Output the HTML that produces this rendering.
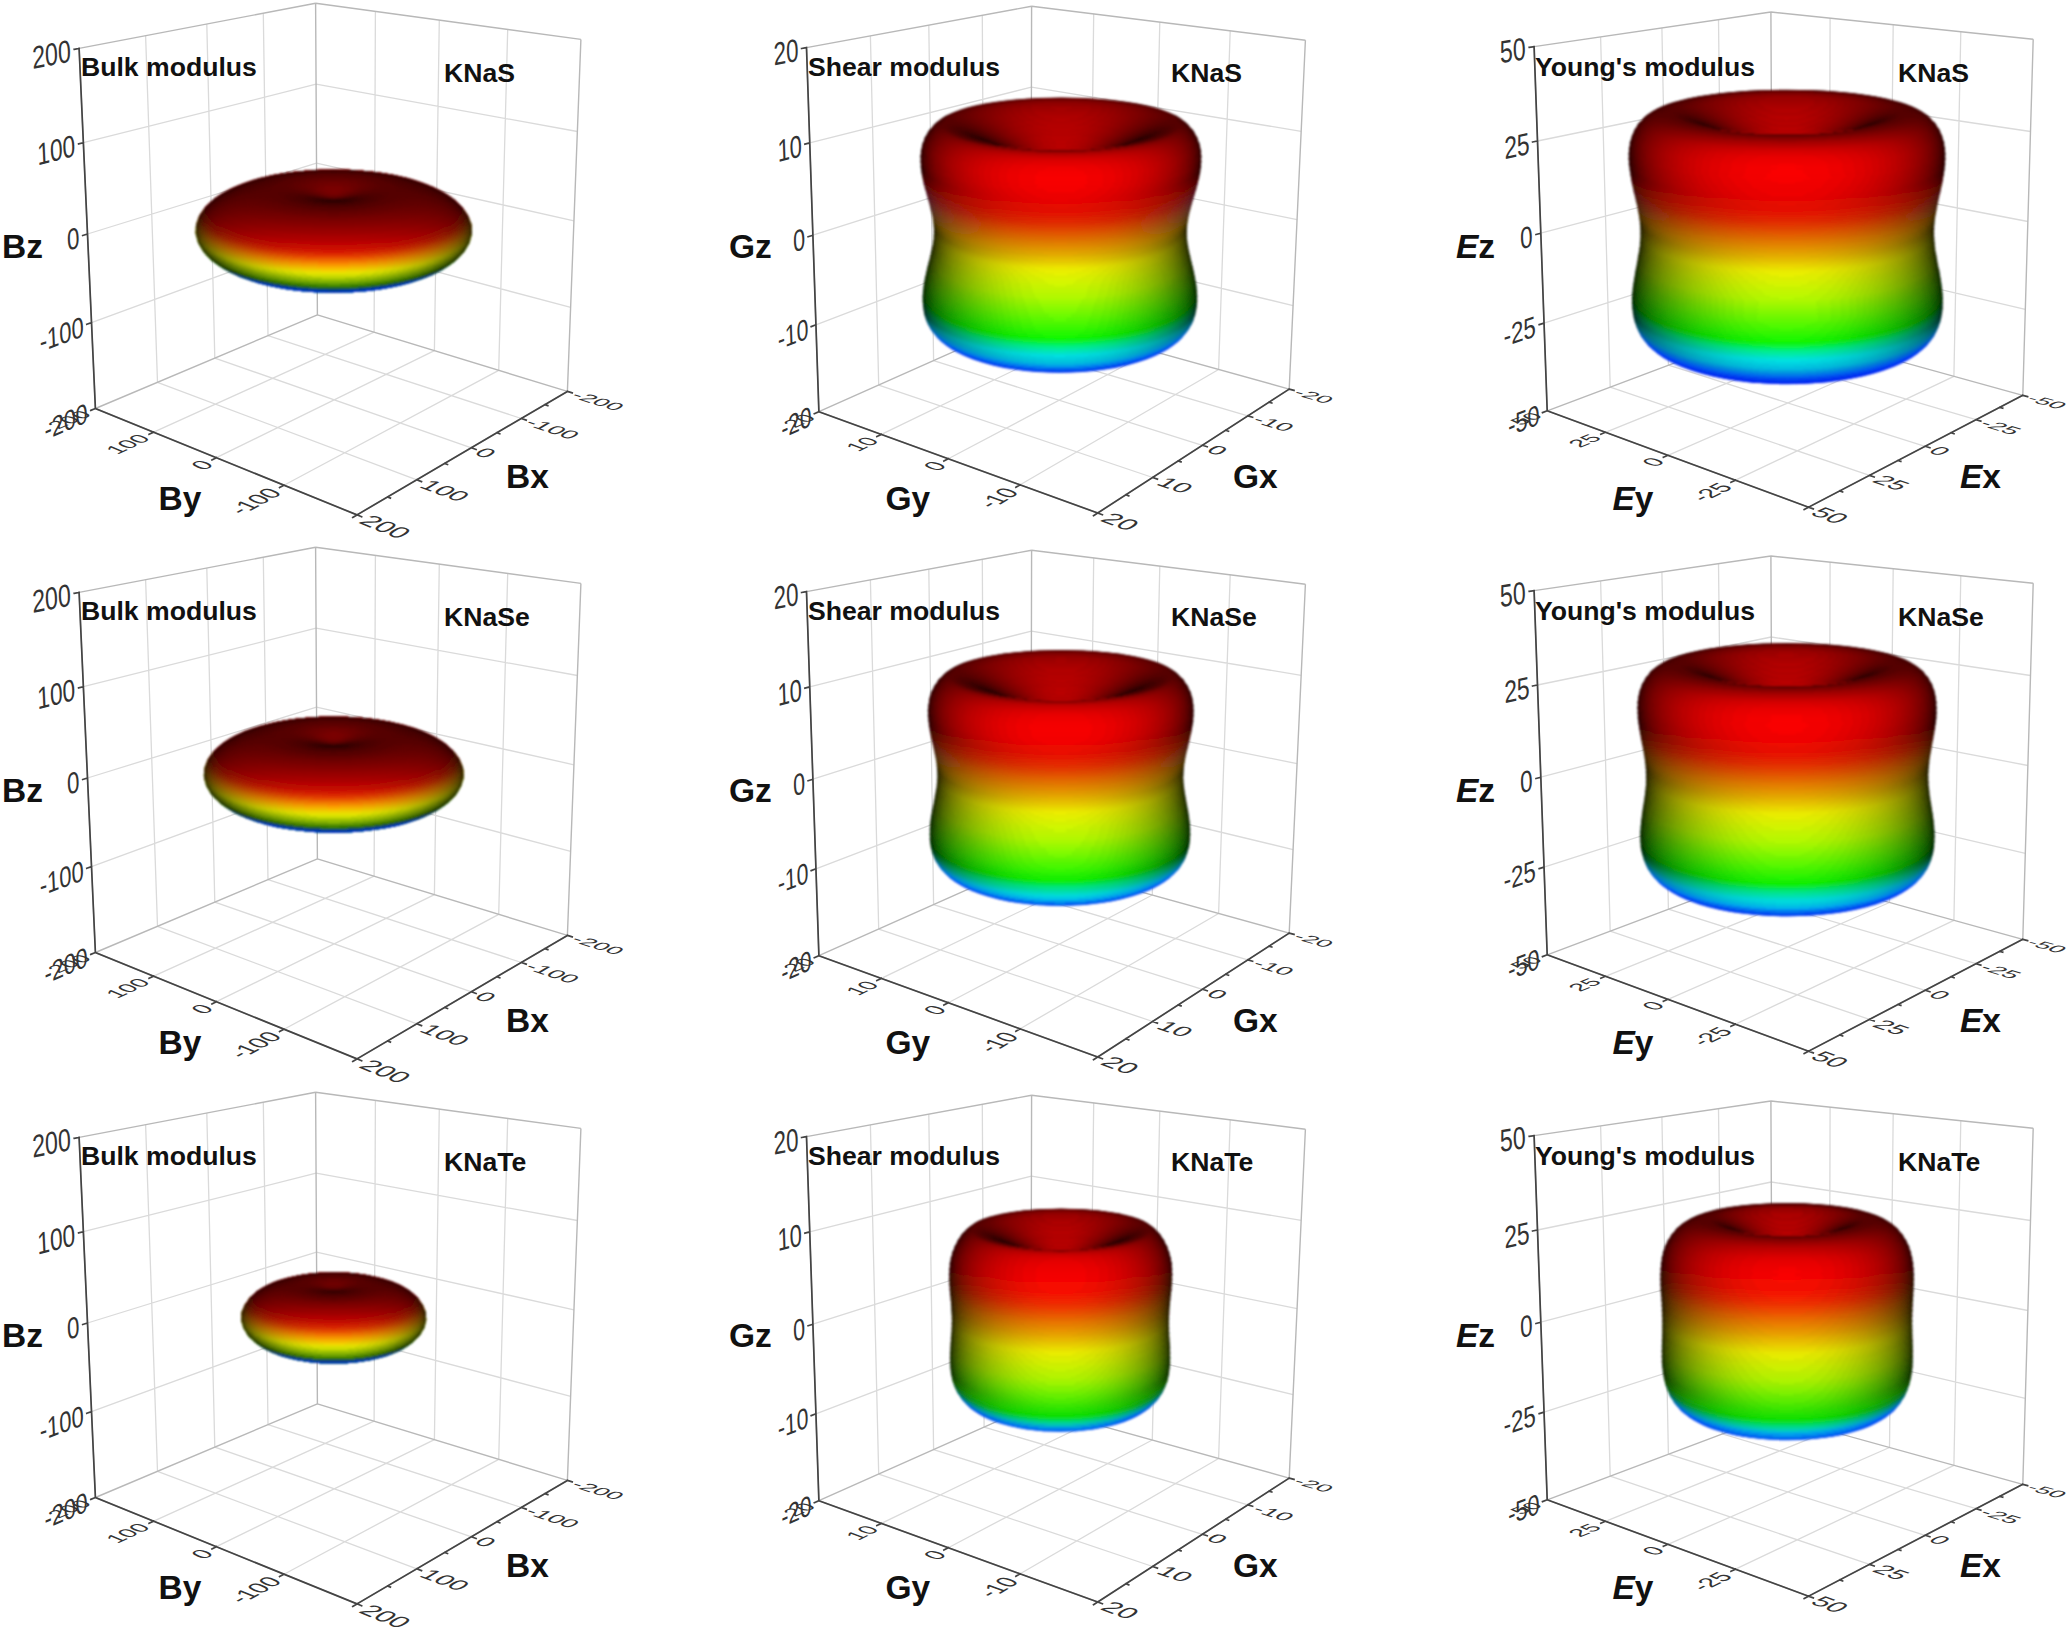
<!DOCTYPE html><html><head><meta charset="utf-8"><title>Elastic moduli</title><style>html,body{margin:0;padding:0;background:#fff}svg{display:block}.r stop{stop-color:#0028ff}</style></head><body><svg width="2070" height="1636" viewBox="0 0 2070 1636" font-family='"Liberation Sans",sans-serif' fill="#111"><defs><filter id="bl" x="-5%" y="-5%" width="110%" height="110%"><feGaussianBlur stdDeviation="1"/></filter><linearGradient id="s-13" x2="0" y2="1"><stop offset="0" stop-opacity="0.95"/><stop offset="1" stop-opacity="0.95"/></linearGradient><linearGradient id="s-12" x2="0" y2="1"><stop offset="0" stop-opacity="0.95"/><stop offset="1" stop-opacity="0.95"/></linearGradient><linearGradient id="s-11" x2="0" y2="1"><stop offset="0" stop-opacity="0.95"/><stop offset="1" stop-opacity="0.95"/></linearGradient><linearGradient id="s-10" x2="0" y2="1"><stop offset="0" stop-opacity="0.95"/><stop offset="1" stop-opacity="0.95"/></linearGradient><linearGradient id="s-9" x2="0" y2="1"><stop offset="0" stop-opacity="0.95"/><stop offset="1" stop-opacity="0.95"/></linearGradient><linearGradient id="s-8" x2="0" y2="1"><stop offset="0" stop-opacity="0.95"/><stop offset="0.97" stop-opacity="0.95"/><stop offset="1" stop-opacity="0.933"/></linearGradient><linearGradient id="s-7" x2="0" y2="1"><stop offset="0" stop-opacity="0.95"/><stop offset="0.932" stop-opacity="0.95"/><stop offset="1" stop-opacity="0.909"/></linearGradient><linearGradient id="s-6" x2="0" y2="1"><stop offset="0" stop-opacity="0.95"/><stop offset="0.898" stop-opacity="0.95"/><stop offset="1" stop-opacity="0.884"/></linearGradient><linearGradient id="s-5" x2="0" y2="1"><stop offset="0" stop-opacity="0.95"/><stop offset="0.869" stop-opacity="0.95"/><stop offset="1" stop-opacity="0.859"/></linearGradient><linearGradient id="s-4" x2="0" y2="1"><stop offset="0" stop-opacity="0.95"/><stop offset="0.843" stop-opacity="0.95"/><stop offset="1" stop-opacity="0.834"/></linearGradient><linearGradient id="s-3" x2="0" y2="1"><stop offset="0" stop-opacity="0.95"/><stop offset="0.82" stop-opacity="0.95"/><stop offset="1" stop-opacity="0.81"/></linearGradient><linearGradient id="s-2" x2="0" y2="1"><stop offset="0" stop-opacity="0.95"/><stop offset="0.8" stop-opacity="0.95"/><stop offset="1" stop-opacity="0.785"/></linearGradient><linearGradient id="s-1" x2="0" y2="1"><stop offset="0" stop-opacity="0.95"/><stop offset="0.782" stop-opacity="0.95"/><stop offset="1" stop-opacity="0.761"/></linearGradient><linearGradient id="s0" x2="0" y2="1"><stop offset="0" stop-opacity="0.95"/><stop offset="0.765" stop-opacity="0.95"/><stop offset="1" stop-opacity="0.736"/></linearGradient><linearGradient id="s1" x2="0" y2="1"><stop offset="0" stop-opacity="0.95"/><stop offset="0.749" stop-opacity="0.95"/><stop offset="1" stop-opacity="0.712"/></linearGradient><linearGradient id="s2" x2="0" y2="1"><stop offset="0" stop-opacity="0.95"/><stop offset="0.735" stop-opacity="0.95"/><stop offset="1" stop-opacity="0.688"/></linearGradient><linearGradient id="s3" x2="0" y2="1"><stop offset="0" stop-opacity="0.95"/><stop offset="0.722" stop-opacity="0.95"/><stop offset="1" stop-opacity="0.664"/></linearGradient><linearGradient id="s4" x2="0" y2="1"><stop offset="0" stop-opacity="0.95"/><stop offset="0.71" stop-opacity="0.95"/><stop offset="1" stop-opacity="0.641"/></linearGradient><linearGradient id="s5" x2="0" y2="1"><stop offset="0" stop-opacity="0.95"/><stop offset="0.699" stop-opacity="0.95"/><stop offset="1" stop-opacity="0.617"/></linearGradient><linearGradient id="s6" x2="0" y2="1"><stop offset="0" stop-opacity="0.95"/><stop offset="0.689" stop-opacity="0.95"/><stop offset="1" stop-opacity="0.594"/></linearGradient><linearGradient id="s7" x2="0" y2="1"><stop offset="0" stop-opacity="0.95"/><stop offset="0.679" stop-opacity="0.95"/><stop offset="1" stop-opacity="0.571"/></linearGradient><linearGradient id="s8" x2="0" y2="1"><stop offset="0" stop-opacity="0.95"/><stop offset="0.67" stop-opacity="0.95"/><stop offset="1" stop-opacity="0.549"/></linearGradient><linearGradient id="s9" x2="0" y2="1"><stop offset="0" stop-opacity="0.95"/><stop offset="0.661" stop-opacity="0.95"/><stop offset="1" stop-opacity="0.526"/></linearGradient><linearGradient id="s10" x2="0" y2="1"><stop offset="0" stop-opacity="0.95"/><stop offset="0.653" stop-opacity="0.95"/><stop offset="1" stop-opacity="0.504"/></linearGradient><linearGradient id="s12" x2="0" y2="1"><stop offset="0" stop-opacity="0.95"/><stop offset="0.638" stop-opacity="0.95"/><stop offset="1" stop-opacity="0.461"/></linearGradient><linearGradient id="s13" x2="0" y2="1"><stop offset="0" stop-opacity="0.95"/><stop offset="0.631" stop-opacity="0.95"/><stop offset="1" stop-opacity="0.44"/></linearGradient><linearGradient id="s14" x2="0" y2="1"><stop offset="0" stop-opacity="0.95"/><stop offset="0.624" stop-opacity="0.95"/><stop offset="1" stop-opacity="0.419"/></linearGradient><linearGradient id="s15" x2="0" y2="1"><stop offset="0" stop-opacity="0.95"/><stop offset="0.617" stop-opacity="0.95"/><stop offset="1" stop-opacity="0.398"/></linearGradient><linearGradient id="s16" x2="0" y2="1"><stop offset="0" stop-opacity="0.95"/><stop offset="0.611" stop-opacity="0.95"/><stop offset="1" stop-opacity="0.378"/></linearGradient><linearGradient id="s17" x2="0" y2="1"><stop offset="0" stop-opacity="0.95"/><stop offset="0.605" stop-opacity="0.95"/><stop offset="1" stop-opacity="0.359"/></linearGradient><linearGradient id="s18" x2="0" y2="1"><stop offset="0" stop-opacity="0.95"/><stop offset="0.599" stop-opacity="0.95"/><stop offset="1" stop-opacity="0.339"/></linearGradient><linearGradient id="s19" x2="0" y2="1"><stop offset="0" stop-opacity="0.95"/><stop offset="0.594" stop-opacity="0.95"/><stop offset="1" stop-opacity="0.321"/></linearGradient><linearGradient id="s20" x2="0" y2="1"><stop offset="0" stop-opacity="0.95"/><stop offset="0.588" stop-opacity="0.95"/><stop offset="1" stop-opacity="0.302"/></linearGradient><linearGradient id="s21" x2="0" y2="1"><stop offset="0" stop-opacity="0.95"/><stop offset="0.583" stop-opacity="0.95"/><stop offset="1" stop-opacity="0.284"/></linearGradient><linearGradient id="s22" x2="0" y2="1"><stop offset="0" stop-opacity="0.95"/><stop offset="0.578" stop-opacity="0.95"/><stop offset="1" stop-opacity="0.267"/></linearGradient><linearGradient id="s23" x2="0" y2="1"><stop offset="0" stop-opacity="0.95"/><stop offset="0.573" stop-opacity="0.95"/><stop offset="1" stop-opacity="0.25"/></linearGradient><linearGradient id="s24" x2="0" y2="1"><stop offset="0" stop-opacity="0.95"/><stop offset="0.568" stop-opacity="0.95"/><stop offset="1" stop-opacity="0.233"/></linearGradient><linearGradient id="s25" x2="0" y2="1"><stop offset="0" stop-opacity="0.95"/><stop offset="0.563" stop-opacity="0.95"/><stop offset="1" stop-opacity="0.217"/></linearGradient><linearGradient id="s26" x2="0" y2="1"><stop offset="0" stop-opacity="0.95"/><stop offset="0.559" stop-opacity="0.95"/><stop offset="1" stop-opacity="0.201"/></linearGradient><linearGradient id="s27" x2="0" y2="1"><stop offset="0" stop-opacity="0.95"/><stop offset="0.554" stop-opacity="0.95"/><stop offset="1" stop-opacity="0.186"/></linearGradient><linearGradient id="s28" x2="0" y2="1"><stop offset="0" stop-opacity="0.95"/><stop offset="0.55" stop-opacity="0.95"/><stop offset="1" stop-opacity="0.172"/></linearGradient><linearGradient id="s29" x2="0" y2="1"><stop offset="0" stop-opacity="0.95"/><stop offset="0.545" stop-opacity="0.95"/><stop offset="1" stop-opacity="0.158"/></linearGradient><linearGradient id="s30" x2="0" y2="1"><stop offset="0" stop-opacity="0.95"/><stop offset="0.541" stop-opacity="0.95"/><stop offset="1" stop-opacity="0.144"/></linearGradient><linearGradient id="s31" x2="0" y2="1"><stop offset="0" stop-opacity="0.95"/><stop offset="0.537" stop-opacity="0.95"/><stop offset="1" stop-opacity="0.131"/></linearGradient><linearGradient id="s32" x2="0" y2="1"><stop offset="0" stop-opacity="0.95"/><stop offset="0.532" stop-opacity="0.95"/><stop offset="1" stop-opacity="0.119"/></linearGradient><linearGradient id="s33" x2="0" y2="1"><stop offset="0" stop-opacity="0.95"/><stop offset="0.528" stop-opacity="0.95"/><stop offset="1" stop-opacity="0.107"/></linearGradient><linearGradient id="s34" x2="0" y2="1"><stop offset="0" stop-opacity="0.95"/><stop offset="0.524" stop-opacity="0.95"/><stop offset="1" stop-opacity="0.096"/></linearGradient><linearGradient id="s35" x2="0" y2="1"><stop offset="0" stop-opacity="0.95"/><stop offset="0.52" stop-opacity="0.95"/><stop offset="1" stop-opacity="0.086"/></linearGradient><linearGradient id="s36" x2="0" y2="1"><stop offset="0" stop-opacity="0.95"/><stop offset="0.516" stop-opacity="0.95"/><stop offset="1" stop-opacity="0.076"/></linearGradient><linearGradient id="s37" x2="0" y2="1"><stop offset="0" stop-opacity="0.95"/><stop offset="0.512" stop-opacity="0.95"/><stop offset="1" stop-opacity="0.066"/></linearGradient><linearGradient id="s38" x2="0" y2="1"><stop offset="0" stop-opacity="0.95"/><stop offset="0.508" stop-opacity="0.95"/><stop offset="1" stop-opacity="0.057"/></linearGradient><linearGradient id="s39" x2="0" y2="1"><stop offset="0" stop-opacity="0.95"/><stop offset="0.504" stop-opacity="0.95"/><stop offset="1" stop-opacity="0.049"/></linearGradient><linearGradient id="s40" x2="0" y2="1"><stop offset="0" stop-opacity="0.95"/><stop offset="0.5" stop-opacity="0.95"/><stop offset="1" stop-opacity="0.042"/></linearGradient><linearGradient id="s41" x2="0" y2="1"><stop offset="0" stop-opacity="0.95"/><stop offset="0.496" stop-opacity="0.95"/><stop offset="1" stop-opacity="0.035"/></linearGradient><linearGradient id="s42" x2="0" y2="1"><stop offset="0" stop-opacity="0.95"/><stop offset="0.492" stop-opacity="0.95"/><stop offset="1" stop-opacity="0.028"/></linearGradient><linearGradient id="s43" x2="0" y2="1"><stop offset="0" stop-opacity="0.95"/><stop offset="0.488" stop-opacity="0.95"/><stop offset="1" stop-opacity="0.023"/></linearGradient><linearGradient id="s44" x2="0" y2="1"><stop offset="0" stop-opacity="0.95"/><stop offset="0.484" stop-opacity="0.95"/><stop offset="1" stop-opacity="0.017"/></linearGradient><linearGradient id="s45" x2="0" y2="1"><stop offset="0" stop-opacity="0.95"/><stop offset="0.48" stop-opacity="0.95"/><stop offset="1" stop-opacity="0.013"/></linearGradient><linearGradient id="s46" x2="0" y2="1"><stop offset="0" stop-opacity="0.95"/><stop offset="0.476" stop-opacity="0.95"/><stop offset="1" stop-opacity="0.009"/></linearGradient><linearGradient id="s47" x2="0" y2="1"><stop offset="0" stop-opacity="0.95"/><stop offset="0.472" stop-opacity="0.95"/><stop offset="1" stop-opacity="0.006"/></linearGradient><linearGradient id="s48" x2="0" y2="1"><stop offset="0" stop-opacity="0.95"/><stop offset="0.468" stop-opacity="0.95"/><stop offset="1" stop-opacity="0.004"/></linearGradient><linearGradient id="s49" x2="0" y2="1"><stop offset="0" stop-opacity="0.95"/><stop offset="0.463" stop-opacity="0.95"/><stop offset="1" stop-opacity="0.002"/></linearGradient><linearGradient id="s50" x2="0" y2="1"><stop offset="0" stop-opacity="0.95"/><stop offset="0.459" stop-opacity="0.95"/><stop offset="1" stop-opacity="0.001"/></linearGradient><linearGradient id="s51" x2="0" y2="1"><stop offset="0" stop-opacity="0.95"/><stop offset="0.455" stop-opacity="0.95"/><stop offset="1" stop-opacity="0"/></linearGradient><linearGradient id="s52" x2="0" y2="1"><stop offset="0" stop-opacity="0.95"/><stop offset="0.45" stop-opacity="0.95"/><stop offset="1" stop-opacity="0"/></linearGradient><linearGradient id="s53" x2="0" y2="1"><stop offset="0" stop-opacity="0.95"/><stop offset="0.446" stop-opacity="0.95"/><stop offset="1" stop-opacity="0.001"/></linearGradient><linearGradient id="s54" x2="0" y2="1"><stop offset="0" stop-opacity="0.95"/><stop offset="0.441" stop-opacity="0.95"/><stop offset="1" stop-opacity="0.002"/></linearGradient><linearGradient id="s55" x2="0" y2="1"><stop offset="0" stop-opacity="0.95"/><stop offset="0.437" stop-opacity="0.95"/><stop offset="1" stop-opacity="0.004"/></linearGradient><linearGradient id="s56" x2="0" y2="1"><stop offset="0" stop-opacity="0.95"/><stop offset="0.432" stop-opacity="0.95"/><stop offset="1" stop-opacity="0.007"/></linearGradient><linearGradient id="s57" x2="0" y2="1"><stop offset="0" stop-opacity="0.95"/><stop offset="0.427" stop-opacity="0.95"/><stop offset="1" stop-opacity="0.01"/></linearGradient><linearGradient id="s58" x2="0" y2="1"><stop offset="0" stop-opacity="0.95"/><stop offset="0.422" stop-opacity="0.95"/><stop offset="1" stop-opacity="0.014"/></linearGradient><linearGradient id="s59" x2="0" y2="1"><stop offset="0" stop-opacity="0.95"/><stop offset="0.417" stop-opacity="0.95"/><stop offset="1" stop-opacity="0.019"/></linearGradient><linearGradient id="s60" x2="0" y2="1"><stop offset="0" stop-opacity="0.95"/><stop offset="0.412" stop-opacity="0.95"/><stop offset="1" stop-opacity="0.024"/></linearGradient><linearGradient id="s61" x2="0" y2="1"><stop offset="0" stop-opacity="0.95"/><stop offset="0.406" stop-opacity="0.95"/><stop offset="1" stop-opacity="0.03"/></linearGradient><linearGradient id="s62" x2="0" y2="1"><stop offset="0" stop-opacity="0.95"/><stop offset="0.401" stop-opacity="0.95"/><stop offset="1" stop-opacity="0.037"/></linearGradient><linearGradient id="s63" x2="0" y2="1"><stop offset="0" stop-opacity="0.95"/><stop offset="0.395" stop-opacity="0.95"/><stop offset="1" stop-opacity="0.044"/></linearGradient><linearGradient id="s64" x2="0" y2="1"><stop offset="0" stop-opacity="0.95"/><stop offset="0.389" stop-opacity="0.95"/><stop offset="1" stop-opacity="0.052"/></linearGradient><linearGradient id="s65" x2="0" y2="1"><stop offset="0" stop-opacity="0.95"/><stop offset="0.383" stop-opacity="0.95"/><stop offset="1" stop-opacity="0.06"/></linearGradient><linearGradient id="s66" x2="0" y2="1"><stop offset="0" stop-opacity="0.95"/><stop offset="0.376" stop-opacity="0.95"/><stop offset="1" stop-opacity="0.069"/></linearGradient><linearGradient id="s67" x2="0" y2="1"><stop offset="0" stop-opacity="0.95"/><stop offset="0.369" stop-opacity="0.95"/><stop offset="1" stop-opacity="0.079"/></linearGradient><linearGradient id="s68" x2="0" y2="1"><stop offset="0" stop-opacity="0.95"/><stop offset="0.362" stop-opacity="0.95"/><stop offset="1" stop-opacity="0.089"/></linearGradient><linearGradient id="s69" x2="0" y2="1"><stop offset="0" stop-opacity="0.95"/><stop offset="0.355" stop-opacity="0.95"/><stop offset="1" stop-opacity="0.1"/></linearGradient><linearGradient id="s70" x2="0" y2="1"><stop offset="0" stop-opacity="0.95"/><stop offset="0.347" stop-opacity="0.95"/><stop offset="1" stop-opacity="0.111"/></linearGradient><linearGradient id="s71" x2="0" y2="1"><stop offset="0" stop-opacity="0.95"/><stop offset="0.339" stop-opacity="0.95"/><stop offset="1" stop-opacity="0.123"/></linearGradient><linearGradient id="s72" x2="0" y2="1"><stop offset="0" stop-opacity="0.95"/><stop offset="0.33" stop-opacity="0.95"/><stop offset="1" stop-opacity="0.136"/></linearGradient><linearGradient id="s73" x2="0" y2="1"><stop offset="0" stop-opacity="0.95"/><stop offset="0.321" stop-opacity="0.95"/><stop offset="1" stop-opacity="0.149"/></linearGradient><linearGradient id="s74" x2="0" y2="1"><stop offset="0" stop-opacity="0.95"/><stop offset="0.311" stop-opacity="0.95"/><stop offset="1" stop-opacity="0.162"/></linearGradient><linearGradient id="s75" x2="0" y2="1"><stop offset="0" stop-opacity="0.95"/><stop offset="0.301" stop-opacity="0.95"/><stop offset="1" stop-opacity="0.177"/></linearGradient><linearGradient id="s76" x2="0" y2="1"><stop offset="0" stop-opacity="0.95"/><stop offset="0.29" stop-opacity="0.95"/><stop offset="1" stop-opacity="0.191"/></linearGradient><linearGradient id="s78" x2="0" y2="1"><stop offset="0" stop-opacity="0.95"/><stop offset="0.265" stop-opacity="0.95"/><stop offset="1" stop-opacity="0.222"/></linearGradient><linearGradient id="s79" x2="0" y2="1"><stop offset="0" stop-opacity="0.95"/><stop offset="0.251" stop-opacity="0.95"/><stop offset="1" stop-opacity="0.238"/></linearGradient><linearGradient id="s80" x2="0" y2="1"><stop offset="0" stop-opacity="0.95"/><stop offset="0.235" stop-opacity="0.95"/><stop offset="1" stop-opacity="0.255"/></linearGradient><linearGradient id="s81" x2="0" y2="1"><stop offset="0" stop-opacity="0.95"/><stop offset="0.218" stop-opacity="0.95"/><stop offset="1" stop-opacity="0.272"/></linearGradient><linearGradient id="s82" x2="0" y2="1"><stop offset="0" stop-opacity="0.95"/><stop offset="0.2" stop-opacity="0.95"/><stop offset="1" stop-opacity="0.29"/></linearGradient><linearGradient id="s83" x2="0" y2="1"><stop offset="0" stop-opacity="0.95"/><stop offset="0.18" stop-opacity="0.95"/><stop offset="1" stop-opacity="0.308"/></linearGradient><linearGradient id="s84" x2="0" y2="1"><stop offset="0" stop-opacity="0.95"/><stop offset="0.157" stop-opacity="0.95"/><stop offset="1" stop-opacity="0.327"/></linearGradient><linearGradient id="s85" x2="0" y2="1"><stop offset="0" stop-opacity="0.95"/><stop offset="0.131" stop-opacity="0.95"/><stop offset="1" stop-opacity="0.346"/></linearGradient><linearGradient id="s86" x2="0" y2="1"><stop offset="0" stop-opacity="0.95"/><stop offset="0.102" stop-opacity="0.95"/><stop offset="1" stop-opacity="0.365"/></linearGradient><linearGradient id="s87" x2="0" y2="1"><stop offset="0" stop-opacity="0.95"/><stop offset="0.068" stop-opacity="0.95"/><stop offset="1" stop-opacity="0.385"/></linearGradient><linearGradient id="s88" x2="0" y2="1"><stop offset="0" stop-opacity="0.95"/><stop offset="0.03" stop-opacity="0.95"/><stop offset="1" stop-opacity="0.405"/></linearGradient><linearGradient id="s89" x2="0" y2="1"><stop offset="0" stop-opacity="0.942"/><stop offset="1" stop-opacity="0.426"/></linearGradient><linearGradient id="s90" x2="0" y2="1"><stop offset="0" stop-opacity="0.917"/><stop offset="1" stop-opacity="0.447"/></linearGradient><linearGradient id="s91" x2="0" y2="1"><stop offset="0" stop-opacity="0.892"/><stop offset="1" stop-opacity="0.468"/></linearGradient><linearGradient id="s92" x2="0" y2="1"><stop offset="0" stop-opacity="0.867"/><stop offset="1" stop-opacity="0.489"/></linearGradient><linearGradient id="s93" x2="0" y2="1"><stop offset="0" stop-opacity="0.842"/><stop offset="1" stop-opacity="0.511"/></linearGradient><linearGradient id="s94" x2="0" y2="1"><stop offset="0" stop-opacity="0.818"/><stop offset="1" stop-opacity="0.534"/></linearGradient><linearGradient id="s95" x2="0" y2="1"><stop offset="0" stop-opacity="0.793"/><stop offset="1" stop-opacity="0.556"/></linearGradient><linearGradient id="s96" x2="0" y2="1"><stop offset="0" stop-opacity="0.769"/><stop offset="1" stop-opacity="0.579"/></linearGradient><linearGradient id="s97" x2="0" y2="1"><stop offset="0" stop-opacity="0.744"/><stop offset="1" stop-opacity="0.602"/></linearGradient><linearGradient id="s98" x2="0" y2="1"><stop offset="0" stop-opacity="0.72"/><stop offset="1" stop-opacity="0.625"/></linearGradient><linearGradient id="s99" x2="0" y2="1"><stop offset="0" stop-opacity="0.696"/><stop offset="1" stop-opacity="0.649"/></linearGradient><linearGradient id="s100" x2="0" y2="1"><stop offset="0" stop-opacity="0.672"/><stop offset="1" stop-opacity="0.672"/></linearGradient><linearGradient id="s101" x2="0" y2="1"><stop offset="0" stop-opacity="0.649"/><stop offset="1" stop-opacity="0.696"/></linearGradient><linearGradient id="s102" x2="0" y2="1"><stop offset="0" stop-opacity="0.625"/><stop offset="1" stop-opacity="0.72"/></linearGradient><linearGradient id="s103" x2="0" y2="1"><stop offset="0" stop-opacity="0.602"/><stop offset="1" stop-opacity="0.744"/></linearGradient><linearGradient id="s104" x2="0" y2="1"><stop offset="0" stop-opacity="0.579"/><stop offset="1" stop-opacity="0.769"/></linearGradient><linearGradient id="s105" x2="0" y2="1"><stop offset="0" stop-opacity="0.556"/><stop offset="1" stop-opacity="0.793"/></linearGradient><linearGradient id="s106" x2="0" y2="1"><stop offset="0" stop-opacity="0.534"/><stop offset="1" stop-opacity="0.818"/></linearGradient><linearGradient id="s107" x2="0" y2="1"><stop offset="0" stop-opacity="0.511"/><stop offset="1" stop-opacity="0.842"/></linearGradient><linearGradient id="s108" x2="0" y2="1"><stop offset="0" stop-opacity="0.489"/><stop offset="1" stop-opacity="0.867"/></linearGradient><linearGradient id="s109" x2="0" y2="1"><stop offset="0" stop-opacity="0.468"/><stop offset="1" stop-opacity="0.892"/></linearGradient><linearGradient id="s110" x2="0" y2="1"><stop offset="0" stop-opacity="0.447"/><stop offset="1" stop-opacity="0.917"/></linearGradient><linearGradient id="s111" x2="0" y2="1"><stop offset="0" stop-opacity="0.426"/><stop offset="1" stop-opacity="0.942"/></linearGradient><linearGradient id="s112" x2="0" y2="1"><stop offset="0" stop-opacity="0.405"/><stop offset="0.97" stop-opacity="0.95"/><stop offset="1" stop-opacity="0.95"/></linearGradient><linearGradient id="s113" x2="0" y2="1"><stop offset="0" stop-opacity="0.385"/><stop offset="0.932" stop-opacity="0.95"/><stop offset="1" stop-opacity="0.95"/></linearGradient><linearGradient id="s114" x2="0" y2="1"><stop offset="0" stop-opacity="0.365"/><stop offset="0.898" stop-opacity="0.95"/><stop offset="1" stop-opacity="0.95"/></linearGradient><linearGradient id="s115" x2="0" y2="1"><stop offset="0" stop-opacity="0.346"/><stop offset="0.869" stop-opacity="0.95"/><stop offset="1" stop-opacity="0.95"/></linearGradient><linearGradient id="s116" x2="0" y2="1"><stop offset="0" stop-opacity="0.327"/><stop offset="0.843" stop-opacity="0.95"/><stop offset="1" stop-opacity="0.95"/></linearGradient><linearGradient id="s117" x2="0" y2="1"><stop offset="0" stop-opacity="0.308"/><stop offset="0.82" stop-opacity="0.95"/><stop offset="1" stop-opacity="0.95"/></linearGradient><linearGradient id="s118" x2="0" y2="1"><stop offset="0" stop-opacity="0.29"/><stop offset="0.8" stop-opacity="0.95"/><stop offset="1" stop-opacity="0.95"/></linearGradient><linearGradient id="s119" x2="0" y2="1"><stop offset="0" stop-opacity="0.272"/><stop offset="0.782" stop-opacity="0.95"/><stop offset="1" stop-opacity="0.95"/></linearGradient><linearGradient id="s120" x2="0" y2="1"><stop offset="0" stop-opacity="0.255"/><stop offset="0.765" stop-opacity="0.95"/><stop offset="1" stop-opacity="0.95"/></linearGradient><linearGradient id="s202" x2="0" y2="1"><stop offset="0" stop-opacity="0.785"/><stop offset="0.2" stop-opacity="0.95"/><stop offset="1" stop-opacity="0.95"/></linearGradient><linearGradient id="s203" x2="0" y2="1"><stop offset="0" stop-opacity="0.81"/><stop offset="0.18" stop-opacity="0.95"/><stop offset="1" stop-opacity="0.95"/></linearGradient><linearGradient id="s204" x2="0" y2="1"><stop offset="0" stop-opacity="0.834"/><stop offset="0.157" stop-opacity="0.95"/><stop offset="1" stop-opacity="0.95"/></linearGradient><linearGradient id="s205" x2="0" y2="1"><stop offset="0" stop-opacity="0.859"/><stop offset="0.131" stop-opacity="0.95"/><stop offset="1" stop-opacity="0.95"/></linearGradient><linearGradient id="s206" x2="0" y2="1"><stop offset="0" stop-opacity="0.884"/><stop offset="0.102" stop-opacity="0.95"/><stop offset="1" stop-opacity="0.95"/></linearGradient><linearGradient id="s207" x2="0" y2="1"><stop offset="0" stop-opacity="0.909"/><stop offset="0.068" stop-opacity="0.95"/><stop offset="1" stop-opacity="0.95"/></linearGradient><linearGradient id="s208" x2="0" y2="1"><stop offset="0" stop-opacity="0.933"/><stop offset="0.03" stop-opacity="0.95"/><stop offset="1" stop-opacity="0.95"/></linearGradient><linearGradient id="s209" x2="0" y2="1"><stop offset="0" stop-opacity="0.95"/><stop offset="1" stop-opacity="0.95"/></linearGradient><linearGradient id="s210" x2="0" y2="1"><stop offset="0" stop-opacity="0.95"/><stop offset="1" stop-opacity="0.95"/></linearGradient><linearGradient id="s211" x2="0" y2="1"><stop offset="0" stop-opacity="0.95"/><stop offset="1" stop-opacity="0.95"/></linearGradient><linearGradient id="s212" x2="0" y2="1"><stop offset="0" stop-opacity="0.95"/><stop offset="1" stop-opacity="0.95"/></linearGradient><linearGradient id="s213" x2="0" y2="1"><stop offset="0" stop-opacity="0.95"/><stop offset="1" stop-opacity="0.95"/></linearGradient><linearGradient id="r-13" class="r" x2="0" y2="1"><stop offset="0" stop-opacity="1"/><stop offset="1" stop-opacity="1"/></linearGradient><linearGradient id="r-12" class="r" x2="0" y2="1"><stop offset="0" stop-opacity="1"/><stop offset="1" stop-opacity="1"/></linearGradient><linearGradient id="r-11" class="r" x2="0" y2="1"><stop offset="0" stop-opacity="1"/><stop offset="1" stop-opacity="1"/></linearGradient><linearGradient id="r-10" class="r" x2="0" y2="1"><stop offset="0" stop-opacity="1"/><stop offset="1" stop-opacity="1"/></linearGradient><linearGradient id="r-9" class="r" x2="0" y2="1"><stop offset="0" stop-opacity="1"/><stop offset="1" stop-opacity="1"/></linearGradient><linearGradient id="r-8" class="r" x2="0" y2="1"><stop offset="0" stop-opacity="1"/><stop offset="0.97" stop-opacity="1"/><stop offset="1" stop-opacity="0.977"/></linearGradient><linearGradient id="r-7" class="r" x2="0" y2="1"><stop offset="0" stop-opacity="1"/><stop offset="0.932" stop-opacity="1"/><stop offset="1" stop-opacity="0.942"/></linearGradient><linearGradient id="r-6" class="r" x2="0" y2="1"><stop offset="0" stop-opacity="1"/><stop offset="0.898" stop-opacity="1"/><stop offset="1" stop-opacity="0.907"/></linearGradient><linearGradient id="r-5" class="r" x2="0" y2="1"><stop offset="0" stop-opacity="1"/><stop offset="0.869" stop-opacity="1"/><stop offset="1" stop-opacity="0.872"/></linearGradient><linearGradient id="r-4" class="r" x2="0" y2="1"><stop offset="0" stop-opacity="1"/><stop offset="0.843" stop-opacity="1"/><stop offset="1" stop-opacity="0.838"/></linearGradient><linearGradient id="r-3" class="r" x2="0" y2="1"><stop offset="0" stop-opacity="1"/><stop offset="0.82" stop-opacity="1"/><stop offset="1" stop-opacity="0.803"/></linearGradient><linearGradient id="r-2" class="r" x2="0" y2="1"><stop offset="0" stop-opacity="1"/><stop offset="0.8" stop-opacity="1"/><stop offset="1" stop-opacity="0.768"/></linearGradient><linearGradient id="r-1" class="r" x2="0" y2="1"><stop offset="0" stop-opacity="1"/><stop offset="0.782" stop-opacity="1"/><stop offset="1" stop-opacity="0.734"/></linearGradient><linearGradient id="r0" class="r" x2="0" y2="1"><stop offset="0" stop-opacity="1"/><stop offset="0.765" stop-opacity="1"/><stop offset="1" stop-opacity="0.7"/></linearGradient><linearGradient id="r1" class="r" x2="0" y2="1"><stop offset="0" stop-opacity="1"/><stop offset="0.749" stop-opacity="1"/><stop offset="1" stop-opacity="0.666"/></linearGradient><linearGradient id="r2" class="r" x2="0" y2="1"><stop offset="0" stop-opacity="1"/><stop offset="0.735" stop-opacity="1"/><stop offset="1" stop-opacity="0.632"/></linearGradient><linearGradient id="r3" class="r" x2="0" y2="1"><stop offset="0" stop-opacity="1"/><stop offset="0.722" stop-opacity="1"/><stop offset="1" stop-opacity="0.599"/></linearGradient><linearGradient id="r4" class="r" x2="0" y2="1"><stop offset="0" stop-opacity="1"/><stop offset="0.71" stop-opacity="1"/><stop offset="1" stop-opacity="0.566"/></linearGradient><linearGradient id="r5" class="r" x2="0" y2="1"><stop offset="0" stop-opacity="1"/><stop offset="0.699" stop-opacity="1"/><stop offset="1" stop-opacity="0.533"/></linearGradient><linearGradient id="r6" class="r" x2="0" y2="1"><stop offset="0" stop-opacity="1"/><stop offset="0.689" stop-opacity="1"/><stop offset="1" stop-opacity="0.501"/></linearGradient><linearGradient id="r7" class="r" x2="0" y2="1"><stop offset="0" stop-opacity="1"/><stop offset="0.679" stop-opacity="1"/><stop offset="1" stop-opacity="0.468"/></linearGradient><linearGradient id="r8" class="r" x2="0" y2="1"><stop offset="0" stop-opacity="1"/><stop offset="0.67" stop-opacity="1"/><stop offset="1" stop-opacity="0.437"/></linearGradient><linearGradient id="r9" class="r" x2="0" y2="1"><stop offset="0" stop-opacity="1"/><stop offset="0.661" stop-opacity="1"/><stop offset="1" stop-opacity="0.405"/></linearGradient><linearGradient id="r10" class="r" x2="0" y2="1"><stop offset="0" stop-opacity="1"/><stop offset="0.653" stop-opacity="1"/><stop offset="1" stop-opacity="0.374"/></linearGradient><linearGradient id="r12" class="r" x2="0" y2="1"><stop offset="0" stop-opacity="1"/><stop offset="0.638" stop-opacity="1"/><stop offset="1" stop-opacity="0.313"/></linearGradient><linearGradient id="r13" class="r" x2="0" y2="1"><stop offset="0" stop-opacity="1"/><stop offset="0.631" stop-opacity="1"/><stop offset="1" stop-opacity="0.284"/></linearGradient><linearGradient id="r14" class="r" x2="0" y2="1"><stop offset="0" stop-opacity="1"/><stop offset="0.624" stop-opacity="1"/><stop offset="1" stop-opacity="0.254"/></linearGradient><linearGradient id="r15" class="r" x2="0" y2="1"><stop offset="0" stop-opacity="1"/><stop offset="0.617" stop-opacity="1"/><stop offset="1" stop-opacity="0.226"/></linearGradient><linearGradient id="r16" class="r" x2="0" y2="1"><stop offset="0" stop-opacity="1"/><stop offset="0.611" stop-opacity="1"/><stop offset="1" stop-opacity="0.198"/></linearGradient><linearGradient id="r17" class="r" x2="0" y2="1"><stop offset="0" stop-opacity="1"/><stop offset="0.605" stop-opacity="1"/><stop offset="1" stop-opacity="0.17"/></linearGradient><linearGradient id="r18" class="r" x2="0" y2="1"><stop offset="0" stop-opacity="1"/><stop offset="0.599" stop-opacity="1"/><stop offset="1" stop-opacity="0.143"/></linearGradient><linearGradient id="r19" class="r" x2="0" y2="1"><stop offset="0" stop-opacity="1"/><stop offset="0.594" stop-opacity="1"/><stop offset="1" stop-opacity="0.117"/></linearGradient><linearGradient id="r20" class="r" x2="0" y2="1"><stop offset="0" stop-opacity="1"/><stop offset="0.588" stop-opacity="1"/><stop offset="1" stop-opacity="0.091"/></linearGradient><linearGradient id="r21" class="r" x2="0" y2="1"><stop offset="0" stop-opacity="1"/><stop offset="0.583" stop-opacity="1"/><stop offset="1" stop-opacity="0.065"/></linearGradient><linearGradient id="r22" class="r" x2="0" y2="1"><stop offset="0" stop-opacity="1"/><stop offset="0.578" stop-opacity="1"/><stop offset="1" stop-opacity="0.041"/></linearGradient><linearGradient id="r23" class="r" x2="0" y2="1"><stop offset="0" stop-opacity="1"/><stop offset="0.573" stop-opacity="1"/><stop offset="1" stop-opacity="0.017"/></linearGradient><linearGradient id="r24" class="r" x2="0" y2="1"><stop offset="0" stop-opacity="1"/><stop offset="0.568" stop-opacity="1"/><stop offset="0.997" stop-opacity="0"/><stop offset="1" stop-opacity="0"/></linearGradient><linearGradient id="r25" class="r" x2="0" y2="1"><stop offset="0" stop-opacity="1"/><stop offset="0.563" stop-opacity="1"/><stop offset="0.988" stop-opacity="0"/><stop offset="1" stop-opacity="0"/></linearGradient><linearGradient id="r26" class="r" x2="0" y2="1"><stop offset="0" stop-opacity="1"/><stop offset="0.559" stop-opacity="1"/><stop offset="0.979" stop-opacity="0"/><stop offset="1" stop-opacity="0"/></linearGradient><linearGradient id="r27" class="r" x2="0" y2="1"><stop offset="0" stop-opacity="1"/><stop offset="0.554" stop-opacity="1"/><stop offset="0.97" stop-opacity="0"/><stop offset="1" stop-opacity="0"/></linearGradient><linearGradient id="r28" class="r" x2="0" y2="1"><stop offset="0" stop-opacity="1"/><stop offset="0.55" stop-opacity="1"/><stop offset="0.962" stop-opacity="0"/><stop offset="1" stop-opacity="0"/></linearGradient><linearGradient id="r29" class="r" x2="0" y2="1"><stop offset="0" stop-opacity="1"/><stop offset="0.545" stop-opacity="1"/><stop offset="0.954" stop-opacity="0"/><stop offset="1" stop-opacity="0"/></linearGradient><linearGradient id="r30" class="r" x2="0" y2="1"><stop offset="0" stop-opacity="1"/><stop offset="0.541" stop-opacity="1"/><stop offset="0.947" stop-opacity="0"/><stop offset="1" stop-opacity="0"/></linearGradient><linearGradient id="r31" class="r" x2="0" y2="1"><stop offset="0" stop-opacity="1"/><stop offset="0.537" stop-opacity="1"/><stop offset="0.94" stop-opacity="0"/><stop offset="1" stop-opacity="0"/></linearGradient><linearGradient id="r32" class="r" x2="0" y2="1"><stop offset="0" stop-opacity="1"/><stop offset="0.532" stop-opacity="1"/><stop offset="0.933" stop-opacity="0"/><stop offset="1" stop-opacity="0"/></linearGradient><linearGradient id="r33" class="r" x2="0" y2="1"><stop offset="0" stop-opacity="1"/><stop offset="0.528" stop-opacity="1"/><stop offset="0.927" stop-opacity="0"/><stop offset="1" stop-opacity="0"/></linearGradient></defs><path d="M268 335.6L263.3 13.2M317 239.9L91.5 322.6M214.8 358.1L206.8 24M316.5 163.1L87.5 234M157.5 382.3L145.6 35.7M316.1 84.2L83.4 142.7M498.7 370.4L507.7 29.4M570.7 307.4L317 239.9M434.4 350.7L439.3 20.1M574 220.8L316.5 163.1M374.1 332.2L375.4 11.3M577.4 131.5L316.1 84.2M521.4 418.5L268 335.6M498.7 370.4L284 485.2M471.4 447.8L214.8 358.1M434.4 350.7L216.4 457.7M416.8 479.8L157.5 382.3M374.1 332.2L153.7 432.2" stroke="#dadada" stroke-width="1.3" fill="none"/><path d="M317.4 314.8L315.6 3.2M317.4 314.8L95.4 408.5M95.4 408.5L79.1 48.4M315.6 3.2L79.1 48.4M567.4 391.4L580.9 39.4M567.4 391.4L317.4 314.8M580.9 39.4L315.6 3.2M567.4 391.4L317.4 314.8M567.4 391.4L357 514.9M357 514.9L95.4 408.5M317.4 314.8L95.4 408.5" stroke="#b8b8b8" stroke-width="1.4" fill="none"/><clipPath id="kc00"><ellipse cx="333.8" cy="257.5" rx="12.1" ry="3.9"/><ellipse cx="333.8" cy="258.4" rx="16.9" ry="5.5"/><ellipse cx="333.8" cy="259.3" rx="21.6" ry="7"/><ellipse cx="333.8" cy="261.9" rx="89.8" ry="29.3"/><ellipse cx="333.8" cy="261" rx="94.7" ry="30.9"/><ellipse cx="333.8" cy="260" rx="99.7" ry="32.4"/><ellipse cx="333.8" cy="258.7" rx="104.7" ry="34"/><ellipse cx="333.8" cy="257.2" rx="109.7" ry="35.5"/><ellipse cx="333.8" cy="255.4" rx="114.6" ry="36.9"/><ellipse cx="333.8" cy="253.1" rx="119.6" ry="38.3"/><ellipse cx="333.8" cy="250.4" rx="124.6" ry="39.7"/><ellipse cx="333.8" cy="246.8" rx="129.6" ry="41"/><ellipse cx="333.8" cy="242.1" rx="134.1" ry="42"/><ellipse cx="333.8" cy="237.3" rx="136.9" ry="42.5"/><ellipse cx="333.8" cy="232.4" rx="138.2" ry="42.4"/><ellipse cx="333.8" cy="227.3" rx="138" ry="41.9"/><ellipse cx="333.7" cy="222.3" rx="136.3" ry="41"/><ellipse cx="333.7" cy="217.2" rx="133" ry="39.6"/><ellipse cx="333.7" cy="212.4" rx="128.3" ry="37.8"/><ellipse cx="333.7" cy="208.7" rx="123.4" ry="36"/><ellipse cx="333.7" cy="205.6" rx="118.4" ry="34.4"/><ellipse cx="333.7" cy="203.1" rx="113.4" ry="32.8"/><ellipse cx="333.7" cy="200.9" rx="108.5" ry="31.2"/><ellipse cx="333.7" cy="199.1" rx="103.5" ry="29.6"/><ellipse cx="333.7" cy="197.5" rx="98.5" ry="28.1"/><ellipse cx="333.6" cy="196.1" rx="93.5" ry="26.6"/><ellipse cx="333.6" cy="195" rx="88.6" ry="25.2"/><ellipse cx="333.6" cy="194" rx="83.6" ry="23.7"/><ellipse cx="333.6" cy="193.3" rx="78.6" ry="22.2"/><ellipse cx="333.6" cy="192.7" rx="73.7" ry="20.8"/><ellipse cx="333.6" cy="192.2" rx="68.8" ry="19.4"/><ellipse cx="333.7" cy="191.9" rx="63.8" ry="18"/><ellipse cx="333.7" cy="191.8" rx="59.8" ry="16.9"/></clipPath><g filter="url(#bl)"><g shape-rendering="crispEdges" clip-path="url(#kc00)"><ellipse cx="333.8" cy="257.5" rx="12.6" ry="4.4" fill="#00c9ff"/><ellipse cx="333.8" cy="257.5" rx="12.6" ry="4.4" fill="url(#s213)"/><ellipse cx="333.8" cy="257.8" rx="14.2" ry="4.9" fill="#00c0ff"/><ellipse cx="333.8" cy="257.8" rx="14.2" ry="4.9" fill="url(#s213)"/><ellipse cx="333.8" cy="258.1" rx="15.8" ry="5.5" fill="#00b6ff"/><ellipse cx="333.8" cy="258.1" rx="15.8" ry="5.5" fill="url(#s213)"/><ellipse cx="333.8" cy="258.4" rx="17.4" ry="6" fill="#00adff"/><ellipse cx="333.8" cy="258.4" rx="17.4" ry="6" fill="url(#s213)"/><ellipse cx="333.8" cy="258.7" rx="18.9" ry="6.5" fill="#00a4ff"/><ellipse cx="333.8" cy="258.7" rx="18.9" ry="6.5" fill="url(#s213)"/><ellipse cx="333.8" cy="259" rx="20.5" ry="7" fill="#009aff"/><ellipse cx="333.8" cy="259" rx="20.5" ry="7" fill="url(#s213)"/><ellipse cx="333.8" cy="259.3" rx="22.1" ry="7.5" fill="#0091ff"/><ellipse cx="333.8" cy="259.3" rx="22.1" ry="7.5" fill="url(#s213)"/><ellipse cx="333.8" cy="259.6" rx="23.7" ry="8" fill="#08f"/><ellipse cx="333.8" cy="259.6" rx="23.7" ry="8" fill="url(#s213)"/><ellipse cx="333.8" cy="262.1" rx="88.7" ry="29.3" fill="#006aff"/><ellipse cx="333.8" cy="262.1" rx="88.7" ry="29.3" fill="url(#s-13)"/><ellipse cx="333.8" cy="262.1" rx="88.7" ry="29.3" fill="url(#r-13)"/><ellipse cx="333.8" cy="261.9" rx="90.3" ry="29.8" fill="#0073ff"/><ellipse cx="333.8" cy="261.9" rx="90.3" ry="29.8" fill="url(#s-13)"/><ellipse cx="333.8" cy="261.9" rx="90.3" ry="29.8" fill="url(#r-13)"/><ellipse cx="333.8" cy="261.6" rx="91.9" ry="30.3" fill="#007dff"/><ellipse cx="333.8" cy="261.6" rx="91.9" ry="30.3" fill="url(#s-12)"/><ellipse cx="333.8" cy="261.6" rx="91.9" ry="30.3" fill="url(#r-12)"/><ellipse cx="333.8" cy="261.3" rx="93.5" ry="30.8" fill="#08f"/><ellipse cx="333.8" cy="261.3" rx="93.5" ry="30.8" fill="url(#s-12)"/><ellipse cx="333.8" cy="261.3" rx="93.5" ry="30.8" fill="url(#r-12)"/><ellipse cx="333.8" cy="261" rx="95.2" ry="31.4" fill="#0093ff"/><ellipse cx="333.8" cy="261" rx="95.2" ry="31.4" fill="url(#s-12)"/><ellipse cx="333.8" cy="261" rx="95.2" ry="31.4" fill="url(#r-12)"/><ellipse cx="333.8" cy="260.7" rx="96.9" ry="31.9" fill="#009fff"/><ellipse cx="333.8" cy="260.7" rx="96.9" ry="31.9" fill="url(#s-11)"/><ellipse cx="333.8" cy="260.7" rx="96.9" ry="31.9" fill="url(#r-11)"/><ellipse cx="333.8" cy="260.4" rx="98.5" ry="32.4" fill="#00acff"/><ellipse cx="333.8" cy="260.4" rx="98.5" ry="32.4" fill="url(#s-11)"/><ellipse cx="333.8" cy="260.4" rx="98.5" ry="32.4" fill="url(#r-11)"/><ellipse cx="333.8" cy="260" rx="100.2" ry="32.9" fill="#00b9ff"/><ellipse cx="333.8" cy="260" rx="100.2" ry="32.9" fill="url(#s-10)"/><ellipse cx="333.8" cy="260" rx="100.2" ry="32.9" fill="url(#r-10)"/><ellipse cx="333.8" cy="259.6" rx="101.9" ry="33.4" fill="#00c7ff"/><ellipse cx="333.8" cy="259.6" rx="101.9" ry="33.4" fill="url(#s-9)"/><ellipse cx="333.8" cy="259.6" rx="101.9" ry="33.4" fill="url(#r-9)"/><ellipse cx="333.8" cy="259.2" rx="103.5" ry="33.9" fill="#00d7ff"/><ellipse cx="333.8" cy="259.2" rx="103.5" ry="33.9" fill="url(#s-9)"/><ellipse cx="333.8" cy="259.2" rx="103.5" ry="33.9" fill="url(#r-9)"/><ellipse cx="333.8" cy="258.7" rx="105.2" ry="34.5" fill="#00ddfe"/><ellipse cx="333.8" cy="258.7" rx="105.2" ry="34.5" fill="url(#s-8)"/><ellipse cx="333.8" cy="258.7" rx="105.2" ry="34.5" fill="url(#r-8)"/><ellipse cx="333.8" cy="258.2" rx="106.9" ry="35" fill="#00e4fd"/><ellipse cx="333.8" cy="258.2" rx="106.9" ry="35" fill="url(#s-8)"/><ellipse cx="333.8" cy="258.2" rx="106.9" ry="35" fill="url(#r-8)"/><ellipse cx="333.8" cy="257.7" rx="108.5" ry="35.5" fill="#00ebfc"/><ellipse cx="333.8" cy="257.7" rx="108.5" ry="35.5" fill="url(#s-7)"/><ellipse cx="333.8" cy="257.7" rx="108.5" ry="35.5" fill="url(#r-7)"/><ellipse cx="333.8" cy="257.2" rx="110.2" ry="36" fill="#00f3fb"/><ellipse cx="333.8" cy="257.2" rx="110.2" ry="36" fill="url(#s-6)"/><ellipse cx="333.8" cy="257.2" rx="110.2" ry="36" fill="url(#r-6)"/><ellipse cx="333.8" cy="256.6" rx="111.8" ry="36.4" fill="#00faf9"/><ellipse cx="333.8" cy="256.6" rx="111.8" ry="36.4" fill="url(#s-6)"/><ellipse cx="333.8" cy="256.6" rx="111.8" ry="36.4" fill="url(#r-6)"/><ellipse cx="333.8" cy="256" rx="113.5" ry="36.9" fill="#00fbe0"/><ellipse cx="333.8" cy="256" rx="113.5" ry="36.9" fill="url(#s-5)"/><ellipse cx="333.8" cy="256" rx="113.5" ry="36.9" fill="url(#r-5)"/><ellipse cx="333.8" cy="255.4" rx="115.1" ry="37.4" fill="#00fcc6"/><ellipse cx="333.8" cy="255.4" rx="115.1" ry="37.4" fill="url(#s-4)"/><ellipse cx="333.8" cy="255.4" rx="115.1" ry="37.4" fill="url(#r-4)"/><ellipse cx="333.8" cy="254.7" rx="116.8" ry="37.9" fill="#00fea9"/><ellipse cx="333.8" cy="254.7" rx="116.8" ry="37.9" fill="url(#s-3)"/><ellipse cx="333.8" cy="254.7" rx="116.8" ry="37.9" fill="url(#r-3)"/><ellipse cx="333.8" cy="253.9" rx="118.5" ry="38.4" fill="#00ff89"/><ellipse cx="333.8" cy="253.9" rx="118.5" ry="38.4" fill="url(#s-2)"/><ellipse cx="333.8" cy="253.9" rx="118.5" ry="38.4" fill="url(#r-2)"/><ellipse cx="333.8" cy="253.1" rx="120.1" ry="38.8" fill="#06ff56"/><ellipse cx="333.8" cy="253.1" rx="120.1" ry="38.8" fill="url(#s-1)"/><ellipse cx="333.8" cy="253.1" rx="120.1" ry="38.8" fill="url(#r-1)"/><ellipse cx="333.8" cy="252.3" rx="121.8" ry="39.3" fill="#0cff20"/><ellipse cx="333.8" cy="252.3" rx="121.8" ry="39.3" fill="url(#s0)"/><ellipse cx="333.8" cy="252.3" rx="121.8" ry="39.3" fill="url(#r0)"/><ellipse cx="333.8" cy="251.3" rx="123.5" ry="39.8" fill="#16ff00"/><ellipse cx="333.8" cy="251.3" rx="123.5" ry="39.8" fill="url(#s1)"/><ellipse cx="333.8" cy="251.3" rx="123.5" ry="39.8" fill="url(#r1)"/><ellipse cx="333.8" cy="250.4" rx="125.1" ry="40.2" fill="#24ff00"/><ellipse cx="333.8" cy="250.4" rx="125.1" ry="40.2" fill="url(#s3)"/><ellipse cx="333.8" cy="250.4" rx="125.1" ry="40.2" fill="url(#r3)" opacity=".92"/><ellipse cx="333.8" cy="249.2" rx="126.8" ry="40.7" fill="#34ff00"/><ellipse cx="333.8" cy="249.2" rx="126.8" ry="40.7" fill="url(#s4)"/><ellipse cx="333.8" cy="249.2" rx="126.8" ry="40.7" fill="url(#r4)" opacity=".69"/><ellipse cx="333.8" cy="248.1" rx="128.4" ry="41.1" fill="#45ff00"/><ellipse cx="333.8" cy="248.1" rx="128.4" ry="41.1" fill="url(#s6)"/><ellipse cx="333.8" cy="248.1" rx="128.4" ry="41.1" fill="url(#r6)" opacity=".43"/><ellipse cx="333.8" cy="246.8" rx="130.1" ry="41.5" fill="#58ff00"/><ellipse cx="333.8" cy="246.8" rx="130.1" ry="41.5" fill="url(#s8)"/><ellipse cx="333.8" cy="246.8" rx="130.1" ry="41.5" fill="url(#r8)" opacity=".13"/><ellipse cx="333.8" cy="245.3" rx="131.8" ry="41.9" fill="#6eff00"/><ellipse cx="333.8" cy="245.3" rx="131.8" ry="41.9" fill="url(#s10)"/><ellipse cx="333.8" cy="243.7" rx="133.3" ry="42.2" fill="#84ff00"/><ellipse cx="333.8" cy="243.7" rx="133.3" ry="42.2" fill="url(#s13)"/><ellipse cx="333.8" cy="242.1" rx="134.6" ry="42.5" fill="#9aff00"/><ellipse cx="333.8" cy="242.1" rx="134.6" ry="42.5" fill="url(#s16)"/><ellipse cx="333.8" cy="240.5" rx="135.8" ry="42.7" fill="#b1ff00"/><ellipse cx="333.8" cy="240.5" rx="135.8" ry="42.7" fill="url(#s19)"/><ellipse cx="333.8" cy="238.9" rx="136.7" ry="42.9" fill="#bffe00"/><ellipse cx="333.8" cy="238.9" rx="136.7" ry="42.9" fill="url(#s22)"/><ellipse cx="333.8" cy="237.3" rx="137.4" ry="43" fill="#ccfd00"/><ellipse cx="333.8" cy="237.3" rx="137.4" ry="43" fill="url(#s25)"/><ellipse cx="333.8" cy="235.7" rx="138" ry="43" fill="#dafc00"/><ellipse cx="333.8" cy="235.7" rx="138" ry="43" fill="url(#s29)"/><ellipse cx="333.8" cy="234.1" rx="138.5" ry="43" fill="#e7fb00"/><ellipse cx="333.8" cy="234.1" rx="138.5" ry="43" fill="url(#s33)"/><ellipse cx="333.8" cy="232.4" rx="138.7" ry="42.9" fill="#f5fa00"/><ellipse cx="333.8" cy="232.4" rx="138.7" ry="42.9" fill="url(#s37)"/><ellipse cx="333.8" cy="230.7" rx="138.8" ry="42.8" fill="#fbed00"/><ellipse cx="333.8" cy="230.7" rx="138.8" ry="42.8" fill="url(#s41)"/><ellipse cx="333.8" cy="229" rx="138.8" ry="42.7" fill="#fbd800"/><ellipse cx="333.8" cy="229" rx="138.8" ry="42.7" fill="url(#s45)"/><ellipse cx="333.8" cy="227.3" rx="138.5" ry="42.4" fill="#fcc300"/><ellipse cx="333.8" cy="227.3" rx="138.5" ry="42.4" fill="url(#s48)"/><ellipse cx="333.8" cy="225.7" rx="138.1" ry="42.2" fill="#fdaf00"/><ellipse cx="333.8" cy="225.7" rx="138.1" ry="42.2" fill="url(#s52)"/><ellipse cx="333.7" cy="224" rx="137.5" ry="41.8" fill="#fe9a00"/><ellipse cx="333.7" cy="224" rx="137.5" ry="41.8" fill="url(#s56)"/><ellipse cx="333.7" cy="222.3" rx="136.8" ry="41.5" fill="#ff8600"/><ellipse cx="333.7" cy="222.3" rx="136.8" ry="41.5" fill="url(#s59)"/><ellipse cx="333.7" cy="220.7" rx="135.9" ry="41.1" fill="#ff7000"/><ellipse cx="333.7" cy="220.7" rx="135.9" ry="41.1" fill="url(#s62)"/><ellipse cx="333.7" cy="218.9" rx="134.8" ry="40.6" fill="#ff5900"/><ellipse cx="333.7" cy="218.9" rx="134.8" ry="40.6" fill="url(#s65)"/><ellipse cx="333.7" cy="217.2" rx="133.5" ry="40.1" fill="#ff4200"/><ellipse cx="333.7" cy="217.2" rx="133.5" ry="40.1" fill="url(#s68)"/><ellipse cx="333.7" cy="215.5" rx="132" ry="39.5" fill="#ff2e00"/><ellipse cx="333.7" cy="215.5" rx="132" ry="39.5" fill="url(#s71)"/><ellipse cx="333.7" cy="213.9" rx="130.4" ry="38.9" fill="#ff2100"/><ellipse cx="333.7" cy="213.9" rx="130.4" ry="38.9" fill="url(#s73)"/><ellipse cx="333.7" cy="212.4" rx="128.8" ry="38.3" fill="#ff1500"/><ellipse cx="333.7" cy="212.4" rx="128.8" ry="38.3" fill="url(#s75)"/><ellipse cx="333.7" cy="211.1" rx="127.2" ry="37.7" fill="#ff0d00"/><ellipse cx="333.7" cy="211.1" rx="127.2" ry="37.7" fill="url(#s76)"/><ellipse cx="333.7" cy="209.8" rx="125.5" ry="37.1" fill="#ff0900"/><ellipse cx="333.7" cy="209.8" rx="125.5" ry="37.1" fill="url(#s78)"/><ellipse cx="333.7" cy="208.7" rx="123.9" ry="36.5" fill="#ff0600"/><ellipse cx="333.7" cy="208.7" rx="123.9" ry="36.5" fill="url(#s79)"/><ellipse cx="333.7" cy="207.5" rx="122.2" ry="36" fill="#ff0400"/><ellipse cx="333.7" cy="207.5" rx="122.2" ry="36" fill="url(#s80)"/><ellipse cx="333.7" cy="206.6" rx="120.6" ry="35.4" fill="#ff0100"/><ellipse cx="333.7" cy="206.6" rx="120.6" ry="35.4" fill="url(#s82)"/><ellipse cx="333.7" cy="205.6" rx="118.9" ry="34.9" fill="#f00"/><ellipse cx="333.7" cy="205.6" rx="118.9" ry="34.9" fill="url(#s83)"/><ellipse cx="333.7" cy="204.7" rx="117.2" ry="34.3" fill="#f00"/><ellipse cx="333.7" cy="204.7" rx="117.2" ry="34.3" fill="url(#s83)"/><ellipse cx="333.7" cy="203.8" rx="115.5" ry="33.8" fill="#f00"/><ellipse cx="333.7" cy="203.8" rx="115.5" ry="33.8" fill="url(#s84)"/><ellipse cx="333.7" cy="203.1" rx="113.9" ry="33.3" fill="#f00"/><ellipse cx="333.7" cy="203.1" rx="113.9" ry="33.3" fill="url(#s85)"/><ellipse cx="333.7" cy="202.3" rx="112.3" ry="32.7" fill="#f00"/><ellipse cx="333.7" cy="202.3" rx="112.3" ry="32.7" fill="url(#s86)"/><ellipse cx="333.7" cy="201.6" rx="110.6" ry="32.2" fill="#f00"/><ellipse cx="333.7" cy="201.6" rx="110.6" ry="32.2" fill="url(#s87)"/><ellipse cx="333.7" cy="200.9" rx="109" ry="31.7" fill="#f00"/><ellipse cx="333.7" cy="200.9" rx="109" ry="31.7" fill="url(#s87)"/><ellipse cx="333.7" cy="200.3" rx="107.3" ry="31.2" fill="#f00"/><ellipse cx="333.7" cy="200.3" rx="107.3" ry="31.2" fill="url(#s88)"/><ellipse cx="333.7" cy="199.7" rx="105.7" ry="30.7" fill="#f00"/><ellipse cx="333.7" cy="199.7" rx="105.7" ry="30.7" fill="url(#s88)"/><ellipse cx="333.7" cy="199.1" rx="104" ry="30.1" fill="#f00"/><ellipse cx="333.7" cy="199.1" rx="104" ry="30.1" fill="url(#s89)"/><ellipse cx="333.7" cy="198.5" rx="102.3" ry="29.6" fill="#f00"/><ellipse cx="333.7" cy="198.5" rx="102.3" ry="29.6" fill="url(#s90)"/><ellipse cx="333.7" cy="198" rx="100.6" ry="29.1" fill="#f00"/><ellipse cx="333.7" cy="198" rx="100.6" ry="29.1" fill="url(#s90)"/><ellipse cx="333.7" cy="197.5" rx="99" ry="28.6" fill="#f00"/><ellipse cx="333.7" cy="197.5" rx="99" ry="28.6" fill="url(#s91)"/><ellipse cx="333.7" cy="197" rx="97.3" ry="28.1" fill="#f00"/><ellipse cx="333.7" cy="197" rx="97.3" ry="28.1" fill="url(#s91)"/><ellipse cx="333.6" cy="196.6" rx="95.6" ry="27.6" fill="#f00"/><ellipse cx="333.6" cy="196.6" rx="95.6" ry="27.6" fill="url(#s92)"/><ellipse cx="333.6" cy="196.1" rx="94" ry="27.1" fill="#f00"/><ellipse cx="333.6" cy="196.1" rx="94" ry="27.1" fill="url(#s92)"/><ellipse cx="333.6" cy="195.7" rx="92.4" ry="26.6" fill="#f00"/><ellipse cx="333.6" cy="195.7" rx="92.4" ry="26.6" fill="url(#s93)"/><ellipse cx="333.6" cy="195.4" rx="90.7" ry="26.2" fill="#f00"/><ellipse cx="333.6" cy="195.4" rx="90.7" ry="26.2" fill="url(#s93)"/><ellipse cx="333.6" cy="195" rx="89.1" ry="25.7" fill="#f00"/><ellipse cx="333.6" cy="195" rx="89.1" ry="25.7" fill="url(#s93)"/><ellipse cx="333.6" cy="194.7" rx="87.5" ry="25.2" fill="#f00"/><ellipse cx="333.6" cy="194.7" rx="87.5" ry="25.2" fill="url(#s94)"/><ellipse cx="333.6" cy="194.4" rx="85.8" ry="24.7" fill="#f00"/><ellipse cx="333.6" cy="194.4" rx="85.8" ry="24.7" fill="url(#s94)"/><ellipse cx="333.6" cy="194" rx="84.1" ry="24.2" fill="#f00"/><ellipse cx="333.6" cy="194" rx="84.1" ry="24.2" fill="url(#s95)"/><ellipse cx="333.6" cy="193.8" rx="82.4" ry="23.7" fill="#f00"/><ellipse cx="333.6" cy="193.8" rx="82.4" ry="23.7" fill="url(#s95)"/><ellipse cx="333.6" cy="193.5" rx="80.7" ry="23.2" fill="#f00"/><ellipse cx="333.6" cy="193.5" rx="80.7" ry="23.2" fill="url(#s96)"/><ellipse cx="333.6" cy="193.3" rx="79.1" ry="22.7" fill="#f00"/><ellipse cx="333.6" cy="193.3" rx="79.1" ry="22.7" fill="url(#s96)"/><ellipse cx="333.6" cy="193" rx="77.4" ry="22.3" fill="#f00"/><ellipse cx="333.6" cy="193" rx="77.4" ry="22.3" fill="url(#s96)"/><ellipse cx="333.6" cy="192.9" rx="75.9" ry="21.8" fill="#f00"/><ellipse cx="333.6" cy="192.9" rx="75.9" ry="21.8" fill="url(#s97)"/><ellipse cx="333.6" cy="192.7" rx="74.2" ry="21.3" fill="#f00"/><ellipse cx="333.6" cy="192.7" rx="74.2" ry="21.3" fill="url(#s97)"/><ellipse cx="333.6" cy="192.5" rx="72.5" ry="20.9" fill="#f00"/><ellipse cx="333.6" cy="192.5" rx="72.5" ry="20.9" fill="url(#s97)"/><ellipse cx="333.6" cy="192.3" rx="70.9" ry="20.4" fill="#f00"/><ellipse cx="333.6" cy="192.3" rx="70.9" ry="20.4" fill="url(#s98)"/><ellipse cx="333.6" cy="192.2" rx="69.3" ry="19.9" fill="#f00"/><ellipse cx="333.6" cy="192.2" rx="69.3" ry="19.9" fill="url(#s98)"/><ellipse cx="333.7" cy="192.1" rx="67.6" ry="19.4" fill="#f00"/><ellipse cx="333.7" cy="192.1" rx="67.6" ry="19.4" fill="url(#s98)"/><ellipse cx="333.7" cy="192" rx="65.9" ry="19" fill="#f00"/><ellipse cx="333.7" cy="192" rx="65.9" ry="19" fill="url(#s99)"/><ellipse cx="333.7" cy="191.9" rx="64.3" ry="18.5" fill="#f00"/><ellipse cx="333.7" cy="191.9" rx="64.3" ry="18.5" fill="url(#s99)"/><ellipse cx="333.7" cy="191.8" rx="62.6" ry="18" fill="#f00"/><ellipse cx="333.7" cy="191.8" rx="62.6" ry="18" fill="url(#s100)"/><ellipse cx="333.7" cy="191.8" rx="60.9" ry="17.6" fill="#f00"/><ellipse cx="333.7" cy="191.8" rx="60.9" ry="17.6" fill="url(#s100)"/><ellipse cx="333.7" cy="191.8" rx="60.3" ry="17.4" fill="#f00"/><ellipse cx="333.7" cy="191.8" rx="60.3" ry="17.4" fill="url(#s100)"/><clipPath id="c00"><ellipse cx="333.7" cy="191.8" rx="59.8" ry="16.9"/></clipPath><g clip-path="url(#c00)"><ellipse cx="333.7" cy="191.8" rx="58.2" ry="16.4" fill="#f00"/><ellipse cx="333.7" cy="191.8" rx="58.2" ry="16.4" fill="url(#s100)"/><ellipse cx="333.7" cy="191.7" rx="56.5" ry="16" fill="#f00"/><ellipse cx="333.7" cy="191.7" rx="56.5" ry="16" fill="url(#s101)"/><ellipse cx="333.7" cy="191.7" rx="54.9" ry="15.5" fill="#f00"/><ellipse cx="333.7" cy="191.7" rx="54.9" ry="15.5" fill="url(#s101)"/><ellipse cx="333.7" cy="191.8" rx="53.3" ry="15" fill="#f00"/><ellipse cx="333.7" cy="191.8" rx="53.3" ry="15" fill="url(#s101)"/><ellipse cx="333.7" cy="191.8" rx="51.7" ry="14.6" fill="#f00"/><ellipse cx="333.7" cy="191.8" rx="51.7" ry="14.6" fill="url(#s102)"/><ellipse cx="333.7" cy="191.9" rx="50" ry="14.1" fill="#f00"/><ellipse cx="333.7" cy="191.9" rx="50" ry="14.1" fill="url(#s102)"/><ellipse cx="333.7" cy="191.9" rx="48.4" ry="13.7" fill="#f00"/><ellipse cx="333.7" cy="191.9" rx="48.4" ry="13.7" fill="url(#s102)"/><ellipse cx="333.7" cy="192" rx="46.8" ry="13.2" fill="#f00"/><ellipse cx="333.7" cy="192" rx="46.8" ry="13.2" fill="url(#s103)"/><ellipse cx="333.7" cy="192.1" rx="45.1" ry="12.7" fill="#f00"/><ellipse cx="333.7" cy="192.1" rx="45.1" ry="12.7" fill="url(#s103)"/><ellipse cx="333.7" cy="192.2" rx="43.5" ry="12.3" fill="#f00"/><ellipse cx="333.7" cy="192.2" rx="43.5" ry="12.3" fill="url(#s103)"/><ellipse cx="333.7" cy="192.3" rx="41.9" ry="11.8" fill="#f00"/><ellipse cx="333.7" cy="192.3" rx="41.9" ry="11.8" fill="url(#s104)"/><ellipse cx="333.7" cy="192.5" rx="40.2" ry="11.4" fill="#f00"/><ellipse cx="333.7" cy="192.5" rx="40.2" ry="11.4" fill="url(#s104)"/><ellipse cx="333.7" cy="192.6" rx="38.6" ry="10.9" fill="#f00"/><ellipse cx="333.7" cy="192.6" rx="38.6" ry="10.9" fill="url(#s104)"/><ellipse cx="333.7" cy="192.8" rx="36.9" ry="10.4" fill="#f00"/><ellipse cx="333.7" cy="192.8" rx="36.9" ry="10.4" fill="url(#s105)"/><ellipse cx="333.7" cy="193" rx="35.3" ry="10" fill="#f00"/><ellipse cx="333.7" cy="193" rx="35.3" ry="10" fill="url(#s105)"/><ellipse cx="333.7" cy="193.2" rx="33.6" ry="9.5" fill="#f00"/><ellipse cx="333.7" cy="193.2" rx="33.6" ry="9.5" fill="url(#s105)"/><ellipse cx="333.7" cy="193.4" rx="32" ry="9.1" fill="#f00"/><ellipse cx="333.7" cy="193.4" rx="32" ry="9.1" fill="url(#s105)"/><ellipse cx="333.7" cy="193.7" rx="30.4" ry="8.6" fill="#f00"/><ellipse cx="333.7" cy="193.7" rx="30.4" ry="8.6" fill="url(#s106)"/><ellipse cx="333.7" cy="193.9" rx="28.8" ry="8.2" fill="#f00"/><ellipse cx="333.7" cy="193.9" rx="28.8" ry="8.2" fill="url(#s106)"/><ellipse cx="333.7" cy="194.2" rx="27.2" ry="7.7" fill="#f00"/><ellipse cx="333.7" cy="194.2" rx="27.2" ry="7.7" fill="url(#s106)"/><ellipse cx="333.7" cy="194.4" rx="25.6" ry="7.3" fill="#f00"/><ellipse cx="333.7" cy="194.4" rx="25.6" ry="7.3" fill="url(#s107)"/><ellipse cx="333.7" cy="194.7" rx="23.9" ry="6.8" fill="#f00"/><ellipse cx="333.7" cy="194.7" rx="23.9" ry="6.8" fill="url(#s107)"/><ellipse cx="333.7" cy="195" rx="22.3" ry="6.3" fill="#f00"/><ellipse cx="333.7" cy="195" rx="22.3" ry="6.3" fill="url(#s107)"/><ellipse cx="333.7" cy="195.3" rx="20.7" ry="5.9" fill="#f00"/><ellipse cx="333.7" cy="195.3" rx="20.7" ry="5.9" fill="url(#s107)"/><ellipse cx="333.7" cy="195.6" rx="19.1" ry="5.4" fill="#f00"/><ellipse cx="333.7" cy="195.6" rx="19.1" ry="5.4" fill="url(#s107)"/><ellipse cx="333.7" cy="195.9" rx="17.5" ry="5" fill="#f00"/><ellipse cx="333.7" cy="195.9" rx="17.5" ry="5" fill="url(#s107)"/><ellipse cx="333.7" cy="196.2" rx="15.9" ry="4.5" fill="#f00"/><ellipse cx="333.7" cy="196.2" rx="15.9" ry="4.5" fill="url(#s107)"/><ellipse cx="333.7" cy="196.5" rx="14.3" ry="4.1" fill="#f00"/><ellipse cx="333.7" cy="196.5" rx="14.3" ry="4.1" fill="url(#s107)"/><ellipse cx="333.7" cy="196.8" rx="12.7" ry="3.6" fill="#f00"/><ellipse cx="333.7" cy="196.8" rx="12.7" ry="3.6" fill="url(#s107)"/><ellipse cx="333.7" cy="197.1" rx="11.1" ry="3.2" fill="#f00"/><ellipse cx="333.7" cy="197.1" rx="11.1" ry="3.2" fill="url(#s106)"/><ellipse cx="333.7" cy="197.3" rx="9.5" ry="2.7" fill="#f00"/><ellipse cx="333.7" cy="197.3" rx="9.5" ry="2.7" fill="url(#s106)"/><ellipse cx="333.7" cy="197.6" rx="7.9" ry="2.3" fill="#f00"/><ellipse cx="333.7" cy="197.6" rx="7.9" ry="2.3" fill="url(#s105)"/><ellipse cx="333.7" cy="197.8" rx="6.3" ry="1.8" fill="#f00"/><ellipse cx="333.7" cy="197.8" rx="6.3" ry="1.8" fill="url(#s104)"/><ellipse cx="333.7" cy="198" rx="4.7" ry="1.3" fill="#f00"/><ellipse cx="333.7" cy="198" rx="4.7" ry="1.3" fill="url(#s104)"/><ellipse cx="333.7" cy="198.1" rx="3.1" ry="0.9" fill="#f00"/><ellipse cx="333.7" cy="198.1" rx="3.1" ry="0.9" fill="url(#s102)"/><ellipse cx="333.7" cy="198.2" rx="1.5" ry="0.4" fill="#f00"/><ellipse cx="333.7" cy="198.2" rx="1.5" ry="0.4" fill="url(#s101)"/><ellipse cx="333.7" cy="198.2" rx="0" ry="0" fill="#f00"/><ellipse cx="333.7" cy="198.2" rx="0" ry="0" fill="url(#s100)"/></g></g></g><path d="M79.1 48.4L95.4 408.5M95.4 408.5L357 514.9M357 514.9L567.4 391.4M95.4 408.5l-4.6 1.9M357 514.9l-4.3 2.5M567.4 391.4l4.8 1.5M91.5 322.6l-4.7 1.7M284 485.2l-4.4 2.4M521.4 418.5l4.8 1.6M87.5 234l-4.8 1.5M216.4 457.7l-4.5 2.2M471.4 447.8l4.7 1.7M83.4 142.7l-4.8 1.2M153.7 432.2l-4.6 2.1M416.8 479.8l4.7 1.8M79.1 48.4l-4.9 0.9M95.4 408.5l-4.6 1.9M357 514.9l4.6 1.9M544.9 404.7l2.9 0.9M496.9 432.8l2.8 1M444.7 463.5l2.8 1M387.6 497l2.8 1.1" stroke="#444" stroke-width="1.7" fill="none" stroke-linecap="square"/><g><text transform="matrix(0.2309 -0.04584 0.01478 0.3165 71.24 61.43)" font-size="100" text-anchor="end" fill="#333" font-weight="normal">200</text><text transform="matrix(0.2266 -0.05852 0.01432 0.3066 75.65 155.8)" font-size="100" text-anchor="end" fill="#333" font-weight="normal">100</text><text transform="matrix(0.2225 -0.0704 0.01388 0.2971 79.92 247.2)" font-size="100" text-anchor="end" fill="#333" font-weight="normal">0</text><text transform="matrix(0.2185 -0.08153 0.01346 0.2881 84.06 335.9)" font-size="100" text-anchor="end" fill="#333" font-weight="normal">-100</text><text transform="matrix(0.2147 -0.09196 0.01305 0.2795 88.07 421.8)" font-size="100" text-anchor="end" fill="#333" font-weight="normal">-200</text><text transform="matrix(0.2059 -0.09423 0.1925 0.07923 151.5 439.1)" font-size="100" text-anchor="end" fill="#333" font-weight="normal">100</text><text transform="matrix(0.2048 -0.1015 0.2073 0.08535 214.8 465.2)" font-size="100" text-anchor="end" fill="#333" font-weight="normal">0</text><text transform="matrix(0.2029 -0.1096 0.224 0.09222 283 493.3)" font-size="100" text-anchor="end" fill="#333" font-weight="normal">-100</text><text transform="matrix(0.2063 -0.08774 0.1791 0.07374 92.72 414.9)" font-size="100" text-anchor="end" fill="#333" font-weight="normal">200</text><text transform="matrix(0.2325 0.07178 -0.1439 0.08533 569.7 396.8)" font-size="100" text-anchor="start" fill="#333" font-weight="normal">-200</text><text transform="matrix(0.2369 0.07799 -0.1563 0.09265 523.4 424.2)" font-size="100" text-anchor="start" fill="#333" font-weight="normal">-100</text><text transform="matrix(0.2412 0.08504 -0.1703 0.101 473 454.1)" font-size="100" text-anchor="start" fill="#333" font-weight="normal">0</text><text transform="matrix(0.2453 0.09309 -0.1863 0.1104 418 486.7)" font-size="100" text-anchor="start" fill="#333" font-weight="normal">100</text><text transform="matrix(0.2491 0.1023 -0.2046 0.1213 357.6 522.5)" font-size="100" text-anchor="start" fill="#333" font-weight="normal">200</text></g><text x="81" y="75.5" font-size="26.6" font-weight="bold">Bulk modulus</text><text x="444" y="82" font-size="26.6" font-weight="bold">KNaS</text><text x="2" y="258" font-size="33.5" font-weight="bold">Bz</text><text x="158.5" y="510" font-size="33.5" font-weight="bold">By</text><text x="506" y="487.7" font-size="33.5" font-weight="bold">Bx</text><path d="M984.1 338.1L982.3 15.4M1031 242.5L815.9 324.8M933.6 360.6L928.8 25.2M1031.2 165.8L812.9 235.2M878.7 385.1L870.4 35.9M1031.4 87.1L809.7 142.9M1218.6 369.5L1230.2 30.9M1293.1 305.6L1031 242.5M1152.3 351L1159.8 22.2M1297.1 219.7L1031.2 165.8M1089.8 333.7L1093.7 14M1301.2 131.3L1031.4 87.1M1247.8 415.9L984.1 338.1M1218.6 369.5L1020.2 484.8M1202.4 445.3L933.6 360.6M1152.3 351L948.3 458.7M1152.7 477.5L878.7 385.1M1089.8 333.7L881.4 434.4" stroke="#dadada" stroke-width="1.3" fill="none"/><path d="M1030.9 317.3L1031.6 6.3M1030.9 317.3L818.9 411.7M818.9 411.7L806.5 47.6M1031.6 6.3L806.5 47.6M1289.2 389.1L1305.4 40.2M1289.2 389.1L1030.9 317.3M1305.4 40.2L1031.6 6.3M1289.2 389.1L1030.9 317.3M1289.2 389.1L1097.7 513M1097.7 513L818.9 411.7M1030.9 317.3L818.9 411.7" stroke="#b8b8b8" stroke-width="1.4" fill="none"/><clipPath id="kc10"><ellipse cx="1059.9" cy="295.6" rx="5.1" ry="1.7"/><ellipse cx="1059.9" cy="296.8" rx="9.9" ry="3.4"/><ellipse cx="1059.9" cy="298.7" rx="14.8" ry="5"/><ellipse cx="1059.9" cy="300.9" rx="19.6" ry="6.7"/><ellipse cx="1059.9" cy="303.3" rx="24.4" ry="8.3"/><ellipse cx="1059.9" cy="305.9" rx="29" ry="10"/><ellipse cx="1059.8" cy="308.4" rx="33.7" ry="11.7"/><ellipse cx="1059.8" cy="311" rx="38.4" ry="13.3"/><ellipse cx="1059.8" cy="313.5" rx="43.1" ry="15"/><ellipse cx="1059.8" cy="315.9" rx="47.9" ry="16.8"/><ellipse cx="1059.8" cy="318.3" rx="52.6" ry="18.5"/><ellipse cx="1059.8" cy="320.5" rx="57.5" ry="20.3"/><ellipse cx="1059.7" cy="322.6" rx="62.4" ry="22.1"/><ellipse cx="1059.7" cy="324.6" rx="67.3" ry="24"/><ellipse cx="1059.7" cy="326.4" rx="72.1" ry="25.7"/><ellipse cx="1059.7" cy="327.9" rx="76.8" ry="27.5"/><ellipse cx="1059.7" cy="329.3" rx="81.6" ry="29.3"/><ellipse cx="1059.7" cy="330.5" rx="86.4" ry="31.1"/><ellipse cx="1059.6" cy="331.6" rx="113.5" ry="40.9"/><ellipse cx="1059.7" cy="330.3" rx="118.4" ry="42.5"/><ellipse cx="1059.7" cy="328" rx="123.2" ry="44.1"/><ellipse cx="1059.7" cy="324.6" rx="128" ry="45.5"/><ellipse cx="1059.7" cy="320" rx="131.9" ry="46.5"/><ellipse cx="1059.8" cy="315.4" rx="134.5" ry="46.9"/><ellipse cx="1059.8" cy="310.7" rx="136.1" ry="47.1"/><ellipse cx="1059.9" cy="305.7" rx="137" ry="47"/><ellipse cx="1059.9" cy="301.1" rx="137.4" ry="46.7"/><ellipse cx="1059.9" cy="296.4" rx="137.4" ry="46.3"/><ellipse cx="1060" cy="291.6" rx="137.1" ry="45.7"/><ellipse cx="1060" cy="286.6" rx="136.5" ry="45.1"/><ellipse cx="1060" cy="281.5" rx="135.6" ry="44.4"/><ellipse cx="1060.1" cy="276.5" rx="134.6" ry="43.6"/><ellipse cx="1060.1" cy="271.4" rx="133.5" ry="42.8"/><ellipse cx="1060.1" cy="266.4" rx="132.3" ry="42"/><ellipse cx="1060.2" cy="261.4" rx="131" ry="41.2"/><ellipse cx="1060.2" cy="256.4" rx="129.9" ry="40.4"/><ellipse cx="1060.2" cy="251.3" rx="128.8" ry="39.6"/><ellipse cx="1060.3" cy="246.2" rx="127.8" ry="38.9"/><ellipse cx="1060.3" cy="241.1" rx="127.1" ry="38.3"/><ellipse cx="1060.3" cy="236.3" rx="126.7" ry="37.8"/><ellipse cx="1060.4" cy="231.5" rx="126.6" ry="37.3"/><ellipse cx="1060.4" cy="226.7" rx="126.8" ry="37"/><ellipse cx="1060.4" cy="221.9" rx="127.3" ry="36.7"/><ellipse cx="1060.5" cy="216.9" rx="128" ry="36.5"/><ellipse cx="1060.5" cy="211.8" rx="129.1" ry="36.4"/><ellipse cx="1060.5" cy="206.8" rx="130.4" ry="36.3"/><ellipse cx="1060.6" cy="201.8" rx="131.7" ry="36.3"/><ellipse cx="1060.6" cy="196.8" rx="133.2" ry="36.3"/><ellipse cx="1060.7" cy="191.8" rx="134.6" ry="36.2"/><ellipse cx="1060.7" cy="186.7" rx="136.1" ry="36.2"/><ellipse cx="1060.7" cy="181.7" rx="137.4" ry="36.1"/><ellipse cx="1060.8" cy="176.6" rx="138.6" ry="35.9"/><ellipse cx="1060.8" cy="171.4" rx="139.6" ry="35.7"/><ellipse cx="1060.9" cy="166.4" rx="140.3" ry="35.4"/><ellipse cx="1060.9" cy="161.5" rx="140.6" ry="35.1"/><ellipse cx="1060.9" cy="156.6" rx="140.7" ry="34.6"/><ellipse cx="1061" cy="151.5" rx="140.2" ry="34"/><ellipse cx="1061" cy="146.3" rx="139.1" ry="33.3"/><ellipse cx="1061" cy="141.1" rx="137.2" ry="32.4"/><ellipse cx="1061.1" cy="135.9" rx="134.3" ry="31.3"/><ellipse cx="1061.1" cy="130.7" rx="130" ry="29.8"/><ellipse cx="1061.1" cy="126.7" rx="125" ry="28.4"/><ellipse cx="1061.1" cy="124.5" rx="120.1" ry="27.1"/><ellipse cx="1061.1" cy="123.9" rx="116.4" ry="26.2"/></clipPath><g filter="url(#bl)"><g shape-rendering="crispEdges" clip-path="url(#kc10)"><ellipse cx="1059.9" cy="295.6" rx="5.6" ry="2.2" fill="#01ff7f"/><ellipse cx="1059.9" cy="295.6" rx="5.6" ry="2.2" fill="url(#s213)"/><ellipse cx="1059.9" cy="295.9" rx="7.3" ry="2.8" fill="#01ff86"/><ellipse cx="1059.9" cy="295.9" rx="7.3" ry="2.8" fill="url(#s211)"/><ellipse cx="1059.9" cy="296.3" rx="8.9" ry="3.3" fill="#00ff8e"/><ellipse cx="1059.9" cy="296.3" rx="8.9" ry="3.3" fill="url(#s210)"/><ellipse cx="1059.9" cy="296.8" rx="10.4" ry="3.9" fill="#00ff94"/><ellipse cx="1059.9" cy="296.8" rx="10.4" ry="3.9" fill="url(#s208)"/><ellipse cx="1059.9" cy="297.4" rx="12" ry="4.4" fill="#00fe9b"/><ellipse cx="1059.9" cy="297.4" rx="12" ry="4.4" fill="url(#s207)"/><ellipse cx="1059.9" cy="298" rx="13.7" ry="5" fill="#00fea3"/><ellipse cx="1059.9" cy="298" rx="13.7" ry="5" fill="url(#s206)"/><ellipse cx="1059.9" cy="298.7" rx="15.3" ry="5.5" fill="#00feab"/><ellipse cx="1059.9" cy="298.7" rx="15.3" ry="5.5" fill="url(#s205)"/><ellipse cx="1059.9" cy="299.4" rx="16.9" ry="6.1" fill="#00fdb4"/><ellipse cx="1059.9" cy="299.4" rx="16.9" ry="6.1" fill="url(#s204)"/><ellipse cx="1059.9" cy="300.1" rx="18.5" ry="6.6" fill="#00fdbe"/><ellipse cx="1059.9" cy="300.1" rx="18.5" ry="6.6" fill="url(#s204)"/><ellipse cx="1059.9" cy="300.9" rx="20.1" ry="7.2" fill="#00fcc7"/><ellipse cx="1059.9" cy="300.9" rx="20.1" ry="7.2" fill="url(#s203)"/><ellipse cx="1059.9" cy="301.7" rx="21.7" ry="7.7" fill="#00fcd1"/><ellipse cx="1059.9" cy="301.7" rx="21.7" ry="7.7" fill="url(#s203)"/><ellipse cx="1059.9" cy="302.5" rx="23.3" ry="8.3" fill="#00fbdc"/><ellipse cx="1059.9" cy="302.5" rx="23.3" ry="8.3" fill="url(#s202)"/><ellipse cx="1059.9" cy="303.3" rx="24.9" ry="8.8" fill="#00fbe6"/><ellipse cx="1059.9" cy="303.3" rx="24.9" ry="8.8" fill="url(#s202)"/><ellipse cx="1059.9" cy="304.2" rx="26.4" ry="9.4" fill="#00faf1"/><ellipse cx="1059.9" cy="304.2" rx="26.4" ry="9.4" fill="url(#s202)"/><ellipse cx="1059.9" cy="305" rx="28" ry="9.9" fill="#00fafa"/><ellipse cx="1059.9" cy="305" rx="28" ry="9.9" fill="url(#s202)"/><ellipse cx="1059.9" cy="305.9" rx="29.5" ry="10.5" fill="#00f6fb"/><ellipse cx="1059.9" cy="305.9" rx="29.5" ry="10.5" fill="url(#s202)"/><ellipse cx="1059.9" cy="306.7" rx="31.1" ry="11" fill="#00f2fb"/><ellipse cx="1059.9" cy="306.7" rx="31.1" ry="11" fill="url(#s202)"/><ellipse cx="1059.9" cy="307.6" rx="32.7" ry="11.6" fill="#00effc"/><ellipse cx="1059.9" cy="307.6" rx="32.7" ry="11.6" fill="url(#s202)"/><ellipse cx="1059.8" cy="308.4" rx="34.2" ry="12.2" fill="#00ebfc"/><ellipse cx="1059.8" cy="308.4" rx="34.2" ry="12.2" fill="url(#s202)"/><ellipse cx="1059.8" cy="309.3" rx="35.8" ry="12.7" fill="#00e8fd"/><ellipse cx="1059.8" cy="309.3" rx="35.8" ry="12.7" fill="url(#s202)"/><ellipse cx="1059.8" cy="310.1" rx="37.3" ry="13.3" fill="#00e4fd"/><ellipse cx="1059.8" cy="310.1" rx="37.3" ry="13.3" fill="url(#s202)"/><ellipse cx="1059.8" cy="311" rx="38.9" ry="13.8" fill="#00e1fe"/><ellipse cx="1059.8" cy="311" rx="38.9" ry="13.8" fill="url(#s202)"/><ellipse cx="1059.8" cy="311.8" rx="40.5" ry="14.4" fill="#00ddfe"/><ellipse cx="1059.8" cy="311.8" rx="40.5" ry="14.4" fill="url(#s202)"/><ellipse cx="1059.8" cy="312.7" rx="42" ry="15" fill="#00daff"/><ellipse cx="1059.8" cy="312.7" rx="42" ry="15" fill="url(#s202)"/><ellipse cx="1059.8" cy="313.5" rx="43.6" ry="15.5" fill="#00d5ff"/><ellipse cx="1059.8" cy="313.5" rx="43.6" ry="15.5" fill="url(#s202)"/><ellipse cx="1059.8" cy="314.3" rx="45.2" ry="16.1" fill="#00cdff"/><ellipse cx="1059.8" cy="314.3" rx="45.2" ry="16.1" fill="url(#s203)"/><ellipse cx="1059.8" cy="315.1" rx="46.8" ry="16.7" fill="#00c5ff"/><ellipse cx="1059.8" cy="315.1" rx="46.8" ry="16.7" fill="url(#s203)"/><ellipse cx="1059.8" cy="315.9" rx="48.4" ry="17.3" fill="#00bcff"/><ellipse cx="1059.8" cy="315.9" rx="48.4" ry="17.3" fill="url(#s203)"/><ellipse cx="1059.8" cy="316.7" rx="50" ry="17.9" fill="#00b4ff"/><ellipse cx="1059.8" cy="316.7" rx="50" ry="17.9" fill="url(#s203)"/><ellipse cx="1059.8" cy="317.5" rx="51.5" ry="18.4" fill="#00acff"/><ellipse cx="1059.8" cy="317.5" rx="51.5" ry="18.4" fill="url(#s204)"/><ellipse cx="1059.8" cy="318.3" rx="53.1" ry="19" fill="#00a5ff"/><ellipse cx="1059.8" cy="318.3" rx="53.1" ry="19" fill="url(#s204)"/><ellipse cx="1059.8" cy="319" rx="54.8" ry="19.6" fill="#009dff"/><ellipse cx="1059.8" cy="319" rx="54.8" ry="19.6" fill="url(#s204)"/><ellipse cx="1059.8" cy="319.8" rx="56.4" ry="20.2" fill="#0095ff"/><ellipse cx="1059.8" cy="319.8" rx="56.4" ry="20.2" fill="url(#s205)"/><ellipse cx="1059.8" cy="320.5" rx="58" ry="20.8" fill="#008eff"/><ellipse cx="1059.8" cy="320.5" rx="58" ry="20.8" fill="url(#s205)"/><ellipse cx="1059.8" cy="321.2" rx="59.6" ry="21.4" fill="#0087ff"/><ellipse cx="1059.8" cy="321.2" rx="59.6" ry="21.4" fill="url(#s205)"/><ellipse cx="1059.7" cy="321.9" rx="61.2" ry="22" fill="#007fff"/><ellipse cx="1059.7" cy="321.9" rx="61.2" ry="22" fill="url(#s206)"/><ellipse cx="1059.7" cy="322.6" rx="62.9" ry="22.6" fill="#0079ff"/><ellipse cx="1059.7" cy="322.6" rx="62.9" ry="22.6" fill="url(#s206)"/><ellipse cx="1059.7" cy="323.3" rx="64.5" ry="23.2" fill="#0072ff"/><ellipse cx="1059.7" cy="323.3" rx="64.5" ry="23.2" fill="url(#s206)"/><ellipse cx="1059.7" cy="324" rx="66.2" ry="23.8" fill="#006bff"/><ellipse cx="1059.7" cy="324" rx="66.2" ry="23.8" fill="url(#s207)"/><ellipse cx="1059.7" cy="324.6" rx="67.8" ry="24.5" fill="#0065ff"/><ellipse cx="1059.7" cy="324.6" rx="67.8" ry="24.5" fill="url(#s207)"/><ellipse cx="1059.7" cy="325.2" rx="69.5" ry="25.1" fill="#005fff"/><ellipse cx="1059.7" cy="325.2" rx="69.5" ry="25.1" fill="url(#s208)"/><ellipse cx="1059.7" cy="325.8" rx="71" ry="25.7" fill="#0059ff"/><ellipse cx="1059.7" cy="325.8" rx="71" ry="25.7" fill="url(#s208)"/><ellipse cx="1059.7" cy="326.4" rx="72.6" ry="26.2" fill="#0054ff"/><ellipse cx="1059.7" cy="326.4" rx="72.6" ry="26.2" fill="url(#s209)"/><ellipse cx="1059.7" cy="326.9" rx="74.2" ry="26.8" fill="#004eff"/><ellipse cx="1059.7" cy="326.9" rx="74.2" ry="26.8" fill="url(#s209)"/><ellipse cx="1059.7" cy="327.4" rx="75.7" ry="27.4" fill="#0049ff"/><ellipse cx="1059.7" cy="327.4" rx="75.7" ry="27.4" fill="url(#s209)"/><ellipse cx="1059.7" cy="327.9" rx="77.3" ry="28" fill="#0045ff"/><ellipse cx="1059.7" cy="327.9" rx="77.3" ry="28" fill="url(#s210)"/><ellipse cx="1059.7" cy="328.4" rx="78.9" ry="28.6" fill="#0040ff"/><ellipse cx="1059.7" cy="328.4" rx="78.9" ry="28.6" fill="url(#s210)"/><ellipse cx="1059.7" cy="328.9" rx="80.5" ry="29.2" fill="#003cff"/><ellipse cx="1059.7" cy="328.9" rx="80.5" ry="29.2" fill="url(#s211)"/><ellipse cx="1059.7" cy="329.3" rx="82.1" ry="29.8" fill="#0038ff"/><ellipse cx="1059.7" cy="329.3" rx="82.1" ry="29.8" fill="url(#s211)"/><ellipse cx="1059.7" cy="329.7" rx="83.7" ry="30.4" fill="#0034ff"/><ellipse cx="1059.7" cy="329.7" rx="83.7" ry="30.4" fill="url(#s212)"/><ellipse cx="1059.7" cy="330.1" rx="85.3" ry="31" fill="#0030ff"/><ellipse cx="1059.7" cy="330.1" rx="85.3" ry="31" fill="url(#s213)"/><ellipse cx="1059.7" cy="330.5" rx="86.9" ry="31.6" fill="#002dff"/><ellipse cx="1059.7" cy="330.5" rx="86.9" ry="31.6" fill="url(#s213)"/><ellipse cx="1059.6" cy="332.1" rx="110.8" ry="40.2" fill="#0027ff"/><ellipse cx="1059.6" cy="332.1" rx="110.8" ry="40.2" fill="url(#s-13)" opacity=".20"/><ellipse cx="1059.6" cy="332.1" rx="110.8" ry="40.2" fill="url(#r-13)"/><ellipse cx="1059.6" cy="331.9" rx="112.4" ry="40.8" fill="#002bff"/><ellipse cx="1059.6" cy="331.9" rx="112.4" ry="40.8" fill="url(#s-12)" opacity=".20"/><ellipse cx="1059.6" cy="331.9" rx="112.4" ry="40.8" fill="url(#r-12)"/><ellipse cx="1059.6" cy="331.6" rx="114" ry="41.4" fill="#002fff"/><ellipse cx="1059.6" cy="331.6" rx="114" ry="41.4" fill="url(#s-10)" opacity=".20"/><ellipse cx="1059.6" cy="331.6" rx="114" ry="41.4" fill="url(#r-10)"/><ellipse cx="1059.6" cy="331.2" rx="115.6" ry="41.9" fill="#0034ff"/><ellipse cx="1059.6" cy="331.2" rx="115.6" ry="41.9" fill="url(#s-9)" opacity=".20"/><ellipse cx="1059.6" cy="331.2" rx="115.6" ry="41.9" fill="url(#r-9)"/><ellipse cx="1059.7" cy="330.8" rx="117.2" ry="42.4" fill="#0039ff"/><ellipse cx="1059.7" cy="330.8" rx="117.2" ry="42.4" fill="url(#s-7)" opacity=".20"/><ellipse cx="1059.7" cy="330.8" rx="117.2" ry="42.4" fill="url(#r-7)"/><ellipse cx="1059.7" cy="330.3" rx="118.9" ry="43" fill="#0040ff"/><ellipse cx="1059.7" cy="330.3" rx="118.9" ry="43" fill="url(#s-5)" opacity=".20"/><ellipse cx="1059.7" cy="330.3" rx="118.9" ry="43" fill="url(#r-5)"/><ellipse cx="1059.7" cy="329.6" rx="120.5" ry="43.5" fill="#0048ff"/><ellipse cx="1059.7" cy="329.6" rx="120.5" ry="43.5" fill="url(#s-3)" opacity=".20"/><ellipse cx="1059.7" cy="329.6" rx="120.5" ry="43.5" fill="url(#r-3)"/><ellipse cx="1059.7" cy="328.9" rx="122.1" ry="44" fill="#0050ff"/><ellipse cx="1059.7" cy="328.9" rx="122.1" ry="44" fill="url(#s-1)" opacity=".20"/><ellipse cx="1059.7" cy="328.9" rx="122.1" ry="44" fill="url(#r-1)"/><ellipse cx="1059.7" cy="328" rx="123.7" ry="44.6" fill="#005bff"/><ellipse cx="1059.7" cy="328" rx="123.7" ry="44.6" fill="url(#s1)" opacity=".20"/><ellipse cx="1059.7" cy="328" rx="123.7" ry="44.6" fill="url(#r1)"/><ellipse cx="1059.7" cy="327.1" rx="125.3" ry="45" fill="#06f"/><ellipse cx="1059.7" cy="327.1" rx="125.3" ry="45" fill="url(#s4)" opacity=".20"/><ellipse cx="1059.7" cy="327.1" rx="125.3" ry="45" fill="url(#r4)"/><ellipse cx="1059.7" cy="325.9" rx="126.9" ry="45.5" fill="#0073ff"/><ellipse cx="1059.7" cy="325.9" rx="126.9" ry="45.5" fill="url(#s7)" opacity=".20"/><ellipse cx="1059.7" cy="325.9" rx="126.9" ry="45.5" fill="url(#r7)"/><ellipse cx="1059.7" cy="324.6" rx="128.5" ry="46" fill="#0083ff"/><ellipse cx="1059.7" cy="324.6" rx="128.5" ry="46" fill="url(#s10)" opacity=".20"/><ellipse cx="1059.7" cy="324.6" rx="128.5" ry="46" fill="url(#r10)"/><ellipse cx="1059.7" cy="323.1" rx="130" ry="46.4" fill="#0093ff"/><ellipse cx="1059.7" cy="323.1" rx="130" ry="46.4" fill="url(#s13)" opacity=".20"/><ellipse cx="1059.7" cy="323.1" rx="130" ry="46.4" fill="url(#r13)"/><ellipse cx="1059.7" cy="321.6" rx="131.3" ry="46.7" fill="#00a4ff"/><ellipse cx="1059.7" cy="321.6" rx="131.3" ry="46.7" fill="url(#s16)" opacity=".20"/><ellipse cx="1059.7" cy="321.6" rx="131.3" ry="46.7" fill="url(#r16)" opacity=".88"/><ellipse cx="1059.7" cy="320" rx="132.4" ry="47" fill="#00b5ff"/><ellipse cx="1059.7" cy="320" rx="132.4" ry="47" fill="url(#s18)" opacity=".27"/><ellipse cx="1059.7" cy="320" rx="132.4" ry="47" fill="url(#r18)" opacity=".75"/><ellipse cx="1059.8" cy="318.6" rx="133.4" ry="47.2" fill="#00c6ff"/><ellipse cx="1059.8" cy="318.6" rx="133.4" ry="47.2" fill="url(#s21)" opacity=".37"/><ellipse cx="1059.8" cy="318.6" rx="133.4" ry="47.2" fill="url(#r21)" opacity=".62"/><ellipse cx="1059.8" cy="317" rx="134.2" ry="47.3" fill="#00d7ff"/><ellipse cx="1059.8" cy="317" rx="134.2" ry="47.3" fill="url(#s23)" opacity=".46"/><ellipse cx="1059.8" cy="317" rx="134.2" ry="47.3" fill="url(#r23)" opacity=".51"/><ellipse cx="1059.8" cy="315.4" rx="135" ry="47.4" fill="#00defe"/><ellipse cx="1059.8" cy="315.4" rx="135" ry="47.4" fill="url(#s25)" opacity=".55"/><ellipse cx="1059.8" cy="315.4" rx="135" ry="47.4" fill="url(#r25)" opacity=".39"/><ellipse cx="1059.8" cy="313.8" rx="135.6" ry="47.5" fill="#00e5fd"/><ellipse cx="1059.8" cy="313.8" rx="135.6" ry="47.5" fill="url(#s27)" opacity=".63"/><ellipse cx="1059.8" cy="313.8" rx="135.6" ry="47.5" fill="url(#r27)" opacity=".29"/><ellipse cx="1059.8" cy="312.3" rx="136.1" ry="47.6" fill="#00ecfc"/><ellipse cx="1059.8" cy="312.3" rx="136.1" ry="47.6" fill="url(#s29)" opacity=".71"/><ellipse cx="1059.8" cy="312.3" rx="136.1" ry="47.6" fill="url(#r29)" opacity=".20"/><ellipse cx="1059.8" cy="310.7" rx="136.6" ry="47.6" fill="#00f2fb"/><ellipse cx="1059.8" cy="310.7" rx="136.6" ry="47.6" fill="url(#s31)" opacity=".78"/><ellipse cx="1059.8" cy="310.7" rx="136.6" ry="47.6" fill="url(#r31)" opacity=".11"/><ellipse cx="1059.8" cy="309" rx="137" ry="47.6" fill="#00fafa"/><ellipse cx="1059.8" cy="309" rx="137" ry="47.6" fill="url(#s33)" opacity=".85"/><ellipse cx="1059.8" cy="309" rx="137" ry="47.6" fill="url(#r33)" opacity=".03"/><ellipse cx="1059.8" cy="307.4" rx="137.3" ry="47.5" fill="#00fbe6"/><ellipse cx="1059.8" cy="307.4" rx="137.3" ry="47.5" fill="url(#s34)" opacity=".91"/><ellipse cx="1059.9" cy="305.7" rx="137.5" ry="47.5" fill="#00fcd1"/><ellipse cx="1059.9" cy="305.7" rx="137.5" ry="47.5" fill="url(#s36)" opacity=".97"/><ellipse cx="1059.9" cy="304.2" rx="137.7" ry="47.4" fill="#00fdbd"/><ellipse cx="1059.9" cy="304.2" rx="137.7" ry="47.4" fill="url(#s37)"/><ellipse cx="1059.9" cy="302.6" rx="137.8" ry="47.3" fill="#00fea9"/><ellipse cx="1059.9" cy="302.6" rx="137.8" ry="47.3" fill="url(#s38)"/><ellipse cx="1059.9" cy="301.1" rx="137.9" ry="47.2" fill="#00ff95"/><ellipse cx="1059.9" cy="301.1" rx="137.9" ry="47.2" fill="url(#s39)"/><ellipse cx="1059.9" cy="299.5" rx="138" ry="47.1" fill="#02ff7b"/><ellipse cx="1059.9" cy="299.5" rx="138" ry="47.1" fill="url(#s40)"/><ellipse cx="1059.9" cy="297.9" rx="138" ry="46.9" fill="#05ff5a"/><ellipse cx="1059.9" cy="297.9" rx="138" ry="46.9" fill="url(#s41)"/><ellipse cx="1059.9" cy="296.4" rx="137.9" ry="46.8" fill="#09ff3a"/><ellipse cx="1059.9" cy="296.4" rx="137.9" ry="46.8" fill="url(#s42)"/><ellipse cx="1059.9" cy="294.8" rx="137.8" ry="46.6" fill="#0cff1a"/><ellipse cx="1059.9" cy="294.8" rx="137.8" ry="46.6" fill="url(#s43)"/><ellipse cx="1060" cy="293.2" rx="137.7" ry="46.4" fill="#10ff00"/><ellipse cx="1060" cy="293.2" rx="137.7" ry="46.4" fill="url(#s44)"/><ellipse cx="1060" cy="291.6" rx="137.6" ry="46.2" fill="#18ff00"/><ellipse cx="1060" cy="291.6" rx="137.6" ry="46.2" fill="url(#s45)"/><ellipse cx="1060" cy="289.9" rx="137.4" ry="46" fill="#20ff00"/><ellipse cx="1060" cy="289.9" rx="137.4" ry="46" fill="url(#s45)"/><ellipse cx="1060" cy="288.2" rx="137.2" ry="45.8" fill="#28ff00"/><ellipse cx="1060" cy="288.2" rx="137.2" ry="45.8" fill="url(#s46)"/><ellipse cx="1060" cy="286.6" rx="137" ry="45.6" fill="#2fff00"/><ellipse cx="1060" cy="286.6" rx="137" ry="45.6" fill="url(#s47)"/><ellipse cx="1060" cy="284.9" rx="136.7" ry="45.4" fill="#37ff00"/><ellipse cx="1060" cy="284.9" rx="136.7" ry="45.4" fill="url(#s47)"/><ellipse cx="1060" cy="283.2" rx="136.4" ry="45.1" fill="#3fff00"/><ellipse cx="1060" cy="283.2" rx="136.4" ry="45.1" fill="url(#s48)"/><ellipse cx="1060" cy="281.5" rx="136.1" ry="44.9" fill="#47ff00"/><ellipse cx="1060" cy="281.5" rx="136.1" ry="44.9" fill="url(#s48)"/><ellipse cx="1060" cy="279.8" rx="135.8" ry="44.6" fill="#4fff00"/><ellipse cx="1060" cy="279.8" rx="135.8" ry="44.6" fill="url(#s49)"/><ellipse cx="1060.1" cy="278.1" rx="135.5" ry="44.4" fill="#56ff00"/><ellipse cx="1060.1" cy="278.1" rx="135.5" ry="44.4" fill="url(#s49)"/><ellipse cx="1060.1" cy="276.5" rx="135.1" ry="44.1" fill="#5eff00"/><ellipse cx="1060.1" cy="276.5" rx="135.1" ry="44.1" fill="url(#s49)"/><ellipse cx="1060.1" cy="274.8" rx="134.7" ry="43.8" fill="#6f0"/><ellipse cx="1060.1" cy="274.8" rx="134.7" ry="43.8" fill="url(#s50)"/><ellipse cx="1060.1" cy="273.1" rx="134.4" ry="43.6" fill="#6eff00"/><ellipse cx="1060.1" cy="273.1" rx="134.4" ry="43.6" fill="url(#s50)"/><ellipse cx="1060.1" cy="271.4" rx="134" ry="43.3" fill="#75ff00"/><ellipse cx="1060.1" cy="271.4" rx="134" ry="43.3" fill="url(#s50)"/><ellipse cx="1060.1" cy="269.8" rx="133.6" ry="43" fill="#7dff00"/><ellipse cx="1060.1" cy="269.8" rx="133.6" ry="43" fill="url(#s50)"/><ellipse cx="1060.1" cy="268.1" rx="133.2" ry="42.8" fill="#85ff00"/><ellipse cx="1060.1" cy="268.1" rx="133.2" ry="42.8" fill="url(#s50)"/><ellipse cx="1060.1" cy="266.4" rx="132.8" ry="42.5" fill="#8cff00"/><ellipse cx="1060.1" cy="266.4" rx="132.8" ry="42.5" fill="url(#s50)"/><ellipse cx="1060.1" cy="264.8" rx="132.3" ry="42.2" fill="#94ff00"/><ellipse cx="1060.1" cy="264.8" rx="132.3" ry="42.2" fill="url(#s50)"/><ellipse cx="1060.1" cy="263.1" rx="131.9" ry="41.9" fill="#9cff00"/><ellipse cx="1060.1" cy="263.1" rx="131.9" ry="41.9" fill="url(#s50)"/><ellipse cx="1060.2" cy="261.4" rx="131.5" ry="41.7" fill="#a3ff00"/><ellipse cx="1060.2" cy="261.4" rx="131.5" ry="41.7" fill="url(#s50)"/><ellipse cx="1060.2" cy="259.7" rx="131.1" ry="41.4" fill="#abff00"/><ellipse cx="1060.2" cy="259.7" rx="131.1" ry="41.4" fill="url(#s50)"/><ellipse cx="1060.2" cy="258.1" rx="130.7" ry="41.1" fill="#b3ff00"/><ellipse cx="1060.2" cy="258.1" rx="130.7" ry="41.1" fill="url(#s50)"/><ellipse cx="1060.2" cy="256.4" rx="130.4" ry="40.9" fill="#b8ff00"/><ellipse cx="1060.2" cy="256.4" rx="130.4" ry="40.9" fill="url(#s50)"/><ellipse cx="1060.2" cy="254.7" rx="130" ry="40.6" fill="#bdfe00"/><ellipse cx="1060.2" cy="254.7" rx="130" ry="40.6" fill="url(#s49)"/><ellipse cx="1060.2" cy="253" rx="129.6" ry="40.4" fill="#c1fe00"/><ellipse cx="1060.2" cy="253" rx="129.6" ry="40.4" fill="url(#s49)"/><ellipse cx="1060.2" cy="251.3" rx="129.3" ry="40.1" fill="#c6fe00"/><ellipse cx="1060.2" cy="251.3" rx="129.3" ry="40.1" fill="url(#s49)"/><ellipse cx="1060.2" cy="249.6" rx="128.9" ry="39.9" fill="#cbfd00"/><ellipse cx="1060.2" cy="249.6" rx="128.9" ry="39.9" fill="url(#s48)"/><ellipse cx="1060.2" cy="247.9" rx="128.6" ry="39.6" fill="#cffd00"/><ellipse cx="1060.2" cy="247.9" rx="128.6" ry="39.6" fill="url(#s48)"/><ellipse cx="1060.3" cy="246.2" rx="128.3" ry="39.4" fill="#d4fd00"/><ellipse cx="1060.3" cy="246.2" rx="128.3" ry="39.4" fill="url(#s47)"/><ellipse cx="1060.3" cy="244.5" rx="128.1" ry="39.2" fill="#d9fc00"/><ellipse cx="1060.3" cy="244.5" rx="128.1" ry="39.2" fill="url(#s47)"/><ellipse cx="1060.3" cy="242.8" rx="127.8" ry="39" fill="#ddfc00"/><ellipse cx="1060.3" cy="242.8" rx="127.8" ry="39" fill="url(#s46)"/><ellipse cx="1060.3" cy="241.1" rx="127.6" ry="38.8" fill="#e2fc00"/><ellipse cx="1060.3" cy="241.1" rx="127.6" ry="38.8" fill="url(#s45)"/><ellipse cx="1060.3" cy="239.5" rx="127.5" ry="38.6" fill="#e6fb00"/><ellipse cx="1060.3" cy="239.5" rx="127.5" ry="38.6" fill="url(#s44)"/><ellipse cx="1060.3" cy="237.9" rx="127.3" ry="38.4" fill="#ebfb00"/><ellipse cx="1060.3" cy="237.9" rx="127.3" ry="38.4" fill="url(#s44)"/><ellipse cx="1060.3" cy="236.3" rx="127.2" ry="38.3" fill="#effb00"/><ellipse cx="1060.3" cy="236.3" rx="127.2" ry="38.3" fill="url(#s43)"/><ellipse cx="1060.3" cy="234.7" rx="127.1" ry="38.1" fill="#f4fa00"/><ellipse cx="1060.3" cy="234.7" rx="127.1" ry="38.1" fill="url(#s42)"/><ellipse cx="1060.3" cy="233.1" rx="127.1" ry="38" fill="#f8fa00"/><ellipse cx="1060.3" cy="233.1" rx="127.1" ry="38" fill="url(#s41)"/><ellipse cx="1060.4" cy="231.5" rx="127.1" ry="37.8" fill="#faf600"/><ellipse cx="1060.4" cy="231.5" rx="127.1" ry="37.8" fill="url(#s41)"/><ellipse cx="1060.4" cy="229.9" rx="127.1" ry="37.7" fill="#faef00"/><ellipse cx="1060.4" cy="229.9" rx="127.1" ry="37.7" fill="url(#s40)"/><ellipse cx="1060.4" cy="228.3" rx="127.2" ry="37.6" fill="#fbe800"/><ellipse cx="1060.4" cy="228.3" rx="127.2" ry="37.6" fill="url(#s39)"/><ellipse cx="1060.4" cy="226.7" rx="127.3" ry="37.5" fill="#fbe100"/><ellipse cx="1060.4" cy="226.7" rx="127.3" ry="37.5" fill="url(#s38)"/><ellipse cx="1060.4" cy="225.1" rx="127.4" ry="37.4" fill="#fbda00"/><ellipse cx="1060.4" cy="225.1" rx="127.4" ry="37.4" fill="url(#s37)"/><ellipse cx="1060.4" cy="223.5" rx="127.6" ry="37.3" fill="#fcd300"/><ellipse cx="1060.4" cy="223.5" rx="127.6" ry="37.3" fill="url(#s37)"/><ellipse cx="1060.4" cy="221.9" rx="127.8" ry="37.2" fill="#fccd00"/><ellipse cx="1060.4" cy="221.9" rx="127.8" ry="37.2" fill="url(#s36)" opacity=".97"/><ellipse cx="1060.4" cy="220.3" rx="128" ry="37.2" fill="#fcc600"/><ellipse cx="1060.4" cy="220.3" rx="128" ry="37.2" fill="url(#s35)" opacity=".94"/><ellipse cx="1060.5" cy="218.6" rx="128.2" ry="37.1" fill="#fcbe00"/><ellipse cx="1060.5" cy="218.6" rx="128.2" ry="37.1" fill="url(#s34)" opacity=".91"/><ellipse cx="1060.5" cy="216.9" rx="128.5" ry="37" fill="#fdb700"/><ellipse cx="1060.5" cy="216.9" rx="128.5" ry="37" fill="url(#s34)" opacity=".88"/><ellipse cx="1060.5" cy="215.2" rx="128.9" ry="37" fill="#fdb000"/><ellipse cx="1060.5" cy="215.2" rx="128.9" ry="37" fill="url(#s33)" opacity=".86"/><ellipse cx="1060.5" cy="215.2" rx="128.9" ry="37" fill="url(#r33)" opacity=".01"/><ellipse cx="1060.5" cy="213.5" rx="129.2" ry="37" fill="#fda900"/><ellipse cx="1060.5" cy="213.5" rx="129.2" ry="37" fill="url(#s33)" opacity=".83"/><ellipse cx="1060.5" cy="213.5" rx="129.2" ry="37" fill="url(#r33)" opacity=".04"/><ellipse cx="1060.5" cy="211.8" rx="129.6" ry="36.9" fill="#fea100"/><ellipse cx="1060.5" cy="211.8" rx="129.6" ry="36.9" fill="url(#s32)" opacity=".81"/><ellipse cx="1060.5" cy="211.8" rx="129.6" ry="36.9" fill="url(#r32)" opacity=".07"/><ellipse cx="1060.5" cy="210.1" rx="130" ry="36.9" fill="#fe9a00"/><ellipse cx="1060.5" cy="210.1" rx="130" ry="36.9" fill="url(#s32)" opacity=".79"/><ellipse cx="1060.5" cy="210.1" rx="130" ry="36.9" fill="url(#r32)" opacity=".09"/><ellipse cx="1060.5" cy="208.4" rx="130.4" ry="36.9" fill="#fe9300"/><ellipse cx="1060.5" cy="208.4" rx="130.4" ry="36.9" fill="url(#s31)" opacity=".78"/><ellipse cx="1060.5" cy="208.4" rx="130.4" ry="36.9" fill="url(#r31)" opacity=".11"/><ellipse cx="1060.5" cy="206.8" rx="130.9" ry="36.8" fill="#ff8c00"/><ellipse cx="1060.5" cy="206.8" rx="130.9" ry="36.8" fill="url(#s31)" opacity=".76"/><ellipse cx="1060.5" cy="206.8" rx="130.9" ry="36.8" fill="url(#r31)" opacity=".13"/><ellipse cx="1060.6" cy="205.1" rx="131.3" ry="36.8" fill="#ff8400"/><ellipse cx="1060.6" cy="205.1" rx="131.3" ry="36.8" fill="url(#s30)" opacity=".75"/><ellipse cx="1060.6" cy="205.1" rx="131.3" ry="36.8" fill="url(#r30)" opacity=".14"/><ellipse cx="1060.6" cy="203.4" rx="131.8" ry="36.8" fill="#ff7d00"/><ellipse cx="1060.6" cy="203.4" rx="131.8" ry="36.8" fill="url(#s30)" opacity=".74"/><ellipse cx="1060.6" cy="203.4" rx="131.8" ry="36.8" fill="url(#r30)" opacity=".16"/><ellipse cx="1060.6" cy="201.8" rx="132.2" ry="36.8" fill="#ff7500"/><ellipse cx="1060.6" cy="201.8" rx="132.2" ry="36.8" fill="url(#s30)" opacity=".73"/><ellipse cx="1060.6" cy="201.8" rx="132.2" ry="36.8" fill="url(#r30)" opacity=".17"/><ellipse cx="1060.6" cy="200.1" rx="132.7" ry="36.8" fill="#ff6d00"/><ellipse cx="1060.6" cy="200.1" rx="132.7" ry="36.8" fill="url(#s30)" opacity=".73"/><ellipse cx="1060.6" cy="200.1" rx="132.7" ry="36.8" fill="url(#r30)" opacity=".17"/><ellipse cx="1060.6" cy="198.4" rx="133.2" ry="36.8" fill="#ff6500"/><ellipse cx="1060.6" cy="198.4" rx="133.2" ry="36.8" fill="url(#s30)" opacity=".72"/><ellipse cx="1060.6" cy="198.4" rx="133.2" ry="36.8" fill="url(#r30)" opacity=".18"/><ellipse cx="1060.6" cy="196.8" rx="133.7" ry="36.8" fill="#ff5d00"/><ellipse cx="1060.6" cy="196.8" rx="133.7" ry="36.8" fill="url(#s30)" opacity=".72"/><ellipse cx="1060.6" cy="196.8" rx="133.7" ry="36.8" fill="url(#r30)" opacity=".18"/><ellipse cx="1060.6" cy="195.1" rx="134.2" ry="36.7" fill="#f50"/><ellipse cx="1060.6" cy="195.1" rx="134.2" ry="36.7" fill="url(#s30)" opacity=".72"/><ellipse cx="1060.6" cy="195.1" rx="134.2" ry="36.7" fill="url(#r30)" opacity=".18"/><ellipse cx="1060.6" cy="193.4" rx="134.6" ry="36.7" fill="#ff4d00"/><ellipse cx="1060.6" cy="193.4" rx="134.6" ry="36.7" fill="url(#s30)" opacity=".72"/><ellipse cx="1060.6" cy="193.4" rx="134.6" ry="36.7" fill="url(#r30)" opacity=".18"/><ellipse cx="1060.7" cy="191.8" rx="135.1" ry="36.7" fill="#ff4500"/><ellipse cx="1060.7" cy="191.8" rx="135.1" ry="36.7" fill="url(#s30)" opacity=".73"/><ellipse cx="1060.7" cy="191.8" rx="135.1" ry="36.7" fill="url(#r30)" opacity=".17"/><ellipse cx="1060.7" cy="190.1" rx="135.6" ry="36.7" fill="#ff3d00"/><ellipse cx="1060.7" cy="190.1" rx="135.6" ry="36.7" fill="url(#s30)" opacity=".73"/><ellipse cx="1060.7" cy="190.1" rx="135.6" ry="36.7" fill="url(#r30)" opacity=".17"/><ellipse cx="1060.7" cy="188.4" rx="136.1" ry="36.7" fill="#ff3500"/><ellipse cx="1060.7" cy="188.4" rx="136.1" ry="36.7" fill="url(#s30)" opacity=".74"/><ellipse cx="1060.7" cy="188.4" rx="136.1" ry="36.7" fill="url(#r30)" opacity=".16"/><ellipse cx="1060.7" cy="186.7" rx="136.6" ry="36.7" fill="#ff2f00"/><ellipse cx="1060.7" cy="186.7" rx="136.6" ry="36.7" fill="url(#s30)" opacity=".75"/><ellipse cx="1060.7" cy="186.7" rx="136.6" ry="36.7" fill="url(#r30)" opacity=".15"/><ellipse cx="1060.7" cy="185.1" rx="137" ry="36.6" fill="#ff2a00"/><ellipse cx="1060.7" cy="185.1" rx="137" ry="36.6" fill="url(#s31)" opacity=".76"/><ellipse cx="1060.7" cy="185.1" rx="137" ry="36.6" fill="url(#r31)" opacity=".13"/><ellipse cx="1060.7" cy="183.4" rx="137.5" ry="36.6" fill="#ff2500"/><ellipse cx="1060.7" cy="183.4" rx="137.5" ry="36.6" fill="url(#s31)" opacity=".77"/><ellipse cx="1060.7" cy="183.4" rx="137.5" ry="36.6" fill="url(#r31)" opacity=".12"/><ellipse cx="1060.7" cy="181.7" rx="137.9" ry="36.6" fill="#ff2000"/><ellipse cx="1060.7" cy="181.7" rx="137.9" ry="36.6" fill="url(#s31)" opacity=".79"/><ellipse cx="1060.7" cy="181.7" rx="137.9" ry="36.6" fill="url(#r31)" opacity=".10"/><ellipse cx="1060.8" cy="180" rx="138.3" ry="36.5" fill="#ff1b00"/><ellipse cx="1060.8" cy="180" rx="138.3" ry="36.5" fill="url(#s32)" opacity=".80"/><ellipse cx="1060.8" cy="180" rx="138.3" ry="36.5" fill="url(#r32)" opacity=".08"/><ellipse cx="1060.8" cy="178.3" rx="138.7" ry="36.5" fill="#ff1600"/><ellipse cx="1060.8" cy="178.3" rx="138.7" ry="36.5" fill="url(#s32)" opacity=".82"/><ellipse cx="1060.8" cy="178.3" rx="138.7" ry="36.5" fill="url(#r32)" opacity=".06"/><ellipse cx="1060.8" cy="176.6" rx="139.1" ry="36.4" fill="#f10"/><ellipse cx="1060.8" cy="176.6" rx="139.1" ry="36.4" fill="url(#s33)" opacity=".84"/><ellipse cx="1060.8" cy="176.6" rx="139.1" ry="36.4" fill="url(#r33)" opacity=".04"/><ellipse cx="1060.8" cy="174.9" rx="139.4" ry="36.3" fill="#ff0d00"/><ellipse cx="1060.8" cy="174.9" rx="139.4" ry="36.3" fill="url(#s33)" opacity=".86"/><ellipse cx="1060.8" cy="174.9" rx="139.4" ry="36.3" fill="url(#r33)" opacity=".01"/><ellipse cx="1060.8" cy="173.1" rx="139.8" ry="36.3" fill="#ff0c00"/><ellipse cx="1060.8" cy="173.1" rx="139.8" ry="36.3" fill="url(#s34)" opacity=".88"/><ellipse cx="1060.8" cy="171.4" rx="140.1" ry="36.2" fill="#ff0a00"/><ellipse cx="1060.8" cy="171.4" rx="140.1" ry="36.2" fill="url(#s34)" opacity=".91"/><ellipse cx="1060.8" cy="169.7" rx="140.3" ry="36.1" fill="#ff0800"/><ellipse cx="1060.8" cy="169.7" rx="140.3" ry="36.1" fill="url(#s35)" opacity=".94"/><ellipse cx="1060.8" cy="168" rx="140.6" ry="36" fill="#ff0700"/><ellipse cx="1060.8" cy="168" rx="140.6" ry="36" fill="url(#s36)" opacity=".96"/><ellipse cx="1060.9" cy="166.4" rx="140.8" ry="35.9" fill="#ff0500"/><ellipse cx="1060.9" cy="166.4" rx="140.8" ry="35.9" fill="url(#s37)"/><ellipse cx="1060.9" cy="164.8" rx="140.9" ry="35.8" fill="#ff0400"/><ellipse cx="1060.9" cy="164.8" rx="140.9" ry="35.8" fill="url(#s37)"/><ellipse cx="1060.9" cy="163.2" rx="141" ry="35.7" fill="#ff0200"/><ellipse cx="1060.9" cy="163.2" rx="141" ry="35.7" fill="url(#s38)"/><ellipse cx="1060.9" cy="161.5" rx="141.1" ry="35.6" fill="#ff0100"/><ellipse cx="1060.9" cy="161.5" rx="141.1" ry="35.6" fill="url(#s39)"/><ellipse cx="1060.9" cy="159.9" rx="141.2" ry="35.4" fill="#f00"/><ellipse cx="1060.9" cy="159.9" rx="141.2" ry="35.4" fill="url(#s40)"/><ellipse cx="1060.9" cy="158.2" rx="141.2" ry="35.3" fill="#f00"/><ellipse cx="1060.9" cy="158.2" rx="141.2" ry="35.3" fill="url(#s41)"/><ellipse cx="1060.9" cy="156.6" rx="141.2" ry="35.1" fill="#f00"/><ellipse cx="1060.9" cy="156.6" rx="141.2" ry="35.1" fill="url(#s43)"/><ellipse cx="1060.9" cy="154.9" rx="141.1" ry="34.9" fill="#f00"/><ellipse cx="1060.9" cy="154.9" rx="141.1" ry="34.9" fill="url(#s44)"/><ellipse cx="1061" cy="153.3" rx="140.9" ry="34.8" fill="#f00"/><ellipse cx="1061" cy="153.3" rx="140.9" ry="34.8" fill="url(#s45)"/><ellipse cx="1061" cy="151.5" rx="140.7" ry="34.5" fill="#f00"/><ellipse cx="1061" cy="151.5" rx="140.7" ry="34.5" fill="url(#s47)"/><ellipse cx="1061" cy="149.8" rx="140.4" ry="34.3" fill="#f00"/><ellipse cx="1061" cy="149.8" rx="140.4" ry="34.3" fill="url(#s48)"/><ellipse cx="1061" cy="148" rx="140" ry="34.1" fill="#f00"/><ellipse cx="1061" cy="148" rx="140" ry="34.1" fill="url(#s50)"/><ellipse cx="1061" cy="146.3" rx="139.6" ry="33.8" fill="#f00"/><ellipse cx="1061" cy="146.3" rx="139.6" ry="33.8" fill="url(#s52)"/><ellipse cx="1061" cy="144.6" rx="139" ry="33.5" fill="#f00"/><ellipse cx="1061" cy="144.6" rx="139" ry="33.5" fill="url(#s54)"/><ellipse cx="1061" cy="142.9" rx="138.4" ry="33.2" fill="#f00"/><ellipse cx="1061" cy="142.9" rx="138.4" ry="33.2" fill="url(#s56)"/><ellipse cx="1061" cy="141.1" rx="137.7" ry="32.9" fill="#f00"/><ellipse cx="1061" cy="141.1" rx="137.7" ry="32.9" fill="url(#s58)"/><ellipse cx="1061" cy="139.4" rx="136.9" ry="32.6" fill="#f00"/><ellipse cx="1061" cy="139.4" rx="136.9" ry="32.6" fill="url(#s60)"/><ellipse cx="1061" cy="137.6" rx="135.9" ry="32.2" fill="#f00"/><ellipse cx="1061" cy="137.6" rx="135.9" ry="32.2" fill="url(#s62)"/><ellipse cx="1061.1" cy="135.9" rx="134.8" ry="31.8" fill="#f00"/><ellipse cx="1061.1" cy="135.9" rx="134.8" ry="31.8" fill="url(#s64)"/><ellipse cx="1061.1" cy="134.2" rx="133.6" ry="31.3" fill="#f00"/><ellipse cx="1061.1" cy="134.2" rx="133.6" ry="31.3" fill="url(#s67)"/><ellipse cx="1061.1" cy="132.4" rx="132.1" ry="30.9" fill="#f00"/><ellipse cx="1061.1" cy="132.4" rx="132.1" ry="30.9" fill="url(#s69)"/><ellipse cx="1061.1" cy="130.7" rx="130.5" ry="30.3" fill="#f00"/><ellipse cx="1061.1" cy="130.7" rx="130.5" ry="30.3" fill="url(#s72)"/><ellipse cx="1061.1" cy="129.1" rx="128.8" ry="29.8" fill="#f00"/><ellipse cx="1061.1" cy="129.1" rx="128.8" ry="29.8" fill="url(#s75)"/><ellipse cx="1061.1" cy="127.8" rx="127.2" ry="29.3" fill="#f00"/><ellipse cx="1061.1" cy="127.8" rx="127.2" ry="29.3" fill="url(#s78)"/><ellipse cx="1061.1" cy="126.7" rx="125.5" ry="28.9" fill="#f00"/><ellipse cx="1061.1" cy="126.7" rx="125.5" ry="28.9" fill="url(#s81)"/><ellipse cx="1061.1" cy="125.8" rx="123.9" ry="28.4" fill="#f00"/><ellipse cx="1061.1" cy="125.8" rx="123.9" ry="28.4" fill="url(#s84)"/><ellipse cx="1061.1" cy="125" rx="122.2" ry="28" fill="#f00"/><ellipse cx="1061.1" cy="125" rx="122.2" ry="28" fill="url(#s87)"/><ellipse cx="1061.1" cy="124.5" rx="120.6" ry="27.6" fill="#f00"/><ellipse cx="1061.1" cy="124.5" rx="120.6" ry="27.6" fill="url(#s91)"/><ellipse cx="1061.1" cy="124.1" rx="118.9" ry="27.2" fill="#f00"/><ellipse cx="1061.1" cy="124.1" rx="118.9" ry="27.2" fill="url(#s95)"/><ellipse cx="1061.1" cy="123.9" rx="117.2" ry="26.8" fill="#f00"/><ellipse cx="1061.1" cy="123.9" rx="117.2" ry="26.8" fill="url(#s99)"/><ellipse cx="1061.1" cy="123.9" rx="116.9" ry="26.7" fill="#f00"/><ellipse cx="1061.1" cy="123.9" rx="116.9" ry="26.7" fill="url(#s100)"/><clipPath id="c10"><ellipse cx="1061.1" cy="123.9" rx="116.4" ry="26.2"/></clipPath><g clip-path="url(#c10)"><ellipse cx="1061.1" cy="123.9" rx="114.7" ry="25.8" fill="#f00"/><ellipse cx="1061.1" cy="123.9" rx="114.7" ry="25.8" fill="url(#s102)"/><ellipse cx="1061.1" cy="123.9" rx="113" ry="25.5" fill="#f00"/><ellipse cx="1061.1" cy="123.9" rx="113" ry="25.5" fill="url(#s103)"/><ellipse cx="1061.1" cy="124" rx="111.3" ry="25.1" fill="#f00"/><ellipse cx="1061.1" cy="124" rx="111.3" ry="25.1" fill="url(#s104)"/><ellipse cx="1061.1" cy="124.2" rx="109.6" ry="24.7" fill="#f00"/><ellipse cx="1061.1" cy="124.2" rx="109.6" ry="24.7" fill="url(#s106)"/><ellipse cx="1061.1" cy="124.5" rx="108" ry="24.4" fill="#f00"/><ellipse cx="1061.1" cy="124.5" rx="108" ry="24.4" fill="url(#s107)"/><ellipse cx="1061.1" cy="124.7" rx="106.3" ry="24" fill="#f00"/><ellipse cx="1061.1" cy="124.7" rx="106.3" ry="24" fill="url(#s108)"/><ellipse cx="1061.1" cy="125.1" rx="104.6" ry="23.6" fill="#f00"/><ellipse cx="1061.1" cy="125.1" rx="104.6" ry="23.6" fill="url(#s109)"/><ellipse cx="1061.1" cy="125.5" rx="102.9" ry="23.3" fill="#f00"/><ellipse cx="1061.1" cy="125.5" rx="102.9" ry="23.3" fill="url(#s110)"/><ellipse cx="1061.1" cy="125.9" rx="101.3" ry="23" fill="#f00"/><ellipse cx="1061.1" cy="125.9" rx="101.3" ry="23" fill="url(#s111)"/><ellipse cx="1061.1" cy="126.4" rx="99.7" ry="22.6" fill="#f00"/><ellipse cx="1061.1" cy="126.4" rx="99.7" ry="22.6" fill="url(#s111)"/><ellipse cx="1061.1" cy="126.8" rx="98" ry="22.3" fill="#f00"/><ellipse cx="1061.1" cy="126.8" rx="98" ry="22.3" fill="url(#s112)"/><ellipse cx="1061.1" cy="127.4" rx="96.4" ry="21.9" fill="#f00"/><ellipse cx="1061.1" cy="127.4" rx="96.4" ry="21.9" fill="url(#s113)"/><ellipse cx="1061.1" cy="128" rx="94.7" ry="21.6" fill="#f00"/><ellipse cx="1061.1" cy="128" rx="94.7" ry="21.6" fill="url(#s113)"/><ellipse cx="1061.1" cy="128.6" rx="92.9" ry="21.2" fill="#f00"/><ellipse cx="1061.1" cy="128.6" rx="92.9" ry="21.2" fill="url(#s114)"/><ellipse cx="1061.1" cy="129.2" rx="91.2" ry="20.9" fill="#f00"/><ellipse cx="1061.1" cy="129.2" rx="91.2" ry="20.9" fill="url(#s114)"/><ellipse cx="1061.1" cy="129.9" rx="89.5" ry="20.5" fill="#f00"/><ellipse cx="1061.1" cy="129.9" rx="89.5" ry="20.5" fill="url(#s115)"/><ellipse cx="1061.1" cy="130.6" rx="87.8" ry="20.2" fill="#f00"/><ellipse cx="1061.1" cy="130.6" rx="87.8" ry="20.2" fill="url(#s115)"/><ellipse cx="1061.1" cy="131.3" rx="86.2" ry="19.8" fill="#f00"/><ellipse cx="1061.1" cy="131.3" rx="86.2" ry="19.8" fill="url(#s116)"/><ellipse cx="1061.1" cy="132" rx="84.5" ry="19.5" fill="#f00"/><ellipse cx="1061.1" cy="132" rx="84.5" ry="19.5" fill="url(#s116)"/><ellipse cx="1061.1" cy="132.7" rx="82.8" ry="19.1" fill="#f00"/><ellipse cx="1061.1" cy="132.7" rx="82.8" ry="19.1" fill="url(#s116)"/><ellipse cx="1061.1" cy="133.5" rx="81.1" ry="18.8" fill="#f00"/><ellipse cx="1061.1" cy="133.5" rx="81.1" ry="18.8" fill="url(#s117)"/><ellipse cx="1061.1" cy="134.3" rx="79.5" ry="18.5" fill="#f00"/><ellipse cx="1061.1" cy="134.3" rx="79.5" ry="18.5" fill="url(#s117)"/><ellipse cx="1061.1" cy="135.1" rx="77.8" ry="18.1" fill="#f00"/><ellipse cx="1061.1" cy="135.1" rx="77.8" ry="18.1" fill="url(#s117)"/><ellipse cx="1061.1" cy="135.9" rx="76.2" ry="17.8" fill="#f00"/><ellipse cx="1061.1" cy="135.9" rx="76.2" ry="17.8" fill="url(#s117)"/><ellipse cx="1061.1" cy="136.7" rx="74.5" ry="17.4" fill="#f00"/><ellipse cx="1061.1" cy="136.7" rx="74.5" ry="17.4" fill="url(#s118)"/><ellipse cx="1061" cy="137.5" rx="72.9" ry="17.1" fill="#f00"/><ellipse cx="1061" cy="137.5" rx="72.9" ry="17.1" fill="url(#s118)"/><ellipse cx="1061" cy="138.3" rx="71.3" ry="16.7" fill="#f00"/><ellipse cx="1061" cy="138.3" rx="71.3" ry="16.7" fill="url(#s118)"/><ellipse cx="1061" cy="139.1" rx="69.7" ry="16.4" fill="#f00"/><ellipse cx="1061" cy="139.1" rx="69.7" ry="16.4" fill="url(#s118)"/><ellipse cx="1061" cy="140" rx="68" ry="16.1" fill="#f00"/><ellipse cx="1061" cy="140" rx="68" ry="16.1" fill="url(#s118)"/><ellipse cx="1061" cy="140.8" rx="66.4" ry="15.7" fill="#f00"/><ellipse cx="1061" cy="140.8" rx="66.4" ry="15.7" fill="url(#s119)"/><ellipse cx="1061" cy="141.8" rx="64.7" ry="15.3" fill="#f00"/><ellipse cx="1061" cy="141.8" rx="64.7" ry="15.3" fill="url(#s119)"/><ellipse cx="1061" cy="142.7" rx="63" ry="15" fill="#f00"/><ellipse cx="1061" cy="142.7" rx="63" ry="15" fill="url(#s119)"/><ellipse cx="1061" cy="143.6" rx="61.3" ry="14.6" fill="#f00"/><ellipse cx="1061" cy="143.6" rx="61.3" ry="14.6" fill="url(#s119)"/><ellipse cx="1061" cy="144.5" rx="59.5" ry="14.2" fill="#f00"/><ellipse cx="1061" cy="144.5" rx="59.5" ry="14.2" fill="url(#s119)"/><ellipse cx="1061" cy="145.5" rx="57.8" ry="13.9" fill="#f00"/><ellipse cx="1061" cy="145.5" rx="57.8" ry="13.9" fill="url(#s119)"/><ellipse cx="1061" cy="146.4" rx="56.1" ry="13.5" fill="#f00"/><ellipse cx="1061" cy="146.4" rx="56.1" ry="13.5" fill="url(#s119)"/><ellipse cx="1061" cy="147.4" rx="54.4" ry="13.1" fill="#f00"/><ellipse cx="1061" cy="147.4" rx="54.4" ry="13.1" fill="url(#s119)"/><ellipse cx="1061" cy="148.3" rx="52.7" ry="12.7" fill="#f00"/><ellipse cx="1061" cy="148.3" rx="52.7" ry="12.7" fill="url(#s120)"/><ellipse cx="1061" cy="149.3" rx="51" ry="12.4" fill="#f00"/><ellipse cx="1061" cy="149.3" rx="51" ry="12.4" fill="url(#s120)"/><ellipse cx="1061" cy="150.3" rx="49.4" ry="12" fill="#f00"/><ellipse cx="1061" cy="150.3" rx="49.4" ry="12" fill="url(#s120)"/><ellipse cx="1061" cy="151.2" rx="47.7" ry="11.6" fill="#f00"/><ellipse cx="1061" cy="151.2" rx="47.7" ry="11.6" fill="url(#s120)"/><ellipse cx="1061" cy="152.2" rx="46" ry="11.2" fill="#f00"/><ellipse cx="1061" cy="152.2" rx="46" ry="11.2" fill="url(#s120)"/><ellipse cx="1060.9" cy="153.2" rx="44.3" ry="10.8" fill="#f00"/><ellipse cx="1060.9" cy="153.2" rx="44.3" ry="10.8" fill="url(#s120)"/><ellipse cx="1060.9" cy="154.2" rx="42.6" ry="10.5" fill="#f00"/><ellipse cx="1060.9" cy="154.2" rx="42.6" ry="10.5" fill="url(#s120)"/><ellipse cx="1060.9" cy="155.2" rx="40.9" ry="10.1" fill="#f00"/><ellipse cx="1060.9" cy="155.2" rx="40.9" ry="10.1" fill="url(#s120)"/><ellipse cx="1060.9" cy="156.1" rx="39.3" ry="9.7" fill="#f00"/><ellipse cx="1060.9" cy="156.1" rx="39.3" ry="9.7" fill="url(#s120)"/><ellipse cx="1060.9" cy="157.1" rx="37.6" ry="9.3" fill="#f00"/><ellipse cx="1060.9" cy="157.1" rx="37.6" ry="9.3" fill="url(#s120)"/><ellipse cx="1060.9" cy="158.1" rx="35.9" ry="8.9" fill="#f00"/><ellipse cx="1060.9" cy="158.1" rx="35.9" ry="8.9" fill="url(#s120)"/><ellipse cx="1060.9" cy="159.1" rx="34.2" ry="8.5" fill="#ff0100"/><ellipse cx="1060.9" cy="159.1" rx="34.2" ry="8.5" fill="url(#s120)"/><ellipse cx="1060.9" cy="160.1" rx="32.6" ry="8.1" fill="#ff0200"/><ellipse cx="1060.9" cy="160.1" rx="32.6" ry="8.1" fill="url(#s120)"/><ellipse cx="1060.9" cy="161.1" rx="30.9" ry="7.7" fill="#ff0300"/><ellipse cx="1060.9" cy="161.1" rx="30.9" ry="7.7" fill="url(#s120)"/><ellipse cx="1060.9" cy="162.1" rx="29.2" ry="7.3" fill="#ff0400"/><ellipse cx="1060.9" cy="162.1" rx="29.2" ry="7.3" fill="url(#s120)"/><ellipse cx="1060.9" cy="163.1" rx="27.6" ry="6.9" fill="#ff0500"/><ellipse cx="1060.9" cy="163.1" rx="27.6" ry="6.9" fill="url(#s120)"/><ellipse cx="1060.9" cy="164.1" rx="25.9" ry="6.5" fill="#ff0600"/><ellipse cx="1060.9" cy="164.1" rx="25.9" ry="6.5" fill="url(#s120)"/><ellipse cx="1060.9" cy="165.1" rx="24.2" ry="6.1" fill="#ff0700"/><ellipse cx="1060.9" cy="165.1" rx="24.2" ry="6.1" fill="url(#s120)"/><ellipse cx="1060.9" cy="166.1" rx="22.6" ry="5.7" fill="#ff0800"/><ellipse cx="1060.9" cy="166.1" rx="22.6" ry="5.7" fill="url(#s120)"/><ellipse cx="1060.8" cy="167.1" rx="20.9" ry="5.3" fill="#ff0900"/><ellipse cx="1060.8" cy="167.1" rx="20.9" ry="5.3" fill="url(#s120)"/><ellipse cx="1060.8" cy="168.1" rx="19.2" ry="4.9" fill="#ff0a00"/><ellipse cx="1060.8" cy="168.1" rx="19.2" ry="4.9" fill="url(#s120)"/><ellipse cx="1060.8" cy="169.1" rx="17.6" ry="4.5" fill="#ff0b00"/><ellipse cx="1060.8" cy="169.1" rx="17.6" ry="4.5" fill="url(#s120)"/><ellipse cx="1060.8" cy="170.1" rx="15.9" ry="4.1" fill="#ff0c00"/><ellipse cx="1060.8" cy="170.1" rx="15.9" ry="4.1" fill="url(#s120)"/><ellipse cx="1060.8" cy="171" rx="14.3" ry="3.7" fill="#ff0d00"/><ellipse cx="1060.8" cy="171" rx="14.3" ry="3.7" fill="url(#s119)"/><ellipse cx="1060.8" cy="172" rx="12.6" ry="3.2" fill="#ff0e00"/><ellipse cx="1060.8" cy="172" rx="12.6" ry="3.2" fill="url(#s119)"/><ellipse cx="1060.8" cy="172.9" rx="10.9" ry="2.8" fill="#ff0f00"/><ellipse cx="1060.8" cy="172.9" rx="10.9" ry="2.8" fill="url(#s118)"/><ellipse cx="1060.8" cy="173.7" rx="9.3" ry="2.4" fill="#ff1200"/><ellipse cx="1060.8" cy="173.7" rx="9.3" ry="2.4" fill="url(#s117)"/><ellipse cx="1060.8" cy="174.5" rx="7.6" ry="2" fill="#ff1400"/><ellipse cx="1060.8" cy="174.5" rx="7.6" ry="2" fill="url(#s115)"/><ellipse cx="1060.8" cy="175.1" rx="6" ry="1.6" fill="#ff1600"/><ellipse cx="1060.8" cy="175.1" rx="6" ry="1.6" fill="url(#s113)"/><ellipse cx="1060.8" cy="175.6" rx="4.3" ry="1.1" fill="#ff1800"/><ellipse cx="1060.8" cy="175.6" rx="4.3" ry="1.1" fill="url(#s110)"/><ellipse cx="1060.8" cy="176" rx="2.7" ry="0.7" fill="#ff1900"/><ellipse cx="1060.8" cy="176" rx="2.7" ry="0.7" fill="url(#s106)"/><ellipse cx="1060.8" cy="176.2" rx="1" ry="0.3" fill="#ff1900"/><ellipse cx="1060.8" cy="176.2" rx="1" ry="0.3" fill="url(#s102)"/><ellipse cx="1060.8" cy="176.2" rx="0.1" ry="0" fill="#ff1900"/><ellipse cx="1060.8" cy="176.2" rx="0.1" ry="0" fill="url(#s100)"/></g></g></g><path d="M806.5 47.6L818.9 411.7M818.9 411.7L1097.7 513M1097.7 513L1289.2 389.1M818.9 411.7l-4.6 2M1097.7 513l-4.2 2.7M1289.2 389.1l4.8 1.3M815.9 324.8l-4.7 1.8M1020.2 484.8l-4.3 2.5M1247.8 415.9l4.8 1.4M812.9 235.2l-4.8 1.5M948.3 458.7l-4.4 2.3M1202.4 445.3l4.8 1.5M809.7 142.9l-4.8 1.2M881.4 434.4l-4.5 2.2M1152.7 477.5l4.7 1.6M806.5 47.6l-4.9 0.9M818.9 411.7l-4.6 2M1097.7 513l4.7 1.7M1268.9 402.2l2.9 0.8M1225.6 430.3l2.9 0.9M1178.1 461l2.9 0.9M1125.9 494.8l2.8 1" stroke="#444" stroke-width="1.7" fill="none" stroke-linecap="square"/><g><text transform="matrix(0.2228 -0.04271 0.01134 0.3198 798.8 60.65)" font-size="100" text-anchor="end" fill="#333" font-weight="normal">20</text><text transform="matrix(0.2188 -0.05679 0.01099 0.31 802.2 156)" font-size="100" text-anchor="end" fill="#333" font-weight="normal">10</text><text transform="matrix(0.215 -0.07001 0.01066 0.3006 805.5 248.5)" font-size="100" text-anchor="end" fill="#333" font-weight="normal">0</text><text transform="matrix(0.2113 -0.08241 0.01034 0.2917 808.7 338.2)" font-size="100" text-anchor="end" fill="#333" font-weight="normal">-10</text><text transform="matrix(0.2077 -0.09406 0.01004 0.2831 811.7 425.3)" font-size="100" text-anchor="end" fill="#333" font-weight="normal">-20</text><text transform="matrix(0.1971 -0.09619 0.2061 0.07567 880.1 441.3)" font-size="100" text-anchor="end" fill="#333" font-weight="normal">10</text><text transform="matrix(0.194 -0.1035 0.2213 0.08126 947.7 466.1)" font-size="100" text-anchor="end" fill="#333" font-weight="normal">0</text><text transform="matrix(0.1897 -0.1116 0.2383 0.0875 1020 492.8)" font-size="100" text-anchor="end" fill="#333" font-weight="normal">-10</text><text transform="matrix(0.1995 -0.08964 0.1924 0.07063 817 418.2)" font-size="100" text-anchor="end" fill="#333" font-weight="normal">20</text><text transform="matrix(0.2386 0.0668 -0.1291 0.08451 1292 394.3)" font-size="100" text-anchor="start" fill="#333" font-weight="normal">-20</text><text transform="matrix(0.2447 0.0728 -0.141 0.09229 1251 421.6)" font-size="100" text-anchor="start" fill="#333" font-weight="normal">-10</text><text transform="matrix(0.2511 0.07966 -0.1546 0.1012 1205 451.4)" font-size="100" text-anchor="start" fill="#333" font-weight="normal">0</text><text transform="matrix(0.2575 0.08756 -0.1703 0.1115 1155 484.2)" font-size="100" text-anchor="start" fill="#333" font-weight="normal">10</text><text transform="matrix(0.2639 0.09671 -0.1885 0.1234 1099 520.5)" font-size="100" text-anchor="start" fill="#333" font-weight="normal">20</text></g><text x="808" y="75.5" font-size="26.6" font-weight="bold">Shear modulus</text><text x="1171" y="82" font-size="26.6" font-weight="bold">KNaS</text><text x="729" y="258" font-size="33.5" font-weight="bold">Gz</text><text x="885.5" y="510" font-size="33.5" font-weight="bold">Gy</text><text x="1233" y="487.7" font-size="33.5" font-weight="bold">Gx</text><path d="M1722.3 345L1718.5 19.7M1772.1 250L1544 323.1M1668.4 365.2L1661.9 27.9M1771.7 172.3L1540.8 233.2M1610.2 387.1L1600.6 36.9M1771.3 93L1537.5 141M1953.9 376.3L1960.8 31.7M2025.3 309.4L1772.1 250M1889.5 358.5L1893.2 24.7M2027.9 221.5L1771.7 172.3M1829.2 341.8L1830.1 18.1M2030.5 131.5L1771.3 93M1976 419.7L1722.3 345M1953.9 376.3L1735.5 480.2M1925.1 446.3L1668.4 365.2M1889.5 358.5L1668 455.3M1869.5 475.4L1610.2 387.1M1829.2 341.8L1605.4 432.3" stroke="#dadada" stroke-width="1.3" fill="none"/><path d="M1772.4 326.1L1770.9 12M1772.4 326.1L1547.2 410.8M1547.2 410.8L1534.1 46.6M1770.9 12L1534.1 46.6M2022.8 395.3L2033.2 39.2M2022.8 395.3L1772.4 326.1M2033.2 39.2L1770.9 12M2022.8 395.3L1772.4 326.1M2022.8 395.3L1808.6 507.2M1808.6 507.2L1547.2 410.8M1772.4 326.1L1547.2 410.8" stroke="#b8b8b8" stroke-width="1.4" fill="none"/><clipPath id="kc20"><ellipse cx="1787.5" cy="303.1" rx="5.9" ry="1.8"/><ellipse cx="1787.5" cy="304.3" rx="10.8" ry="3.4"/><ellipse cx="1787.5" cy="306.1" rx="15.6" ry="4.8"/><ellipse cx="1787.5" cy="308.3" rx="20.6" ry="6.4"/><ellipse cx="1787.5" cy="310.7" rx="25.5" ry="8"/><ellipse cx="1787.5" cy="313.3" rx="30.3" ry="9.6"/><ellipse cx="1787.5" cy="315.8" rx="35.1" ry="11.1"/><ellipse cx="1787.5" cy="318.4" rx="40" ry="12.7"/><ellipse cx="1787.6" cy="321" rx="44.8" ry="14.4"/><ellipse cx="1787.6" cy="323.5" rx="49.7" ry="16"/><ellipse cx="1787.6" cy="325.9" rx="54.6" ry="17.7"/><ellipse cx="1787.6" cy="328.3" rx="59.6" ry="19.4"/><ellipse cx="1787.6" cy="330.5" rx="64.6" ry="21.1"/><ellipse cx="1787.6" cy="332.5" rx="69.3" ry="22.7"/><ellipse cx="1787.6" cy="334.3" rx="74" ry="24.3"/><ellipse cx="1787.6" cy="336" rx="78.8" ry="26"/><ellipse cx="1787.5" cy="337.6" rx="83.6" ry="27.6"/><ellipse cx="1787.5" cy="339" rx="88.5" ry="29.3"/><ellipse cx="1787.5" cy="340.3" rx="93.4" ry="31"/><ellipse cx="1787.5" cy="342" rx="126.2" ry="42"/><ellipse cx="1787.5" cy="340.7" rx="131.1" ry="43.5"/><ellipse cx="1787.5" cy="338.8" rx="136" ry="45"/><ellipse cx="1787.5" cy="336" rx="140.9" ry="46.3"/><ellipse cx="1787.5" cy="331.7" rx="145.8" ry="47.5"/><ellipse cx="1787.5" cy="327.1" rx="149.4" ry="48.2"/><ellipse cx="1787.5" cy="322.3" rx="151.8" ry="48.6"/><ellipse cx="1787.5" cy="317.5" rx="153.6" ry="48.6"/><ellipse cx="1787.5" cy="312.7" rx="154.6" ry="48.5"/><ellipse cx="1787.5" cy="307.9" rx="155.3" ry="48.2"/><ellipse cx="1787.4" cy="303.1" rx="155.5" ry="47.8"/><ellipse cx="1787.4" cy="298.2" rx="155.5" ry="47.3"/><ellipse cx="1787.4" cy="293.4" rx="155.2" ry="46.8"/><ellipse cx="1787.4" cy="288.5" rx="154.7" ry="46.2"/><ellipse cx="1787.4" cy="283.6" rx="154" ry="45.5"/><ellipse cx="1787.4" cy="278.8" rx="153.3" ry="44.8"/><ellipse cx="1787.4" cy="273.8" rx="152.4" ry="44.1"/><ellipse cx="1787.3" cy="268.6" rx="151.4" ry="43.3"/><ellipse cx="1787.3" cy="263.3" rx="150.4" ry="42.5"/><ellipse cx="1787.3" cy="258.2" rx="149.5" ry="41.8"/><ellipse cx="1787.3" cy="253.4" rx="148.7" ry="41.1"/><ellipse cx="1787.3" cy="248.5" rx="148" ry="40.4"/><ellipse cx="1787.3" cy="243.6" rx="147.5" ry="39.8"/><ellipse cx="1787.3" cy="238.6" rx="147.1" ry="39.3"/><ellipse cx="1787.2" cy="233.7" rx="147" ry="38.8"/><ellipse cx="1787.2" cy="228.8" rx="147.1" ry="38.3"/><ellipse cx="1787.2" cy="223.8" rx="147.4" ry="38"/><ellipse cx="1787.2" cy="218.9" rx="147.9" ry="37.6"/><ellipse cx="1787.2" cy="214" rx="148.6" ry="37.4"/><ellipse cx="1787.2" cy="209.2" rx="149.5" ry="37.1"/><ellipse cx="1787.2" cy="204.3" rx="150.4" ry="36.9"/><ellipse cx="1787.1" cy="199.4" rx="151.5" ry="36.7"/><ellipse cx="1787.1" cy="194.1" rx="152.7" ry="36.5"/><ellipse cx="1787.1" cy="188.9" rx="154" ry="36.2"/><ellipse cx="1787.1" cy="183.8" rx="155.1" ry="36"/><ellipse cx="1787.1" cy="178.9" rx="156.1" ry="35.8"/><ellipse cx="1787.1" cy="174" rx="157" ry="35.5"/><ellipse cx="1787.1" cy="169" rx="157.7" ry="35.1"/><ellipse cx="1787" cy="164" rx="158.3" ry="34.8"/><ellipse cx="1787" cy="159" rx="158.6" ry="34.3"/><ellipse cx="1787" cy="154" rx="158.6" ry="33.8"/><ellipse cx="1787" cy="148.9" rx="158.2" ry="33.2"/><ellipse cx="1787" cy="143.8" rx="157.4" ry="32.5"/><ellipse cx="1787" cy="138.5" rx="155.9" ry="31.7"/><ellipse cx="1787" cy="133.3" rx="153.7" ry="30.8"/><ellipse cx="1786.9" cy="128" rx="150.5" ry="29.6"/><ellipse cx="1786.9" cy="122.9" rx="145.9" ry="28.3"/><ellipse cx="1786.9" cy="119.1" rx="140.8" ry="27"/><ellipse cx="1786.9" cy="116.4" rx="135.8" ry="25.8"/><ellipse cx="1786.9" cy="114.6" rx="130.8" ry="24.7"/><ellipse cx="1786.9" cy="113.3" rx="125.7" ry="23.6"/><ellipse cx="1786.9" cy="112.6" rx="120.5" ry="22.6"/><ellipse cx="1786.9" cy="112.3" rx="115.7" ry="21.7"/></clipPath><g filter="url(#bl)"><g shape-rendering="crispEdges" clip-path="url(#kc20)"><ellipse cx="1787.5" cy="303.1" rx="6.4" ry="2.3" fill="#00fcc5"/><ellipse cx="1787.5" cy="303.1" rx="6.4" ry="2.3" fill="url(#s213)"/><ellipse cx="1787.5" cy="303.5" rx="8.1" ry="2.8" fill="#00fcc9"/><ellipse cx="1787.5" cy="303.5" rx="8.1" ry="2.8" fill="url(#s212)"/><ellipse cx="1787.5" cy="303.9" rx="9.7" ry="3.3" fill="#00fccf"/><ellipse cx="1787.5" cy="303.9" rx="9.7" ry="3.3" fill="url(#s210)"/><ellipse cx="1787.5" cy="304.3" rx="11.3" ry="3.9" fill="#00fcd4"/><ellipse cx="1787.5" cy="304.3" rx="11.3" ry="3.9" fill="url(#s209)"/><ellipse cx="1787.5" cy="304.9" rx="12.9" ry="4.4" fill="#00fbdb"/><ellipse cx="1787.5" cy="304.9" rx="12.9" ry="4.4" fill="url(#s208)"/><ellipse cx="1787.5" cy="305.5" rx="14.5" ry="4.8" fill="#00fbe2"/><ellipse cx="1787.5" cy="305.5" rx="14.5" ry="4.8" fill="url(#s207)"/><ellipse cx="1787.5" cy="306.1" rx="16.1" ry="5.3" fill="#00fbe9"/><ellipse cx="1787.5" cy="306.1" rx="16.1" ry="5.3" fill="url(#s206)"/><ellipse cx="1787.5" cy="306.8" rx="17.7" ry="5.9" fill="#00faf2"/><ellipse cx="1787.5" cy="306.8" rx="17.7" ry="5.9" fill="url(#s205)"/><ellipse cx="1787.5" cy="307.5" rx="19.4" ry="6.4" fill="#00fafa"/><ellipse cx="1787.5" cy="307.5" rx="19.4" ry="6.4" fill="url(#s204)"/><ellipse cx="1787.5" cy="308.3" rx="21.1" ry="6.9" fill="#00f7fa"/><ellipse cx="1787.5" cy="308.3" rx="21.1" ry="6.9" fill="url(#s204)"/><ellipse cx="1787.5" cy="309.1" rx="22.7" ry="7.4" fill="#00f3fb"/><ellipse cx="1787.5" cy="309.1" rx="22.7" ry="7.4" fill="url(#s203)"/><ellipse cx="1787.5" cy="309.9" rx="24.3" ry="8" fill="#00f0fb"/><ellipse cx="1787.5" cy="309.9" rx="24.3" ry="8" fill="url(#s203)"/><ellipse cx="1787.5" cy="310.7" rx="26" ry="8.5" fill="#00edfc"/><ellipse cx="1787.5" cy="310.7" rx="26" ry="8.5" fill="url(#s203)"/><ellipse cx="1787.5" cy="311.6" rx="27.6" ry="9" fill="#00e9fc"/><ellipse cx="1787.5" cy="311.6" rx="27.6" ry="9" fill="url(#s202)"/><ellipse cx="1787.5" cy="312.4" rx="29.2" ry="9.5" fill="#00e6fd"/><ellipse cx="1787.5" cy="312.4" rx="29.2" ry="9.5" fill="url(#s202)"/><ellipse cx="1787.5" cy="313.3" rx="30.8" ry="10.1" fill="#00e2fd"/><ellipse cx="1787.5" cy="313.3" rx="30.8" ry="10.1" fill="url(#s202)"/><ellipse cx="1787.5" cy="314.1" rx="32.4" ry="10.6" fill="#00dffe"/><ellipse cx="1787.5" cy="314.1" rx="32.4" ry="10.6" fill="url(#s202)"/><ellipse cx="1787.5" cy="315" rx="34" ry="11.1" fill="#00dbfe"/><ellipse cx="1787.5" cy="315" rx="34" ry="11.1" fill="url(#s202)"/><ellipse cx="1787.5" cy="315.8" rx="35.6" ry="11.6" fill="#00d8ff"/><ellipse cx="1787.5" cy="315.8" rx="35.6" ry="11.6" fill="url(#s202)"/><ellipse cx="1787.5" cy="316.7" rx="37.3" ry="12.2" fill="#00d1ff"/><ellipse cx="1787.5" cy="316.7" rx="37.3" ry="12.2" fill="url(#s202)"/><ellipse cx="1787.5" cy="317.6" rx="38.9" ry="12.7" fill="#00c8ff"/><ellipse cx="1787.5" cy="317.6" rx="38.9" ry="12.7" fill="url(#s202)"/><ellipse cx="1787.5" cy="318.4" rx="40.5" ry="13.2" fill="#00bfff"/><ellipse cx="1787.5" cy="318.4" rx="40.5" ry="13.2" fill="url(#s202)"/><ellipse cx="1787.6" cy="319.3" rx="42.1" ry="13.8" fill="#00b7ff"/><ellipse cx="1787.6" cy="319.3" rx="42.1" ry="13.8" fill="url(#s202)"/><ellipse cx="1787.6" cy="320.1" rx="43.7" ry="14.3" fill="#00aeff"/><ellipse cx="1787.6" cy="320.1" rx="43.7" ry="14.3" fill="url(#s203)"/><ellipse cx="1787.6" cy="321" rx="45.3" ry="14.9" fill="#00a6ff"/><ellipse cx="1787.6" cy="321" rx="45.3" ry="14.9" fill="url(#s203)"/><ellipse cx="1787.6" cy="321.8" rx="46.9" ry="15.4" fill="#009dff"/><ellipse cx="1787.6" cy="321.8" rx="46.9" ry="15.4" fill="url(#s203)"/><ellipse cx="1787.6" cy="322.7" rx="48.6" ry="16" fill="#0095ff"/><ellipse cx="1787.6" cy="322.7" rx="48.6" ry="16" fill="url(#s203)"/><ellipse cx="1787.6" cy="323.5" rx="50.2" ry="16.5" fill="#008dff"/><ellipse cx="1787.6" cy="323.5" rx="50.2" ry="16.5" fill="url(#s203)"/><ellipse cx="1787.6" cy="324.3" rx="51.8" ry="17.1" fill="#0085ff"/><ellipse cx="1787.6" cy="324.3" rx="51.8" ry="17.1" fill="url(#s203)"/><ellipse cx="1787.6" cy="325.1" rx="53.5" ry="17.6" fill="#007dff"/><ellipse cx="1787.6" cy="325.1" rx="53.5" ry="17.6" fill="url(#s204)"/><ellipse cx="1787.6" cy="325.9" rx="55.1" ry="18.2" fill="#0075ff"/><ellipse cx="1787.6" cy="325.9" rx="55.1" ry="18.2" fill="url(#s204)"/><ellipse cx="1787.6" cy="326.7" rx="56.7" ry="18.7" fill="#006dff"/><ellipse cx="1787.6" cy="326.7" rx="56.7" ry="18.7" fill="url(#s204)"/><ellipse cx="1787.6" cy="327.5" rx="58.4" ry="19.3" fill="#0065ff"/><ellipse cx="1787.6" cy="327.5" rx="58.4" ry="19.3" fill="url(#s204)"/><ellipse cx="1787.6" cy="328.3" rx="60.1" ry="19.9" fill="#005eff"/><ellipse cx="1787.6" cy="328.3" rx="60.1" ry="19.9" fill="url(#s205)"/><ellipse cx="1787.6" cy="329" rx="61.7" ry="20.4" fill="#0057ff"/><ellipse cx="1787.6" cy="329" rx="61.7" ry="20.4" fill="url(#s205)"/><ellipse cx="1787.6" cy="329.8" rx="63.4" ry="21" fill="#004fff"/><ellipse cx="1787.6" cy="329.8" rx="63.4" ry="21" fill="url(#s205)"/><ellipse cx="1787.6" cy="330.5" rx="65.1" ry="21.6" fill="#0048ff"/><ellipse cx="1787.6" cy="330.5" rx="65.1" ry="21.6" fill="url(#s206)"/><ellipse cx="1787.6" cy="331.2" rx="66.6" ry="22.1" fill="#0042ff"/><ellipse cx="1787.6" cy="331.2" rx="66.6" ry="22.1" fill="url(#s206)"/><ellipse cx="1787.6" cy="331.8" rx="68.2" ry="22.6" fill="#003bff"/><ellipse cx="1787.6" cy="331.8" rx="68.2" ry="22.6" fill="url(#s206)"/><ellipse cx="1787.6" cy="332.5" rx="69.8" ry="23.2" fill="#0035ff"/><ellipse cx="1787.6" cy="332.5" rx="69.8" ry="23.2" fill="url(#s207)"/><ellipse cx="1787.6" cy="333.1" rx="71.3" ry="23.7" fill="#002fff"/><ellipse cx="1787.6" cy="333.1" rx="71.3" ry="23.7" fill="url(#s207)"/><ellipse cx="1787.6" cy="333.7" rx="72.9" ry="24.3" fill="#0029ff"/><ellipse cx="1787.6" cy="333.7" rx="72.9" ry="24.3" fill="url(#s207)"/><ellipse cx="1787.6" cy="334.3" rx="74.5" ry="24.8" fill="#0023ff"/><ellipse cx="1787.6" cy="334.3" rx="74.5" ry="24.8" fill="url(#s208)"/><ellipse cx="1787.6" cy="334.9" rx="76.1" ry="25.4" fill="#001eff"/><ellipse cx="1787.6" cy="334.9" rx="76.1" ry="25.4" fill="url(#s208)"/><ellipse cx="1787.6" cy="335.5" rx="77.7" ry="25.9" fill="#001eff"/><ellipse cx="1787.6" cy="335.5" rx="77.7" ry="25.9" fill="url(#s208)"/><ellipse cx="1787.6" cy="336" rx="79.3" ry="26.5" fill="#001eff"/><ellipse cx="1787.6" cy="336" rx="79.3" ry="26.5" fill="url(#s209)"/><ellipse cx="1787.6" cy="336.6" rx="80.9" ry="27" fill="#001eff"/><ellipse cx="1787.6" cy="336.6" rx="80.9" ry="27" fill="url(#s209)"/><ellipse cx="1787.6" cy="337.1" rx="82.5" ry="27.6" fill="#001eff"/><ellipse cx="1787.6" cy="337.1" rx="82.5" ry="27.6" fill="url(#s210)"/><ellipse cx="1787.5" cy="337.6" rx="84.1" ry="28.1" fill="#001eff"/><ellipse cx="1787.5" cy="337.6" rx="84.1" ry="28.1" fill="url(#s210)"/><ellipse cx="1787.5" cy="338.1" rx="85.7" ry="28.7" fill="#001eff"/><ellipse cx="1787.5" cy="338.1" rx="85.7" ry="28.7" fill="url(#s210)"/><ellipse cx="1787.5" cy="338.6" rx="87.3" ry="29.3" fill="#001eff"/><ellipse cx="1787.5" cy="338.6" rx="87.3" ry="29.3" fill="url(#s211)"/><ellipse cx="1787.5" cy="339" rx="89" ry="29.8" fill="#001eff"/><ellipse cx="1787.5" cy="339" rx="89" ry="29.8" fill="url(#s211)"/><ellipse cx="1787.5" cy="339.5" rx="90.6" ry="30.4" fill="#001eff"/><ellipse cx="1787.5" cy="339.5" rx="90.6" ry="30.4" fill="url(#s212)"/><ellipse cx="1787.5" cy="339.9" rx="92.2" ry="31" fill="#001eff"/><ellipse cx="1787.5" cy="339.9" rx="92.2" ry="31" fill="url(#s212)"/><ellipse cx="1787.5" cy="340.3" rx="93.9" ry="31.5" fill="#001eff"/><ellipse cx="1787.5" cy="340.3" rx="93.9" ry="31.5" fill="url(#s213)"/><ellipse cx="1787.5" cy="342.5" rx="123.4" ry="41.4" fill="#001eff"/><ellipse cx="1787.5" cy="342.5" rx="123.4" ry="41.4" fill="url(#s-13)" opacity=".20"/><ellipse cx="1787.5" cy="342.5" rx="123.4" ry="41.4" fill="url(#r-13)"/><ellipse cx="1787.5" cy="342.3" rx="125.1" ry="42" fill="#001eff"/><ellipse cx="1787.5" cy="342.3" rx="125.1" ry="42" fill="url(#s-12)" opacity=".20"/><ellipse cx="1787.5" cy="342.3" rx="125.1" ry="42" fill="url(#r-12)"/><ellipse cx="1787.5" cy="342" rx="126.7" ry="42.5" fill="#001eff"/><ellipse cx="1787.5" cy="342" rx="126.7" ry="42.5" fill="url(#s-11)" opacity=".20"/><ellipse cx="1787.5" cy="342" rx="126.7" ry="42.5" fill="url(#r-11)"/><ellipse cx="1787.5" cy="341.6" rx="128.4" ry="43" fill="#001eff"/><ellipse cx="1787.5" cy="341.6" rx="128.4" ry="43" fill="url(#s-10)" opacity=".20"/><ellipse cx="1787.5" cy="341.6" rx="128.4" ry="43" fill="url(#r-10)"/><ellipse cx="1787.5" cy="341.2" rx="130" ry="43.5" fill="#001eff"/><ellipse cx="1787.5" cy="341.2" rx="130" ry="43.5" fill="url(#s-8)" opacity=".20"/><ellipse cx="1787.5" cy="341.2" rx="130" ry="43.5" fill="url(#r-8)"/><ellipse cx="1787.5" cy="340.7" rx="131.6" ry="44" fill="#001eff"/><ellipse cx="1787.5" cy="340.7" rx="131.6" ry="44" fill="url(#s-7)" opacity=".20"/><ellipse cx="1787.5" cy="340.7" rx="131.6" ry="44" fill="url(#r-7)"/><ellipse cx="1787.5" cy="340.2" rx="133.2" ry="44.5" fill="#001eff"/><ellipse cx="1787.5" cy="340.2" rx="133.2" ry="44.5" fill="url(#s-5)" opacity=".20"/><ellipse cx="1787.5" cy="340.2" rx="133.2" ry="44.5" fill="url(#r-5)"/><ellipse cx="1787.5" cy="339.5" rx="134.9" ry="45" fill="#001eff"/><ellipse cx="1787.5" cy="339.5" rx="134.9" ry="45" fill="url(#s-3)" opacity=".20"/><ellipse cx="1787.5" cy="339.5" rx="134.9" ry="45" fill="url(#r-3)"/><ellipse cx="1787.5" cy="338.8" rx="136.5" ry="45.5" fill="#001eff"/><ellipse cx="1787.5" cy="338.8" rx="136.5" ry="45.5" fill="url(#s-2)" opacity=".20"/><ellipse cx="1787.5" cy="338.8" rx="136.5" ry="45.5" fill="url(#r-2)"/><ellipse cx="1787.5" cy="338" rx="138.1" ry="45.9" fill="#001eff"/><ellipse cx="1787.5" cy="338" rx="138.1" ry="45.9" fill="url(#s0)" opacity=".20"/><ellipse cx="1787.5" cy="338" rx="138.1" ry="45.9" fill="url(#r0)"/><ellipse cx="1787.5" cy="337" rx="139.8" ry="46.4" fill="#0025ff"/><ellipse cx="1787.5" cy="337" rx="139.8" ry="46.4" fill="url(#s2)" opacity=".20"/><ellipse cx="1787.5" cy="337" rx="139.8" ry="46.4" fill="url(#r2)"/><ellipse cx="1787.5" cy="336" rx="141.4" ry="46.8" fill="#0031ff"/><ellipse cx="1787.5" cy="336" rx="141.4" ry="46.8" fill="url(#s5)" opacity=".20"/><ellipse cx="1787.5" cy="336" rx="141.4" ry="46.8" fill="url(#r5)"/><ellipse cx="1787.5" cy="334.7" rx="143.1" ry="47.2" fill="#003fff"/><ellipse cx="1787.5" cy="334.7" rx="143.1" ry="47.2" fill="url(#s7)" opacity=".20"/><ellipse cx="1787.5" cy="334.7" rx="143.1" ry="47.2" fill="url(#r7)"/><ellipse cx="1787.5" cy="333.3" rx="144.7" ry="47.6" fill="#004fff"/><ellipse cx="1787.5" cy="333.3" rx="144.7" ry="47.6" fill="url(#s10)" opacity=".20"/><ellipse cx="1787.5" cy="333.3" rx="144.7" ry="47.6" fill="url(#r10)"/><ellipse cx="1787.5" cy="331.7" rx="146.3" ry="48" fill="#0060ff"/><ellipse cx="1787.5" cy="331.7" rx="146.3" ry="48" fill="url(#s12)" opacity=".20"/><ellipse cx="1787.5" cy="331.7" rx="146.3" ry="48" fill="url(#r12)"/><ellipse cx="1787.5" cy="330.2" rx="147.7" ry="48.3" fill="#0071ff"/><ellipse cx="1787.5" cy="330.2" rx="147.7" ry="48.3" fill="url(#s15)" opacity=".20"/><ellipse cx="1787.5" cy="330.2" rx="147.7" ry="48.3" fill="url(#r15)" opacity=".92"/><ellipse cx="1787.5" cy="328.6" rx="148.8" ry="48.5" fill="#0081ff"/><ellipse cx="1787.5" cy="328.6" rx="148.8" ry="48.5" fill="url(#s17)" opacity=".22"/><ellipse cx="1787.5" cy="328.6" rx="148.8" ry="48.5" fill="url(#r17)" opacity=".81"/><ellipse cx="1787.5" cy="327.1" rx="149.9" ry="48.7" fill="#0091ff"/><ellipse cx="1787.5" cy="327.1" rx="149.9" ry="48.7" fill="url(#s19)" opacity=".31"/><ellipse cx="1787.5" cy="327.1" rx="149.9" ry="48.7" fill="url(#r19)" opacity=".70"/><ellipse cx="1787.5" cy="325.5" rx="150.8" ry="48.9" fill="#00a2ff"/><ellipse cx="1787.5" cy="325.5" rx="150.8" ry="48.9" fill="url(#s21)" opacity=".39"/><ellipse cx="1787.5" cy="325.5" rx="150.8" ry="48.9" fill="url(#r21)" opacity=".60"/><ellipse cx="1787.5" cy="323.9" rx="151.6" ry="49" fill="#00b3ff"/><ellipse cx="1787.5" cy="323.9" rx="151.6" ry="49" fill="url(#s23)" opacity=".47"/><ellipse cx="1787.5" cy="323.9" rx="151.6" ry="49" fill="url(#r23)" opacity=".50"/><ellipse cx="1787.5" cy="322.3" rx="152.3" ry="49.1" fill="#00c4ff"/><ellipse cx="1787.5" cy="322.3" rx="152.3" ry="49.1" fill="url(#s25)" opacity=".54"/><ellipse cx="1787.5" cy="322.3" rx="152.3" ry="49.1" fill="url(#r25)" opacity=".41"/><ellipse cx="1787.5" cy="320.7" rx="153" ry="49.1" fill="#00d4ff"/><ellipse cx="1787.5" cy="320.7" rx="153" ry="49.1" fill="url(#s27)" opacity=".61"/><ellipse cx="1787.5" cy="320.7" rx="153" ry="49.1" fill="url(#r27)" opacity=".32"/><ellipse cx="1787.5" cy="319.1" rx="153.6" ry="49.1" fill="#00ddfe"/><ellipse cx="1787.5" cy="319.1" rx="153.6" ry="49.1" fill="url(#s29)" opacity=".68"/><ellipse cx="1787.5" cy="319.1" rx="153.6" ry="49.1" fill="url(#r29)" opacity=".24"/><ellipse cx="1787.5" cy="317.5" rx="154.1" ry="49.1" fill="#00e4fd"/><ellipse cx="1787.5" cy="317.5" rx="154.1" ry="49.1" fill="url(#s30)" opacity=".74"/><ellipse cx="1787.5" cy="317.5" rx="154.1" ry="49.1" fill="url(#r30)" opacity=".16"/><ellipse cx="1787.5" cy="315.8" rx="154.5" ry="49.1" fill="#00ebfc"/><ellipse cx="1787.5" cy="315.8" rx="154.5" ry="49.1" fill="url(#s32)" opacity=".80"/><ellipse cx="1787.5" cy="315.8" rx="154.5" ry="49.1" fill="url(#r32)" opacity=".09"/><ellipse cx="1787.5" cy="314.3" rx="154.8" ry="49.1" fill="#00f1fb"/><ellipse cx="1787.5" cy="314.3" rx="154.8" ry="49.1" fill="url(#s33)" opacity=".85"/><ellipse cx="1787.5" cy="314.3" rx="154.8" ry="49.1" fill="url(#r33)" opacity=".02"/><ellipse cx="1787.5" cy="312.7" rx="155.1" ry="49" fill="#00f8fa"/><ellipse cx="1787.5" cy="312.7" rx="155.1" ry="49" fill="url(#s34)" opacity=".90"/><ellipse cx="1787.5" cy="311.1" rx="155.4" ry="48.9" fill="#00fbed"/><ellipse cx="1787.5" cy="311.1" rx="155.4" ry="48.9" fill="url(#s35)" opacity=".94"/><ellipse cx="1787.5" cy="309.5" rx="155.6" ry="48.8" fill="#00fbda"/><ellipse cx="1787.5" cy="309.5" rx="155.6" ry="48.8" fill="url(#s36)" opacity=".98"/><ellipse cx="1787.5" cy="307.9" rx="155.8" ry="48.7" fill="#00fcc6"/><ellipse cx="1787.5" cy="307.9" rx="155.8" ry="48.7" fill="url(#s37)"/><ellipse cx="1787.5" cy="306.3" rx="155.9" ry="48.6" fill="#00fdb2"/><ellipse cx="1787.5" cy="306.3" rx="155.9" ry="48.6" fill="url(#s38)"/><ellipse cx="1787.4" cy="304.7" rx="156" ry="48.5" fill="#00fe9e"/><ellipse cx="1787.4" cy="304.7" rx="156" ry="48.5" fill="url(#s39)"/><ellipse cx="1787.4" cy="303.1" rx="156" ry="48.3" fill="#00ff8a"/><ellipse cx="1787.4" cy="303.1" rx="156" ry="48.3" fill="url(#s40)"/><ellipse cx="1787.4" cy="301.5" rx="156" ry="48.2" fill="#04ff6a"/><ellipse cx="1787.4" cy="301.5" rx="156" ry="48.2" fill="url(#s41)"/><ellipse cx="1787.4" cy="299.8" rx="156" ry="48" fill="#07ff4a"/><ellipse cx="1787.4" cy="299.8" rx="156" ry="48" fill="url(#s42)"/><ellipse cx="1787.4" cy="298.2" rx="156" ry="47.8" fill="#0bff2a"/><ellipse cx="1787.4" cy="298.2" rx="156" ry="47.8" fill="url(#s42)"/><ellipse cx="1787.4" cy="296.6" rx="155.9" ry="47.7" fill="#0eff0a"/><ellipse cx="1787.4" cy="296.6" rx="155.9" ry="47.7" fill="url(#s43)"/><ellipse cx="1787.4" cy="295" rx="155.8" ry="47.5" fill="#14ff00"/><ellipse cx="1787.4" cy="295" rx="155.8" ry="47.5" fill="url(#s44)"/><ellipse cx="1787.4" cy="293.4" rx="155.7" ry="47.3" fill="#1bff00"/><ellipse cx="1787.4" cy="293.4" rx="155.7" ry="47.3" fill="url(#s44)"/><ellipse cx="1787.4" cy="291.7" rx="155.6" ry="47.1" fill="#23ff00"/><ellipse cx="1787.4" cy="291.7" rx="155.6" ry="47.1" fill="url(#s45)"/><ellipse cx="1787.4" cy="290.1" rx="155.4" ry="46.9" fill="#2aff00"/><ellipse cx="1787.4" cy="290.1" rx="155.4" ry="46.9" fill="url(#s45)"/><ellipse cx="1787.4" cy="288.5" rx="155.2" ry="46.7" fill="#31ff00"/><ellipse cx="1787.4" cy="288.5" rx="155.2" ry="46.7" fill="url(#s46)"/><ellipse cx="1787.4" cy="286.9" rx="155" ry="46.4" fill="#39ff00"/><ellipse cx="1787.4" cy="286.9" rx="155" ry="46.4" fill="url(#s46)"/><ellipse cx="1787.4" cy="285.3" rx="154.8" ry="46.2" fill="#40ff00"/><ellipse cx="1787.4" cy="285.3" rx="154.8" ry="46.2" fill="url(#s46)"/><ellipse cx="1787.4" cy="283.6" rx="154.5" ry="46" fill="#47ff00"/><ellipse cx="1787.4" cy="283.6" rx="154.5" ry="46" fill="url(#s47)"/><ellipse cx="1787.4" cy="282" rx="154.3" ry="45.8" fill="#4eff00"/><ellipse cx="1787.4" cy="282" rx="154.3" ry="45.8" fill="url(#s47)"/><ellipse cx="1787.4" cy="280.4" rx="154" ry="45.5" fill="#5f0"/><ellipse cx="1787.4" cy="280.4" rx="154" ry="45.5" fill="url(#s47)"/><ellipse cx="1787.4" cy="278.8" rx="153.8" ry="45.3" fill="#5dff00"/><ellipse cx="1787.4" cy="278.8" rx="153.8" ry="45.3" fill="url(#s47)"/><ellipse cx="1787.4" cy="277.2" rx="153.5" ry="45.1" fill="#64ff00"/><ellipse cx="1787.4" cy="277.2" rx="153.5" ry="45.1" fill="url(#s48)"/><ellipse cx="1787.4" cy="275.6" rx="153.2" ry="44.8" fill="#6bff00"/><ellipse cx="1787.4" cy="275.6" rx="153.2" ry="44.8" fill="url(#s48)"/><ellipse cx="1787.4" cy="273.8" rx="152.9" ry="44.6" fill="#73ff00"/><ellipse cx="1787.4" cy="273.8" rx="152.9" ry="44.6" fill="url(#s48)"/><ellipse cx="1787.4" cy="272.1" rx="152.6" ry="44.3" fill="#7bff00"/><ellipse cx="1787.4" cy="272.1" rx="152.6" ry="44.3" fill="url(#s48)"/><ellipse cx="1787.3" cy="270.3" rx="152.2" ry="44" fill="#82ff00"/><ellipse cx="1787.3" cy="270.3" rx="152.2" ry="44" fill="url(#s48)"/><ellipse cx="1787.3" cy="268.6" rx="151.9" ry="43.8" fill="#8aff00"/><ellipse cx="1787.3" cy="268.6" rx="151.9" ry="43.8" fill="url(#s48)"/><ellipse cx="1787.3" cy="266.8" rx="151.6" ry="43.5" fill="#92ff00"/><ellipse cx="1787.3" cy="266.8" rx="151.6" ry="43.5" fill="url(#s48)"/><ellipse cx="1787.3" cy="265.1" rx="151.3" ry="43.3" fill="#9aff00"/><ellipse cx="1787.3" cy="265.1" rx="151.3" ry="43.3" fill="url(#s48)"/><ellipse cx="1787.3" cy="263.3" rx="150.9" ry="43" fill="#a2ff00"/><ellipse cx="1787.3" cy="263.3" rx="150.9" ry="43" fill="url(#s48)"/><ellipse cx="1787.3" cy="261.6" rx="150.6" ry="42.7" fill="#a9ff00"/><ellipse cx="1787.3" cy="261.6" rx="150.6" ry="42.7" fill="url(#s48)"/><ellipse cx="1787.3" cy="259.8" rx="150.3" ry="42.5" fill="#b1ff00"/><ellipse cx="1787.3" cy="259.8" rx="150.3" ry="42.5" fill="url(#s48)"/><ellipse cx="1787.3" cy="258.2" rx="150" ry="42.3" fill="#b7ff00"/><ellipse cx="1787.3" cy="258.2" rx="150" ry="42.3" fill="url(#s48)"/><ellipse cx="1787.3" cy="256.6" rx="149.7" ry="42" fill="#bf0"/><ellipse cx="1787.3" cy="256.6" rx="149.7" ry="42" fill="url(#s47)"/><ellipse cx="1787.3" cy="255" rx="149.5" ry="41.8" fill="#bffe00"/><ellipse cx="1787.3" cy="255" rx="149.5" ry="41.8" fill="url(#s47)"/><ellipse cx="1787.3" cy="253.4" rx="149.2" ry="41.6" fill="#c4fe00"/><ellipse cx="1787.3" cy="253.4" rx="149.2" ry="41.6" fill="url(#s47)"/><ellipse cx="1787.3" cy="251.7" rx="149" ry="41.4" fill="#c8fe00"/><ellipse cx="1787.3" cy="251.7" rx="149" ry="41.4" fill="url(#s47)"/><ellipse cx="1787.3" cy="250.1" rx="148.7" ry="41.1" fill="#ccfd00"/><ellipse cx="1787.3" cy="250.1" rx="148.7" ry="41.1" fill="url(#s46)"/><ellipse cx="1787.3" cy="248.5" rx="148.5" ry="40.9" fill="#d1fd00"/><ellipse cx="1787.3" cy="248.5" rx="148.5" ry="40.9" fill="url(#s46)"/><ellipse cx="1787.3" cy="246.8" rx="148.3" ry="40.7" fill="#d5fd00"/><ellipse cx="1787.3" cy="246.8" rx="148.3" ry="40.7" fill="url(#s45)"/><ellipse cx="1787.3" cy="245.2" rx="148.2" ry="40.5" fill="#d9fc00"/><ellipse cx="1787.3" cy="245.2" rx="148.2" ry="40.5" fill="url(#s45)"/><ellipse cx="1787.3" cy="243.6" rx="148" ry="40.3" fill="#defc00"/><ellipse cx="1787.3" cy="243.6" rx="148" ry="40.3" fill="url(#s44)"/><ellipse cx="1787.3" cy="241.9" rx="147.9" ry="40.1" fill="#e2fc00"/><ellipse cx="1787.3" cy="241.9" rx="147.9" ry="40.1" fill="url(#s44)"/><ellipse cx="1787.3" cy="240.3" rx="147.7" ry="40" fill="#e7fb00"/><ellipse cx="1787.3" cy="240.3" rx="147.7" ry="40" fill="url(#s43)"/><ellipse cx="1787.3" cy="238.6" rx="147.6" ry="39.8" fill="#ebfb00"/><ellipse cx="1787.3" cy="238.6" rx="147.6" ry="39.8" fill="url(#s43)"/><ellipse cx="1787.2" cy="237" rx="147.6" ry="39.6" fill="#effb00"/><ellipse cx="1787.2" cy="237" rx="147.6" ry="39.6" fill="url(#s42)"/><ellipse cx="1787.2" cy="235.4" rx="147.5" ry="39.4" fill="#f4fa00"/><ellipse cx="1787.2" cy="235.4" rx="147.5" ry="39.4" fill="url(#s42)"/><ellipse cx="1787.2" cy="233.7" rx="147.5" ry="39.3" fill="#f8fa00"/><ellipse cx="1787.2" cy="233.7" rx="147.5" ry="39.3" fill="url(#s41)"/><ellipse cx="1787.2" cy="232.1" rx="147.5" ry="39.1" fill="#faf600"/><ellipse cx="1787.2" cy="232.1" rx="147.5" ry="39.1" fill="url(#s40)"/><ellipse cx="1787.2" cy="230.4" rx="147.5" ry="39" fill="#faef00"/><ellipse cx="1787.2" cy="230.4" rx="147.5" ry="39" fill="url(#s40)"/><ellipse cx="1787.2" cy="228.8" rx="147.6" ry="38.8" fill="#fbe800"/><ellipse cx="1787.2" cy="228.8" rx="147.6" ry="38.8" fill="url(#s39)"/><ellipse cx="1787.2" cy="227.1" rx="147.6" ry="38.7" fill="#fbe100"/><ellipse cx="1787.2" cy="227.1" rx="147.6" ry="38.7" fill="url(#s39)"/><ellipse cx="1787.2" cy="225.5" rx="147.8" ry="38.6" fill="#fbdb00"/><ellipse cx="1787.2" cy="225.5" rx="147.8" ry="38.6" fill="url(#s38)"/><ellipse cx="1787.2" cy="223.8" rx="147.9" ry="38.5" fill="#fcd400"/><ellipse cx="1787.2" cy="223.8" rx="147.9" ry="38.5" fill="url(#s37)"/><ellipse cx="1787.2" cy="222.2" rx="148" ry="38.3" fill="#fccd00"/><ellipse cx="1787.2" cy="222.2" rx="148" ry="38.3" fill="url(#s37)"/><ellipse cx="1787.2" cy="220.6" rx="148.2" ry="38.2" fill="#fcc600"/><ellipse cx="1787.2" cy="220.6" rx="148.2" ry="38.2" fill="url(#s36)" opacity=".99"/><ellipse cx="1787.2" cy="218.9" rx="148.4" ry="38.1" fill="#fcbf00"/><ellipse cx="1787.2" cy="218.9" rx="148.4" ry="38.1" fill="url(#s36)" opacity=".97"/><ellipse cx="1787.2" cy="217.3" rx="148.6" ry="38" fill="#fdb900"/><ellipse cx="1787.2" cy="217.3" rx="148.6" ry="38" fill="url(#s35)" opacity=".95"/><ellipse cx="1787.2" cy="215.7" rx="148.8" ry="37.9" fill="#fdb200"/><ellipse cx="1787.2" cy="215.7" rx="148.8" ry="37.9" fill="url(#s35)" opacity=".93"/><ellipse cx="1787.2" cy="214" rx="149.1" ry="37.9" fill="#fdab00"/><ellipse cx="1787.2" cy="214" rx="149.1" ry="37.9" fill="url(#s34)" opacity=".91"/><ellipse cx="1787.2" cy="212.4" rx="149.4" ry="37.8" fill="#fea400"/><ellipse cx="1787.2" cy="212.4" rx="149.4" ry="37.8" fill="url(#s34)" opacity=".89"/><ellipse cx="1787.2" cy="210.8" rx="149.7" ry="37.7" fill="#fe9e00"/><ellipse cx="1787.2" cy="210.8" rx="149.7" ry="37.7" fill="url(#s34)" opacity=".88"/><ellipse cx="1787.2" cy="209.2" rx="150" ry="37.6" fill="#fe9700"/><ellipse cx="1787.2" cy="209.2" rx="150" ry="37.6" fill="url(#s33)" opacity=".87"/><ellipse cx="1787.2" cy="209.2" rx="150" ry="37.6" fill="url(#r33)" opacity=".00"/><ellipse cx="1787.2" cy="207.6" rx="150.3" ry="37.5" fill="#fe9000"/><ellipse cx="1787.2" cy="207.6" rx="150.3" ry="37.5" fill="url(#s33)" opacity=".85"/><ellipse cx="1787.2" cy="207.6" rx="150.3" ry="37.5" fill="url(#r33)" opacity=".02"/><ellipse cx="1787.2" cy="205.9" rx="150.6" ry="37.5" fill="#ff8900"/><ellipse cx="1787.2" cy="205.9" rx="150.6" ry="37.5" fill="url(#s33)" opacity=".84"/><ellipse cx="1787.2" cy="205.9" rx="150.6" ry="37.5" fill="url(#r33)" opacity=".03"/><ellipse cx="1787.2" cy="204.3" rx="150.9" ry="37.4" fill="#ff8300"/><ellipse cx="1787.2" cy="204.3" rx="150.9" ry="37.4" fill="url(#s32)" opacity=".83"/><ellipse cx="1787.2" cy="204.3" rx="150.9" ry="37.4" fill="url(#r32)" opacity=".04"/><ellipse cx="1787.2" cy="202.7" rx="151.3" ry="37.3" fill="#ff7b00"/><ellipse cx="1787.2" cy="202.7" rx="151.3" ry="37.3" fill="url(#s32)" opacity=".83"/><ellipse cx="1787.2" cy="202.7" rx="151.3" ry="37.3" fill="url(#r32)" opacity=".05"/><ellipse cx="1787.1" cy="201.1" rx="151.7" ry="37.3" fill="#ff7400"/><ellipse cx="1787.1" cy="201.1" rx="151.7" ry="37.3" fill="url(#s32)" opacity=".82"/><ellipse cx="1787.1" cy="201.1" rx="151.7" ry="37.3" fill="url(#r32)" opacity=".06"/><ellipse cx="1787.1" cy="199.4" rx="152" ry="37.2" fill="#ff6c00"/><ellipse cx="1787.1" cy="199.4" rx="152" ry="37.2" fill="url(#s32)" opacity=".81"/><ellipse cx="1787.1" cy="199.4" rx="152" ry="37.2" fill="url(#r32)" opacity=".07"/><ellipse cx="1787.1" cy="197.6" rx="152.4" ry="37.1" fill="#ff6400"/><ellipse cx="1787.1" cy="197.6" rx="152.4" ry="37.1" fill="url(#s32)" opacity=".81"/><ellipse cx="1787.1" cy="197.6" rx="152.4" ry="37.1" fill="url(#r32)" opacity=".07"/><ellipse cx="1787.1" cy="195.9" rx="152.8" ry="37" fill="#ff5c00"/><ellipse cx="1787.1" cy="195.9" rx="152.8" ry="37" fill="url(#s32)" opacity=".81"/><ellipse cx="1787.1" cy="195.9" rx="152.8" ry="37" fill="url(#r32)" opacity=".08"/><ellipse cx="1787.1" cy="194.1" rx="153.2" ry="37" fill="#ff5300"/><ellipse cx="1787.1" cy="194.1" rx="153.2" ry="37" fill="url(#s32)" opacity=".81"/><ellipse cx="1787.1" cy="194.1" rx="153.2" ry="37" fill="url(#r32)" opacity=".08"/><ellipse cx="1787.1" cy="192.4" rx="153.7" ry="36.9" fill="#ff4b00"/><ellipse cx="1787.1" cy="192.4" rx="153.7" ry="36.9" fill="url(#s32)" opacity=".81"/><ellipse cx="1787.1" cy="192.4" rx="153.7" ry="36.9" fill="url(#r32)" opacity=".08"/><ellipse cx="1787.1" cy="190.6" rx="154.1" ry="36.8" fill="#ff4300"/><ellipse cx="1787.1" cy="190.6" rx="154.1" ry="36.8" fill="url(#s32)" opacity=".81"/><ellipse cx="1787.1" cy="190.6" rx="154.1" ry="36.8" fill="url(#r32)" opacity=".07"/><ellipse cx="1787.1" cy="188.9" rx="154.5" ry="36.7" fill="#ff3b00"/><ellipse cx="1787.1" cy="188.9" rx="154.5" ry="36.7" fill="url(#s32)" opacity=".81"/><ellipse cx="1787.1" cy="188.9" rx="154.5" ry="36.7" fill="url(#r32)" opacity=".07"/><ellipse cx="1787.1" cy="187.1" rx="154.9" ry="36.7" fill="#f30"/><ellipse cx="1787.1" cy="187.1" rx="154.9" ry="36.7" fill="url(#s32)" opacity=".82"/><ellipse cx="1787.1" cy="187.1" rx="154.9" ry="36.7" fill="url(#r32)" opacity=".06"/><ellipse cx="1787.1" cy="185.4" rx="155.2" ry="36.6" fill="#ff2e00"/><ellipse cx="1787.1" cy="185.4" rx="155.2" ry="36.6" fill="url(#s32)" opacity=".82"/><ellipse cx="1787.1" cy="185.4" rx="155.2" ry="36.6" fill="url(#r32)" opacity=".05"/><ellipse cx="1787.1" cy="183.8" rx="155.6" ry="36.5" fill="#ff2a00"/><ellipse cx="1787.1" cy="183.8" rx="155.6" ry="36.5" fill="url(#s32)" opacity=".83"/><ellipse cx="1787.1" cy="183.8" rx="155.6" ry="36.5" fill="url(#r32)" opacity=".04"/><ellipse cx="1787.1" cy="182.1" rx="155.9" ry="36.4" fill="#ff2500"/><ellipse cx="1787.1" cy="182.1" rx="155.9" ry="36.4" fill="url(#s33)" opacity=".84"/><ellipse cx="1787.1" cy="182.1" rx="155.9" ry="36.4" fill="url(#r33)" opacity=".03"/><ellipse cx="1787.1" cy="180.5" rx="156.3" ry="36.3" fill="#ff2000"/><ellipse cx="1787.1" cy="180.5" rx="156.3" ry="36.3" fill="url(#s33)" opacity=".85"/><ellipse cx="1787.1" cy="180.5" rx="156.3" ry="36.3" fill="url(#r33)" opacity=".02"/><ellipse cx="1787.1" cy="178.9" rx="156.6" ry="36.3" fill="#ff1b00"/><ellipse cx="1787.1" cy="178.9" rx="156.6" ry="36.3" fill="url(#s33)" opacity=".86"/><ellipse cx="1787.1" cy="178.9" rx="156.6" ry="36.3" fill="url(#r33)" opacity=".01"/><ellipse cx="1787.1" cy="177.3" rx="156.9" ry="36.2" fill="#ff1700"/><ellipse cx="1787.1" cy="177.3" rx="156.9" ry="36.2" fill="url(#s34)" opacity=".87"/><ellipse cx="1787.1" cy="175.6" rx="157.2" ry="36.1" fill="#ff1200"/><ellipse cx="1787.1" cy="175.6" rx="157.2" ry="36.1" fill="url(#s34)" opacity=".89"/><ellipse cx="1787.1" cy="174" rx="157.5" ry="36" fill="#ff0e00"/><ellipse cx="1787.1" cy="174" rx="157.5" ry="36" fill="url(#s34)" opacity=".90"/><ellipse cx="1787.1" cy="172.3" rx="157.7" ry="35.9" fill="#ff0c00"/><ellipse cx="1787.1" cy="172.3" rx="157.7" ry="35.9" fill="url(#s35)" opacity=".92"/><ellipse cx="1787.1" cy="170.7" rx="158" ry="35.8" fill="#ff0b00"/><ellipse cx="1787.1" cy="170.7" rx="158" ry="35.8" fill="url(#s35)" opacity=".94"/><ellipse cx="1787.1" cy="169" rx="158.2" ry="35.6" fill="#ff0900"/><ellipse cx="1787.1" cy="169" rx="158.2" ry="35.6" fill="url(#s36)" opacity=".96"/><ellipse cx="1787.1" cy="167.4" rx="158.4" ry="35.5" fill="#ff0800"/><ellipse cx="1787.1" cy="167.4" rx="158.4" ry="35.5" fill="url(#s36)" opacity=".98"/><ellipse cx="1787" cy="165.7" rx="158.6" ry="35.4" fill="#ff0600"/><ellipse cx="1787" cy="165.7" rx="158.6" ry="35.4" fill="url(#s37)"/><ellipse cx="1787" cy="164" rx="158.8" ry="35.3" fill="#ff0500"/><ellipse cx="1787" cy="164" rx="158.8" ry="35.3" fill="url(#s37)"/><ellipse cx="1787" cy="162.4" rx="158.9" ry="35.1" fill="#ff0300"/><ellipse cx="1787" cy="162.4" rx="158.9" ry="35.1" fill="url(#s38)"/><ellipse cx="1787" cy="160.7" rx="159" ry="35" fill="#ff0200"/><ellipse cx="1787" cy="160.7" rx="159" ry="35" fill="url(#s39)"/><ellipse cx="1787" cy="159" rx="159.1" ry="34.8" fill="#f00"/><ellipse cx="1787" cy="159" rx="159.1" ry="34.8" fill="url(#s40)"/><ellipse cx="1787" cy="157.3" rx="159.1" ry="34.7" fill="#f00"/><ellipse cx="1787" cy="157.3" rx="159.1" ry="34.7" fill="url(#s40)"/><ellipse cx="1787" cy="155.6" rx="159.1" ry="34.5" fill="#f00"/><ellipse cx="1787" cy="155.6" rx="159.1" ry="34.5" fill="url(#s41)"/><ellipse cx="1787" cy="154" rx="159.1" ry="34.3" fill="#f00"/><ellipse cx="1787" cy="154" rx="159.1" ry="34.3" fill="url(#s42)"/><ellipse cx="1787" cy="152.3" rx="159" ry="34.1" fill="#f00"/><ellipse cx="1787" cy="152.3" rx="159" ry="34.1" fill="url(#s43)"/><ellipse cx="1787" cy="150.6" rx="158.9" ry="33.9" fill="#f00"/><ellipse cx="1787" cy="150.6" rx="158.9" ry="33.9" fill="url(#s44)"/><ellipse cx="1787" cy="148.9" rx="158.7" ry="33.7" fill="#f00"/><ellipse cx="1787" cy="148.9" rx="158.7" ry="33.7" fill="url(#s45)"/><ellipse cx="1787" cy="147.2" rx="158.5" ry="33.5" fill="#f00"/><ellipse cx="1787" cy="147.2" rx="158.5" ry="33.5" fill="url(#s47)"/><ellipse cx="1787" cy="145.6" rx="158.2" ry="33.3" fill="#f00"/><ellipse cx="1787" cy="145.6" rx="158.2" ry="33.3" fill="url(#s48)"/><ellipse cx="1787" cy="143.8" rx="157.9" ry="33" fill="#f00"/><ellipse cx="1787" cy="143.8" rx="157.9" ry="33" fill="url(#s49)"/><ellipse cx="1787" cy="142" rx="157.4" ry="32.8" fill="#f00"/><ellipse cx="1787" cy="142" rx="157.4" ry="32.8" fill="url(#s51)"/><ellipse cx="1787" cy="140.2" rx="157" ry="32.5" fill="#f00"/><ellipse cx="1787" cy="140.2" rx="157" ry="32.5" fill="url(#s52)"/><ellipse cx="1787" cy="138.5" rx="156.4" ry="32.2" fill="#f00"/><ellipse cx="1787" cy="138.5" rx="156.4" ry="32.2" fill="url(#s54)"/><ellipse cx="1787" cy="136.7" rx="155.8" ry="31.9" fill="#f00"/><ellipse cx="1787" cy="136.7" rx="155.8" ry="31.9" fill="url(#s56)"/><ellipse cx="1787" cy="135.1" rx="155.1" ry="31.6" fill="#f00"/><ellipse cx="1787" cy="135.1" rx="155.1" ry="31.6" fill="url(#s58)"/><ellipse cx="1787" cy="133.3" rx="154.2" ry="31.3" fill="#f00"/><ellipse cx="1787" cy="133.3" rx="154.2" ry="31.3" fill="url(#s60)"/><ellipse cx="1786.9" cy="131.6" rx="153.3" ry="30.9" fill="#f00"/><ellipse cx="1786.9" cy="131.6" rx="153.3" ry="30.9" fill="url(#s62)"/><ellipse cx="1786.9" cy="129.8" rx="152.2" ry="30.5" fill="#f00"/><ellipse cx="1786.9" cy="129.8" rx="152.2" ry="30.5" fill="url(#s64)"/><ellipse cx="1786.9" cy="128" rx="151" ry="30.1" fill="#f00"/><ellipse cx="1786.9" cy="128" rx="151" ry="30.1" fill="url(#s66)"/><ellipse cx="1786.9" cy="126.3" rx="149.7" ry="29.7" fill="#f00"/><ellipse cx="1786.9" cy="126.3" rx="149.7" ry="29.7" fill="url(#s69)"/><ellipse cx="1786.9" cy="124.5" rx="148.1" ry="29.2" fill="#f00"/><ellipse cx="1786.9" cy="124.5" rx="148.1" ry="29.2" fill="url(#s71)"/><ellipse cx="1786.9" cy="122.9" rx="146.4" ry="28.8" fill="#f00"/><ellipse cx="1786.9" cy="122.9" rx="146.4" ry="28.8" fill="url(#s74)"/><ellipse cx="1786.9" cy="121.5" rx="144.7" ry="28.3" fill="#f00"/><ellipse cx="1786.9" cy="121.5" rx="144.7" ry="28.3" fill="url(#s76)"/><ellipse cx="1786.9" cy="120.2" rx="143.1" ry="27.9" fill="#f00"/><ellipse cx="1786.9" cy="120.2" rx="143.1" ry="27.9" fill="url(#s79)"/><ellipse cx="1786.9" cy="119.1" rx="141.3" ry="27.5" fill="#f00"/><ellipse cx="1786.9" cy="119.1" rx="141.3" ry="27.5" fill="url(#s81)"/><ellipse cx="1786.9" cy="118.1" rx="139.7" ry="27.1" fill="#f00"/><ellipse cx="1786.9" cy="118.1" rx="139.7" ry="27.1" fill="url(#s83)"/><ellipse cx="1786.9" cy="117.2" rx="138" ry="26.7" fill="#f00"/><ellipse cx="1786.9" cy="117.2" rx="138" ry="26.7" fill="url(#s84)"/><ellipse cx="1786.9" cy="116.4" rx="136.3" ry="26.3" fill="#f00"/><ellipse cx="1786.9" cy="116.4" rx="136.3" ry="26.3" fill="url(#s86)"/><ellipse cx="1786.9" cy="115.7" rx="134.7" ry="25.9" fill="#f00"/><ellipse cx="1786.9" cy="115.7" rx="134.7" ry="25.9" fill="url(#s88)"/><ellipse cx="1786.9" cy="115.1" rx="133" ry="25.5" fill="#f00"/><ellipse cx="1786.9" cy="115.1" rx="133" ry="25.5" fill="url(#s89)"/><ellipse cx="1786.9" cy="114.6" rx="131.3" ry="25.2" fill="#f00"/><ellipse cx="1786.9" cy="114.6" rx="131.3" ry="25.2" fill="url(#s90)"/><ellipse cx="1786.9" cy="114.1" rx="129.6" ry="24.8" fill="#f00"/><ellipse cx="1786.9" cy="114.1" rx="129.6" ry="24.8" fill="url(#s92)"/><ellipse cx="1786.9" cy="113.7" rx="127.9" ry="24.5" fill="#f00"/><ellipse cx="1786.9" cy="113.7" rx="127.9" ry="24.5" fill="url(#s93)"/><ellipse cx="1786.9" cy="113.3" rx="126.2" ry="24.1" fill="#f00"/><ellipse cx="1786.9" cy="113.3" rx="126.2" ry="24.1" fill="url(#s94)"/><ellipse cx="1786.9" cy="113" rx="124.5" ry="23.8" fill="#f00"/><ellipse cx="1786.9" cy="113" rx="124.5" ry="23.8" fill="url(#s95)"/><ellipse cx="1786.9" cy="112.8" rx="122.8" ry="23.4" fill="#f00"/><ellipse cx="1786.9" cy="112.8" rx="122.8" ry="23.4" fill="url(#s96)"/><ellipse cx="1786.9" cy="112.6" rx="121" ry="23.1" fill="#f00"/><ellipse cx="1786.9" cy="112.6" rx="121" ry="23.1" fill="url(#s97)"/><ellipse cx="1786.9" cy="112.4" rx="119.3" ry="22.8" fill="#f00"/><ellipse cx="1786.9" cy="112.4" rx="119.3" ry="22.8" fill="url(#s98)"/><ellipse cx="1786.9" cy="112.3" rx="117.6" ry="22.4" fill="#f00"/><ellipse cx="1786.9" cy="112.3" rx="117.6" ry="22.4" fill="url(#s99)"/><ellipse cx="1786.9" cy="112.3" rx="116.2" ry="22.2" fill="#f00"/><ellipse cx="1786.9" cy="112.3" rx="116.2" ry="22.2" fill="url(#s100)"/><clipPath id="c20"><ellipse cx="1786.9" cy="112.3" rx="115.7" ry="21.7"/></clipPath><g clip-path="url(#c20)"><ellipse cx="1786.9" cy="112.3" rx="114" ry="21.4" fill="#f00"/><ellipse cx="1786.9" cy="112.3" rx="114" ry="21.4" fill="url(#s102)"/><ellipse cx="1786.9" cy="112.3" rx="112.3" ry="21" fill="#f00"/><ellipse cx="1786.9" cy="112.3" rx="112.3" ry="21" fill="url(#s103)"/><ellipse cx="1786.9" cy="112.5" rx="110.5" ry="20.7" fill="#f00"/><ellipse cx="1786.9" cy="112.5" rx="110.5" ry="20.7" fill="url(#s105)"/><ellipse cx="1786.9" cy="112.7" rx="108.8" ry="20.4" fill="#f00"/><ellipse cx="1786.9" cy="112.7" rx="108.8" ry="20.4" fill="url(#s106)"/><ellipse cx="1786.9" cy="113" rx="107.1" ry="20.1" fill="#f00"/><ellipse cx="1786.9" cy="113" rx="107.1" ry="20.1" fill="url(#s107)"/><ellipse cx="1786.9" cy="113.3" rx="105.4" ry="19.8" fill="#f00"/><ellipse cx="1786.9" cy="113.3" rx="105.4" ry="19.8" fill="url(#s108)"/><ellipse cx="1786.9" cy="113.6" rx="103.7" ry="19.5" fill="#f00"/><ellipse cx="1786.9" cy="113.6" rx="103.7" ry="19.5" fill="url(#s109)"/><ellipse cx="1786.9" cy="114.1" rx="102" ry="19.2" fill="#f00"/><ellipse cx="1786.9" cy="114.1" rx="102" ry="19.2" fill="url(#s110)"/><ellipse cx="1786.9" cy="114.5" rx="100.3" ry="18.9" fill="#f00"/><ellipse cx="1786.9" cy="114.5" rx="100.3" ry="18.9" fill="url(#s111)"/><ellipse cx="1786.9" cy="115" rx="98.6" ry="18.7" fill="#f00"/><ellipse cx="1786.9" cy="115" rx="98.6" ry="18.7" fill="url(#s112)"/><ellipse cx="1786.9" cy="115.5" rx="97" ry="18.4" fill="#f00"/><ellipse cx="1786.9" cy="115.5" rx="97" ry="18.4" fill="url(#s112)"/><ellipse cx="1786.9" cy="116.1" rx="95.3" ry="18.1" fill="#f00"/><ellipse cx="1786.9" cy="116.1" rx="95.3" ry="18.1" fill="url(#s113)"/><ellipse cx="1786.9" cy="116.6" rx="93.7" ry="17.8" fill="#f00"/><ellipse cx="1786.9" cy="116.6" rx="93.7" ry="17.8" fill="url(#s113)"/><ellipse cx="1786.9" cy="117.3" rx="92" ry="17.6" fill="#f00"/><ellipse cx="1786.9" cy="117.3" rx="92" ry="17.6" fill="url(#s114)"/><ellipse cx="1786.9" cy="117.9" rx="90.4" ry="17.3" fill="#f00"/><ellipse cx="1786.9" cy="117.9" rx="90.4" ry="17.3" fill="url(#s114)"/><ellipse cx="1786.9" cy="118.6" rx="88.7" ry="17" fill="#f00"/><ellipse cx="1786.9" cy="118.6" rx="88.7" ry="17" fill="url(#s115)"/><ellipse cx="1786.9" cy="119.3" rx="87" ry="16.7" fill="#f00"/><ellipse cx="1786.9" cy="119.3" rx="87" ry="16.7" fill="url(#s115)"/><ellipse cx="1786.9" cy="120" rx="85.2" ry="16.4" fill="#f00"/><ellipse cx="1786.9" cy="120" rx="85.2" ry="16.4" fill="url(#s116)"/><ellipse cx="1786.9" cy="120.8" rx="83.5" ry="16.1" fill="#f00"/><ellipse cx="1786.9" cy="120.8" rx="83.5" ry="16.1" fill="url(#s116)"/><ellipse cx="1786.9" cy="121.6" rx="81.8" ry="15.8" fill="#f00"/><ellipse cx="1786.9" cy="121.6" rx="81.8" ry="15.8" fill="url(#s116)"/><ellipse cx="1786.9" cy="122.4" rx="80.1" ry="15.6" fill="#f00"/><ellipse cx="1786.9" cy="122.4" rx="80.1" ry="15.6" fill="url(#s117)"/><ellipse cx="1786.9" cy="123.2" rx="78.4" ry="15.3" fill="#f00"/><ellipse cx="1786.9" cy="123.2" rx="78.4" ry="15.3" fill="url(#s117)"/><ellipse cx="1786.9" cy="124" rx="76.8" ry="15" fill="#f00"/><ellipse cx="1786.9" cy="124" rx="76.8" ry="15" fill="url(#s117)"/><ellipse cx="1787" cy="124.9" rx="75.1" ry="14.7" fill="#f00"/><ellipse cx="1787" cy="124.9" rx="75.1" ry="14.7" fill="url(#s118)"/><ellipse cx="1787" cy="125.7" rx="73.4" ry="14.4" fill="#f00"/><ellipse cx="1787" cy="125.7" rx="73.4" ry="14.4" fill="url(#s118)"/><ellipse cx="1787" cy="126.6" rx="71.7" ry="14.1" fill="#f00"/><ellipse cx="1787" cy="126.6" rx="71.7" ry="14.1" fill="url(#s118)"/><ellipse cx="1787" cy="127.4" rx="70.1" ry="13.8" fill="#f00"/><ellipse cx="1787" cy="127.4" rx="70.1" ry="13.8" fill="url(#s118)"/><ellipse cx="1787" cy="128.3" rx="68.4" ry="13.5" fill="#f00"/><ellipse cx="1787" cy="128.3" rx="68.4" ry="13.5" fill="url(#s118)"/><ellipse cx="1787" cy="129.2" rx="66.8" ry="13.3" fill="#f00"/><ellipse cx="1787" cy="129.2" rx="66.8" ry="13.3" fill="url(#s119)"/><ellipse cx="1787" cy="130.1" rx="65.1" ry="13" fill="#f00"/><ellipse cx="1787" cy="130.1" rx="65.1" ry="13" fill="url(#s119)"/><ellipse cx="1787" cy="131" rx="63.5" ry="12.7" fill="#f00"/><ellipse cx="1787" cy="131" rx="63.5" ry="12.7" fill="url(#s119)"/><ellipse cx="1787" cy="131.9" rx="61.8" ry="12.4" fill="#f00"/><ellipse cx="1787" cy="131.9" rx="61.8" ry="12.4" fill="url(#s119)"/><ellipse cx="1787" cy="132.8" rx="60.2" ry="12.1" fill="#f00"/><ellipse cx="1787" cy="132.8" rx="60.2" ry="12.1" fill="url(#s119)"/><ellipse cx="1787" cy="133.7" rx="58.6" ry="11.8" fill="#f00"/><ellipse cx="1787" cy="133.7" rx="58.6" ry="11.8" fill="url(#s119)"/><ellipse cx="1787" cy="134.6" rx="56.9" ry="11.5" fill="#f00"/><ellipse cx="1787" cy="134.6" rx="56.9" ry="11.5" fill="url(#s119)"/><ellipse cx="1787" cy="135.5" rx="55.3" ry="11.2" fill="#f00"/><ellipse cx="1787" cy="135.5" rx="55.3" ry="11.2" fill="url(#s119)"/><ellipse cx="1787" cy="136.5" rx="53.7" ry="10.9" fill="#f00"/><ellipse cx="1787" cy="136.5" rx="53.7" ry="10.9" fill="url(#s119)"/><ellipse cx="1787" cy="137.4" rx="52" ry="10.6" fill="#f00"/><ellipse cx="1787" cy="137.4" rx="52" ry="10.6" fill="url(#s120)"/><ellipse cx="1787" cy="138.3" rx="50.4" ry="10.3" fill="#f00"/><ellipse cx="1787" cy="138.3" rx="50.4" ry="10.3" fill="url(#s120)"/><ellipse cx="1787" cy="139.3" rx="48.8" ry="10" fill="#f00"/><ellipse cx="1787" cy="139.3" rx="48.8" ry="10" fill="url(#s120)"/><ellipse cx="1787" cy="140.2" rx="47.2" ry="9.7" fill="#f00"/><ellipse cx="1787" cy="140.2" rx="47.2" ry="9.7" fill="url(#s120)"/><ellipse cx="1787" cy="141.2" rx="45.6" ry="9.4" fill="#f00"/><ellipse cx="1787" cy="141.2" rx="45.6" ry="9.4" fill="url(#s120)"/><ellipse cx="1787" cy="142.1" rx="44" ry="9.1" fill="#f00"/><ellipse cx="1787" cy="142.1" rx="44" ry="9.1" fill="url(#s120)"/><ellipse cx="1787" cy="143.1" rx="42.4" ry="8.8" fill="#f00"/><ellipse cx="1787" cy="143.1" rx="42.4" ry="8.8" fill="url(#s120)"/><ellipse cx="1787" cy="144" rx="40.7" ry="8.5" fill="#f00"/><ellipse cx="1787" cy="144" rx="40.7" ry="8.5" fill="url(#s120)"/><ellipse cx="1787" cy="145" rx="39.1" ry="8.2" fill="#f00"/><ellipse cx="1787" cy="145" rx="39.1" ry="8.2" fill="url(#s120)"/><ellipse cx="1787" cy="145.9" rx="37.5" ry="7.9" fill="#f00"/><ellipse cx="1787" cy="145.9" rx="37.5" ry="7.9" fill="url(#s120)"/><ellipse cx="1787.1" cy="146.9" rx="35.9" ry="7.5" fill="#f00"/><ellipse cx="1787.1" cy="146.9" rx="35.9" ry="7.5" fill="url(#s120)"/><ellipse cx="1787.1" cy="147.9" rx="34.3" ry="7.2" fill="#f00"/><ellipse cx="1787.1" cy="147.9" rx="34.3" ry="7.2" fill="url(#s120)"/><ellipse cx="1787.1" cy="148.8" rx="32.7" ry="6.9" fill="#f00"/><ellipse cx="1787.1" cy="148.8" rx="32.7" ry="6.9" fill="url(#s120)"/><ellipse cx="1787.1" cy="149.8" rx="31.1" ry="6.6" fill="#f00"/><ellipse cx="1787.1" cy="149.8" rx="31.1" ry="6.6" fill="url(#s120)"/><ellipse cx="1787.1" cy="150.8" rx="29.5" ry="6.3" fill="#f00"/><ellipse cx="1787.1" cy="150.8" rx="29.5" ry="6.3" fill="url(#s120)"/><ellipse cx="1787.1" cy="151.8" rx="27.8" ry="5.9" fill="#f00"/><ellipse cx="1787.1" cy="151.8" rx="27.8" ry="5.9" fill="url(#s120)"/><ellipse cx="1787.1" cy="152.9" rx="26.1" ry="5.6" fill="#f00"/><ellipse cx="1787.1" cy="152.9" rx="26.1" ry="5.6" fill="url(#s120)"/><ellipse cx="1787.1" cy="153.9" rx="24.4" ry="5.2" fill="#f00"/><ellipse cx="1787.1" cy="153.9" rx="24.4" ry="5.2" fill="url(#s120)"/><ellipse cx="1787.1" cy="154.9" rx="22.7" ry="4.9" fill="#f00"/><ellipse cx="1787.1" cy="154.9" rx="22.7" ry="4.9" fill="url(#s120)"/><ellipse cx="1787.1" cy="156" rx="21" ry="4.5" fill="#ff0100"/><ellipse cx="1787.1" cy="156" rx="21" ry="4.5" fill="url(#s120)"/><ellipse cx="1787.1" cy="157" rx="19.3" ry="4.2" fill="#ff0200"/><ellipse cx="1787.1" cy="157" rx="19.3" ry="4.2" fill="url(#s120)"/><ellipse cx="1787.1" cy="158.1" rx="17.6" ry="3.8" fill="#ff0200"/><ellipse cx="1787.1" cy="158.1" rx="17.6" ry="3.8" fill="url(#s120)"/><ellipse cx="1787.1" cy="159.1" rx="15.9" ry="3.5" fill="#ff0300"/><ellipse cx="1787.1" cy="159.1" rx="15.9" ry="3.5" fill="url(#s120)"/><ellipse cx="1787.1" cy="160.1" rx="14.2" ry="3.1" fill="#ff0400"/><ellipse cx="1787.1" cy="160.1" rx="14.2" ry="3.1" fill="url(#s119)"/><ellipse cx="1787.1" cy="161.1" rx="12.5" ry="2.7" fill="#ff0500"/><ellipse cx="1787.1" cy="161.1" rx="12.5" ry="2.7" fill="url(#s119)"/><ellipse cx="1787.1" cy="162" rx="10.8" ry="2.4" fill="#ff0600"/><ellipse cx="1787.1" cy="162" rx="10.8" ry="2.4" fill="url(#s118)"/><ellipse cx="1787.1" cy="162.8" rx="9.1" ry="2" fill="#ff0700"/><ellipse cx="1787.1" cy="162.8" rx="9.1" ry="2" fill="url(#s116)"/><ellipse cx="1787.1" cy="163.6" rx="7.4" ry="1.6" fill="#ff0800"/><ellipse cx="1787.1" cy="163.6" rx="7.4" ry="1.6" fill="url(#s115)"/><ellipse cx="1787.1" cy="164.3" rx="5.7" ry="1.3" fill="#ff0800"/><ellipse cx="1787.1" cy="164.3" rx="5.7" ry="1.3" fill="url(#s112)"/><ellipse cx="1787.1" cy="164.8" rx="4" ry="0.9" fill="#ff0900"/><ellipse cx="1787.1" cy="164.8" rx="4" ry="0.9" fill="url(#s109)"/><ellipse cx="1787.1" cy="165.1" rx="2.3" ry="0.5" fill="#ff0900"/><ellipse cx="1787.1" cy="165.1" rx="2.3" ry="0.5" fill="url(#s105)"/><ellipse cx="1787.1" cy="165.3" rx="0.6" ry="0.1" fill="#ff0900"/><ellipse cx="1787.1" cy="165.3" rx="0.6" ry="0.1" fill="url(#s101)"/><ellipse cx="1787.1" cy="165.3" rx="0.1" ry="0" fill="#ff0900"/><ellipse cx="1787.1" cy="165.3" rx="0.1" ry="0" fill="url(#s100)"/></g></g></g><path d="M1534.1 46.6L1547.2 410.8M1547.2 410.8L1808.6 507.2M1808.6 507.2L2022.8 395.3M1547.2 410.8l-4.7 1.8M1808.6 507.2l-4.4 2.3M2022.8 395.3l4.8 1.3M1544 323.1l-4.8 1.5M1735.5 480.2l-4.5 2.1M1976 419.7l4.8 1.4M1540.8 233.2l-4.8 1.3M1668 455.3l-4.6 2M1925.1 446.3l4.8 1.5M1537.5 141l-4.9 1M1605.4 432.3l-4.6 1.9M1869.5 475.4l4.7 1.6M1534.1 46.6l-4.9 0.7M1547.2 410.8l-4.7 1.8M1808.6 507.2l4.7 1.7M1999.8 407.3l2.9 0.8M1951.1 432.8l2.9 0.9M1897.9 460.5l2.9 0.9M1839.8 490.9l2.8 1" stroke="#444" stroke-width="1.7" fill="none" stroke-linecap="square"/><g><text transform="matrix(0.2309 -0.0354 0.01172 0.3162 1526 59.24)" font-size="100" text-anchor="end" fill="#333" font-weight="normal">50</text><text transform="matrix(0.2276 -0.04834 0.01143 0.3084 1530 153.9)" font-size="100" text-anchor="end" fill="#333" font-weight="normal">25</text><text transform="matrix(0.2243 -0.06063 0.01115 0.3009 1533 246.2)" font-size="100" text-anchor="end" fill="#333" font-weight="normal">0</text><text transform="matrix(0.2211 -0.07232 0.01088 0.2937 1536 336.2)" font-size="100" text-anchor="end" fill="#333" font-weight="normal">-25</text><text transform="matrix(0.2181 -0.08344 0.01062 0.2867 1540 424.1)" font-size="100" text-anchor="end" fill="#333" font-weight="normal">-50</text><text transform="matrix(0.2092 -0.08533 0.1922 0.07165 1603 438.6)" font-size="100" text-anchor="end" fill="#333" font-weight="normal">25</text><text transform="matrix(0.2083 -0.09193 0.2071 0.07724 1666 462.1)" font-size="100" text-anchor="end" fill="#333" font-weight="normal">0</text><text transform="matrix(0.2066 -0.09932 0.224 0.08351 1734 487.6)" font-size="100" text-anchor="end" fill="#333" font-weight="normal">-25</text><text transform="matrix(0.2095 -0.07943 0.1787 0.06665 1544 416.7)" font-size="100" text-anchor="end" fill="#333" font-weight="normal">50</text><text transform="matrix(0.233 0.06487 -0.1464 0.07724 2025 400.1)" font-size="100" text-anchor="start" fill="#333" font-weight="normal">-50</text><text transform="matrix(0.2373 0.07053 -0.159 0.08391 1978 425)" font-size="100" text-anchor="start" fill="#333" font-weight="normal">-25</text><text transform="matrix(0.2416 0.07696 -0.1733 0.09148 1927 452)" font-size="100" text-anchor="start" fill="#333" font-weight="normal">0</text><text transform="matrix(0.2455 0.0843 -0.1897 0.1001 1871 481.6)" font-size="100" text-anchor="start" fill="#333" font-weight="normal">25</text><text transform="matrix(0.2492 0.09274 -0.2085 0.11 1809 514)" font-size="100" text-anchor="start" fill="#333" font-weight="normal">50</text></g><text x="1535" y="75.5" font-size="26.6" font-weight="bold">Young's modulus</text><text x="1898" y="82" font-size="26.6" font-weight="bold">KNaS</text><text x="1456" y="258" font-size="33.5" font-weight="bold"><tspan font-style="italic">E</tspan>z</text><text x="1612.5" y="510" font-size="33.5" font-weight="bold"><tspan font-style="italic">E</tspan>y</text><text x="1960" y="487.7" font-size="33.5" font-weight="bold"><tspan font-style="italic">E</tspan>x</text><path d="M268 879.6L263.3 557.2M317 783.9L91.5 866.6M214.8 902.1L206.8 568M316.5 707.1L87.5 778M157.5 926.3L145.6 579.7M316.1 628.2L83.4 686.7M498.7 914.4L507.7 573.4M570.7 851.4L317 783.9M434.4 894.7L439.3 564.1M574 764.8L316.5 707.1M374.1 876.2L375.4 555.3M577.4 675.5L316.1 628.2M521.4 962.5L268 879.6M498.7 914.4L284 1029.2M471.4 991.8L214.8 902.1M434.4 894.7L216.4 1001.7M416.8 1023.8L157.5 926.3M374.1 876.2L153.7 976.2" stroke="#dadada" stroke-width="1.3" fill="none"/><path d="M317.4 858.8L315.6 547.2M317.4 858.8L95.4 952.5M95.4 952.5L79.1 592.4M315.6 547.2L79.1 592.4M567.4 935.4L580.9 583.4M567.4 935.4L317.4 858.8M580.9 583.4L315.6 547.2M567.4 935.4L317.4 858.8M567.4 935.4L357 1058.9M357 1058.9L95.4 952.5M317.4 858.8L95.4 952.5" stroke="#b8b8b8" stroke-width="1.4" fill="none"/><clipPath id="kc01"><ellipse cx="333.8" cy="800" rx="11.8" ry="3.8"/><ellipse cx="333.8" cy="801" rx="16.6" ry="5.4"/><ellipse cx="333.8" cy="801.9" rx="21.3" ry="6.9"/><ellipse cx="333.8" cy="803.7" rx="86.1" ry="28"/><ellipse cx="333.8" cy="802.7" rx="91.1" ry="29.6"/><ellipse cx="333.8" cy="801.5" rx="96.2" ry="31.1"/><ellipse cx="333.8" cy="800" rx="101.3" ry="32.7"/><ellipse cx="333.8" cy="798.3" rx="106.3" ry="34.2"/><ellipse cx="333.8" cy="796.2" rx="111.3" ry="35.6"/><ellipse cx="333.8" cy="793.5" rx="116.3" ry="37"/><ellipse cx="333.8" cy="790" rx="121.2" ry="38.3"/><ellipse cx="333.8" cy="785.5" rx="125.8" ry="39.4"/><ellipse cx="333.8" cy="780.7" rx="128.7" ry="39.9"/><ellipse cx="333.8" cy="775.8" rx="130" ry="39.9"/><ellipse cx="333.8" cy="770.7" rx="129.7" ry="39.4"/><ellipse cx="333.7" cy="765.7" rx="127.8" ry="38.4"/><ellipse cx="333.7" cy="760.6" rx="124.2" ry="36.9"/><ellipse cx="333.7" cy="756" rx="119.4" ry="35.2"/><ellipse cx="333.7" cy="752.5" rx="114.4" ry="33.4"/><ellipse cx="333.7" cy="749.6" rx="109.4" ry="31.8"/><ellipse cx="333.7" cy="747.3" rx="104.5" ry="30.2"/><ellipse cx="333.7" cy="745.2" rx="99.4" ry="28.6"/><ellipse cx="333.7" cy="743.5" rx="94.3" ry="27.1"/><ellipse cx="333.7" cy="742" rx="89.2" ry="25.5"/><ellipse cx="333.6" cy="740.9" rx="84.2" ry="24"/><ellipse cx="333.6" cy="739.9" rx="79.4" ry="22.6"/><ellipse cx="333.6" cy="739.1" rx="74.3" ry="21.1"/><ellipse cx="333.7" cy="738.5" rx="69.3" ry="19.7"/><ellipse cx="333.7" cy="738" rx="64.4" ry="18.3"/><ellipse cx="333.7" cy="737.7" rx="59.4" ry="16.9"/><ellipse cx="333.7" cy="737.6" rx="56.1" ry="15.9"/></clipPath><g filter="url(#bl)"><g shape-rendering="crispEdges" clip-path="url(#kc01)"><ellipse cx="333.8" cy="800" rx="12.3" ry="4.3" fill="#00e3fd"/><ellipse cx="333.8" cy="800" rx="12.3" ry="4.3" fill="url(#s213)"/><ellipse cx="333.8" cy="800.3" rx="13.9" ry="4.8" fill="#00dffe"/><ellipse cx="333.8" cy="800.3" rx="13.9" ry="4.8" fill="url(#s213)"/><ellipse cx="333.8" cy="800.7" rx="15.5" ry="5.3" fill="#00dbfe"/><ellipse cx="333.8" cy="800.7" rx="15.5" ry="5.3" fill="url(#s213)"/><ellipse cx="333.8" cy="801" rx="17.1" ry="5.9" fill="#00d8ff"/><ellipse cx="333.8" cy="801" rx="17.1" ry="5.9" fill="url(#s213)"/><ellipse cx="333.8" cy="801.3" rx="18.7" ry="6.4" fill="#00cfff"/><ellipse cx="333.8" cy="801.3" rx="18.7" ry="6.4" fill="url(#s213)"/><ellipse cx="333.8" cy="801.6" rx="20.3" ry="6.9" fill="#00c6ff"/><ellipse cx="333.8" cy="801.6" rx="20.3" ry="6.9" fill="url(#s213)"/><ellipse cx="333.8" cy="801.9" rx="21.8" ry="7.4" fill="#00bdff"/><ellipse cx="333.8" cy="801.9" rx="21.8" ry="7.4" fill="url(#s213)"/><ellipse cx="333.8" cy="804.2" rx="83.3" ry="27.5" fill="#009fff"/><ellipse cx="333.8" cy="804.2" rx="83.3" ry="27.5" fill="url(#s-13)"/><ellipse cx="333.8" cy="804.2" rx="83.3" ry="27.5" fill="url(#r-13)"/><ellipse cx="333.8" cy="804" rx="84.9" ry="28" fill="#00a8ff"/><ellipse cx="333.8" cy="804" rx="84.9" ry="28" fill="url(#s-13)"/><ellipse cx="333.8" cy="804" rx="84.9" ry="28" fill="url(#r-13)"/><ellipse cx="333.8" cy="803.7" rx="86.6" ry="28.5" fill="#00b3ff"/><ellipse cx="333.8" cy="803.7" rx="86.6" ry="28.5" fill="url(#s-12)"/><ellipse cx="333.8" cy="803.7" rx="86.6" ry="28.5" fill="url(#r-12)"/><ellipse cx="333.8" cy="803.4" rx="88.2" ry="29" fill="#00bdff"/><ellipse cx="333.8" cy="803.4" rx="88.2" ry="29" fill="url(#s-12)"/><ellipse cx="333.8" cy="803.4" rx="88.2" ry="29" fill="url(#r-12)"/><ellipse cx="333.8" cy="803.1" rx="89.9" ry="29.5" fill="#00c9ff"/><ellipse cx="333.8" cy="803.1" rx="89.9" ry="29.5" fill="url(#s-11)"/><ellipse cx="333.8" cy="803.1" rx="89.9" ry="29.5" fill="url(#r-11)"/><ellipse cx="333.8" cy="802.7" rx="91.6" ry="30.1" fill="#00d6ff"/><ellipse cx="333.8" cy="802.7" rx="91.6" ry="30.1" fill="url(#s-11)"/><ellipse cx="333.8" cy="802.7" rx="91.6" ry="30.1" fill="url(#r-11)"/><ellipse cx="333.8" cy="802.3" rx="93.3" ry="30.6" fill="#00dcfe"/><ellipse cx="333.8" cy="802.3" rx="93.3" ry="30.6" fill="url(#s-10)"/><ellipse cx="333.8" cy="802.3" rx="93.3" ry="30.6" fill="url(#r-10)"/><ellipse cx="333.8" cy="801.9" rx="95" ry="31.1" fill="#00e2fd"/><ellipse cx="333.8" cy="801.9" rx="95" ry="31.1" fill="url(#s-10)"/><ellipse cx="333.8" cy="801.9" rx="95" ry="31.1" fill="url(#r-10)"/><ellipse cx="333.8" cy="801.5" rx="96.7" ry="31.6" fill="#00e8fd"/><ellipse cx="333.8" cy="801.5" rx="96.7" ry="31.6" fill="url(#s-9)"/><ellipse cx="333.8" cy="801.5" rx="96.7" ry="31.6" fill="url(#r-9)"/><ellipse cx="333.8" cy="801.1" rx="98.4" ry="32.2" fill="#00eefc"/><ellipse cx="333.8" cy="801.1" rx="98.4" ry="32.2" fill="url(#s-8)"/><ellipse cx="333.8" cy="801.1" rx="98.4" ry="32.2" fill="url(#r-8)"/><ellipse cx="333.8" cy="800.6" rx="100.1" ry="32.7" fill="#00f5fb"/><ellipse cx="333.8" cy="800.6" rx="100.1" ry="32.7" fill="url(#s-8)"/><ellipse cx="333.8" cy="800.6" rx="100.1" ry="32.7" fill="url(#r-8)"/><ellipse cx="333.8" cy="800" rx="101.8" ry="33.2" fill="#00faf4"/><ellipse cx="333.8" cy="800" rx="101.8" ry="33.2" fill="url(#s-7)"/><ellipse cx="333.8" cy="800" rx="101.8" ry="33.2" fill="url(#r-7)"/><ellipse cx="333.8" cy="799.5" rx="103.5" ry="33.7" fill="#00fbdd"/><ellipse cx="333.8" cy="799.5" rx="103.5" ry="33.7" fill="url(#s-6)"/><ellipse cx="333.8" cy="799.5" rx="103.5" ry="33.7" fill="url(#r-6)"/><ellipse cx="333.8" cy="798.9" rx="105.2" ry="34.2" fill="#00fcc5"/><ellipse cx="333.8" cy="798.9" rx="105.2" ry="34.2" fill="url(#s-6)"/><ellipse cx="333.8" cy="798.9" rx="105.2" ry="34.2" fill="url(#r-6)"/><ellipse cx="333.8" cy="798.3" rx="106.8" ry="34.7" fill="#00feab"/><ellipse cx="333.8" cy="798.3" rx="106.8" ry="34.7" fill="url(#s-5)"/><ellipse cx="333.8" cy="798.3" rx="106.8" ry="34.7" fill="url(#r-5)"/><ellipse cx="333.8" cy="797.6" rx="108.5" ry="35.2" fill="#00ff91"/><ellipse cx="333.8" cy="797.6" rx="108.5" ry="35.2" fill="url(#s-4)"/><ellipse cx="333.8" cy="797.6" rx="108.5" ry="35.2" fill="url(#r-4)"/><ellipse cx="333.8" cy="796.9" rx="110.1" ry="35.6" fill="#04ff67"/><ellipse cx="333.8" cy="796.9" rx="110.1" ry="35.6" fill="url(#s-3)"/><ellipse cx="333.8" cy="796.9" rx="110.1" ry="35.6" fill="url(#r-3)"/><ellipse cx="333.8" cy="796.2" rx="111.8" ry="36.1" fill="#09ff34"/><ellipse cx="333.8" cy="796.2" rx="111.8" ry="36.1" fill="url(#s-2)"/><ellipse cx="333.8" cy="796.2" rx="111.8" ry="36.1" fill="url(#r-2)"/><ellipse cx="333.8" cy="795.3" rx="113.5" ry="36.6" fill="#0fff00"/><ellipse cx="333.8" cy="795.3" rx="113.5" ry="36.6" fill="url(#s-1)"/><ellipse cx="333.8" cy="795.3" rx="113.5" ry="36.6" fill="url(#r-1)"/><ellipse cx="333.8" cy="794.5" rx="115.1" ry="37" fill="#1cff00"/><ellipse cx="333.8" cy="794.5" rx="115.1" ry="37" fill="url(#s0)"/><ellipse cx="333.8" cy="794.5" rx="115.1" ry="37" fill="url(#r0)"/><ellipse cx="333.8" cy="793.5" rx="116.8" ry="37.5" fill="#2aff00"/><ellipse cx="333.8" cy="793.5" rx="116.8" ry="37.5" fill="url(#s2)"/><ellipse cx="333.8" cy="793.5" rx="116.8" ry="37.5" fill="url(#r2)"/><ellipse cx="333.8" cy="792.5" rx="118.4" ry="37.9" fill="#39ff00"/><ellipse cx="333.8" cy="792.5" rx="118.4" ry="37.9" fill="url(#s3)"/><ellipse cx="333.8" cy="792.5" rx="118.4" ry="37.9" fill="url(#r3)" opacity=".80"/><ellipse cx="333.8" cy="791.3" rx="120.1" ry="38.4" fill="#4aff00"/><ellipse cx="333.8" cy="791.3" rx="120.1" ry="38.4" fill="url(#s5)"/><ellipse cx="333.8" cy="791.3" rx="120.1" ry="38.4" fill="url(#r5)" opacity=".54"/><ellipse cx="333.8" cy="790" rx="121.7" ry="38.8" fill="#5cff00"/><ellipse cx="333.8" cy="790" rx="121.7" ry="38.8" fill="url(#s7)"/><ellipse cx="333.8" cy="790" rx="121.7" ry="38.8" fill="url(#r7)" opacity=".24"/><ellipse cx="333.8" cy="788.6" rx="123.4" ry="39.2" fill="#71ff00"/><ellipse cx="333.8" cy="788.6" rx="123.4" ry="39.2" fill="url(#s9)"/><ellipse cx="333.8" cy="787" rx="125" ry="39.6" fill="#87ff00"/><ellipse cx="333.8" cy="787" rx="125" ry="39.6" fill="url(#s12)"/><ellipse cx="333.8" cy="785.5" rx="126.3" ry="39.9" fill="#9dff00"/><ellipse cx="333.8" cy="785.5" rx="126.3" ry="39.9" fill="url(#s15)"/><ellipse cx="333.8" cy="783.9" rx="127.5" ry="40.1" fill="#b3ff00"/><ellipse cx="333.8" cy="783.9" rx="127.5" ry="40.1" fill="url(#s18)"/><ellipse cx="333.8" cy="782.3" rx="128.4" ry="40.3" fill="#c0fe00"/><ellipse cx="333.8" cy="782.3" rx="128.4" ry="40.3" fill="url(#s22)"/><ellipse cx="333.8" cy="780.7" rx="129.2" ry="40.4" fill="#cefd00"/><ellipse cx="333.8" cy="780.7" rx="129.2" ry="40.4" fill="url(#s25)"/><ellipse cx="333.8" cy="779.1" rx="129.8" ry="40.4" fill="#dbfc00"/><ellipse cx="333.8" cy="779.1" rx="129.8" ry="40.4" fill="url(#s29)"/><ellipse cx="333.8" cy="777.5" rx="130.2" ry="40.4" fill="#e8fb00"/><ellipse cx="333.8" cy="777.5" rx="130.2" ry="40.4" fill="url(#s33)"/><ellipse cx="333.8" cy="775.8" rx="130.5" ry="40.4" fill="#f6fa00"/><ellipse cx="333.8" cy="775.8" rx="130.5" ry="40.4" fill="url(#s37)"/><ellipse cx="333.8" cy="774.1" rx="130.6" ry="40.3" fill="#fbeb00"/><ellipse cx="333.8" cy="774.1" rx="130.6" ry="40.3" fill="url(#s41)"/><ellipse cx="333.8" cy="772.4" rx="130.5" ry="40.1" fill="#fbd600"/><ellipse cx="333.8" cy="772.4" rx="130.5" ry="40.1" fill="url(#s45)"/><ellipse cx="333.8" cy="770.7" rx="130.2" ry="39.9" fill="#fcc100"/><ellipse cx="333.8" cy="770.7" rx="130.2" ry="39.9" fill="url(#s49)"/><ellipse cx="333.7" cy="769" rx="129.7" ry="39.6" fill="#fdac00"/><ellipse cx="333.7" cy="769" rx="129.7" ry="39.6" fill="url(#s53)"/><ellipse cx="333.7" cy="767.3" rx="129.1" ry="39.3" fill="#fe9800"/><ellipse cx="333.7" cy="767.3" rx="129.1" ry="39.3" fill="url(#s57)"/><ellipse cx="333.7" cy="765.7" rx="128.3" ry="38.9" fill="#ff8300"/><ellipse cx="333.7" cy="765.7" rx="128.3" ry="38.9" fill="url(#s60)"/><ellipse cx="333.7" cy="763.9" rx="127.3" ry="38.4" fill="#ff6c00"/><ellipse cx="333.7" cy="763.9" rx="127.3" ry="38.4" fill="url(#s64)"/><ellipse cx="333.7" cy="762.2" rx="126.1" ry="37.9" fill="#f50"/><ellipse cx="333.7" cy="762.2" rx="126.1" ry="37.9" fill="url(#s67)"/><ellipse cx="333.7" cy="760.6" rx="124.7" ry="37.4" fill="#ff3f00"/><ellipse cx="333.7" cy="760.6" rx="124.7" ry="37.4" fill="url(#s69)"/><ellipse cx="333.7" cy="758.9" rx="123.1" ry="36.8" fill="#ff2c00"/><ellipse cx="333.7" cy="758.9" rx="123.1" ry="36.8" fill="url(#s72)"/><ellipse cx="333.7" cy="757.4" rx="121.5" ry="36.2" fill="#ff2000"/><ellipse cx="333.7" cy="757.4" rx="121.5" ry="36.2" fill="url(#s74)"/><ellipse cx="333.7" cy="756" rx="119.9" ry="35.7" fill="#ff1500"/><ellipse cx="333.7" cy="756" rx="119.9" ry="35.7" fill="url(#s76)"/><ellipse cx="333.7" cy="754.8" rx="118.3" ry="35.1" fill="#ff0d00"/><ellipse cx="333.7" cy="754.8" rx="118.3" ry="35.1" fill="url(#s78)"/><ellipse cx="333.7" cy="753.6" rx="116.6" ry="34.5" fill="#ff0a00"/><ellipse cx="333.7" cy="753.6" rx="116.6" ry="34.5" fill="url(#s79)"/><ellipse cx="333.7" cy="752.5" rx="114.9" ry="33.9" fill="#ff0700"/><ellipse cx="333.7" cy="752.5" rx="114.9" ry="33.9" fill="url(#s80)"/><ellipse cx="333.7" cy="751.5" rx="113.3" ry="33.4" fill="#ff0500"/><ellipse cx="333.7" cy="751.5" rx="113.3" ry="33.4" fill="url(#s81)"/><ellipse cx="333.7" cy="750.5" rx="111.6" ry="32.8" fill="#ff0200"/><ellipse cx="333.7" cy="750.5" rx="111.6" ry="32.8" fill="url(#s83)"/><ellipse cx="333.7" cy="749.6" rx="109.9" ry="32.3" fill="#f00"/><ellipse cx="333.7" cy="749.6" rx="109.9" ry="32.3" fill="url(#s84)"/><ellipse cx="333.7" cy="748.8" rx="108.3" ry="31.8" fill="#f00"/><ellipse cx="333.7" cy="748.8" rx="108.3" ry="31.8" fill="url(#s84)"/><ellipse cx="333.7" cy="748" rx="106.7" ry="31.2" fill="#f00"/><ellipse cx="333.7" cy="748" rx="106.7" ry="31.2" fill="url(#s85)"/><ellipse cx="333.7" cy="747.3" rx="105" ry="30.7" fill="#f00"/><ellipse cx="333.7" cy="747.3" rx="105" ry="30.7" fill="url(#s86)"/><ellipse cx="333.7" cy="746.6" rx="103.3" ry="30.2" fill="#f00"/><ellipse cx="333.7" cy="746.6" rx="103.3" ry="30.2" fill="url(#s87)"/><ellipse cx="333.7" cy="745.9" rx="101.6" ry="29.7" fill="#f00"/><ellipse cx="333.7" cy="745.9" rx="101.6" ry="29.7" fill="url(#s87)"/><ellipse cx="333.7" cy="745.2" rx="99.9" ry="29.1" fill="#f00"/><ellipse cx="333.7" cy="745.2" rx="99.9" ry="29.1" fill="url(#s88)"/><ellipse cx="333.7" cy="744.6" rx="98.2" ry="28.6" fill="#f00"/><ellipse cx="333.7" cy="744.6" rx="98.2" ry="28.6" fill="url(#s89)"/><ellipse cx="333.7" cy="744" rx="96.5" ry="28.1" fill="#f00"/><ellipse cx="333.7" cy="744" rx="96.5" ry="28.1" fill="url(#s89)"/><ellipse cx="333.7" cy="743.5" rx="94.8" ry="27.6" fill="#f00"/><ellipse cx="333.7" cy="743.5" rx="94.8" ry="27.6" fill="url(#s90)"/><ellipse cx="333.7" cy="743" rx="93.1" ry="27" fill="#f00"/><ellipse cx="333.7" cy="743" rx="93.1" ry="27" fill="url(#s91)"/><ellipse cx="333.7" cy="742.5" rx="91.4" ry="26.5" fill="#f00"/><ellipse cx="333.7" cy="742.5" rx="91.4" ry="26.5" fill="url(#s91)"/><ellipse cx="333.7" cy="742" rx="89.7" ry="26" fill="#f00"/><ellipse cx="333.7" cy="742" rx="89.7" ry="26" fill="url(#s92)"/><ellipse cx="333.7" cy="741.6" rx="88.1" ry="25.5" fill="#f00"/><ellipse cx="333.7" cy="741.6" rx="88.1" ry="25.5" fill="url(#s92)"/><ellipse cx="333.6" cy="741.2" rx="86.4" ry="25" fill="#f00"/><ellipse cx="333.6" cy="741.2" rx="86.4" ry="25" fill="url(#s93)"/><ellipse cx="333.6" cy="740.9" rx="84.7" ry="24.5" fill="#f00"/><ellipse cx="333.6" cy="740.9" rx="84.7" ry="24.5" fill="url(#s93)"/><ellipse cx="333.6" cy="740.5" rx="83.1" ry="24" fill="#f00"/><ellipse cx="333.6" cy="740.5" rx="83.1" ry="24" fill="url(#s94)"/><ellipse cx="333.6" cy="740.2" rx="81.5" ry="23.6" fill="#f00"/><ellipse cx="333.6" cy="740.2" rx="81.5" ry="23.6" fill="url(#s94)"/><ellipse cx="333.6" cy="739.9" rx="79.9" ry="23.1" fill="#f00"/><ellipse cx="333.6" cy="739.9" rx="79.9" ry="23.1" fill="url(#s94)"/><ellipse cx="333.6" cy="739.6" rx="78.1" ry="22.6" fill="#f00"/><ellipse cx="333.6" cy="739.6" rx="78.1" ry="22.6" fill="url(#s95)"/><ellipse cx="333.6" cy="739.3" rx="76.4" ry="22.1" fill="#f00"/><ellipse cx="333.6" cy="739.3" rx="76.4" ry="22.1" fill="url(#s95)"/><ellipse cx="333.6" cy="739.1" rx="74.8" ry="21.6" fill="#f00"/><ellipse cx="333.6" cy="739.1" rx="74.8" ry="21.6" fill="url(#s96)"/><ellipse cx="333.7" cy="738.8" rx="73.1" ry="21.1" fill="#f00"/><ellipse cx="333.7" cy="738.8" rx="73.1" ry="21.1" fill="url(#s96)"/><ellipse cx="333.7" cy="738.6" rx="71.5" ry="20.7" fill="#f00"/><ellipse cx="333.7" cy="738.6" rx="71.5" ry="20.7" fill="url(#s97)"/><ellipse cx="333.7" cy="738.5" rx="69.8" ry="20.2" fill="#f00"/><ellipse cx="333.7" cy="738.5" rx="69.8" ry="20.2" fill="url(#s97)"/><ellipse cx="333.7" cy="738.3" rx="68.1" ry="19.7" fill="#f00"/><ellipse cx="333.7" cy="738.3" rx="68.1" ry="19.7" fill="url(#s97)"/><ellipse cx="333.7" cy="738.1" rx="66.5" ry="19.2" fill="#f00"/><ellipse cx="333.7" cy="738.1" rx="66.5" ry="19.2" fill="url(#s98)"/><ellipse cx="333.7" cy="738" rx="64.9" ry="18.8" fill="#f00"/><ellipse cx="333.7" cy="738" rx="64.9" ry="18.8" fill="url(#s98)"/><ellipse cx="333.7" cy="737.9" rx="63.2" ry="18.3" fill="#f00"/><ellipse cx="333.7" cy="737.9" rx="63.2" ry="18.3" fill="url(#s99)"/><ellipse cx="333.7" cy="737.8" rx="61.5" ry="17.8" fill="#f00"/><ellipse cx="333.7" cy="737.8" rx="61.5" ry="17.8" fill="url(#s99)"/><ellipse cx="333.7" cy="737.7" rx="59.9" ry="17.4" fill="#f00"/><ellipse cx="333.7" cy="737.7" rx="59.9" ry="17.4" fill="url(#s99)"/><ellipse cx="333.7" cy="737.7" rx="58.3" ry="16.9" fill="#f00"/><ellipse cx="333.7" cy="737.7" rx="58.3" ry="16.9" fill="url(#s100)"/><ellipse cx="333.7" cy="737.6" rx="56.6" ry="16.4" fill="#f00"/><ellipse cx="333.7" cy="737.6" rx="56.6" ry="16.4" fill="url(#s100)"/><clipPath id="c01"><ellipse cx="333.7" cy="737.6" rx="56.1" ry="15.9"/></clipPath><g clip-path="url(#c01)"><ellipse cx="333.7" cy="737.6" rx="54.5" ry="15.5" fill="#f00"/><ellipse cx="333.7" cy="737.6" rx="54.5" ry="15.5" fill="url(#s100)"/><ellipse cx="333.7" cy="737.6" rx="52.9" ry="15" fill="#f00"/><ellipse cx="333.7" cy="737.6" rx="52.9" ry="15" fill="url(#s101)"/><ellipse cx="333.7" cy="737.6" rx="51.3" ry="14.5" fill="#f00"/><ellipse cx="333.7" cy="737.6" rx="51.3" ry="14.5" fill="url(#s101)"/><ellipse cx="333.7" cy="737.6" rx="49.7" ry="14.1" fill="#f00"/><ellipse cx="333.7" cy="737.6" rx="49.7" ry="14.1" fill="url(#s101)"/><ellipse cx="333.7" cy="737.7" rx="48" ry="13.6" fill="#f00"/><ellipse cx="333.7" cy="737.7" rx="48" ry="13.6" fill="url(#s102)"/><ellipse cx="333.7" cy="737.7" rx="46.4" ry="13.2" fill="#f00"/><ellipse cx="333.7" cy="737.7" rx="46.4" ry="13.2" fill="url(#s102)"/><ellipse cx="333.7" cy="737.8" rx="44.7" ry="12.7" fill="#f00"/><ellipse cx="333.7" cy="737.8" rx="44.7" ry="12.7" fill="url(#s102)"/><ellipse cx="333.7" cy="737.9" rx="43.1" ry="12.2" fill="#f00"/><ellipse cx="333.7" cy="737.9" rx="43.1" ry="12.2" fill="url(#s103)"/><ellipse cx="333.7" cy="738" rx="41.5" ry="11.8" fill="#f00"/><ellipse cx="333.7" cy="738" rx="41.5" ry="11.8" fill="url(#s103)"/><ellipse cx="333.7" cy="738.1" rx="39.8" ry="11.3" fill="#f00"/><ellipse cx="333.7" cy="738.1" rx="39.8" ry="11.3" fill="url(#s103)"/><ellipse cx="333.7" cy="738.3" rx="38.2" ry="10.9" fill="#f00"/><ellipse cx="333.7" cy="738.3" rx="38.2" ry="10.9" fill="url(#s104)"/><ellipse cx="333.7" cy="738.4" rx="36.6" ry="10.4" fill="#f00"/><ellipse cx="333.7" cy="738.4" rx="36.6" ry="10.4" fill="url(#s104)"/><ellipse cx="333.7" cy="738.6" rx="35" ry="9.9" fill="#f00"/><ellipse cx="333.7" cy="738.6" rx="35" ry="9.9" fill="url(#s105)"/><ellipse cx="333.7" cy="738.8" rx="33.4" ry="9.5" fill="#f00"/><ellipse cx="333.7" cy="738.8" rx="33.4" ry="9.5" fill="url(#s105)"/><ellipse cx="333.7" cy="739" rx="31.8" ry="9" fill="#f00"/><ellipse cx="333.7" cy="739" rx="31.8" ry="9" fill="url(#s105)"/><ellipse cx="333.7" cy="739.2" rx="30.1" ry="8.6" fill="#f00"/><ellipse cx="333.7" cy="739.2" rx="30.1" ry="8.6" fill="url(#s105)"/><ellipse cx="333.7" cy="739.4" rx="28.5" ry="8.1" fill="#f00"/><ellipse cx="333.7" cy="739.4" rx="28.5" ry="8.1" fill="url(#s106)"/><ellipse cx="333.7" cy="739.7" rx="26.9" ry="7.7" fill="#f00"/><ellipse cx="333.7" cy="739.7" rx="26.9" ry="7.7" fill="url(#s106)"/><ellipse cx="333.7" cy="739.9" rx="25.3" ry="7.2" fill="#f00"/><ellipse cx="333.7" cy="739.9" rx="25.3" ry="7.2" fill="url(#s106)"/><ellipse cx="333.7" cy="740.2" rx="23.7" ry="6.8" fill="#f00"/><ellipse cx="333.7" cy="740.2" rx="23.7" ry="6.8" fill="url(#s107)"/><ellipse cx="333.7" cy="740.4" rx="22.1" ry="6.3" fill="#f00"/><ellipse cx="333.7" cy="740.4" rx="22.1" ry="6.3" fill="url(#s107)"/><ellipse cx="333.7" cy="740.7" rx="20.5" ry="5.8" fill="#f00"/><ellipse cx="333.7" cy="740.7" rx="20.5" ry="5.8" fill="url(#s107)"/><ellipse cx="333.7" cy="741" rx="18.9" ry="5.4" fill="#f00"/><ellipse cx="333.7" cy="741" rx="18.9" ry="5.4" fill="url(#s107)"/><ellipse cx="333.7" cy="741.3" rx="17.3" ry="4.9" fill="#f00"/><ellipse cx="333.7" cy="741.3" rx="17.3" ry="4.9" fill="url(#s107)"/><ellipse cx="333.7" cy="741.6" rx="15.6" ry="4.5" fill="#f00"/><ellipse cx="333.7" cy="741.6" rx="15.6" ry="4.5" fill="url(#s107)"/><ellipse cx="333.7" cy="741.9" rx="14" ry="4" fill="#f00"/><ellipse cx="333.7" cy="741.9" rx="14" ry="4" fill="url(#s107)"/><ellipse cx="333.7" cy="742.2" rx="12.4" ry="3.6" fill="#f00"/><ellipse cx="333.7" cy="742.2" rx="12.4" ry="3.6" fill="url(#s107)"/><ellipse cx="333.7" cy="742.5" rx="10.8" ry="3.1" fill="#f00"/><ellipse cx="333.7" cy="742.5" rx="10.8" ry="3.1" fill="url(#s106)"/><ellipse cx="333.7" cy="742.8" rx="9.2" ry="2.7" fill="#f00"/><ellipse cx="333.7" cy="742.8" rx="9.2" ry="2.7" fill="url(#s106)"/><ellipse cx="333.7" cy="743" rx="7.7" ry="2.2" fill="#f00"/><ellipse cx="333.7" cy="743" rx="7.7" ry="2.2" fill="url(#s105)"/><ellipse cx="333.7" cy="743.2" rx="6" ry="1.7" fill="#f00"/><ellipse cx="333.7" cy="743.2" rx="6" ry="1.7" fill="url(#s104)"/><ellipse cx="333.7" cy="743.4" rx="4.4" ry="1.3" fill="#f00"/><ellipse cx="333.7" cy="743.4" rx="4.4" ry="1.3" fill="url(#s103)"/><ellipse cx="333.7" cy="743.5" rx="2.8" ry="0.8" fill="#f00"/><ellipse cx="333.7" cy="743.5" rx="2.8" ry="0.8" fill="url(#s102)"/><ellipse cx="333.7" cy="743.6" rx="1.2" ry="0.4" fill="#f00"/><ellipse cx="333.7" cy="743.6" rx="1.2" ry="0.4" fill="url(#s101)"/><ellipse cx="333.7" cy="743.6" rx="0" ry="0" fill="#f00"/><ellipse cx="333.7" cy="743.6" rx="0" ry="0" fill="url(#s100)"/></g></g></g><path d="M79.1 592.4L95.4 952.5M95.4 952.5L357 1058.9M357 1058.9L567.4 935.4M95.4 952.5l-4.6 1.9M357 1058.9l-4.3 2.5M567.4 935.4l4.8 1.5M91.5 866.6l-4.7 1.7M284 1029.2l-4.4 2.4M521.4 962.5l4.8 1.6M87.5 778l-4.8 1.5M216.4 1001.7l-4.5 2.2M471.4 991.8l4.7 1.7M83.4 686.7l-4.8 1.2M153.7 976.2l-4.6 2.1M416.8 1023.8l4.7 1.8M79.1 592.4l-4.9 0.9M95.4 952.5l-4.6 1.9M357 1058.9l4.6 1.9M544.9 948.7l2.9 0.9M496.9 976.8l2.8 1M444.7 1007.5l2.8 1M387.6 1041l2.8 1.1" stroke="#444" stroke-width="1.7" fill="none" stroke-linecap="square"/><g><text transform="matrix(0.2309 -0.04584 0.01478 0.3165 71.24 605.4)" font-size="100" text-anchor="end" fill="#333" font-weight="normal">200</text><text transform="matrix(0.2266 -0.05852 0.01432 0.3066 75.65 699.8)" font-size="100" text-anchor="end" fill="#333" font-weight="normal">100</text><text transform="matrix(0.2225 -0.0704 0.01388 0.2971 79.92 791.2)" font-size="100" text-anchor="end" fill="#333" font-weight="normal">0</text><text transform="matrix(0.2185 -0.08153 0.01346 0.2881 84.06 879.9)" font-size="100" text-anchor="end" fill="#333" font-weight="normal">-100</text><text transform="matrix(0.2147 -0.09196 0.01305 0.2795 88.07 965.8)" font-size="100" text-anchor="end" fill="#333" font-weight="normal">-200</text><text transform="matrix(0.2059 -0.09423 0.1925 0.07923 151.5 983.1)" font-size="100" text-anchor="end" fill="#333" font-weight="normal">100</text><text transform="matrix(0.2048 -0.1015 0.2073 0.08535 214.8 1009)" font-size="100" text-anchor="end" fill="#333" font-weight="normal">0</text><text transform="matrix(0.2029 -0.1096 0.224 0.09222 283 1037)" font-size="100" text-anchor="end" fill="#333" font-weight="normal">-100</text><text transform="matrix(0.2063 -0.08774 0.1791 0.07374 92.72 958.9)" font-size="100" text-anchor="end" fill="#333" font-weight="normal">200</text><text transform="matrix(0.2325 0.07178 -0.1439 0.08533 569.7 940.8)" font-size="100" text-anchor="start" fill="#333" font-weight="normal">-200</text><text transform="matrix(0.2369 0.07799 -0.1563 0.09265 523.4 968.2)" font-size="100" text-anchor="start" fill="#333" font-weight="normal">-100</text><text transform="matrix(0.2412 0.08504 -0.1703 0.101 473 998.1)" font-size="100" text-anchor="start" fill="#333" font-weight="normal">0</text><text transform="matrix(0.2453 0.09309 -0.1863 0.1104 418 1031)" font-size="100" text-anchor="start" fill="#333" font-weight="normal">100</text><text transform="matrix(0.2491 0.1023 -0.2046 0.1213 357.6 1067)" font-size="100" text-anchor="start" fill="#333" font-weight="normal">200</text></g><text x="81" y="619.5" font-size="26.6" font-weight="bold">Bulk modulus</text><text x="444" y="626" font-size="26.6" font-weight="bold">KNaSe</text><text x="2" y="802" font-size="33.5" font-weight="bold">Bz</text><text x="158.5" y="1054" font-size="33.5" font-weight="bold">By</text><text x="506" y="1031.7" font-size="33.5" font-weight="bold">Bx</text><path d="M984.1 882.1L982.3 559.4M1031 786.5L815.9 868.8M933.6 904.6L928.8 569.2M1031.2 709.8L812.9 779.2M878.7 929.1L870.4 579.9M1031.4 631.1L809.7 686.9M1218.6 913.5L1230.2 574.9M1293.1 849.6L1031 786.5M1152.3 895L1159.8 566.2M1297.1 763.7L1031.2 709.8M1089.8 877.7L1093.7 558M1301.2 675.3L1031.4 631.1M1247.8 959.9L984.1 882.1M1218.6 913.5L1020.2 1028.8M1202.4 989.3L933.6 904.6M1152.3 895L948.3 1002.7M1152.7 1021.5L878.7 929.1M1089.8 877.7L881.4 978.4" stroke="#dadada" stroke-width="1.3" fill="none"/><path d="M1030.9 861.3L1031.6 550.3M1030.9 861.3L818.9 955.7M818.9 955.7L806.5 591.6M1031.6 550.3L806.5 591.6M1289.2 933.1L1305.4 584.2M1289.2 933.1L1030.9 861.3M1305.4 584.2L1031.6 550.3M1289.2 933.1L1030.9 861.3M1289.2 933.1L1097.7 1057M1097.7 1057L818.9 955.7M1030.9 861.3L818.9 955.7" stroke="#b8b8b8" stroke-width="1.4" fill="none"/><clipPath id="kc11"><ellipse cx="1060" cy="837" rx="5.3" ry="1.8"/><ellipse cx="1059.9" cy="838.3" rx="10.1" ry="3.4"/><ellipse cx="1059.9" cy="840.1" rx="15" ry="5.1"/><ellipse cx="1059.9" cy="842.2" rx="19.8" ry="6.7"/><ellipse cx="1059.9" cy="844.6" rx="24.5" ry="8.4"/><ellipse cx="1059.9" cy="847" rx="29.3" ry="10"/><ellipse cx="1059.9" cy="849.4" rx="34" ry="11.7"/><ellipse cx="1059.9" cy="851.8" rx="38.7" ry="13.4"/><ellipse cx="1059.8" cy="854.1" rx="43.4" ry="15.1"/><ellipse cx="1059.8" cy="856.4" rx="48.2" ry="16.8"/><ellipse cx="1059.8" cy="858.5" rx="53.1" ry="18.6"/><ellipse cx="1059.8" cy="860.5" rx="58" ry="20.3"/><ellipse cx="1059.8" cy="862.4" rx="62.8" ry="22.1"/><ellipse cx="1059.8" cy="864" rx="67.5" ry="23.8"/><ellipse cx="1059.7" cy="865.4" rx="72.3" ry="25.6"/><ellipse cx="1059.7" cy="866.6" rx="77.1" ry="27.3"/><ellipse cx="1059.7" cy="868.3" rx="104.3" ry="37.1"/><ellipse cx="1059.7" cy="867.2" rx="109.1" ry="38.7"/><ellipse cx="1059.7" cy="865.3" rx="114" ry="40.3"/><ellipse cx="1059.7" cy="862.3" rx="118.9" ry="41.8"/><ellipse cx="1059.8" cy="857.9" rx="123.4" ry="43"/><ellipse cx="1059.8" cy="853.3" rx="126.4" ry="43.6"/><ellipse cx="1059.8" cy="848.6" rx="128.3" ry="43.9"/><ellipse cx="1059.9" cy="843.8" rx="129.6" ry="43.9"/><ellipse cx="1059.9" cy="839" rx="130.2" ry="43.8"/><ellipse cx="1060" cy="834.3" rx="130.4" ry="43.4"/><ellipse cx="1060" cy="829.5" rx="130.3" ry="43"/><ellipse cx="1060" cy="824.8" rx="130" ry="42.5"/><ellipse cx="1060" cy="820" rx="129.4" ry="41.9"/><ellipse cx="1060.1" cy="814.9" rx="128.6" ry="41.2"/><ellipse cx="1060.1" cy="809.8" rx="127.7" ry="40.5"/><ellipse cx="1060.2" cy="804.8" rx="126.7" ry="39.8"/><ellipse cx="1060.2" cy="799.7" rx="125.8" ry="39.1"/><ellipse cx="1060.2" cy="794.6" rx="124.9" ry="38.4"/><ellipse cx="1060.3" cy="789.5" rx="124.1" ry="37.7"/><ellipse cx="1060.3" cy="784.7" rx="123.6" ry="37.2"/><ellipse cx="1060.3" cy="779.9" rx="123.3" ry="36.7"/><ellipse cx="1060.4" cy="775.1" rx="123.2" ry="36.3"/><ellipse cx="1060.4" cy="770.3" rx="123.4" ry="36"/><ellipse cx="1060.4" cy="765.5" rx="123.8" ry="35.7"/><ellipse cx="1060.5" cy="760.7" rx="124.4" ry="35.5"/><ellipse cx="1060.5" cy="755.7" rx="125.3" ry="35.4"/><ellipse cx="1060.5" cy="750.6" rx="126.4" ry="35.2"/><ellipse cx="1060.6" cy="745.6" rx="127.6" ry="35.1"/><ellipse cx="1060.6" cy="740.5" rx="128.8" ry="35"/><ellipse cx="1060.6" cy="735.4" rx="129.9" ry="34.9"/><ellipse cx="1060.7" cy="730.3" rx="131" ry="34.8"/><ellipse cx="1060.7" cy="725.3" rx="131.9" ry="34.6"/><ellipse cx="1060.8" cy="720.4" rx="132.6" ry="34.3"/><ellipse cx="1060.8" cy="715.5" rx="133" ry="34"/><ellipse cx="1060.8" cy="710.6" rx="133.1" ry="33.6"/><ellipse cx="1060.9" cy="705.7" rx="132.8" ry="33.1"/><ellipse cx="1060.9" cy="700.4" rx="132" ry="32.5"/><ellipse cx="1060.9" cy="695.3" rx="130.5" ry="31.7"/><ellipse cx="1061" cy="690.2" rx="128.1" ry="30.7"/><ellipse cx="1061" cy="685" rx="124.7" ry="29.5"/><ellipse cx="1061" cy="680.1" rx="120" ry="28"/><ellipse cx="1061" cy="676.9" rx="115.1" ry="26.6"/><ellipse cx="1061.1" cy="675.4" rx="110" ry="25.3"/><ellipse cx="1061.1" cy="675.4" rx="109" ry="25.1"/></clipPath><g filter="url(#bl)"><g shape-rendering="crispEdges" clip-path="url(#kc11)"><ellipse cx="1060" cy="837" rx="5.8" ry="2.3" fill="#07ff4a"/><ellipse cx="1060" cy="837" rx="5.8" ry="2.3" fill="url(#s213)"/><ellipse cx="1060" cy="837.4" rx="7.5" ry="2.8" fill="#06ff51"/><ellipse cx="1060" cy="837.4" rx="7.5" ry="2.8" fill="url(#s211)"/><ellipse cx="1059.9" cy="837.8" rx="9.1" ry="3.4" fill="#05ff5a"/><ellipse cx="1059.9" cy="837.8" rx="9.1" ry="3.4" fill="url(#s210)"/><ellipse cx="1059.9" cy="838.3" rx="10.6" ry="3.9" fill="#04ff63"/><ellipse cx="1059.9" cy="838.3" rx="10.6" ry="3.9" fill="url(#s209)"/><ellipse cx="1059.9" cy="838.8" rx="12.2" ry="4.4" fill="#03ff6e"/><ellipse cx="1059.9" cy="838.8" rx="12.2" ry="4.4" fill="url(#s207)"/><ellipse cx="1059.9" cy="839.4" rx="13.8" ry="5" fill="#02ff7b"/><ellipse cx="1059.9" cy="839.4" rx="13.8" ry="5" fill="url(#s206)"/><ellipse cx="1059.9" cy="840.1" rx="15.5" ry="5.6" fill="#0f8"/><ellipse cx="1059.9" cy="840.1" rx="15.5" ry="5.6" fill="url(#s205)"/><ellipse cx="1059.9" cy="840.8" rx="17.1" ry="6.1" fill="#00ff92"/><ellipse cx="1059.9" cy="840.8" rx="17.1" ry="6.1" fill="url(#s205)"/><ellipse cx="1059.9" cy="841.5" rx="18.7" ry="6.7" fill="#00fe9c"/><ellipse cx="1059.9" cy="841.5" rx="18.7" ry="6.7" fill="url(#s204)"/><ellipse cx="1059.9" cy="842.2" rx="20.3" ry="7.2" fill="#00fea5"/><ellipse cx="1059.9" cy="842.2" rx="20.3" ry="7.2" fill="url(#s204)"/><ellipse cx="1059.9" cy="843" rx="21.9" ry="7.8" fill="#00fdaf"/><ellipse cx="1059.9" cy="843" rx="21.9" ry="7.8" fill="url(#s203)"/><ellipse cx="1059.9" cy="843.8" rx="23.5" ry="8.3" fill="#00fdb9"/><ellipse cx="1059.9" cy="843.8" rx="23.5" ry="8.3" fill="url(#s203)"/><ellipse cx="1059.9" cy="844.6" rx="25" ry="8.9" fill="#00fdc2"/><ellipse cx="1059.9" cy="844.6" rx="25" ry="8.9" fill="url(#s203)"/><ellipse cx="1059.9" cy="845.4" rx="26.6" ry="9.4" fill="#00fccc"/><ellipse cx="1059.9" cy="845.4" rx="26.6" ry="9.4" fill="url(#s203)"/><ellipse cx="1059.9" cy="846.2" rx="28.2" ry="10" fill="#00fcd7"/><ellipse cx="1059.9" cy="846.2" rx="28.2" ry="10" fill="url(#s203)"/><ellipse cx="1059.9" cy="847" rx="29.8" ry="10.5" fill="#00fbe1"/><ellipse cx="1059.9" cy="847" rx="29.8" ry="10.5" fill="url(#s202)"/><ellipse cx="1059.9" cy="847.8" rx="31.3" ry="11.1" fill="#00fbeb"/><ellipse cx="1059.9" cy="847.8" rx="31.3" ry="11.1" fill="url(#s203)"/><ellipse cx="1059.9" cy="848.6" rx="32.9" ry="11.6" fill="#00faf5"/><ellipse cx="1059.9" cy="848.6" rx="32.9" ry="11.6" fill="url(#s203)"/><ellipse cx="1059.9" cy="849.4" rx="34.5" ry="12.2" fill="#00f8fa"/><ellipse cx="1059.9" cy="849.4" rx="34.5" ry="12.2" fill="url(#s203)"/><ellipse cx="1059.9" cy="850.2" rx="36" ry="12.7" fill="#00f5fb"/><ellipse cx="1059.9" cy="850.2" rx="36" ry="12.7" fill="url(#s203)"/><ellipse cx="1059.9" cy="851" rx="37.6" ry="13.3" fill="#00f2fb"/><ellipse cx="1059.9" cy="851" rx="37.6" ry="13.3" fill="url(#s203)"/><ellipse cx="1059.9" cy="851.8" rx="39.2" ry="13.9" fill="#00eefc"/><ellipse cx="1059.9" cy="851.8" rx="39.2" ry="13.9" fill="url(#s203)"/><ellipse cx="1059.8" cy="852.6" rx="40.8" ry="14.4" fill="#00ebfc"/><ellipse cx="1059.8" cy="852.6" rx="40.8" ry="14.4" fill="url(#s203)"/><ellipse cx="1059.8" cy="853.4" rx="42.4" ry="15" fill="#00e8fd"/><ellipse cx="1059.8" cy="853.4" rx="42.4" ry="15" fill="url(#s204)"/><ellipse cx="1059.8" cy="854.1" rx="43.9" ry="15.6" fill="#00e5fd"/><ellipse cx="1059.8" cy="854.1" rx="43.9" ry="15.6" fill="url(#s204)"/><ellipse cx="1059.8" cy="854.9" rx="45.5" ry="16.1" fill="#00e2fd"/><ellipse cx="1059.8" cy="854.9" rx="45.5" ry="16.1" fill="url(#s204)"/><ellipse cx="1059.8" cy="855.7" rx="47.1" ry="16.7" fill="#00dffe"/><ellipse cx="1059.8" cy="855.7" rx="47.1" ry="16.7" fill="url(#s204)"/><ellipse cx="1059.8" cy="856.4" rx="48.7" ry="17.3" fill="#00dcfe"/><ellipse cx="1059.8" cy="856.4" rx="48.7" ry="17.3" fill="url(#s205)"/><ellipse cx="1059.8" cy="857.1" rx="50.4" ry="17.9" fill="#00d9ff"/><ellipse cx="1059.8" cy="857.1" rx="50.4" ry="17.9" fill="url(#s205)"/><ellipse cx="1059.8" cy="857.8" rx="52" ry="18.5" fill="#00d4ff"/><ellipse cx="1059.8" cy="857.8" rx="52" ry="18.5" fill="url(#s205)"/><ellipse cx="1059.8" cy="858.5" rx="53.6" ry="19.1" fill="#00cdff"/><ellipse cx="1059.8" cy="858.5" rx="53.6" ry="19.1" fill="url(#s206)"/><ellipse cx="1059.8" cy="859.2" rx="55.2" ry="19.6" fill="#00c6ff"/><ellipse cx="1059.8" cy="859.2" rx="55.2" ry="19.6" fill="url(#s206)"/><ellipse cx="1059.8" cy="859.9" rx="56.9" ry="20.2" fill="#00bfff"/><ellipse cx="1059.8" cy="859.9" rx="56.9" ry="20.2" fill="url(#s206)"/><ellipse cx="1059.8" cy="860.5" rx="58.5" ry="20.8" fill="#00b8ff"/><ellipse cx="1059.8" cy="860.5" rx="58.5" ry="20.8" fill="url(#s207)"/><ellipse cx="1059.8" cy="861.2" rx="60.1" ry="21.4" fill="#00b2ff"/><ellipse cx="1059.8" cy="861.2" rx="60.1" ry="21.4" fill="url(#s207)"/><ellipse cx="1059.8" cy="861.8" rx="61.8" ry="22" fill="#00acff"/><ellipse cx="1059.8" cy="861.8" rx="61.8" ry="22" fill="url(#s208)"/><ellipse cx="1059.8" cy="862.4" rx="63.3" ry="22.6" fill="#00a6ff"/><ellipse cx="1059.8" cy="862.4" rx="63.3" ry="22.6" fill="url(#s208)"/><ellipse cx="1059.8" cy="862.9" rx="64.9" ry="23.2" fill="#00a1ff"/><ellipse cx="1059.8" cy="862.9" rx="64.9" ry="23.2" fill="url(#s208)"/><ellipse cx="1059.8" cy="863.5" rx="66.5" ry="23.8" fill="#009cff"/><ellipse cx="1059.8" cy="863.5" rx="66.5" ry="23.8" fill="url(#s209)"/><ellipse cx="1059.8" cy="864" rx="68" ry="24.3" fill="#0097ff"/><ellipse cx="1059.8" cy="864" rx="68" ry="24.3" fill="url(#s209)"/><ellipse cx="1059.8" cy="864.5" rx="69.6" ry="24.9" fill="#0092ff"/><ellipse cx="1059.8" cy="864.5" rx="69.6" ry="24.9" fill="url(#s210)"/><ellipse cx="1059.8" cy="864.9" rx="71.2" ry="25.5" fill="#008dff"/><ellipse cx="1059.8" cy="864.9" rx="71.2" ry="25.5" fill="url(#s210)"/><ellipse cx="1059.7" cy="865.4" rx="72.8" ry="26.1" fill="#0089ff"/><ellipse cx="1059.7" cy="865.4" rx="72.8" ry="26.1" fill="url(#s211)"/><ellipse cx="1059.7" cy="865.8" rx="74.4" ry="26.7" fill="#0085ff"/><ellipse cx="1059.7" cy="865.8" rx="74.4" ry="26.7" fill="url(#s211)"/><ellipse cx="1059.7" cy="866.3" rx="76" ry="27.2" fill="#0081ff"/><ellipse cx="1059.7" cy="866.3" rx="76" ry="27.2" fill="url(#s212)"/><ellipse cx="1059.7" cy="866.6" rx="77.6" ry="27.8" fill="#007dff"/><ellipse cx="1059.7" cy="866.6" rx="77.6" ry="27.8" fill="url(#s213)"/><ellipse cx="1059.7" cy="867" rx="79.2" ry="28.4" fill="#007aff"/><ellipse cx="1059.7" cy="867" rx="79.2" ry="28.4" fill="url(#s213)"/><ellipse cx="1059.7" cy="868.6" rx="103.2" ry="37" fill="#0074ff"/><ellipse cx="1059.7" cy="868.6" rx="103.2" ry="37" fill="url(#s-13)" opacity=".20"/><ellipse cx="1059.7" cy="868.6" rx="103.2" ry="37" fill="url(#r-13)"/><ellipse cx="1059.7" cy="868.3" rx="104.8" ry="37.6" fill="#0078ff"/><ellipse cx="1059.7" cy="868.3" rx="104.8" ry="37.6" fill="url(#s-12)" opacity=".20"/><ellipse cx="1059.7" cy="868.3" rx="104.8" ry="37.6" fill="url(#r-12)"/><ellipse cx="1059.7" cy="868" rx="106.4" ry="38.1" fill="#007cff"/><ellipse cx="1059.7" cy="868" rx="106.4" ry="38.1" fill="url(#s-10)" opacity=".20"/><ellipse cx="1059.7" cy="868" rx="106.4" ry="38.1" fill="url(#r-10)"/><ellipse cx="1059.7" cy="867.7" rx="108" ry="38.7" fill="#0080ff"/><ellipse cx="1059.7" cy="867.7" rx="108" ry="38.7" fill="url(#s-9)" opacity=".20"/><ellipse cx="1059.7" cy="867.7" rx="108" ry="38.7" fill="url(#r-9)"/><ellipse cx="1059.7" cy="867.2" rx="109.6" ry="39.2" fill="#0086ff"/><ellipse cx="1059.7" cy="867.2" rx="109.6" ry="39.2" fill="url(#s-7)" opacity=".20"/><ellipse cx="1059.7" cy="867.2" rx="109.6" ry="39.2" fill="url(#r-7)"/><ellipse cx="1059.7" cy="866.7" rx="111.2" ry="39.7" fill="#008dff"/><ellipse cx="1059.7" cy="866.7" rx="111.2" ry="39.7" fill="url(#s-5)" opacity=".20"/><ellipse cx="1059.7" cy="866.7" rx="111.2" ry="39.7" fill="url(#r-5)"/><ellipse cx="1059.7" cy="866" rx="112.9" ry="40.3" fill="#0094ff"/><ellipse cx="1059.7" cy="866" rx="112.9" ry="40.3" fill="url(#s-3)" opacity=".20"/><ellipse cx="1059.7" cy="866" rx="112.9" ry="40.3" fill="url(#r-3)"/><ellipse cx="1059.7" cy="865.3" rx="114.5" ry="40.8" fill="#009dff"/><ellipse cx="1059.7" cy="865.3" rx="114.5" ry="40.8" fill="url(#s-1)" opacity=".20"/><ellipse cx="1059.7" cy="865.3" rx="114.5" ry="40.8" fill="url(#r-1)"/><ellipse cx="1059.7" cy="864.5" rx="116.1" ry="41.3" fill="#00a7ff"/><ellipse cx="1059.7" cy="864.5" rx="116.1" ry="41.3" fill="url(#s1)" opacity=".20"/><ellipse cx="1059.7" cy="864.5" rx="116.1" ry="41.3" fill="url(#r1)"/><ellipse cx="1059.7" cy="863.5" rx="117.8" ry="41.8" fill="#00b2ff"/><ellipse cx="1059.7" cy="863.5" rx="117.8" ry="41.8" fill="url(#s4)" opacity=".20"/><ellipse cx="1059.7" cy="863.5" rx="117.8" ry="41.8" fill="url(#r4)"/><ellipse cx="1059.7" cy="862.3" rx="119.4" ry="42.3" fill="#00bfff"/><ellipse cx="1059.7" cy="862.3" rx="119.4" ry="42.3" fill="url(#s6)" opacity=".20"/><ellipse cx="1059.7" cy="862.3" rx="119.4" ry="42.3" fill="url(#r6)"/><ellipse cx="1059.7" cy="860.9" rx="121" ry="42.7" fill="#00cfff"/><ellipse cx="1059.7" cy="860.9" rx="121" ry="42.7" fill="url(#s9)" opacity=".20"/><ellipse cx="1059.7" cy="860.9" rx="121" ry="42.7" fill="url(#r9)"/><ellipse cx="1059.8" cy="859.4" rx="122.6" ry="43.2" fill="#00dbfe"/><ellipse cx="1059.8" cy="859.4" rx="122.6" ry="43.2" fill="url(#s12)" opacity=".20"/><ellipse cx="1059.8" cy="859.4" rx="122.6" ry="43.2" fill="url(#r12)"/><ellipse cx="1059.8" cy="857.9" rx="123.9" ry="43.5" fill="#00e1fe"/><ellipse cx="1059.8" cy="857.9" rx="123.9" ry="43.5" fill="url(#s15)" opacity=".20"/><ellipse cx="1059.8" cy="857.9" rx="123.9" ry="43.5" fill="url(#r15)" opacity=".91"/><ellipse cx="1059.8" cy="856.4" rx="125" ry="43.7" fill="#00e8fd"/><ellipse cx="1059.8" cy="856.4" rx="125" ry="43.7" fill="url(#s18)" opacity=".25"/><ellipse cx="1059.8" cy="856.4" rx="125" ry="43.7" fill="url(#r18)" opacity=".78"/><ellipse cx="1059.8" cy="854.9" rx="126" ry="44" fill="#00effc"/><ellipse cx="1059.8" cy="854.9" rx="126" ry="44" fill="url(#s20)" opacity=".35"/><ellipse cx="1059.8" cy="854.9" rx="126" ry="44" fill="url(#r20)" opacity=".65"/><ellipse cx="1059.8" cy="853.3" rx="126.9" ry="44.1" fill="#00f6fb"/><ellipse cx="1059.8" cy="853.3" rx="126.9" ry="44.1" fill="url(#s23)" opacity=".44"/><ellipse cx="1059.8" cy="853.3" rx="126.9" ry="44.1" fill="url(#r23)" opacity=".53"/><ellipse cx="1059.8" cy="851.7" rx="127.6" ry="44.3" fill="#00faf2"/><ellipse cx="1059.8" cy="851.7" rx="127.6" ry="44.3" fill="url(#s25)" opacity=".53"/><ellipse cx="1059.8" cy="851.7" rx="127.6" ry="44.3" fill="url(#r25)" opacity=".42"/><ellipse cx="1059.8" cy="850.2" rx="128.3" ry="44.4" fill="#00fbde"/><ellipse cx="1059.8" cy="850.2" rx="128.3" ry="44.4" fill="url(#s27)" opacity=".61"/><ellipse cx="1059.8" cy="850.2" rx="128.3" ry="44.4" fill="url(#r27)" opacity=".33"/><ellipse cx="1059.8" cy="848.6" rx="128.8" ry="44.4" fill="#00fcc9"/><ellipse cx="1059.8" cy="848.6" rx="128.8" ry="44.4" fill="url(#s29)" opacity=".68"/><ellipse cx="1059.8" cy="848.6" rx="128.8" ry="44.4" fill="url(#r29)" opacity=".23"/><ellipse cx="1059.9" cy="847" rx="129.3" ry="44.5" fill="#00fdb5"/><ellipse cx="1059.9" cy="847" rx="129.3" ry="44.5" fill="url(#s30)" opacity=".75"/><ellipse cx="1059.9" cy="847" rx="129.3" ry="44.5" fill="url(#r30)" opacity=".15"/><ellipse cx="1059.9" cy="845.4" rx="129.7" ry="44.5" fill="#00fea0"/><ellipse cx="1059.9" cy="845.4" rx="129.7" ry="44.5" fill="url(#s32)" opacity=".82"/><ellipse cx="1059.9" cy="845.4" rx="129.7" ry="44.5" fill="url(#r32)" opacity=".06"/><ellipse cx="1059.9" cy="843.8" rx="130.1" ry="44.4" fill="#00ff8a"/><ellipse cx="1059.9" cy="843.8" rx="130.1" ry="44.4" fill="url(#s34)" opacity=".88"/><ellipse cx="1059.9" cy="842.1" rx="130.4" ry="44.4" fill="#04ff68"/><ellipse cx="1059.9" cy="842.1" rx="130.4" ry="44.4" fill="url(#s35)" opacity=".93"/><ellipse cx="1059.9" cy="840.6" rx="130.6" ry="44.3" fill="#07ff48"/><ellipse cx="1059.9" cy="840.6" rx="130.6" ry="44.3" fill="url(#s36)" opacity=".98"/><ellipse cx="1059.9" cy="839" rx="130.7" ry="44.3" fill="#0bff27"/><ellipse cx="1059.9" cy="839" rx="130.7" ry="44.3" fill="url(#s37)"/><ellipse cx="1059.9" cy="837.4" rx="130.8" ry="44.2" fill="#0eff07"/><ellipse cx="1059.9" cy="837.4" rx="130.8" ry="44.2" fill="url(#s39)"/><ellipse cx="1059.9" cy="835.9" rx="130.9" ry="44.1" fill="#15ff00"/><ellipse cx="1059.9" cy="835.9" rx="130.9" ry="44.1" fill="url(#s40)"/><ellipse cx="1060" cy="834.3" rx="130.9" ry="43.9" fill="#1cff00"/><ellipse cx="1060" cy="834.3" rx="130.9" ry="43.9" fill="url(#s40)"/><ellipse cx="1060" cy="832.7" rx="130.9" ry="43.8" fill="#24ff00"/><ellipse cx="1060" cy="832.7" rx="130.9" ry="43.8" fill="url(#s41)"/><ellipse cx="1060" cy="831.1" rx="130.9" ry="43.6" fill="#2bff00"/><ellipse cx="1060" cy="831.1" rx="130.9" ry="43.6" fill="url(#s42)"/><ellipse cx="1060" cy="829.5" rx="130.8" ry="43.5" fill="#3f0"/><ellipse cx="1060" cy="829.5" rx="130.8" ry="43.5" fill="url(#s43)"/><ellipse cx="1060" cy="828" rx="130.7" ry="43.3" fill="#3aff00"/><ellipse cx="1060" cy="828" rx="130.7" ry="43.3" fill="url(#s44)"/><ellipse cx="1060" cy="826.4" rx="130.6" ry="43.2" fill="#41ff00"/><ellipse cx="1060" cy="826.4" rx="130.6" ry="43.2" fill="url(#s44)"/><ellipse cx="1060" cy="824.8" rx="130.5" ry="43" fill="#49ff00"/><ellipse cx="1060" cy="824.8" rx="130.5" ry="43" fill="url(#s45)"/><ellipse cx="1060" cy="823.2" rx="130.3" ry="42.8" fill="#50ff00"/><ellipse cx="1060" cy="823.2" rx="130.3" ry="42.8" fill="url(#s45)"/><ellipse cx="1060" cy="821.6" rx="130.1" ry="42.6" fill="#57ff00"/><ellipse cx="1060" cy="821.6" rx="130.1" ry="42.6" fill="url(#s46)"/><ellipse cx="1060" cy="820" rx="129.9" ry="42.4" fill="#5fff00"/><ellipse cx="1060" cy="820" rx="129.9" ry="42.4" fill="url(#s46)"/><ellipse cx="1060.1" cy="818.3" rx="129.6" ry="42.1" fill="#67ff00"/><ellipse cx="1060.1" cy="818.3" rx="129.6" ry="42.1" fill="url(#s47)"/><ellipse cx="1060.1" cy="816.6" rx="129.4" ry="41.9" fill="#6fff00"/><ellipse cx="1060.1" cy="816.6" rx="129.4" ry="41.9" fill="url(#s47)"/><ellipse cx="1060.1" cy="814.9" rx="129.1" ry="41.7" fill="#7f0"/><ellipse cx="1060.1" cy="814.9" rx="129.1" ry="41.7" fill="url(#s47)"/><ellipse cx="1060.1" cy="813.2" rx="128.8" ry="41.5" fill="#7eff00"/><ellipse cx="1060.1" cy="813.2" rx="128.8" ry="41.5" fill="url(#s48)"/><ellipse cx="1060.1" cy="811.5" rx="128.5" ry="41.2" fill="#86ff00"/><ellipse cx="1060.1" cy="811.5" rx="128.5" ry="41.2" fill="url(#s48)"/><ellipse cx="1060.1" cy="809.8" rx="128.2" ry="41" fill="#8eff00"/><ellipse cx="1060.1" cy="809.8" rx="128.2" ry="41" fill="url(#s48)"/><ellipse cx="1060.1" cy="808.1" rx="127.9" ry="40.7" fill="#96ff00"/><ellipse cx="1060.1" cy="808.1" rx="127.9" ry="40.7" fill="url(#s48)"/><ellipse cx="1060.1" cy="806.5" rx="127.5" ry="40.5" fill="#9eff00"/><ellipse cx="1060.1" cy="806.5" rx="127.5" ry="40.5" fill="url(#s48)"/><ellipse cx="1060.2" cy="804.8" rx="127.2" ry="40.3" fill="#a5ff00"/><ellipse cx="1060.2" cy="804.8" rx="127.2" ry="40.3" fill="url(#s48)"/><ellipse cx="1060.2" cy="803.1" rx="126.9" ry="40" fill="#adff00"/><ellipse cx="1060.2" cy="803.1" rx="126.9" ry="40" fill="url(#s48)"/><ellipse cx="1060.2" cy="801.4" rx="126.6" ry="39.8" fill="#b5ff00"/><ellipse cx="1060.2" cy="801.4" rx="126.6" ry="39.8" fill="url(#s48)"/><ellipse cx="1060.2" cy="799.7" rx="126.3" ry="39.6" fill="#b9ff00"/><ellipse cx="1060.2" cy="799.7" rx="126.3" ry="39.6" fill="url(#s48)"/><ellipse cx="1060.2" cy="798" rx="126" ry="39.3" fill="#befe00"/><ellipse cx="1060.2" cy="798" rx="126" ry="39.3" fill="url(#s48)"/><ellipse cx="1060.2" cy="796.3" rx="125.7" ry="39.1" fill="#c3fe00"/><ellipse cx="1060.2" cy="796.3" rx="125.7" ry="39.1" fill="url(#s47)"/><ellipse cx="1060.2" cy="794.6" rx="125.4" ry="38.9" fill="#c7fe00"/><ellipse cx="1060.2" cy="794.6" rx="125.4" ry="38.9" fill="url(#s47)"/><ellipse cx="1060.2" cy="792.9" rx="125.1" ry="38.7" fill="#ccfd00"/><ellipse cx="1060.2" cy="792.9" rx="125.1" ry="38.7" fill="url(#s47)"/><ellipse cx="1060.2" cy="791.2" rx="124.8" ry="38.4" fill="#d1fd00"/><ellipse cx="1060.2" cy="791.2" rx="124.8" ry="38.4" fill="url(#s46)"/><ellipse cx="1060.3" cy="789.5" rx="124.6" ry="38.2" fill="#d5fd00"/><ellipse cx="1060.3" cy="789.5" rx="124.6" ry="38.2" fill="url(#s46)"/><ellipse cx="1060.3" cy="787.9" rx="124.4" ry="38" fill="#dafc00"/><ellipse cx="1060.3" cy="787.9" rx="124.4" ry="38" fill="url(#s45)"/><ellipse cx="1060.3" cy="786.3" rx="124.2" ry="37.9" fill="#defc00"/><ellipse cx="1060.3" cy="786.3" rx="124.2" ry="37.9" fill="url(#s45)"/><ellipse cx="1060.3" cy="784.7" rx="124.1" ry="37.7" fill="#e3fc00"/><ellipse cx="1060.3" cy="784.7" rx="124.1" ry="37.7" fill="url(#s44)"/><ellipse cx="1060.3" cy="783.1" rx="123.9" ry="37.5" fill="#e7fb00"/><ellipse cx="1060.3" cy="783.1" rx="123.9" ry="37.5" fill="url(#s44)"/><ellipse cx="1060.3" cy="781.5" rx="123.8" ry="37.4" fill="#ebfb00"/><ellipse cx="1060.3" cy="781.5" rx="123.8" ry="37.4" fill="url(#s43)"/><ellipse cx="1060.3" cy="779.9" rx="123.8" ry="37.2" fill="#f0fb00"/><ellipse cx="1060.3" cy="779.9" rx="123.8" ry="37.2" fill="url(#s42)"/><ellipse cx="1060.3" cy="778.3" rx="123.7" ry="37.1" fill="#f4fa00"/><ellipse cx="1060.3" cy="778.3" rx="123.7" ry="37.1" fill="url(#s42)"/><ellipse cx="1060.3" cy="776.7" rx="123.7" ry="36.9" fill="#f9fa00"/><ellipse cx="1060.3" cy="776.7" rx="123.7" ry="36.9" fill="url(#s41)"/><ellipse cx="1060.4" cy="775.1" rx="123.7" ry="36.8" fill="#faf500"/><ellipse cx="1060.4" cy="775.1" rx="123.7" ry="36.8" fill="url(#s40)"/><ellipse cx="1060.4" cy="773.5" rx="123.7" ry="36.7" fill="#faee00"/><ellipse cx="1060.4" cy="773.5" rx="123.7" ry="36.7" fill="url(#s40)"/><ellipse cx="1060.4" cy="771.9" rx="123.8" ry="36.6" fill="#fbe700"/><ellipse cx="1060.4" cy="771.9" rx="123.8" ry="36.6" fill="url(#s39)"/><ellipse cx="1060.4" cy="770.3" rx="123.9" ry="36.5" fill="#fbe000"/><ellipse cx="1060.4" cy="770.3" rx="123.9" ry="36.5" fill="url(#s38)"/><ellipse cx="1060.4" cy="768.7" rx="124" ry="36.4" fill="#fbd900"/><ellipse cx="1060.4" cy="768.7" rx="124" ry="36.4" fill="url(#s38)"/><ellipse cx="1060.4" cy="767.1" rx="124.1" ry="36.3" fill="#fcd200"/><ellipse cx="1060.4" cy="767.1" rx="124.1" ry="36.3" fill="url(#s37)"/><ellipse cx="1060.4" cy="765.5" rx="124.3" ry="36.2" fill="#fccc00"/><ellipse cx="1060.4" cy="765.5" rx="124.3" ry="36.2" fill="url(#s36)" opacity=".99"/><ellipse cx="1060.4" cy="763.9" rx="124.5" ry="36.1" fill="#fcc500"/><ellipse cx="1060.4" cy="763.9" rx="124.5" ry="36.1" fill="url(#s36)" opacity=".96"/><ellipse cx="1060.4" cy="762.3" rx="124.7" ry="36.1" fill="#fcbe00"/><ellipse cx="1060.4" cy="762.3" rx="124.7" ry="36.1" fill="url(#s35)" opacity=".94"/><ellipse cx="1060.5" cy="760.7" rx="124.9" ry="36" fill="#fdb700"/><ellipse cx="1060.5" cy="760.7" rx="124.9" ry="36" fill="url(#s35)" opacity=".92"/><ellipse cx="1060.5" cy="759.1" rx="125.2" ry="36" fill="#fdb000"/><ellipse cx="1060.5" cy="759.1" rx="125.2" ry="36" fill="url(#s34)" opacity=".90"/><ellipse cx="1060.5" cy="757.4" rx="125.5" ry="35.9" fill="#fda900"/><ellipse cx="1060.5" cy="757.4" rx="125.5" ry="35.9" fill="url(#s34)" opacity=".88"/><ellipse cx="1060.5" cy="755.7" rx="125.8" ry="35.9" fill="#fea100"/><ellipse cx="1060.5" cy="755.7" rx="125.8" ry="35.9" fill="url(#s33)" opacity=".86"/><ellipse cx="1060.5" cy="755.7" rx="125.8" ry="35.9" fill="url(#r33)" opacity=".00"/><ellipse cx="1060.5" cy="754" rx="126.2" ry="35.8" fill="#fe9a00"/><ellipse cx="1060.5" cy="754" rx="126.2" ry="35.8" fill="url(#s33)" opacity=".85"/><ellipse cx="1060.5" cy="754" rx="126.2" ry="35.8" fill="url(#r33)" opacity=".02"/><ellipse cx="1060.5" cy="752.3" rx="126.5" ry="35.8" fill="#fe9300"/><ellipse cx="1060.5" cy="752.3" rx="126.5" ry="35.8" fill="url(#s33)" opacity=".84"/><ellipse cx="1060.5" cy="752.3" rx="126.5" ry="35.8" fill="url(#r33)" opacity=".04"/><ellipse cx="1060.5" cy="750.6" rx="126.9" ry="35.7" fill="#ff8c00"/><ellipse cx="1060.5" cy="750.6" rx="126.9" ry="35.7" fill="url(#s32)" opacity=".83"/><ellipse cx="1060.5" cy="750.6" rx="126.9" ry="35.7" fill="url(#r32)" opacity=".05"/><ellipse cx="1060.5" cy="748.9" rx="127.3" ry="35.7" fill="#ff8400"/><ellipse cx="1060.5" cy="748.9" rx="127.3" ry="35.7" fill="url(#s32)" opacity=".82"/><ellipse cx="1060.5" cy="748.9" rx="127.3" ry="35.7" fill="url(#r32)" opacity=".06"/><ellipse cx="1060.6" cy="747.2" rx="127.7" ry="35.7" fill="#ff7d00"/><ellipse cx="1060.6" cy="747.2" rx="127.7" ry="35.7" fill="url(#s32)" opacity=".81"/><ellipse cx="1060.6" cy="747.2" rx="127.7" ry="35.7" fill="url(#r32)" opacity=".07"/><ellipse cx="1060.6" cy="745.6" rx="128.1" ry="35.6" fill="#ff7500"/><ellipse cx="1060.6" cy="745.6" rx="128.1" ry="35.6" fill="url(#s32)" opacity=".81"/><ellipse cx="1060.6" cy="745.6" rx="128.1" ry="35.6" fill="url(#r32)" opacity=".08"/><ellipse cx="1060.6" cy="743.9" rx="128.5" ry="35.6" fill="#ff6d00"/><ellipse cx="1060.6" cy="743.9" rx="128.5" ry="35.6" fill="url(#s32)" opacity=".80"/><ellipse cx="1060.6" cy="743.9" rx="128.5" ry="35.6" fill="url(#r32)" opacity=".08"/><ellipse cx="1060.6" cy="742.2" rx="128.9" ry="35.6" fill="#ff6500"/><ellipse cx="1060.6" cy="742.2" rx="128.9" ry="35.6" fill="url(#s32)" opacity=".80"/><ellipse cx="1060.6" cy="742.2" rx="128.9" ry="35.6" fill="url(#r32)" opacity=".08"/><ellipse cx="1060.6" cy="740.5" rx="129.3" ry="35.5" fill="#ff5c00"/><ellipse cx="1060.6" cy="740.5" rx="129.3" ry="35.5" fill="url(#s32)" opacity=".81"/><ellipse cx="1060.6" cy="740.5" rx="129.3" ry="35.5" fill="url(#r32)" opacity=".07"/><ellipse cx="1060.6" cy="738.8" rx="129.6" ry="35.5" fill="#ff5400"/><ellipse cx="1060.6" cy="738.8" rx="129.6" ry="35.5" fill="url(#s32)" opacity=".81"/><ellipse cx="1060.6" cy="738.8" rx="129.6" ry="35.5" fill="url(#r32)" opacity=".07"/><ellipse cx="1060.6" cy="737.1" rx="130" ry="35.5" fill="#ff4c00"/><ellipse cx="1060.6" cy="737.1" rx="130" ry="35.5" fill="url(#s32)" opacity=".82"/><ellipse cx="1060.6" cy="737.1" rx="130" ry="35.5" fill="url(#r32)" opacity=".06"/><ellipse cx="1060.6" cy="735.4" rx="130.4" ry="35.4" fill="#f40"/><ellipse cx="1060.6" cy="735.4" rx="130.4" ry="35.4" fill="url(#s32)" opacity=".83"/><ellipse cx="1060.6" cy="735.4" rx="130.4" ry="35.4" fill="url(#r32)" opacity=".05"/><ellipse cx="1060.7" cy="733.7" rx="130.8" ry="35.4" fill="#ff3c00"/><ellipse cx="1060.7" cy="733.7" rx="130.8" ry="35.4" fill="url(#s33)" opacity=".84"/><ellipse cx="1060.7" cy="733.7" rx="130.8" ry="35.4" fill="url(#r33)" opacity=".04"/><ellipse cx="1060.7" cy="732" rx="131.1" ry="35.3" fill="#ff3400"/><ellipse cx="1060.7" cy="732" rx="131.1" ry="35.3" fill="url(#s33)" opacity=".85"/><ellipse cx="1060.7" cy="732" rx="131.1" ry="35.3" fill="url(#r33)" opacity=".02"/><ellipse cx="1060.7" cy="730.3" rx="131.5" ry="35.3" fill="#ff2f00"/><ellipse cx="1060.7" cy="730.3" rx="131.5" ry="35.3" fill="url(#s33)" opacity=".86"/><ellipse cx="1060.7" cy="730.3" rx="131.5" ry="35.3" fill="url(#r33)" opacity=".01"/><ellipse cx="1060.7" cy="728.6" rx="131.8" ry="35.2" fill="#ff2a00"/><ellipse cx="1060.7" cy="728.6" rx="131.8" ry="35.2" fill="url(#s34)" opacity=".88"/><ellipse cx="1060.7" cy="726.9" rx="132.1" ry="35.2" fill="#ff2500"/><ellipse cx="1060.7" cy="726.9" rx="132.1" ry="35.2" fill="url(#s34)" opacity=".90"/><ellipse cx="1060.7" cy="725.3" rx="132.4" ry="35.1" fill="#ff2000"/><ellipse cx="1060.7" cy="725.3" rx="132.4" ry="35.1" fill="url(#s35)" opacity=".92"/><ellipse cx="1060.7" cy="723.7" rx="132.6" ry="35" fill="#ff1b00"/><ellipse cx="1060.7" cy="723.7" rx="132.6" ry="35" fill="url(#s35)" opacity=".94"/><ellipse cx="1060.8" cy="722" rx="132.9" ry="34.9" fill="#ff1600"/><ellipse cx="1060.8" cy="722" rx="132.9" ry="34.9" fill="url(#s36)" opacity=".96"/><ellipse cx="1060.8" cy="720.4" rx="133.1" ry="34.8" fill="#f10"/><ellipse cx="1060.8" cy="720.4" rx="133.1" ry="34.8" fill="url(#s36)" opacity=".98"/><ellipse cx="1060.8" cy="718.8" rx="133.3" ry="34.8" fill="#ff0e00"/><ellipse cx="1060.8" cy="718.8" rx="133.3" ry="34.8" fill="url(#s37)"/><ellipse cx="1060.8" cy="717.2" rx="133.4" ry="34.7" fill="#ff0c00"/><ellipse cx="1060.8" cy="717.2" rx="133.4" ry="34.7" fill="url(#s38)"/><ellipse cx="1060.8" cy="715.5" rx="133.5" ry="34.5" fill="#ff0a00"/><ellipse cx="1060.8" cy="715.5" rx="133.5" ry="34.5" fill="url(#s39)"/><ellipse cx="1060.8" cy="713.9" rx="133.6" ry="34.4" fill="#ff0900"/><ellipse cx="1060.8" cy="713.9" rx="133.6" ry="34.4" fill="url(#s39)"/><ellipse cx="1060.8" cy="712.2" rx="133.6" ry="34.3" fill="#ff0700"/><ellipse cx="1060.8" cy="712.2" rx="133.6" ry="34.3" fill="url(#s40)"/><ellipse cx="1060.8" cy="710.6" rx="133.6" ry="34.1" fill="#ff0600"/><ellipse cx="1060.8" cy="710.6" rx="133.6" ry="34.1" fill="url(#s41)"/><ellipse cx="1060.8" cy="708.9" rx="133.6" ry="34" fill="#ff0400"/><ellipse cx="1060.8" cy="708.9" rx="133.6" ry="34" fill="url(#s43)"/><ellipse cx="1060.9" cy="707.3" rx="133.5" ry="33.8" fill="#ff0300"/><ellipse cx="1060.9" cy="707.3" rx="133.5" ry="33.8" fill="url(#s44)"/><ellipse cx="1060.9" cy="705.7" rx="133.3" ry="33.6" fill="#ff0100"/><ellipse cx="1060.9" cy="705.7" rx="133.3" ry="33.6" fill="url(#s45)"/><ellipse cx="1060.9" cy="703.9" rx="133.1" ry="33.4" fill="#f00"/><ellipse cx="1060.9" cy="703.9" rx="133.1" ry="33.4" fill="url(#s47)"/><ellipse cx="1060.9" cy="702.2" rx="132.8" ry="33.2" fill="#f00"/><ellipse cx="1060.9" cy="702.2" rx="132.8" ry="33.2" fill="url(#s48)"/><ellipse cx="1060.9" cy="700.4" rx="132.5" ry="33" fill="#f00"/><ellipse cx="1060.9" cy="700.4" rx="132.5" ry="33" fill="url(#s50)"/><ellipse cx="1060.9" cy="698.7" rx="132.1" ry="32.7" fill="#f00"/><ellipse cx="1060.9" cy="698.7" rx="132.1" ry="32.7" fill="url(#s51)"/><ellipse cx="1060.9" cy="697" rx="131.6" ry="32.5" fill="#f00"/><ellipse cx="1060.9" cy="697" rx="131.6" ry="32.5" fill="url(#s53)"/><ellipse cx="1060.9" cy="695.3" rx="131" ry="32.2" fill="#f00"/><ellipse cx="1060.9" cy="695.3" rx="131" ry="32.2" fill="url(#s55)"/><ellipse cx="1060.9" cy="693.6" rx="130.3" ry="31.9" fill="#f00"/><ellipse cx="1060.9" cy="693.6" rx="130.3" ry="31.9" fill="url(#s57)"/><ellipse cx="1061" cy="691.8" rx="129.5" ry="31.5" fill="#f00"/><ellipse cx="1061" cy="691.8" rx="129.5" ry="31.5" fill="url(#s59)"/><ellipse cx="1061" cy="690.2" rx="128.6" ry="31.2" fill="#f00"/><ellipse cx="1061" cy="690.2" rx="128.6" ry="31.2" fill="url(#s61)"/><ellipse cx="1061" cy="688.4" rx="127.6" ry="30.8" fill="#f00"/><ellipse cx="1061" cy="688.4" rx="127.6" ry="30.8" fill="url(#s63)"/><ellipse cx="1061" cy="686.7" rx="126.5" ry="30.4" fill="#f00"/><ellipse cx="1061" cy="686.7" rx="126.5" ry="30.4" fill="url(#s65)"/><ellipse cx="1061" cy="685" rx="125.2" ry="30" fill="#f00"/><ellipse cx="1061" cy="685" rx="125.2" ry="30" fill="url(#s67)"/><ellipse cx="1061" cy="683.3" rx="123.8" ry="29.5" fill="#f00"/><ellipse cx="1061" cy="683.3" rx="123.8" ry="29.5" fill="url(#s70)"/><ellipse cx="1061" cy="681.6" rx="122.1" ry="29" fill="#f00"/><ellipse cx="1061" cy="681.6" rx="122.1" ry="29" fill="url(#s73)"/><ellipse cx="1061" cy="680.1" rx="120.5" ry="28.5" fill="#f00"/><ellipse cx="1061" cy="680.1" rx="120.5" ry="28.5" fill="url(#s76)"/><ellipse cx="1061" cy="678.8" rx="118.8" ry="28" fill="#f00"/><ellipse cx="1061" cy="678.8" rx="118.8" ry="28" fill="url(#s78)"/><ellipse cx="1061" cy="677.8" rx="117.2" ry="27.5" fill="#f00"/><ellipse cx="1061" cy="677.8" rx="117.2" ry="27.5" fill="url(#s82)"/><ellipse cx="1061" cy="676.9" rx="115.6" ry="27.1" fill="#f00"/><ellipse cx="1061" cy="676.9" rx="115.6" ry="27.1" fill="url(#s85)"/><ellipse cx="1061.1" cy="676.2" rx="113.9" ry="26.6" fill="#f00"/><ellipse cx="1061.1" cy="676.2" rx="113.9" ry="26.6" fill="url(#s89)"/><ellipse cx="1061.1" cy="675.7" rx="112.2" ry="26.2" fill="#f00"/><ellipse cx="1061.1" cy="675.7" rx="112.2" ry="26.2" fill="url(#s93)"/><ellipse cx="1061.1" cy="675.4" rx="110.5" ry="25.8" fill="#f00"/><ellipse cx="1061.1" cy="675.4" rx="110.5" ry="25.8" fill="url(#s97)"/><ellipse cx="1061.1" cy="675.4" rx="109.5" ry="25.6" fill="#f00"/><ellipse cx="1061.1" cy="675.4" rx="109.5" ry="25.6" fill="url(#s100)"/><clipPath id="c11"><ellipse cx="1061.1" cy="675.4" rx="109" ry="25.1"/></clipPath><g clip-path="url(#c11)"><ellipse cx="1061.1" cy="675.3" rx="107.3" ry="24.7" fill="#f00"/><ellipse cx="1061.1" cy="675.3" rx="107.3" ry="24.7" fill="url(#s102)"/><ellipse cx="1061.1" cy="675.4" rx="105.6" ry="24.3" fill="#f00"/><ellipse cx="1061.1" cy="675.4" rx="105.6" ry="24.3" fill="url(#s103)"/><ellipse cx="1061.1" cy="675.5" rx="103.9" ry="23.9" fill="#f00"/><ellipse cx="1061.1" cy="675.5" rx="103.9" ry="23.9" fill="url(#s105)"/><ellipse cx="1061.1" cy="675.7" rx="102.2" ry="23.6" fill="#f00"/><ellipse cx="1061.1" cy="675.7" rx="102.2" ry="23.6" fill="url(#s106)"/><ellipse cx="1061.1" cy="676" rx="100.6" ry="23.2" fill="#f00"/><ellipse cx="1061.1" cy="676" rx="100.6" ry="23.2" fill="url(#s107)"/><ellipse cx="1061.1" cy="676.3" rx="98.9" ry="22.8" fill="#f00"/><ellipse cx="1061.1" cy="676.3" rx="98.9" ry="22.8" fill="url(#s108)"/><ellipse cx="1061.1" cy="676.7" rx="97.2" ry="22.5" fill="#f00"/><ellipse cx="1061.1" cy="676.7" rx="97.2" ry="22.5" fill="url(#s109)"/><ellipse cx="1061.1" cy="677.1" rx="95.6" ry="22.1" fill="#f00"/><ellipse cx="1061.1" cy="677.1" rx="95.6" ry="22.1" fill="url(#s110)"/><ellipse cx="1061.1" cy="677.5" rx="93.9" ry="21.8" fill="#f00"/><ellipse cx="1061.1" cy="677.5" rx="93.9" ry="21.8" fill="url(#s111)"/><ellipse cx="1061.1" cy="678" rx="92.3" ry="21.4" fill="#f00"/><ellipse cx="1061.1" cy="678" rx="92.3" ry="21.4" fill="url(#s112)"/><ellipse cx="1061.1" cy="678.5" rx="90.7" ry="21.1" fill="#f00"/><ellipse cx="1061.1" cy="678.5" rx="90.7" ry="21.1" fill="url(#s113)"/><ellipse cx="1061.1" cy="679.1" rx="89" ry="20.7" fill="#f00"/><ellipse cx="1061.1" cy="679.1" rx="89" ry="20.7" fill="url(#s113)"/><ellipse cx="1061.1" cy="679.7" rx="87.3" ry="20.3" fill="#f00"/><ellipse cx="1061.1" cy="679.7" rx="87.3" ry="20.3" fill="url(#s114)"/><ellipse cx="1061" cy="680.3" rx="85.6" ry="20" fill="#f00"/><ellipse cx="1061" cy="680.3" rx="85.6" ry="20" fill="url(#s114)"/><ellipse cx="1061" cy="681" rx="83.9" ry="19.6" fill="#f00"/><ellipse cx="1061" cy="681" rx="83.9" ry="19.6" fill="url(#s115)"/><ellipse cx="1061" cy="681.7" rx="82.2" ry="19.3" fill="#f00"/><ellipse cx="1061" cy="681.7" rx="82.2" ry="19.3" fill="url(#s115)"/><ellipse cx="1061" cy="682.4" rx="80.5" ry="18.9" fill="#f00"/><ellipse cx="1061" cy="682.4" rx="80.5" ry="18.9" fill="url(#s116)"/><ellipse cx="1061" cy="683.1" rx="78.9" ry="18.6" fill="#f00"/><ellipse cx="1061" cy="683.1" rx="78.9" ry="18.6" fill="url(#s116)"/><ellipse cx="1061" cy="683.8" rx="77.2" ry="18.2" fill="#f00"/><ellipse cx="1061" cy="683.8" rx="77.2" ry="18.2" fill="url(#s116)"/><ellipse cx="1061" cy="684.6" rx="75.6" ry="17.9" fill="#f00"/><ellipse cx="1061" cy="684.6" rx="75.6" ry="17.9" fill="url(#s117)"/><ellipse cx="1061" cy="685.4" rx="73.9" ry="17.5" fill="#f00"/><ellipse cx="1061" cy="685.4" rx="73.9" ry="17.5" fill="url(#s117)"/><ellipse cx="1061" cy="686.1" rx="72.3" ry="17.2" fill="#f00"/><ellipse cx="1061" cy="686.1" rx="72.3" ry="17.2" fill="url(#s117)"/><ellipse cx="1061" cy="686.9" rx="70.7" ry="16.8" fill="#f00"/><ellipse cx="1061" cy="686.9" rx="70.7" ry="16.8" fill="url(#s118)"/><ellipse cx="1061" cy="687.7" rx="69" ry="16.5" fill="#f00"/><ellipse cx="1061" cy="687.7" rx="69" ry="16.5" fill="url(#s118)"/><ellipse cx="1061" cy="688.6" rx="67.4" ry="16.1" fill="#f00"/><ellipse cx="1061" cy="688.6" rx="67.4" ry="16.1" fill="url(#s118)"/><ellipse cx="1061" cy="689.4" rx="65.7" ry="15.7" fill="#f00"/><ellipse cx="1061" cy="689.4" rx="65.7" ry="15.7" fill="url(#s118)"/><ellipse cx="1061" cy="690.3" rx="64" ry="15.4" fill="#f00"/><ellipse cx="1061" cy="690.3" rx="64" ry="15.4" fill="url(#s118)"/><ellipse cx="1061" cy="691.2" rx="62.3" ry="15" fill="#f00"/><ellipse cx="1061" cy="691.2" rx="62.3" ry="15" fill="url(#s119)"/><ellipse cx="1061" cy="692.1" rx="60.6" ry="14.6" fill="#f00"/><ellipse cx="1061" cy="692.1" rx="60.6" ry="14.6" fill="url(#s119)"/><ellipse cx="1061" cy="693" rx="58.9" ry="14.2" fill="#f00"/><ellipse cx="1061" cy="693" rx="58.9" ry="14.2" fill="url(#s119)"/><ellipse cx="1061" cy="694" rx="57.2" ry="13.9" fill="#f00"/><ellipse cx="1061" cy="694" rx="57.2" ry="13.9" fill="url(#s119)"/><ellipse cx="1061" cy="694.9" rx="55.5" ry="13.5" fill="#f00"/><ellipse cx="1061" cy="694.9" rx="55.5" ry="13.5" fill="url(#s119)"/><ellipse cx="1061" cy="695.8" rx="53.8" ry="13.1" fill="#f00"/><ellipse cx="1061" cy="695.8" rx="53.8" ry="13.1" fill="url(#s119)"/><ellipse cx="1060.9" cy="696.8" rx="52.1" ry="12.7" fill="#f00"/><ellipse cx="1060.9" cy="696.8" rx="52.1" ry="12.7" fill="url(#s119)"/><ellipse cx="1060.9" cy="697.7" rx="50.5" ry="12.4" fill="#f00"/><ellipse cx="1060.9" cy="697.7" rx="50.5" ry="12.4" fill="url(#s119)"/><ellipse cx="1060.9" cy="698.7" rx="48.8" ry="12" fill="#f00"/><ellipse cx="1060.9" cy="698.7" rx="48.8" ry="12" fill="url(#s120)"/><ellipse cx="1060.9" cy="699.6" rx="47.1" ry="11.6" fill="#f00"/><ellipse cx="1060.9" cy="699.6" rx="47.1" ry="11.6" fill="url(#s120)"/><ellipse cx="1060.9" cy="700.6" rx="45.4" ry="11.2" fill="#f00"/><ellipse cx="1060.9" cy="700.6" rx="45.4" ry="11.2" fill="url(#s120)"/><ellipse cx="1060.9" cy="701.5" rx="43.8" ry="10.8" fill="#f00"/><ellipse cx="1060.9" cy="701.5" rx="43.8" ry="10.8" fill="url(#s120)"/><ellipse cx="1060.9" cy="702.5" rx="42.1" ry="10.4" fill="#ff0100"/><ellipse cx="1060.9" cy="702.5" rx="42.1" ry="10.4" fill="url(#s120)"/><ellipse cx="1060.9" cy="703.5" rx="40.4" ry="10.1" fill="#ff0200"/><ellipse cx="1060.9" cy="703.5" rx="40.4" ry="10.1" fill="url(#s120)"/><ellipse cx="1060.9" cy="704.4" rx="38.8" ry="9.7" fill="#ff0300"/><ellipse cx="1060.9" cy="704.4" rx="38.8" ry="9.7" fill="url(#s120)"/><ellipse cx="1060.9" cy="705.4" rx="37.1" ry="9.3" fill="#ff0400"/><ellipse cx="1060.9" cy="705.4" rx="37.1" ry="9.3" fill="url(#s120)"/><ellipse cx="1060.9" cy="706.4" rx="35.5" ry="8.9" fill="#ff0400"/><ellipse cx="1060.9" cy="706.4" rx="35.5" ry="8.9" fill="url(#s120)"/><ellipse cx="1060.9" cy="707.4" rx="33.8" ry="8.5" fill="#ff0500"/><ellipse cx="1060.9" cy="707.4" rx="33.8" ry="8.5" fill="url(#s120)"/><ellipse cx="1060.9" cy="708.3" rx="32.1" ry="8.1" fill="#ff0600"/><ellipse cx="1060.9" cy="708.3" rx="32.1" ry="8.1" fill="url(#s120)"/><ellipse cx="1060.9" cy="709.3" rx="30.5" ry="7.7" fill="#ff0700"/><ellipse cx="1060.9" cy="709.3" rx="30.5" ry="7.7" fill="url(#s120)"/><ellipse cx="1060.9" cy="710.3" rx="28.8" ry="7.3" fill="#ff0800"/><ellipse cx="1060.9" cy="710.3" rx="28.8" ry="7.3" fill="url(#s120)"/><ellipse cx="1060.8" cy="711.3" rx="27.2" ry="6.9" fill="#ff0900"/><ellipse cx="1060.8" cy="711.3" rx="27.2" ry="6.9" fill="url(#s120)"/><ellipse cx="1060.8" cy="712.3" rx="25.5" ry="6.5" fill="#ff0a00"/><ellipse cx="1060.8" cy="712.3" rx="25.5" ry="6.5" fill="url(#s120)"/><ellipse cx="1060.8" cy="713.3" rx="23.9" ry="6.1" fill="#ff0b00"/><ellipse cx="1060.8" cy="713.3" rx="23.9" ry="6.1" fill="url(#s120)"/><ellipse cx="1060.8" cy="714.3" rx="22.3" ry="5.7" fill="#ff0c00"/><ellipse cx="1060.8" cy="714.3" rx="22.3" ry="5.7" fill="url(#s120)"/><ellipse cx="1060.8" cy="715.2" rx="20.6" ry="5.3" fill="#ff0d00"/><ellipse cx="1060.8" cy="715.2" rx="20.6" ry="5.3" fill="url(#s120)"/><ellipse cx="1060.8" cy="716.2" rx="19" ry="4.9" fill="#ff0e00"/><ellipse cx="1060.8" cy="716.2" rx="19" ry="4.9" fill="url(#s120)"/><ellipse cx="1060.8" cy="717.2" rx="17.3" ry="4.5" fill="#ff1000"/><ellipse cx="1060.8" cy="717.2" rx="17.3" ry="4.5" fill="url(#s120)"/><ellipse cx="1060.8" cy="718.2" rx="15.7" ry="4.1" fill="#ff1300"/><ellipse cx="1060.8" cy="718.2" rx="15.7" ry="4.1" fill="url(#s120)"/><ellipse cx="1060.8" cy="719.1" rx="14" ry="3.6" fill="#ff1600"/><ellipse cx="1060.8" cy="719.1" rx="14" ry="3.6" fill="url(#s119)"/><ellipse cx="1060.8" cy="720.1" rx="12.4" ry="3.2" fill="#ff1900"/><ellipse cx="1060.8" cy="720.1" rx="12.4" ry="3.2" fill="url(#s119)"/><ellipse cx="1060.8" cy="720.9" rx="10.8" ry="2.8" fill="#ff1c00"/><ellipse cx="1060.8" cy="720.9" rx="10.8" ry="2.8" fill="url(#s118)"/><ellipse cx="1060.8" cy="721.7" rx="9.1" ry="2.4" fill="#ff1e00"/><ellipse cx="1060.8" cy="721.7" rx="9.1" ry="2.4" fill="url(#s117)"/><ellipse cx="1060.8" cy="722.5" rx="7.5" ry="2" fill="#ff2000"/><ellipse cx="1060.8" cy="722.5" rx="7.5" ry="2" fill="url(#s115)"/><ellipse cx="1060.8" cy="723.1" rx="5.9" ry="1.5" fill="#f20"/><ellipse cx="1060.8" cy="723.1" rx="5.9" ry="1.5" fill="url(#s112)"/><ellipse cx="1060.8" cy="723.6" rx="4.2" ry="1.1" fill="#ff2400"/><ellipse cx="1060.8" cy="723.6" rx="4.2" ry="1.1" fill="url(#s110)"/><ellipse cx="1060.8" cy="724" rx="2.6" ry="0.7" fill="#ff2500"/><ellipse cx="1060.8" cy="724" rx="2.6" ry="0.7" fill="url(#s106)"/><ellipse cx="1060.8" cy="724.1" rx="1" ry="0.3" fill="#ff2500"/><ellipse cx="1060.8" cy="724.1" rx="1" ry="0.3" fill="url(#s102)"/><ellipse cx="1060.8" cy="724.2" rx="0.1" ry="0" fill="#ff2500"/><ellipse cx="1060.8" cy="724.2" rx="0.1" ry="0" fill="url(#s100)"/></g></g></g><path d="M806.5 591.6L818.9 955.7M818.9 955.7L1097.7 1057M1097.7 1057L1289.2 933.1M818.9 955.7l-4.6 2M1097.7 1057l-4.2 2.7M1289.2 933.1l4.8 1.3M815.9 868.8l-4.7 1.8M1020.2 1028.8l-4.3 2.5M1247.8 959.9l4.8 1.4M812.9 779.2l-4.8 1.5M948.3 1002.7l-4.4 2.3M1202.4 989.3l4.8 1.5M809.7 686.9l-4.8 1.2M881.4 978.4l-4.5 2.2M1152.7 1021.5l4.7 1.6M806.5 591.6l-4.9 0.9M818.9 955.7l-4.6 2M1097.7 1057l4.7 1.7M1268.9 946.2l2.9 0.8M1225.6 974.3l2.9 0.9M1178.1 1005l2.9 0.9M1125.9 1038.8l2.8 1" stroke="#444" stroke-width="1.7" fill="none" stroke-linecap="square"/><g><text transform="matrix(0.2228 -0.04271 0.01134 0.3198 798.8 604.7)" font-size="100" text-anchor="end" fill="#333" font-weight="normal">20</text><text transform="matrix(0.2188 -0.05679 0.01099 0.31 802.2 700)" font-size="100" text-anchor="end" fill="#333" font-weight="normal">10</text><text transform="matrix(0.215 -0.07001 0.01066 0.3006 805.5 792.5)" font-size="100" text-anchor="end" fill="#333" font-weight="normal">0</text><text transform="matrix(0.2113 -0.08241 0.01034 0.2917 808.7 882.2)" font-size="100" text-anchor="end" fill="#333" font-weight="normal">-10</text><text transform="matrix(0.2077 -0.09406 0.01004 0.2831 811.7 969.3)" font-size="100" text-anchor="end" fill="#333" font-weight="normal">-20</text><text transform="matrix(0.1971 -0.09619 0.2061 0.07567 880.1 985.3)" font-size="100" text-anchor="end" fill="#333" font-weight="normal">10</text><text transform="matrix(0.194 -0.1035 0.2213 0.08126 947.7 1010)" font-size="100" text-anchor="end" fill="#333" font-weight="normal">0</text><text transform="matrix(0.1897 -0.1116 0.2383 0.0875 1020 1037)" font-size="100" text-anchor="end" fill="#333" font-weight="normal">-10</text><text transform="matrix(0.1995 -0.08964 0.1924 0.07063 817 962.2)" font-size="100" text-anchor="end" fill="#333" font-weight="normal">20</text><text transform="matrix(0.2386 0.0668 -0.1291 0.08451 1292 938.3)" font-size="100" text-anchor="start" fill="#333" font-weight="normal">-20</text><text transform="matrix(0.2447 0.0728 -0.141 0.09229 1251 965.6)" font-size="100" text-anchor="start" fill="#333" font-weight="normal">-10</text><text transform="matrix(0.2511 0.07966 -0.1546 0.1012 1205 995.4)" font-size="100" text-anchor="start" fill="#333" font-weight="normal">0</text><text transform="matrix(0.2575 0.08756 -0.1703 0.1115 1155 1028)" font-size="100" text-anchor="start" fill="#333" font-weight="normal">10</text><text transform="matrix(0.2639 0.09671 -0.1885 0.1234 1099 1064)" font-size="100" text-anchor="start" fill="#333" font-weight="normal">20</text></g><text x="808" y="619.5" font-size="26.6" font-weight="bold">Shear modulus</text><text x="1171" y="626" font-size="26.6" font-weight="bold">KNaSe</text><text x="729" y="802" font-size="33.5" font-weight="bold">Gz</text><text x="885.5" y="1054" font-size="33.5" font-weight="bold">Gy</text><text x="1233" y="1031.7" font-size="33.5" font-weight="bold">Gx</text><path d="M1722.3 889L1718.5 563.7M1772.1 794L1544 867.1M1668.4 909.2L1661.9 571.9M1771.7 716.3L1540.8 777.2M1610.2 931.1L1600.6 580.9M1771.3 637L1537.5 685M1953.9 920.3L1960.8 575.7M2025.3 853.4L1772.1 794M1889.5 902.5L1893.2 568.7M2027.9 765.5L1771.7 716.3M1829.2 885.8L1830.1 562.1M2030.5 675.5L1771.3 637M1976 963.7L1722.3 889M1953.9 920.3L1735.5 1024.2M1925.1 990.3L1668.4 909.2M1889.5 902.5L1668 999.3M1869.5 1019.4L1610.2 931.1M1829.2 885.8L1605.4 976.3" stroke="#dadada" stroke-width="1.3" fill="none"/><path d="M1772.4 870.1L1770.9 556M1772.4 870.1L1547.2 954.8M1547.2 954.8L1534.1 590.6M1770.9 556L1534.1 590.6M2022.8 939.3L2033.2 583.2M2022.8 939.3L1772.4 870.1M2033.2 583.2L1770.9 556M2022.8 939.3L1772.4 870.1M2022.8 939.3L1808.6 1051.2M1808.6 1051.2L1547.2 954.8M1772.4 870.1L1547.2 954.8" stroke="#b8b8b8" stroke-width="1.4" fill="none"/><clipPath id="kc21"><ellipse cx="1787.5" cy="842.5" rx="5.8" ry="1.8"/><ellipse cx="1787.5" cy="843.8" rx="10.7" ry="3.3"/><ellipse cx="1787.5" cy="845.5" rx="15.5" ry="4.8"/><ellipse cx="1787.5" cy="847.7" rx="20.4" ry="6.3"/><ellipse cx="1787.5" cy="850.1" rx="25.3" ry="7.9"/><ellipse cx="1787.5" cy="852.6" rx="30.1" ry="9.4"/><ellipse cx="1787.5" cy="855.1" rx="35" ry="11"/><ellipse cx="1787.5" cy="857.6" rx="39.9" ry="12.6"/><ellipse cx="1787.5" cy="860.1" rx="44.8" ry="14.2"/><ellipse cx="1787.6" cy="862.5" rx="49.7" ry="15.8"/><ellipse cx="1787.6" cy="864.8" rx="54.6" ry="17.5"/><ellipse cx="1787.6" cy="866.9" rx="59.3" ry="19.1"/><ellipse cx="1787.6" cy="868.8" rx="64.1" ry="20.7"/><ellipse cx="1787.5" cy="870.6" rx="68.8" ry="22.3"/><ellipse cx="1787.5" cy="872.3" rx="73.7" ry="23.9"/><ellipse cx="1787.5" cy="873.8" rx="78.5" ry="25.6"/><ellipse cx="1787.5" cy="875.2" rx="83.4" ry="27.3"/><ellipse cx="1787.5" cy="877.9" rx="115" ry="37.7"/><ellipse cx="1787.5" cy="877" rx="120" ry="39.3"/><ellipse cx="1787.5" cy="875.6" rx="124.9" ry="40.7"/><ellipse cx="1787.5" cy="873.3" rx="129.8" ry="42.1"/><ellipse cx="1787.5" cy="870" rx="134.7" ry="43.4"/><ellipse cx="1787.5" cy="865.4" rx="139.2" ry="44.5"/><ellipse cx="1787.5" cy="860.7" rx="142.3" ry="45"/><ellipse cx="1787.5" cy="855.9" rx="144.4" ry="45.3"/><ellipse cx="1787.5" cy="851.1" rx="145.9" ry="45.3"/><ellipse cx="1787.4" cy="846.3" rx="146.8" ry="45.1"/><ellipse cx="1787.4" cy="841.4" rx="147.2" ry="44.8"/><ellipse cx="1787.4" cy="836.5" rx="147.4" ry="44.4"/><ellipse cx="1787.4" cy="831.6" rx="147.3" ry="43.9"/><ellipse cx="1787.4" cy="826.7" rx="146.9" ry="43.3"/><ellipse cx="1787.4" cy="821.8" rx="146.4" ry="42.7"/><ellipse cx="1787.4" cy="816.8" rx="145.7" ry="42.1"/><ellipse cx="1787.3" cy="811.9" rx="145" ry="41.4"/><ellipse cx="1787.3" cy="807" rx="144.3" ry="40.7"/><ellipse cx="1787.3" cy="802.1" rx="143.5" ry="40.1"/><ellipse cx="1787.3" cy="797.2" rx="142.8" ry="39.4"/><ellipse cx="1787.3" cy="792.2" rx="142.2" ry="38.8"/><ellipse cx="1787.3" cy="787.3" rx="141.7" ry="38.3"/><ellipse cx="1787.3" cy="782.3" rx="141.4" ry="37.7"/><ellipse cx="1787.2" cy="777.3" rx="141.3" ry="37.3"/><ellipse cx="1787.2" cy="772.3" rx="141.4" ry="36.8"/><ellipse cx="1787.2" cy="767.3" rx="141.7" ry="36.5"/><ellipse cx="1787.2" cy="762.4" rx="142.2" ry="36.1"/><ellipse cx="1787.2" cy="757.4" rx="142.8" ry="35.9"/><ellipse cx="1787.2" cy="752.5" rx="143.6" ry="35.6"/><ellipse cx="1787.2" cy="747.5" rx="144.5" ry="35.4"/><ellipse cx="1787.1" cy="742.6" rx="145.4" ry="35.1"/><ellipse cx="1787.1" cy="737.7" rx="146.4" ry="34.9"/><ellipse cx="1787.1" cy="732.8" rx="147.3" ry="34.7"/><ellipse cx="1787.1" cy="727.8" rx="148.2" ry="34.4"/><ellipse cx="1787.1" cy="722.8" rx="148.9" ry="34.1"/><ellipse cx="1787.1" cy="717.8" rx="149.5" ry="33.8"/><ellipse cx="1787.1" cy="712.7" rx="149.8" ry="33.4"/><ellipse cx="1787" cy="707.7" rx="149.9" ry="32.9"/><ellipse cx="1787" cy="702.6" rx="149.7" ry="32.4"/><ellipse cx="1787" cy="697.5" rx="149" ry="31.7"/><ellipse cx="1787" cy="692.3" rx="147.8" ry="31"/><ellipse cx="1787" cy="687.1" rx="145.9" ry="30.1"/><ellipse cx="1787" cy="681.9" rx="143" ry="29.1"/><ellipse cx="1786.9" cy="676.7" rx="138.9" ry="27.8"/><ellipse cx="1786.9" cy="672.5" rx="133.9" ry="26.4"/><ellipse cx="1786.9" cy="669.5" rx="128.9" ry="25.2"/><ellipse cx="1786.9" cy="667.5" rx="123.9" ry="24.1"/><ellipse cx="1786.9" cy="666.1" rx="118.9" ry="23"/><ellipse cx="1786.9" cy="665.2" rx="113.7" ry="21.9"/><ellipse cx="1786.9" cy="664.8" rx="108.8" ry="21"/><ellipse cx="1786.9" cy="664.8" rx="107.8" ry="20.8"/></clipPath><g filter="url(#bl)"><g shape-rendering="crispEdges" clip-path="url(#kc21)"><ellipse cx="1787.5" cy="842.5" rx="6.3" ry="2.3" fill="#00ff8c"/><ellipse cx="1787.5" cy="842.5" rx="6.3" ry="2.3" fill="url(#s213)"/><ellipse cx="1787.5" cy="842.9" rx="7.9" ry="2.8" fill="#00ff91"/><ellipse cx="1787.5" cy="842.9" rx="7.9" ry="2.8" fill="url(#s212)"/><ellipse cx="1787.5" cy="843.3" rx="9.6" ry="3.3" fill="#00ff96"/><ellipse cx="1787.5" cy="843.3" rx="9.6" ry="3.3" fill="url(#s210)"/><ellipse cx="1787.5" cy="843.8" rx="11.2" ry="3.8" fill="#00fe9c"/><ellipse cx="1787.5" cy="843.8" rx="11.2" ry="3.8" fill="url(#s209)"/><ellipse cx="1787.5" cy="844.3" rx="12.8" ry="4.3" fill="#00fea2"/><ellipse cx="1787.5" cy="844.3" rx="12.8" ry="4.3" fill="url(#s208)"/><ellipse cx="1787.5" cy="844.9" rx="14.4" ry="4.8" fill="#00fea9"/><ellipse cx="1787.5" cy="844.9" rx="14.4" ry="4.8" fill="url(#s207)"/><ellipse cx="1787.5" cy="845.5" rx="16" ry="5.3" fill="#00fdb1"/><ellipse cx="1787.5" cy="845.5" rx="16" ry="5.3" fill="url(#s206)"/><ellipse cx="1787.5" cy="846.2" rx="17.5" ry="5.8" fill="#00fdb9"/><ellipse cx="1787.5" cy="846.2" rx="17.5" ry="5.8" fill="url(#s205)"/><ellipse cx="1787.5" cy="846.9" rx="19.2" ry="6.3" fill="#00fdc2"/><ellipse cx="1787.5" cy="846.9" rx="19.2" ry="6.3" fill="url(#s204)"/><ellipse cx="1787.5" cy="847.7" rx="20.9" ry="6.8" fill="#00fccb"/><ellipse cx="1787.5" cy="847.7" rx="20.9" ry="6.8" fill="url(#s204)"/><ellipse cx="1787.5" cy="848.5" rx="22.5" ry="7.3" fill="#00fcd5"/><ellipse cx="1787.5" cy="848.5" rx="22.5" ry="7.3" fill="url(#s203)"/><ellipse cx="1787.5" cy="849.3" rx="24.1" ry="7.8" fill="#00fbdf"/><ellipse cx="1787.5" cy="849.3" rx="24.1" ry="7.8" fill="url(#s203)"/><ellipse cx="1787.5" cy="850.1" rx="25.8" ry="8.4" fill="#00fbe9"/><ellipse cx="1787.5" cy="850.1" rx="25.8" ry="8.4" fill="url(#s203)"/><ellipse cx="1787.5" cy="850.9" rx="27.4" ry="8.9" fill="#00faf3"/><ellipse cx="1787.5" cy="850.9" rx="27.4" ry="8.9" fill="url(#s203)"/><ellipse cx="1787.5" cy="851.8" rx="29" ry="9.4" fill="#00f9fa"/><ellipse cx="1787.5" cy="851.8" rx="29" ry="9.4" fill="url(#s203)"/><ellipse cx="1787.5" cy="852.6" rx="30.6" ry="9.9" fill="#00f6fb"/><ellipse cx="1787.5" cy="852.6" rx="30.6" ry="9.9" fill="url(#s203)"/><ellipse cx="1787.5" cy="853.4" rx="32.3" ry="10.4" fill="#00f2fb"/><ellipse cx="1787.5" cy="853.4" rx="32.3" ry="10.4" fill="url(#s203)"/><ellipse cx="1787.5" cy="854.3" rx="33.9" ry="11" fill="#00effc"/><ellipse cx="1787.5" cy="854.3" rx="33.9" ry="11" fill="url(#s203)"/><ellipse cx="1787.5" cy="855.1" rx="35.5" ry="11.5" fill="#00ebfc"/><ellipse cx="1787.5" cy="855.1" rx="35.5" ry="11.5" fill="url(#s203)"/><ellipse cx="1787.5" cy="856" rx="37.1" ry="12" fill="#00e8fd"/><ellipse cx="1787.5" cy="856" rx="37.1" ry="12" fill="url(#s203)"/><ellipse cx="1787.5" cy="856.8" rx="38.7" ry="12.6" fill="#00e5fd"/><ellipse cx="1787.5" cy="856.8" rx="38.7" ry="12.6" fill="url(#s203)"/><ellipse cx="1787.5" cy="857.6" rx="40.4" ry="13.1" fill="#00e1fe"/><ellipse cx="1787.5" cy="857.6" rx="40.4" ry="13.1" fill="url(#s203)"/><ellipse cx="1787.5" cy="858.5" rx="42" ry="13.6" fill="#00defe"/><ellipse cx="1787.5" cy="858.5" rx="42" ry="13.6" fill="url(#s203)"/><ellipse cx="1787.5" cy="859.3" rx="43.6" ry="14.2" fill="#00dbfe"/><ellipse cx="1787.5" cy="859.3" rx="43.6" ry="14.2" fill="url(#s203)"/><ellipse cx="1787.5" cy="860.1" rx="45.3" ry="14.7" fill="#00d7ff"/><ellipse cx="1787.5" cy="860.1" rx="45.3" ry="14.7" fill="url(#s203)"/><ellipse cx="1787.5" cy="860.9" rx="46.9" ry="15.2" fill="#00d0ff"/><ellipse cx="1787.5" cy="860.9" rx="46.9" ry="15.2" fill="url(#s204)"/><ellipse cx="1787.5" cy="861.7" rx="48.5" ry="15.8" fill="#00c8ff"/><ellipse cx="1787.5" cy="861.7" rx="48.5" ry="15.8" fill="url(#s204)"/><ellipse cx="1787.6" cy="862.5" rx="50.2" ry="16.3" fill="#00c0ff"/><ellipse cx="1787.6" cy="862.5" rx="50.2" ry="16.3" fill="url(#s204)"/><ellipse cx="1787.6" cy="863.3" rx="51.8" ry="16.9" fill="#00b9ff"/><ellipse cx="1787.6" cy="863.3" rx="51.8" ry="16.9" fill="url(#s204)"/><ellipse cx="1787.6" cy="864" rx="53.5" ry="17.4" fill="#00b1ff"/><ellipse cx="1787.6" cy="864" rx="53.5" ry="17.4" fill="url(#s205)"/><ellipse cx="1787.6" cy="864.8" rx="55.1" ry="18" fill="#0af"/><ellipse cx="1787.6" cy="864.8" rx="55.1" ry="18" fill="url(#s205)"/><ellipse cx="1787.6" cy="865.5" rx="56.7" ry="18.5" fill="#00a3ff"/><ellipse cx="1787.6" cy="865.5" rx="56.7" ry="18.5" fill="url(#s205)"/><ellipse cx="1787.6" cy="866.2" rx="58.3" ry="19" fill="#009cff"/><ellipse cx="1787.6" cy="866.2" rx="58.3" ry="19" fill="url(#s206)"/><ellipse cx="1787.6" cy="866.9" rx="59.8" ry="19.6" fill="#0096ff"/><ellipse cx="1787.6" cy="866.9" rx="59.8" ry="19.6" fill="url(#s206)"/><ellipse cx="1787.6" cy="867.5" rx="61.4" ry="20.1" fill="#008fff"/><ellipse cx="1787.6" cy="867.5" rx="61.4" ry="20.1" fill="url(#s206)"/><ellipse cx="1787.6" cy="868.2" rx="63" ry="20.6" fill="#0089ff"/><ellipse cx="1787.6" cy="868.2" rx="63" ry="20.6" fill="url(#s207)"/><ellipse cx="1787.6" cy="868.8" rx="64.6" ry="21.2" fill="#0083ff"/><ellipse cx="1787.6" cy="868.8" rx="64.6" ry="21.2" fill="url(#s207)"/><ellipse cx="1787.6" cy="869.4" rx="66.1" ry="21.7" fill="#007dff"/><ellipse cx="1787.6" cy="869.4" rx="66.1" ry="21.7" fill="url(#s207)"/><ellipse cx="1787.5" cy="870" rx="67.7" ry="22.2" fill="#07f"/><ellipse cx="1787.5" cy="870" rx="67.7" ry="22.2" fill="url(#s208)"/><ellipse cx="1787.5" cy="870.6" rx="69.3" ry="22.8" fill="#0071ff"/><ellipse cx="1787.5" cy="870.6" rx="69.3" ry="22.8" fill="url(#s208)"/><ellipse cx="1787.5" cy="871.2" rx="70.9" ry="23.3" fill="#006cff"/><ellipse cx="1787.5" cy="871.2" rx="70.9" ry="23.3" fill="url(#s208)"/><ellipse cx="1787.5" cy="871.8" rx="72.5" ry="23.9" fill="#0067ff"/><ellipse cx="1787.5" cy="871.8" rx="72.5" ry="23.9" fill="url(#s209)"/><ellipse cx="1787.5" cy="872.3" rx="74.2" ry="24.4" fill="#0061ff"/><ellipse cx="1787.5" cy="872.3" rx="74.2" ry="24.4" fill="url(#s209)"/><ellipse cx="1787.5" cy="872.8" rx="75.8" ry="25" fill="#005cff"/><ellipse cx="1787.5" cy="872.8" rx="75.8" ry="25" fill="url(#s210)"/><ellipse cx="1787.5" cy="873.3" rx="77.4" ry="25.5" fill="#0058ff"/><ellipse cx="1787.5" cy="873.3" rx="77.4" ry="25.5" fill="url(#s210)"/><ellipse cx="1787.5" cy="873.8" rx="79" ry="26.1" fill="#0053ff"/><ellipse cx="1787.5" cy="873.8" rx="79" ry="26.1" fill="url(#s210)"/><ellipse cx="1787.5" cy="874.3" rx="80.7" ry="26.6" fill="#004fff"/><ellipse cx="1787.5" cy="874.3" rx="80.7" ry="26.6" fill="url(#s211)"/><ellipse cx="1787.5" cy="874.7" rx="82.3" ry="27.2" fill="#004bff"/><ellipse cx="1787.5" cy="874.7" rx="82.3" ry="27.2" fill="url(#s211)"/><ellipse cx="1787.5" cy="875.2" rx="83.9" ry="27.8" fill="#0047ff"/><ellipse cx="1787.5" cy="875.2" rx="83.9" ry="27.8" fill="url(#s212)"/><ellipse cx="1787.5" cy="875.6" rx="85.6" ry="28.3" fill="#0043ff"/><ellipse cx="1787.5" cy="875.6" rx="85.6" ry="28.3" fill="url(#s212)"/><ellipse cx="1787.5" cy="876" rx="87.3" ry="28.9" fill="#0040ff"/><ellipse cx="1787.5" cy="876" rx="87.3" ry="28.9" fill="url(#s213)"/><ellipse cx="1787.5" cy="877.9" rx="115.5" ry="38.2" fill="#0038ff"/><ellipse cx="1787.5" cy="877.9" rx="115.5" ry="38.2" fill="url(#s-13)" opacity=".20"/><ellipse cx="1787.5" cy="877.9" rx="115.5" ry="38.2" fill="url(#r-13)"/><ellipse cx="1787.5" cy="877.7" rx="117.2" ry="38.7" fill="#003bff"/><ellipse cx="1787.5" cy="877.7" rx="117.2" ry="38.7" fill="url(#s-12)" opacity=".20"/><ellipse cx="1787.5" cy="877.7" rx="117.2" ry="38.7" fill="url(#r-12)"/><ellipse cx="1787.5" cy="877.4" rx="118.9" ry="39.3" fill="#003fff"/><ellipse cx="1787.5" cy="877.4" rx="118.9" ry="39.3" fill="url(#s-11)" opacity=".20"/><ellipse cx="1787.5" cy="877.4" rx="118.9" ry="39.3" fill="url(#r-11)"/><ellipse cx="1787.5" cy="877" rx="120.5" ry="39.8" fill="#04f"/><ellipse cx="1787.5" cy="877" rx="120.5" ry="39.8" fill="url(#s-9)" opacity=".20"/><ellipse cx="1787.5" cy="877" rx="120.5" ry="39.8" fill="url(#r-9)"/><ellipse cx="1787.5" cy="876.6" rx="122.2" ry="40.3" fill="#0049ff"/><ellipse cx="1787.5" cy="876.6" rx="122.2" ry="40.3" fill="url(#s-8)" opacity=".20"/><ellipse cx="1787.5" cy="876.6" rx="122.2" ry="40.3" fill="url(#r-8)"/><ellipse cx="1787.5" cy="876.1" rx="123.8" ry="40.7" fill="#004fff"/><ellipse cx="1787.5" cy="876.1" rx="123.8" ry="40.7" fill="url(#s-7)" opacity=".20"/><ellipse cx="1787.5" cy="876.1" rx="123.8" ry="40.7" fill="url(#r-7)"/><ellipse cx="1787.5" cy="875.6" rx="125.4" ry="41.2" fill="#05f"/><ellipse cx="1787.5" cy="875.6" rx="125.4" ry="41.2" fill="url(#s-5)" opacity=".20"/><ellipse cx="1787.5" cy="875.6" rx="125.4" ry="41.2" fill="url(#r-5)"/><ellipse cx="1787.5" cy="874.9" rx="127" ry="41.7" fill="#005dff"/><ellipse cx="1787.5" cy="874.9" rx="127" ry="41.7" fill="url(#s-3)" opacity=".20"/><ellipse cx="1787.5" cy="874.9" rx="127" ry="41.7" fill="url(#r-3)"/><ellipse cx="1787.5" cy="874.1" rx="128.7" ry="42.2" fill="#06f"/><ellipse cx="1787.5" cy="874.1" rx="128.7" ry="42.2" fill="url(#s-1)" opacity=".20"/><ellipse cx="1787.5" cy="874.1" rx="128.7" ry="42.2" fill="url(#r-1)"/><ellipse cx="1787.5" cy="873.3" rx="130.3" ry="42.6" fill="#006fff"/><ellipse cx="1787.5" cy="873.3" rx="130.3" ry="42.6" fill="url(#s1)" opacity=".20"/><ellipse cx="1787.5" cy="873.3" rx="130.3" ry="42.6" fill="url(#r1)"/><ellipse cx="1787.5" cy="872.3" rx="132" ry="43.1" fill="#007aff"/><ellipse cx="1787.5" cy="872.3" rx="132" ry="43.1" fill="url(#s3)" opacity=".20"/><ellipse cx="1787.5" cy="872.3" rx="132" ry="43.1" fill="url(#r3)"/><ellipse cx="1787.5" cy="871.3" rx="133.6" ry="43.5" fill="#0086ff"/><ellipse cx="1787.5" cy="871.3" rx="133.6" ry="43.5" fill="url(#s5)" opacity=".20"/><ellipse cx="1787.5" cy="871.3" rx="133.6" ry="43.5" fill="url(#r5)"/><ellipse cx="1787.5" cy="870" rx="135.2" ry="43.9" fill="#0094ff"/><ellipse cx="1787.5" cy="870" rx="135.2" ry="43.9" fill="url(#s7)" opacity=".20"/><ellipse cx="1787.5" cy="870" rx="135.2" ry="43.9" fill="url(#r7)"/><ellipse cx="1787.5" cy="868.6" rx="136.8" ry="44.3" fill="#00a4ff"/><ellipse cx="1787.5" cy="868.6" rx="136.8" ry="44.3" fill="url(#s10)" opacity=".20"/><ellipse cx="1787.5" cy="868.6" rx="136.8" ry="44.3" fill="url(#r10)"/><ellipse cx="1787.5" cy="867" rx="138.3" ry="44.7" fill="#00b4ff"/><ellipse cx="1787.5" cy="867" rx="138.3" ry="44.7" fill="url(#s13)" opacity=".20"/><ellipse cx="1787.5" cy="867" rx="138.3" ry="44.7" fill="url(#r13)"/><ellipse cx="1787.5" cy="865.4" rx="139.7" ry="45" fill="#00c5ff"/><ellipse cx="1787.5" cy="865.4" rx="139.7" ry="45" fill="url(#s15)" opacity=".20"/><ellipse cx="1787.5" cy="865.4" rx="139.7" ry="45" fill="url(#r15)" opacity=".91"/><ellipse cx="1787.5" cy="863.9" rx="140.8" ry="45.2" fill="#00d6ff"/><ellipse cx="1787.5" cy="863.9" rx="140.8" ry="45.2" fill="url(#s18)" opacity=".23"/><ellipse cx="1787.5" cy="863.9" rx="140.8" ry="45.2" fill="url(#r18)" opacity=".79"/><ellipse cx="1787.5" cy="862.3" rx="141.8" ry="45.4" fill="#00ddfe"/><ellipse cx="1787.5" cy="862.3" rx="141.8" ry="45.4" fill="url(#s20)" opacity=".32"/><ellipse cx="1787.5" cy="862.3" rx="141.8" ry="45.4" fill="url(#r20)" opacity=".68"/><ellipse cx="1787.5" cy="860.7" rx="142.8" ry="45.5" fill="#00e4fd"/><ellipse cx="1787.5" cy="860.7" rx="142.8" ry="45.5" fill="url(#s22)" opacity=".40"/><ellipse cx="1787.5" cy="860.7" rx="142.8" ry="45.5" fill="url(#r22)" opacity=".58"/><ellipse cx="1787.5" cy="859.1" rx="143.6" ry="45.6" fill="#00ebfc"/><ellipse cx="1787.5" cy="859.1" rx="143.6" ry="45.6" fill="url(#s24)" opacity=".48"/><ellipse cx="1787.5" cy="859.1" rx="143.6" ry="45.6" fill="url(#r24)" opacity=".48"/><ellipse cx="1787.5" cy="857.5" rx="144.3" ry="45.7" fill="#00f1fb"/><ellipse cx="1787.5" cy="857.5" rx="144.3" ry="45.7" fill="url(#s26)" opacity=".55"/><ellipse cx="1787.5" cy="857.5" rx="144.3" ry="45.7" fill="url(#r26)" opacity=".39"/><ellipse cx="1787.5" cy="855.9" rx="144.9" ry="45.8" fill="#00f8fa"/><ellipse cx="1787.5" cy="855.9" rx="144.9" ry="45.8" fill="url(#s27)" opacity=".62"/><ellipse cx="1787.5" cy="855.9" rx="144.9" ry="45.8" fill="url(#r27)" opacity=".31"/><ellipse cx="1787.5" cy="854.3" rx="145.5" ry="45.8" fill="#00fbeb"/><ellipse cx="1787.5" cy="854.3" rx="145.5" ry="45.8" fill="url(#s29)" opacity=".69"/><ellipse cx="1787.5" cy="854.3" rx="145.5" ry="45.8" fill="url(#r29)" opacity=".22"/><ellipse cx="1787.5" cy="852.6" rx="146" ry="45.8" fill="#00fcd6"/><ellipse cx="1787.5" cy="852.6" rx="146" ry="45.8" fill="url(#s30)" opacity=".75"/><ellipse cx="1787.5" cy="852.6" rx="146" ry="45.8" fill="url(#r30)" opacity=".15"/><ellipse cx="1787.5" cy="851.1" rx="146.4" ry="45.8" fill="#00fdc2"/><ellipse cx="1787.5" cy="851.1" rx="146.4" ry="45.8" fill="url(#s32)" opacity=".80"/><ellipse cx="1787.5" cy="851.1" rx="146.4" ry="45.8" fill="url(#r32)" opacity=".08"/><ellipse cx="1787.4" cy="849.5" rx="146.7" ry="45.7" fill="#00fdaf"/><ellipse cx="1787.4" cy="849.5" rx="146.7" ry="45.7" fill="url(#s33)" opacity=".85"/><ellipse cx="1787.4" cy="849.5" rx="146.7" ry="45.7" fill="url(#r33)" opacity=".02"/><ellipse cx="1787.4" cy="847.9" rx="147" ry="45.7" fill="#00fe9b"/><ellipse cx="1787.4" cy="847.9" rx="147" ry="45.7" fill="url(#s34)" opacity=".90"/><ellipse cx="1787.4" cy="846.3" rx="147.3" ry="45.6" fill="#01ff84"/><ellipse cx="1787.4" cy="846.3" rx="147.3" ry="45.6" fill="url(#s35)" opacity=".95"/><ellipse cx="1787.4" cy="844.7" rx="147.5" ry="45.5" fill="#04ff64"/><ellipse cx="1787.4" cy="844.7" rx="147.5" ry="45.5" fill="url(#s36)" opacity=".99"/><ellipse cx="1787.4" cy="843" rx="147.6" ry="45.4" fill="#08ff44"/><ellipse cx="1787.4" cy="843" rx="147.6" ry="45.4" fill="url(#s37)"/><ellipse cx="1787.4" cy="841.4" rx="147.7" ry="45.3" fill="#0bff23"/><ellipse cx="1787.4" cy="841.4" rx="147.7" ry="45.3" fill="url(#s38)"/><ellipse cx="1787.4" cy="839.8" rx="147.8" ry="45.2" fill="#0fff03"/><ellipse cx="1787.4" cy="839.8" rx="147.8" ry="45.2" fill="url(#s39)"/><ellipse cx="1787.4" cy="838.2" rx="147.9" ry="45" fill="#16ff00"/><ellipse cx="1787.4" cy="838.2" rx="147.9" ry="45" fill="url(#s40)"/><ellipse cx="1787.4" cy="836.5" rx="147.9" ry="44.9" fill="#1dff00"/><ellipse cx="1787.4" cy="836.5" rx="147.9" ry="44.9" fill="url(#s41)"/><ellipse cx="1787.4" cy="834.9" rx="147.9" ry="44.7" fill="#25ff00"/><ellipse cx="1787.4" cy="834.9" rx="147.9" ry="44.7" fill="url(#s42)"/><ellipse cx="1787.4" cy="833.2" rx="147.8" ry="44.5" fill="#2cff00"/><ellipse cx="1787.4" cy="833.2" rx="147.8" ry="44.5" fill="url(#s42)"/><ellipse cx="1787.4" cy="831.6" rx="147.8" ry="44.4" fill="#3f0"/><ellipse cx="1787.4" cy="831.6" rx="147.8" ry="44.4" fill="url(#s43)"/><ellipse cx="1787.4" cy="830" rx="147.7" ry="44.2" fill="#3bff00"/><ellipse cx="1787.4" cy="830" rx="147.7" ry="44.2" fill="url(#s43)"/><ellipse cx="1787.4" cy="828.3" rx="147.5" ry="44" fill="#42ff00"/><ellipse cx="1787.4" cy="828.3" rx="147.5" ry="44" fill="url(#s44)"/><ellipse cx="1787.4" cy="826.7" rx="147.4" ry="43.8" fill="#4aff00"/><ellipse cx="1787.4" cy="826.7" rx="147.4" ry="43.8" fill="url(#s44)"/><ellipse cx="1787.4" cy="825" rx="147.3" ry="43.6" fill="#51ff00"/><ellipse cx="1787.4" cy="825" rx="147.3" ry="43.6" fill="url(#s45)"/><ellipse cx="1787.4" cy="823.4" rx="147.1" ry="43.4" fill="#58ff00"/><ellipse cx="1787.4" cy="823.4" rx="147.1" ry="43.4" fill="url(#s45)"/><ellipse cx="1787.4" cy="821.8" rx="146.9" ry="43.2" fill="#60ff00"/><ellipse cx="1787.4" cy="821.8" rx="146.9" ry="43.2" fill="url(#s45)"/><ellipse cx="1787.4" cy="820.1" rx="146.7" ry="43" fill="#67ff00"/><ellipse cx="1787.4" cy="820.1" rx="146.7" ry="43" fill="url(#s46)"/><ellipse cx="1787.4" cy="818.5" rx="146.5" ry="42.8" fill="#6eff00"/><ellipse cx="1787.4" cy="818.5" rx="146.5" ry="42.8" fill="url(#s46)"/><ellipse cx="1787.4" cy="816.8" rx="146.2" ry="42.6" fill="#76ff00"/><ellipse cx="1787.4" cy="816.8" rx="146.2" ry="42.6" fill="url(#s46)"/><ellipse cx="1787.3" cy="815.2" rx="146" ry="42.3" fill="#7dff00"/><ellipse cx="1787.3" cy="815.2" rx="146" ry="42.3" fill="url(#s46)"/><ellipse cx="1787.3" cy="813.6" rx="145.8" ry="42.1" fill="#84ff00"/><ellipse cx="1787.3" cy="813.6" rx="145.8" ry="42.1" fill="url(#s47)"/><ellipse cx="1787.3" cy="811.9" rx="145.5" ry="41.9" fill="#8cff00"/><ellipse cx="1787.3" cy="811.9" rx="145.5" ry="41.9" fill="url(#s47)"/><ellipse cx="1787.3" cy="810.3" rx="145.3" ry="41.7" fill="#93ff00"/><ellipse cx="1787.3" cy="810.3" rx="145.3" ry="41.7" fill="url(#s47)"/><ellipse cx="1787.3" cy="808.7" rx="145" ry="41.5" fill="#9aff00"/><ellipse cx="1787.3" cy="808.7" rx="145" ry="41.5" fill="url(#s47)"/><ellipse cx="1787.3" cy="807" rx="144.8" ry="41.2" fill="#a2ff00"/><ellipse cx="1787.3" cy="807" rx="144.8" ry="41.2" fill="url(#s47)"/><ellipse cx="1787.3" cy="805.4" rx="144.5" ry="41" fill="#a9ff00"/><ellipse cx="1787.3" cy="805.4" rx="144.5" ry="41" fill="url(#s47)"/><ellipse cx="1787.3" cy="803.7" rx="144.3" ry="40.8" fill="#b0ff00"/><ellipse cx="1787.3" cy="803.7" rx="144.3" ry="40.8" fill="url(#s47)"/><ellipse cx="1787.3" cy="802.1" rx="144" ry="40.6" fill="#b6ff00"/><ellipse cx="1787.3" cy="802.1" rx="144" ry="40.6" fill="url(#s47)"/><ellipse cx="1787.3" cy="800.5" rx="143.8" ry="40.4" fill="#baff00"/><ellipse cx="1787.3" cy="800.5" rx="143.8" ry="40.4" fill="url(#s46)"/><ellipse cx="1787.3" cy="798.8" rx="143.5" ry="40.2" fill="#bffe00"/><ellipse cx="1787.3" cy="798.8" rx="143.5" ry="40.2" fill="url(#s46)"/><ellipse cx="1787.3" cy="797.2" rx="143.3" ry="39.9" fill="#c3fe00"/><ellipse cx="1787.3" cy="797.2" rx="143.3" ry="39.9" fill="url(#s46)"/><ellipse cx="1787.3" cy="795.5" rx="143.1" ry="39.7" fill="#c8fe00"/><ellipse cx="1787.3" cy="795.5" rx="143.1" ry="39.7" fill="url(#s46)"/><ellipse cx="1787.3" cy="793.9" rx="142.9" ry="39.5" fill="#ccfd00"/><ellipse cx="1787.3" cy="793.9" rx="142.9" ry="39.5" fill="url(#s45)"/><ellipse cx="1787.3" cy="792.2" rx="142.7" ry="39.3" fill="#d1fd00"/><ellipse cx="1787.3" cy="792.2" rx="142.7" ry="39.3" fill="url(#s45)"/><ellipse cx="1787.3" cy="790.6" rx="142.5" ry="39.1" fill="#d5fd00"/><ellipse cx="1787.3" cy="790.6" rx="142.5" ry="39.1" fill="url(#s45)"/><ellipse cx="1787.3" cy="788.9" rx="142.4" ry="38.9" fill="#d9fc00"/><ellipse cx="1787.3" cy="788.9" rx="142.4" ry="38.9" fill="url(#s44)"/><ellipse cx="1787.3" cy="787.3" rx="142.2" ry="38.8" fill="#defc00"/><ellipse cx="1787.3" cy="787.3" rx="142.2" ry="38.8" fill="url(#s44)"/><ellipse cx="1787.3" cy="785.6" rx="142.1" ry="38.6" fill="#e2fc00"/><ellipse cx="1787.3" cy="785.6" rx="142.1" ry="38.6" fill="url(#s44)"/><ellipse cx="1787.3" cy="783.9" rx="142" ry="38.4" fill="#e7fb00"/><ellipse cx="1787.3" cy="783.9" rx="142" ry="38.4" fill="url(#s43)"/><ellipse cx="1787.3" cy="782.3" rx="141.9" ry="38.2" fill="#ebfb00"/><ellipse cx="1787.3" cy="782.3" rx="141.9" ry="38.2" fill="url(#s43)"/><ellipse cx="1787.2" cy="780.6" rx="141.9" ry="38.1" fill="#f0fb00"/><ellipse cx="1787.2" cy="780.6" rx="141.9" ry="38.1" fill="url(#s42)"/><ellipse cx="1787.2" cy="779" rx="141.8" ry="37.9" fill="#f4fa00"/><ellipse cx="1787.2" cy="779" rx="141.8" ry="37.9" fill="url(#s41)"/><ellipse cx="1787.2" cy="777.3" rx="141.8" ry="37.8" fill="#f9fa00"/><ellipse cx="1787.2" cy="777.3" rx="141.8" ry="37.8" fill="url(#s41)"/><ellipse cx="1787.2" cy="775.6" rx="141.8" ry="37.6" fill="#faf500"/><ellipse cx="1787.2" cy="775.6" rx="141.8" ry="37.6" fill="url(#s40)"/><ellipse cx="1787.2" cy="774" rx="141.8" ry="37.5" fill="#faee00"/><ellipse cx="1787.2" cy="774" rx="141.8" ry="37.5" fill="url(#s40)"/><ellipse cx="1787.2" cy="772.3" rx="141.9" ry="37.3" fill="#fbe800"/><ellipse cx="1787.2" cy="772.3" rx="141.9" ry="37.3" fill="url(#s39)"/><ellipse cx="1787.2" cy="770.6" rx="142" ry="37.2" fill="#fbe100"/><ellipse cx="1787.2" cy="770.6" rx="142" ry="37.2" fill="url(#s39)"/><ellipse cx="1787.2" cy="769" rx="142.1" ry="37.1" fill="#fbda00"/><ellipse cx="1787.2" cy="769" rx="142.1" ry="37.1" fill="url(#s38)"/><ellipse cx="1787.2" cy="767.3" rx="142.2" ry="37" fill="#fcd300"/><ellipse cx="1787.2" cy="767.3" rx="142.2" ry="37" fill="url(#s38)"/><ellipse cx="1787.2" cy="765.7" rx="142.3" ry="36.8" fill="#fccc00"/><ellipse cx="1787.2" cy="765.7" rx="142.3" ry="36.8" fill="url(#s37)"/><ellipse cx="1787.2" cy="764" rx="142.5" ry="36.7" fill="#fcc500"/><ellipse cx="1787.2" cy="764" rx="142.5" ry="36.7" fill="url(#s37)"/><ellipse cx="1787.2" cy="762.4" rx="142.7" ry="36.6" fill="#fcbe00"/><ellipse cx="1787.2" cy="762.4" rx="142.7" ry="36.6" fill="url(#s36)" opacity=".98"/><ellipse cx="1787.2" cy="760.7" rx="142.9" ry="36.5" fill="#fdb700"/><ellipse cx="1787.2" cy="760.7" rx="142.9" ry="36.5" fill="url(#s36)" opacity=".96"/><ellipse cx="1787.2" cy="759" rx="143.1" ry="36.4" fill="#fdb000"/><ellipse cx="1787.2" cy="759" rx="143.1" ry="36.4" fill="url(#s35)" opacity=".95"/><ellipse cx="1787.2" cy="757.4" rx="143.3" ry="36.4" fill="#fdaa00"/><ellipse cx="1787.2" cy="757.4" rx="143.3" ry="36.4" fill="url(#s35)" opacity=".93"/><ellipse cx="1787.2" cy="755.8" rx="143.6" ry="36.3" fill="#fea300"/><ellipse cx="1787.2" cy="755.8" rx="143.6" ry="36.3" fill="url(#s35)" opacity=".92"/><ellipse cx="1787.2" cy="754.1" rx="143.8" ry="36.2" fill="#fe9c00"/><ellipse cx="1787.2" cy="754.1" rx="143.8" ry="36.2" fill="url(#s34)" opacity=".90"/><ellipse cx="1787.2" cy="752.5" rx="144.1" ry="36.1" fill="#fe9500"/><ellipse cx="1787.2" cy="752.5" rx="144.1" ry="36.1" fill="url(#s34)" opacity=".89"/><ellipse cx="1787.2" cy="750.8" rx="144.4" ry="36" fill="#fe8e00"/><ellipse cx="1787.2" cy="750.8" rx="144.4" ry="36" fill="url(#s34)" opacity=".88"/><ellipse cx="1787.2" cy="749.2" rx="144.7" ry="35.9" fill="#ff8700"/><ellipse cx="1787.2" cy="749.2" rx="144.7" ry="35.9" fill="url(#s34)" opacity=".88"/><ellipse cx="1787.2" cy="747.5" rx="145" ry="35.9" fill="#ff8100"/><ellipse cx="1787.2" cy="747.5" rx="145" ry="35.9" fill="url(#s33)" opacity=".87"/><ellipse cx="1787.1" cy="745.9" rx="145.3" ry="35.8" fill="#ff7900"/><ellipse cx="1787.1" cy="745.9" rx="145.3" ry="35.8" fill="url(#s33)" opacity=".87"/><ellipse cx="1787.1" cy="745.9" rx="145.3" ry="35.8" fill="url(#r33)" opacity=".00"/><ellipse cx="1787.1" cy="744.3" rx="145.6" ry="35.7" fill="#ff7100"/><ellipse cx="1787.1" cy="744.3" rx="145.6" ry="35.7" fill="url(#s33)" opacity=".86"/><ellipse cx="1787.1" cy="744.3" rx="145.6" ry="35.7" fill="url(#r33)" opacity=".01"/><ellipse cx="1787.1" cy="742.6" rx="145.9" ry="35.6" fill="#ff6a00"/><ellipse cx="1787.1" cy="742.6" rx="145.9" ry="35.6" fill="url(#s33)" opacity=".86"/><ellipse cx="1787.1" cy="742.6" rx="145.9" ry="35.6" fill="url(#r33)" opacity=".01"/><ellipse cx="1787.1" cy="741" rx="146.3" ry="35.6" fill="#ff6200"/><ellipse cx="1787.1" cy="741" rx="146.3" ry="35.6" fill="url(#s33)" opacity=".86"/><ellipse cx="1787.1" cy="741" rx="146.3" ry="35.6" fill="url(#r33)" opacity=".01"/><ellipse cx="1787.1" cy="739.4" rx="146.6" ry="35.5" fill="#ff5a00"/><ellipse cx="1787.1" cy="739.4" rx="146.6" ry="35.5" fill="url(#s33)" opacity=".86"/><ellipse cx="1787.1" cy="739.4" rx="146.6" ry="35.5" fill="url(#r33)" opacity=".01"/><ellipse cx="1787.1" cy="737.7" rx="146.9" ry="35.4" fill="#ff5300"/><ellipse cx="1787.1" cy="737.7" rx="146.9" ry="35.4" fill="url(#s33)" opacity=".86"/><ellipse cx="1787.1" cy="737.7" rx="146.9" ry="35.4" fill="url(#r33)" opacity=".00"/><ellipse cx="1787.1" cy="736.1" rx="147.2" ry="35.3" fill="#ff4b00"/><ellipse cx="1787.1" cy="736.1" rx="147.2" ry="35.3" fill="url(#s33)" opacity=".87"/><ellipse cx="1787.1" cy="734.4" rx="147.5" ry="35.3" fill="#f40"/><ellipse cx="1787.1" cy="734.4" rx="147.5" ry="35.3" fill="url(#s33)" opacity=".87"/><ellipse cx="1787.1" cy="732.8" rx="147.8" ry="35.2" fill="#ff3c00"/><ellipse cx="1787.1" cy="732.8" rx="147.8" ry="35.2" fill="url(#s34)" opacity=".88"/><ellipse cx="1787.1" cy="731.1" rx="148.1" ry="35.1" fill="#ff3400"/><ellipse cx="1787.1" cy="731.1" rx="148.1" ry="35.1" fill="url(#s34)" opacity=".89"/><ellipse cx="1787.1" cy="729.5" rx="148.4" ry="35" fill="#ff2f00"/><ellipse cx="1787.1" cy="729.5" rx="148.4" ry="35" fill="url(#s34)" opacity=".90"/><ellipse cx="1787.1" cy="727.8" rx="148.7" ry="34.9" fill="#ff2b00"/><ellipse cx="1787.1" cy="727.8" rx="148.7" ry="34.9" fill="url(#s34)" opacity=".91"/><ellipse cx="1787.1" cy="726.2" rx="148.9" ry="34.8" fill="#ff2600"/><ellipse cx="1787.1" cy="726.2" rx="148.9" ry="34.8" fill="url(#s35)" opacity=".92"/><ellipse cx="1787.1" cy="724.5" rx="149.2" ry="34.7" fill="#ff2100"/><ellipse cx="1787.1" cy="724.5" rx="149.2" ry="34.7" fill="url(#s35)" opacity=".94"/><ellipse cx="1787.1" cy="722.8" rx="149.4" ry="34.6" fill="#ff1c00"/><ellipse cx="1787.1" cy="722.8" rx="149.4" ry="34.6" fill="url(#s36)" opacity=".96"/><ellipse cx="1787.1" cy="721.2" rx="149.6" ry="34.5" fill="#ff1700"/><ellipse cx="1787.1" cy="721.2" rx="149.6" ry="34.5" fill="url(#s36)" opacity=".97"/><ellipse cx="1787.1" cy="719.5" rx="149.8" ry="34.4" fill="#ff1300"/><ellipse cx="1787.1" cy="719.5" rx="149.8" ry="34.4" fill="url(#s37)" opacity=".99"/><ellipse cx="1787.1" cy="717.8" rx="150" ry="34.3" fill="#ff0e00"/><ellipse cx="1787.1" cy="717.8" rx="150" ry="34.3" fill="url(#s37)"/><ellipse cx="1787.1" cy="716.1" rx="150.1" ry="34.1" fill="#ff0c00"/><ellipse cx="1787.1" cy="716.1" rx="150.1" ry="34.1" fill="url(#s38)"/><ellipse cx="1787.1" cy="714.4" rx="150.3" ry="34" fill="#ff0b00"/><ellipse cx="1787.1" cy="714.4" rx="150.3" ry="34" fill="url(#s38)"/><ellipse cx="1787.1" cy="712.7" rx="150.3" ry="33.9" fill="#ff0900"/><ellipse cx="1787.1" cy="712.7" rx="150.3" ry="33.9" fill="url(#s39)"/><ellipse cx="1787" cy="711.1" rx="150.4" ry="33.7" fill="#ff0800"/><ellipse cx="1787" cy="711.1" rx="150.4" ry="33.7" fill="url(#s40)"/><ellipse cx="1787" cy="709.4" rx="150.4" ry="33.6" fill="#ff0600"/><ellipse cx="1787" cy="709.4" rx="150.4" ry="33.6" fill="url(#s41)"/><ellipse cx="1787" cy="707.7" rx="150.4" ry="33.4" fill="#ff0500"/><ellipse cx="1787" cy="707.7" rx="150.4" ry="33.4" fill="url(#s41)"/><ellipse cx="1787" cy="706" rx="150.4" ry="33.2" fill="#ff0300"/><ellipse cx="1787" cy="706" rx="150.4" ry="33.2" fill="url(#s42)"/><ellipse cx="1787" cy="704.3" rx="150.3" ry="33.1" fill="#ff0200"/><ellipse cx="1787" cy="704.3" rx="150.3" ry="33.1" fill="url(#s43)"/><ellipse cx="1787" cy="702.6" rx="150.2" ry="32.9" fill="#f00"/><ellipse cx="1787" cy="702.6" rx="150.2" ry="32.9" fill="url(#s44)"/><ellipse cx="1787" cy="700.9" rx="150" ry="32.7" fill="#f00"/><ellipse cx="1787" cy="700.9" rx="150" ry="32.7" fill="url(#s45)"/><ellipse cx="1787" cy="699.2" rx="149.8" ry="32.5" fill="#f00"/><ellipse cx="1787" cy="699.2" rx="149.8" ry="32.5" fill="url(#s47)"/><ellipse cx="1787" cy="697.5" rx="149.5" ry="32.2" fill="#f00"/><ellipse cx="1787" cy="697.5" rx="149.5" ry="32.2" fill="url(#s48)"/><ellipse cx="1787" cy="695.8" rx="149.2" ry="32" fill="#f00"/><ellipse cx="1787" cy="695.8" rx="149.2" ry="32" fill="url(#s49)"/><ellipse cx="1787" cy="694.1" rx="148.8" ry="31.8" fill="#f00"/><ellipse cx="1787" cy="694.1" rx="148.8" ry="31.8" fill="url(#s51)"/><ellipse cx="1787" cy="692.3" rx="148.3" ry="31.5" fill="#f00"/><ellipse cx="1787" cy="692.3" rx="148.3" ry="31.5" fill="url(#s52)"/><ellipse cx="1787" cy="690.5" rx="147.7" ry="31.2" fill="#f00"/><ellipse cx="1787" cy="690.5" rx="147.7" ry="31.2" fill="url(#s54)"/><ellipse cx="1787" cy="688.8" rx="147.1" ry="30.9" fill="#f00"/><ellipse cx="1787" cy="688.8" rx="147.1" ry="30.9" fill="url(#s56)"/><ellipse cx="1787" cy="687.1" rx="146.4" ry="30.6" fill="#f00"/><ellipse cx="1787" cy="687.1" rx="146.4" ry="30.6" fill="url(#s58)"/><ellipse cx="1787" cy="685.4" rx="145.5" ry="30.3" fill="#f00"/><ellipse cx="1787" cy="685.4" rx="145.5" ry="30.3" fill="url(#s60)"/><ellipse cx="1787" cy="683.6" rx="144.6" ry="29.9" fill="#f00"/><ellipse cx="1787" cy="683.6" rx="144.6" ry="29.9" fill="url(#s62)"/><ellipse cx="1787" cy="681.9" rx="143.5" ry="29.6" fill="#f00"/><ellipse cx="1787" cy="681.9" rx="143.5" ry="29.6" fill="url(#s64)"/><ellipse cx="1787" cy="680.2" rx="142.3" ry="29.2" fill="#f00"/><ellipse cx="1787" cy="680.2" rx="142.3" ry="29.2" fill="url(#s66)"/><ellipse cx="1787" cy="678.4" rx="140.9" ry="28.7" fill="#f00"/><ellipse cx="1787" cy="678.4" rx="140.9" ry="28.7" fill="url(#s69)"/><ellipse cx="1786.9" cy="676.7" rx="139.4" ry="28.3" fill="#f00"/><ellipse cx="1786.9" cy="676.7" rx="139.4" ry="28.3" fill="url(#s71)"/><ellipse cx="1786.9" cy="675.1" rx="137.7" ry="27.8" fill="#f00"/><ellipse cx="1786.9" cy="675.1" rx="137.7" ry="27.8" fill="url(#s74)"/><ellipse cx="1786.9" cy="673.7" rx="136" ry="27.4" fill="#f00"/><ellipse cx="1786.9" cy="673.7" rx="136" ry="27.4" fill="url(#s76)"/><ellipse cx="1786.9" cy="672.5" rx="134.4" ry="26.9" fill="#f00"/><ellipse cx="1786.9" cy="672.5" rx="134.4" ry="26.9" fill="url(#s79)"/><ellipse cx="1786.9" cy="671.4" rx="132.7" ry="26.5" fill="#f00"/><ellipse cx="1786.9" cy="671.4" rx="132.7" ry="26.5" fill="url(#s81)"/><ellipse cx="1786.9" cy="670.4" rx="131" ry="26.1" fill="#f00"/><ellipse cx="1786.9" cy="670.4" rx="131" ry="26.1" fill="url(#s83)"/><ellipse cx="1786.9" cy="669.5" rx="129.4" ry="25.7" fill="#f00"/><ellipse cx="1786.9" cy="669.5" rx="129.4" ry="25.7" fill="url(#s84)"/><ellipse cx="1786.9" cy="668.8" rx="127.7" ry="25.3" fill="#f00"/><ellipse cx="1786.9" cy="668.8" rx="127.7" ry="25.3" fill="url(#s86)"/><ellipse cx="1786.9" cy="668.1" rx="126.1" ry="25" fill="#f00"/><ellipse cx="1786.9" cy="668.1" rx="126.1" ry="25" fill="url(#s88)"/><ellipse cx="1786.9" cy="667.5" rx="124.4" ry="24.6" fill="#f00"/><ellipse cx="1786.9" cy="667.5" rx="124.4" ry="24.6" fill="url(#s89)"/><ellipse cx="1786.9" cy="667" rx="122.8" ry="24.2" fill="#f00"/><ellipse cx="1786.9" cy="667" rx="122.8" ry="24.2" fill="url(#s91)"/><ellipse cx="1786.9" cy="666.5" rx="121.1" ry="23.9" fill="#f00"/><ellipse cx="1786.9" cy="666.5" rx="121.1" ry="23.9" fill="url(#s92)"/><ellipse cx="1786.9" cy="666.1" rx="119.4" ry="23.5" fill="#f00"/><ellipse cx="1786.9" cy="666.1" rx="119.4" ry="23.5" fill="url(#s93)"/><ellipse cx="1786.9" cy="665.7" rx="117.6" ry="23.1" fill="#f00"/><ellipse cx="1786.9" cy="665.7" rx="117.6" ry="23.1" fill="url(#s94)"/><ellipse cx="1786.9" cy="665.5" rx="115.9" ry="22.8" fill="#f00"/><ellipse cx="1786.9" cy="665.5" rx="115.9" ry="22.8" fill="url(#s96)"/><ellipse cx="1786.9" cy="665.2" rx="114.2" ry="22.4" fill="#f00"/><ellipse cx="1786.9" cy="665.2" rx="114.2" ry="22.4" fill="url(#s97)"/><ellipse cx="1786.9" cy="665" rx="112.6" ry="22.1" fill="#f00"/><ellipse cx="1786.9" cy="665" rx="112.6" ry="22.1" fill="url(#s98)"/><ellipse cx="1786.9" cy="664.9" rx="111" ry="21.8" fill="#f00"/><ellipse cx="1786.9" cy="664.9" rx="111" ry="21.8" fill="url(#s99)"/><ellipse cx="1786.9" cy="664.8" rx="109.3" ry="21.5" fill="#f00"/><ellipse cx="1786.9" cy="664.8" rx="109.3" ry="21.5" fill="url(#s99)"/><ellipse cx="1786.9" cy="664.8" rx="108.3" ry="21.3" fill="#f00"/><ellipse cx="1786.9" cy="664.8" rx="108.3" ry="21.3" fill="url(#s100)"/><clipPath id="c21"><ellipse cx="1786.9" cy="664.8" rx="107.8" ry="20.8"/></clipPath><g clip-path="url(#c21)"><ellipse cx="1786.9" cy="664.8" rx="106.2" ry="20.5" fill="#f00"/><ellipse cx="1786.9" cy="664.8" rx="106.2" ry="20.5" fill="url(#s102)"/><ellipse cx="1786.9" cy="664.9" rx="104.6" ry="20.2" fill="#f00"/><ellipse cx="1786.9" cy="664.9" rx="104.6" ry="20.2" fill="url(#s103)"/><ellipse cx="1786.9" cy="665" rx="102.9" ry="19.9" fill="#f00"/><ellipse cx="1786.9" cy="665" rx="102.9" ry="19.9" fill="url(#s105)"/><ellipse cx="1786.9" cy="665.2" rx="101.1" ry="19.5" fill="#f00"/><ellipse cx="1786.9" cy="665.2" rx="101.1" ry="19.5" fill="url(#s106)"/><ellipse cx="1786.9" cy="665.5" rx="99.4" ry="19.2" fill="#f00"/><ellipse cx="1786.9" cy="665.5" rx="99.4" ry="19.2" fill="url(#s107)"/><ellipse cx="1786.9" cy="665.8" rx="97.7" ry="18.9" fill="#f00"/><ellipse cx="1786.9" cy="665.8" rx="97.7" ry="18.9" fill="url(#s108)"/><ellipse cx="1786.9" cy="666.2" rx="96" ry="18.6" fill="#f00"/><ellipse cx="1786.9" cy="666.2" rx="96" ry="18.6" fill="url(#s109)"/><ellipse cx="1786.9" cy="666.6" rx="94.3" ry="18.3" fill="#f00"/><ellipse cx="1786.9" cy="666.6" rx="94.3" ry="18.3" fill="url(#s110)"/><ellipse cx="1786.9" cy="667.1" rx="92.6" ry="18" fill="#f00"/><ellipse cx="1786.9" cy="667.1" rx="92.6" ry="18" fill="url(#s111)"/><ellipse cx="1786.9" cy="667.6" rx="91" ry="17.7" fill="#f00"/><ellipse cx="1786.9" cy="667.6" rx="91" ry="17.7" fill="url(#s112)"/><ellipse cx="1786.9" cy="668.2" rx="89.3" ry="17.4" fill="#f00"/><ellipse cx="1786.9" cy="668.2" rx="89.3" ry="17.4" fill="url(#s113)"/><ellipse cx="1786.9" cy="668.7" rx="87.7" ry="17.1" fill="#f00"/><ellipse cx="1786.9" cy="668.7" rx="87.7" ry="17.1" fill="url(#s113)"/><ellipse cx="1786.9" cy="669.3" rx="86" ry="16.9" fill="#f00"/><ellipse cx="1786.9" cy="669.3" rx="86" ry="16.9" fill="url(#s114)"/><ellipse cx="1786.9" cy="670" rx="84.4" ry="16.6" fill="#f00"/><ellipse cx="1786.9" cy="670" rx="84.4" ry="16.6" fill="url(#s114)"/><ellipse cx="1786.9" cy="670.6" rx="82.8" ry="16.3" fill="#f00"/><ellipse cx="1786.9" cy="670.6" rx="82.8" ry="16.3" fill="url(#s115)"/><ellipse cx="1786.9" cy="671.3" rx="81.1" ry="16" fill="#f00"/><ellipse cx="1786.9" cy="671.3" rx="81.1" ry="16" fill="url(#s115)"/><ellipse cx="1787" cy="672.1" rx="79.3" ry="15.7" fill="#f00"/><ellipse cx="1787" cy="672.1" rx="79.3" ry="15.7" fill="url(#s116)"/><ellipse cx="1787" cy="672.9" rx="77.6" ry="15.4" fill="#f00"/><ellipse cx="1787" cy="672.9" rx="77.6" ry="15.4" fill="url(#s116)"/><ellipse cx="1787" cy="673.6" rx="75.9" ry="15.1" fill="#f00"/><ellipse cx="1787" cy="673.6" rx="75.9" ry="15.1" fill="url(#s117)"/><ellipse cx="1787" cy="674.4" rx="74.2" ry="14.8" fill="#f00"/><ellipse cx="1787" cy="674.4" rx="74.2" ry="14.8" fill="url(#s117)"/><ellipse cx="1787" cy="675.2" rx="72.6" ry="14.5" fill="#f00"/><ellipse cx="1787" cy="675.2" rx="72.6" ry="14.5" fill="url(#s117)"/><ellipse cx="1787" cy="676.1" rx="70.9" ry="14.2" fill="#f00"/><ellipse cx="1787" cy="676.1" rx="70.9" ry="14.2" fill="url(#s117)"/><ellipse cx="1787" cy="676.9" rx="69.2" ry="13.9" fill="#f00"/><ellipse cx="1787" cy="676.9" rx="69.2" ry="13.9" fill="url(#s118)"/><ellipse cx="1787" cy="677.8" rx="67.5" ry="13.6" fill="#f00"/><ellipse cx="1787" cy="677.8" rx="67.5" ry="13.6" fill="url(#s118)"/><ellipse cx="1787" cy="678.6" rx="65.9" ry="13.3" fill="#f00"/><ellipse cx="1787" cy="678.6" rx="65.9" ry="13.3" fill="url(#s118)"/><ellipse cx="1787" cy="679.5" rx="64.2" ry="13" fill="#f00"/><ellipse cx="1787" cy="679.5" rx="64.2" ry="13" fill="url(#s118)"/><ellipse cx="1787" cy="680.4" rx="62.6" ry="12.7" fill="#f00"/><ellipse cx="1787" cy="680.4" rx="62.6" ry="12.7" fill="url(#s118)"/><ellipse cx="1787" cy="681.3" rx="60.9" ry="12.4" fill="#f00"/><ellipse cx="1787" cy="681.3" rx="60.9" ry="12.4" fill="url(#s119)"/><ellipse cx="1787" cy="682.2" rx="59.3" ry="12.1" fill="#f00"/><ellipse cx="1787" cy="682.2" rx="59.3" ry="12.1" fill="url(#s119)"/><ellipse cx="1787" cy="683.1" rx="57.6" ry="11.8" fill="#f00"/><ellipse cx="1787" cy="683.1" rx="57.6" ry="11.8" fill="url(#s119)"/><ellipse cx="1787" cy="684" rx="56" ry="11.5" fill="#f00"/><ellipse cx="1787" cy="684" rx="56" ry="11.5" fill="url(#s119)"/><ellipse cx="1787" cy="684.9" rx="54.4" ry="11.2" fill="#f00"/><ellipse cx="1787" cy="684.9" rx="54.4" ry="11.2" fill="url(#s119)"/><ellipse cx="1787" cy="685.8" rx="52.7" ry="10.9" fill="#f00"/><ellipse cx="1787" cy="685.8" rx="52.7" ry="10.9" fill="url(#s119)"/><ellipse cx="1787" cy="686.7" rx="51.1" ry="10.6" fill="#f00"/><ellipse cx="1787" cy="686.7" rx="51.1" ry="10.6" fill="url(#s119)"/><ellipse cx="1787" cy="687.6" rx="49.5" ry="10.3" fill="#f00"/><ellipse cx="1787" cy="687.6" rx="49.5" ry="10.3" fill="url(#s119)"/><ellipse cx="1787.1" cy="688.6" rx="47.9" ry="10" fill="#f00"/><ellipse cx="1787.1" cy="688.6" rx="47.9" ry="10" fill="url(#s120)"/><ellipse cx="1787.1" cy="689.5" rx="46.3" ry="9.7" fill="#f00"/><ellipse cx="1787.1" cy="689.5" rx="46.3" ry="9.7" fill="url(#s120)"/><ellipse cx="1787.1" cy="690.5" rx="44.6" ry="9.4" fill="#f00"/><ellipse cx="1787.1" cy="690.5" rx="44.6" ry="9.4" fill="url(#s120)"/><ellipse cx="1787.1" cy="691.4" rx="43" ry="9" fill="#f00"/><ellipse cx="1787.1" cy="691.4" rx="43" ry="9" fill="url(#s120)"/><ellipse cx="1787.1" cy="692.4" rx="41.4" ry="8.7" fill="#f00"/><ellipse cx="1787.1" cy="692.4" rx="41.4" ry="8.7" fill="url(#s120)"/><ellipse cx="1787.1" cy="693.3" rx="39.8" ry="8.4" fill="#f00"/><ellipse cx="1787.1" cy="693.3" rx="39.8" ry="8.4" fill="url(#s120)"/><ellipse cx="1787.1" cy="694.3" rx="38.2" ry="8.1" fill="#f00"/><ellipse cx="1787.1" cy="694.3" rx="38.2" ry="8.1" fill="url(#s120)"/><ellipse cx="1787.1" cy="695.2" rx="36.6" ry="7.8" fill="#f00"/><ellipse cx="1787.1" cy="695.2" rx="36.6" ry="7.8" fill="url(#s120)"/><ellipse cx="1787.1" cy="696.2" rx="35" ry="7.5" fill="#f00"/><ellipse cx="1787.1" cy="696.2" rx="35" ry="7.5" fill="url(#s120)"/><ellipse cx="1787.1" cy="697.1" rx="33.4" ry="7.1" fill="#f00"/><ellipse cx="1787.1" cy="697.1" rx="33.4" ry="7.1" fill="url(#s120)"/><ellipse cx="1787.1" cy="698.1" rx="31.8" ry="6.8" fill="#f00"/><ellipse cx="1787.1" cy="698.1" rx="31.8" ry="6.8" fill="url(#s120)"/><ellipse cx="1787.1" cy="699.1" rx="30.2" ry="6.5" fill="#f00"/><ellipse cx="1787.1" cy="699.1" rx="30.2" ry="6.5" fill="url(#s120)"/><ellipse cx="1787.1" cy="700" rx="28.6" ry="6.2" fill="#ff0100"/><ellipse cx="1787.1" cy="700" rx="28.6" ry="6.2" fill="url(#s120)"/><ellipse cx="1787.1" cy="701.1" rx="26.9" ry="5.8" fill="#ff0200"/><ellipse cx="1787.1" cy="701.1" rx="26.9" ry="5.8" fill="url(#s120)"/><ellipse cx="1787.1" cy="702.1" rx="25.2" ry="5.5" fill="#ff0200"/><ellipse cx="1787.1" cy="702.1" rx="25.2" ry="5.5" fill="url(#s120)"/><ellipse cx="1787.1" cy="703.1" rx="23.5" ry="5.1" fill="#ff0300"/><ellipse cx="1787.1" cy="703.1" rx="23.5" ry="5.1" fill="url(#s120)"/><ellipse cx="1787.1" cy="704.2" rx="21.8" ry="4.8" fill="#ff0400"/><ellipse cx="1787.1" cy="704.2" rx="21.8" ry="4.8" fill="url(#s120)"/><ellipse cx="1787.1" cy="705.2" rx="20.1" ry="4.4" fill="#ff0500"/><ellipse cx="1787.1" cy="705.2" rx="20.1" ry="4.4" fill="url(#s120)"/><ellipse cx="1787.1" cy="706.2" rx="18.4" ry="4" fill="#ff0600"/><ellipse cx="1787.1" cy="706.2" rx="18.4" ry="4" fill="url(#s120)"/><ellipse cx="1787.1" cy="707.3" rx="16.7" ry="3.7" fill="#ff0700"/><ellipse cx="1787.1" cy="707.3" rx="16.7" ry="3.7" fill="url(#s120)"/><ellipse cx="1787.1" cy="708.3" rx="15" ry="3.3" fill="#ff0800"/><ellipse cx="1787.1" cy="708.3" rx="15" ry="3.3" fill="url(#s120)"/><ellipse cx="1787.1" cy="709.3" rx="13.3" ry="2.9" fill="#ff0900"/><ellipse cx="1787.1" cy="709.3" rx="13.3" ry="2.9" fill="url(#s119)"/><ellipse cx="1787.1" cy="710.2" rx="11.6" ry="2.6" fill="#ff0a00"/><ellipse cx="1787.1" cy="710.2" rx="11.6" ry="2.6" fill="url(#s118)"/><ellipse cx="1787.1" cy="711.1" rx="9.9" ry="2.2" fill="#ff0b00"/><ellipse cx="1787.1" cy="711.1" rx="9.9" ry="2.2" fill="url(#s117)"/><ellipse cx="1787.1" cy="711.9" rx="8.2" ry="1.8" fill="#ff0b00"/><ellipse cx="1787.1" cy="711.9" rx="8.2" ry="1.8" fill="url(#s116)"/><ellipse cx="1787.1" cy="712.6" rx="6.5" ry="1.5" fill="#ff0c00"/><ellipse cx="1787.1" cy="712.6" rx="6.5" ry="1.5" fill="url(#s113)"/><ellipse cx="1787.1" cy="713.2" rx="4.9" ry="1.1" fill="#ff0d00"/><ellipse cx="1787.1" cy="713.2" rx="4.9" ry="1.1" fill="url(#s111)"/><ellipse cx="1787.1" cy="713.6" rx="3.2" ry="0.7" fill="#ff0d00"/><ellipse cx="1787.1" cy="713.6" rx="3.2" ry="0.7" fill="url(#s107)"/><ellipse cx="1787.1" cy="713.9" rx="1.5" ry="0.3" fill="#ff0d00"/><ellipse cx="1787.1" cy="713.9" rx="1.5" ry="0.3" fill="url(#s104)"/><ellipse cx="1787.1" cy="714" rx="0.1" ry="0" fill="#ff0d00"/><ellipse cx="1787.1" cy="714" rx="0.1" ry="0" fill="url(#s100)"/></g></g></g><path d="M1534.1 590.6L1547.2 954.8M1547.2 954.8L1808.6 1051.2M1808.6 1051.2L2022.8 939.3M1547.2 954.8l-4.7 1.8M1808.6 1051.2l-4.4 2.3M2022.8 939.3l4.8 1.3M1544 867.1l-4.8 1.5M1735.5 1024.2l-4.5 2.1M1976 963.7l4.8 1.4M1540.8 777.2l-4.8 1.3M1668 999.3l-4.6 2M1925.1 990.3l4.8 1.5M1537.5 685l-4.9 1M1605.4 976.3l-4.6 1.9M1869.5 1019.4l4.7 1.6M1534.1 590.6l-4.9 0.7M1547.2 954.8l-4.7 1.8M1808.6 1051.2l4.7 1.7M1999.8 951.3l2.9 0.8M1951.1 976.8l2.9 0.9M1897.9 1004.5l2.9 0.9M1839.8 1034.9l2.8 1" stroke="#444" stroke-width="1.7" fill="none" stroke-linecap="square"/><g><text transform="matrix(0.2309 -0.0354 0.01172 0.3162 1526 603.2)" font-size="100" text-anchor="end" fill="#333" font-weight="normal">50</text><text transform="matrix(0.2276 -0.04834 0.01143 0.3084 1530 697.9)" font-size="100" text-anchor="end" fill="#333" font-weight="normal">25</text><text transform="matrix(0.2243 -0.06063 0.01115 0.3009 1533 790.2)" font-size="100" text-anchor="end" fill="#333" font-weight="normal">0</text><text transform="matrix(0.2211 -0.07232 0.01088 0.2937 1536 880.2)" font-size="100" text-anchor="end" fill="#333" font-weight="normal">-25</text><text transform="matrix(0.2181 -0.08344 0.01062 0.2867 1540 968.1)" font-size="100" text-anchor="end" fill="#333" font-weight="normal">-50</text><text transform="matrix(0.2092 -0.08533 0.1922 0.07165 1603 982.6)" font-size="100" text-anchor="end" fill="#333" font-weight="normal">25</text><text transform="matrix(0.2083 -0.09193 0.2071 0.07724 1666 1006)" font-size="100" text-anchor="end" fill="#333" font-weight="normal">0</text><text transform="matrix(0.2066 -0.09932 0.224 0.08351 1734 1032)" font-size="100" text-anchor="end" fill="#333" font-weight="normal">-25</text><text transform="matrix(0.2095 -0.07943 0.1787 0.06665 1544 960.7)" font-size="100" text-anchor="end" fill="#333" font-weight="normal">50</text><text transform="matrix(0.233 0.06487 -0.1464 0.07724 2025 944.1)" font-size="100" text-anchor="start" fill="#333" font-weight="normal">-50</text><text transform="matrix(0.2373 0.07053 -0.159 0.08391 1978 969)" font-size="100" text-anchor="start" fill="#333" font-weight="normal">-25</text><text transform="matrix(0.2416 0.07696 -0.1733 0.09148 1927 996)" font-size="100" text-anchor="start" fill="#333" font-weight="normal">0</text><text transform="matrix(0.2455 0.0843 -0.1897 0.1001 1871 1026)" font-size="100" text-anchor="start" fill="#333" font-weight="normal">25</text><text transform="matrix(0.2492 0.09274 -0.2085 0.11 1809 1058)" font-size="100" text-anchor="start" fill="#333" font-weight="normal">50</text></g><text x="1535" y="619.5" font-size="26.6" font-weight="bold">Young's modulus</text><text x="1898" y="626" font-size="26.6" font-weight="bold">KNaSe</text><text x="1456" y="802" font-size="33.5" font-weight="bold"><tspan font-style="italic">E</tspan>z</text><text x="1612.5" y="1054" font-size="33.5" font-weight="bold"><tspan font-style="italic">E</tspan>y</text><text x="1960" y="1031.7" font-size="33.5" font-weight="bold"><tspan font-style="italic">E</tspan>x</text><path d="M268 1424.6L263.3 1102.2M317 1328.9L91.5 1411.6M214.8 1447.1L206.8 1113M316.5 1252.1L87.5 1323M157.5 1471.3L145.6 1124.7M316.1 1173.2L83.4 1231.7M498.7 1459.4L507.7 1118.4M570.7 1396.4L317 1328.9M434.4 1439.7L439.3 1109.1M574 1309.8L316.5 1252.1M374.1 1421.2L375.4 1100.3M577.4 1220.5L316.1 1173.2M521.4 1507.5L268 1424.6M498.7 1459.4L284 1574.2M471.4 1536.8L214.8 1447.1M434.4 1439.7L216.4 1546.7M416.8 1568.8L157.5 1471.3M374.1 1421.2L153.7 1521.2" stroke="#dadada" stroke-width="1.3" fill="none"/><path d="M317.4 1403.8L315.6 1092.2M317.4 1403.8L95.4 1497.5M95.4 1497.5L79.1 1137.4M315.6 1092.2L79.1 1137.4M567.4 1480.4L580.9 1128.4M567.4 1480.4L317.4 1403.8M580.9 1128.4L315.6 1092.2M567.4 1480.4L317.4 1403.8M567.4 1480.4L357 1603.9M357 1603.9L95.4 1497.5M317.4 1403.8L95.4 1497.5" stroke="#b8b8b8" stroke-width="1.4" fill="none"/><clipPath id="kc02"><ellipse cx="333.8" cy="1345" rx="54.7" ry="17.7"/><ellipse cx="333.8" cy="1344.1" rx="59.6" ry="19.2"/><ellipse cx="333.8" cy="1342.9" rx="64.4" ry="20.7"/><ellipse cx="333.8" cy="1341.4" rx="69.3" ry="22.2"/><ellipse cx="333.8" cy="1339.4" rx="74.1" ry="23.7"/><ellipse cx="333.8" cy="1336.9" rx="79.1" ry="25.1"/><ellipse cx="333.8" cy="1333.5" rx="83.9" ry="26.5"/><ellipse cx="333.8" cy="1329" rx="88.5" ry="27.7"/><ellipse cx="333.8" cy="1324.2" rx="91.4" ry="28.3"/><ellipse cx="333.7" cy="1319.4" rx="92.6" ry="28.4"/><ellipse cx="333.7" cy="1314.4" rx="92.4" ry="28"/><ellipse cx="333.7" cy="1309.5" rx="90.6" ry="27.2"/><ellipse cx="333.7" cy="1304.5" rx="87.1" ry="25.9"/><ellipse cx="333.7" cy="1300" rx="82.4" ry="24.3"/><ellipse cx="333.7" cy="1296.7" rx="77.5" ry="22.7"/><ellipse cx="333.7" cy="1294.1" rx="72.7" ry="21.1"/><ellipse cx="333.7" cy="1292.1" rx="67.8" ry="19.6"/><ellipse cx="333.7" cy="1290.4" rx="62.9" ry="18.2"/><ellipse cx="333.7" cy="1289.1" rx="58.1" ry="16.7"/><ellipse cx="333.7" cy="1288.1" rx="53.2" ry="15.3"/><ellipse cx="333.7" cy="1287.3" rx="48.3" ry="13.8"/><ellipse cx="333.7" cy="1286.8" rx="43.4" ry="12.4"/><ellipse cx="333.7" cy="1286.6" rx="38.6" ry="11"/><ellipse cx="333.7" cy="1286.5" rx="36.3" ry="10.4"/></clipPath><g filter="url(#bl)"><g shape-rendering="crispEdges" clip-path="url(#kc02)"><ellipse cx="333.8" cy="1345" rx="55.2" ry="18.2" fill="#00eafc"/><ellipse cx="333.8" cy="1345" rx="55.2" ry="18.2" fill="url(#s-13)"/><ellipse cx="333.8" cy="1345" rx="55.2" ry="18.2" fill="url(#r-13)"/><ellipse cx="333.8" cy="1344.7" rx="56.8" ry="18.7" fill="#00eefc"/><ellipse cx="333.8" cy="1344.7" rx="56.8" ry="18.7" fill="url(#s-13)"/><ellipse cx="333.8" cy="1344.7" rx="56.8" ry="18.7" fill="url(#r-13)"/><ellipse cx="333.8" cy="1344.4" rx="58.4" ry="19.2" fill="#00f2fb"/><ellipse cx="333.8" cy="1344.4" rx="58.4" ry="19.2" fill="url(#s-12)"/><ellipse cx="333.8" cy="1344.4" rx="58.4" ry="19.2" fill="url(#r-12)"/><ellipse cx="333.8" cy="1344.1" rx="60.1" ry="19.7" fill="#00f7fa"/><ellipse cx="333.8" cy="1344.1" rx="60.1" ry="19.7" fill="url(#s-11)"/><ellipse cx="333.8" cy="1344.1" rx="60.1" ry="19.7" fill="url(#r-11)"/><ellipse cx="333.8" cy="1343.7" rx="61.7" ry="20.2" fill="#00faf5"/><ellipse cx="333.8" cy="1343.7" rx="61.7" ry="20.2" fill="url(#s-11)"/><ellipse cx="333.8" cy="1343.7" rx="61.7" ry="20.2" fill="url(#r-11)"/><ellipse cx="333.8" cy="1343.3" rx="63.3" ry="20.7" fill="#00fbe5"/><ellipse cx="333.8" cy="1343.3" rx="63.3" ry="20.7" fill="url(#s-10)"/><ellipse cx="333.8" cy="1343.3" rx="63.3" ry="20.7" fill="url(#r-10)"/><ellipse cx="333.8" cy="1342.9" rx="64.9" ry="21.2" fill="#00fcd3"/><ellipse cx="333.8" cy="1342.9" rx="64.9" ry="21.2" fill="url(#s-9)"/><ellipse cx="333.8" cy="1342.9" rx="64.9" ry="21.2" fill="url(#r-9)"/><ellipse cx="333.8" cy="1342.4" rx="66.5" ry="21.7" fill="#00fdc1"/><ellipse cx="333.8" cy="1342.4" rx="66.5" ry="21.7" fill="url(#s-8)"/><ellipse cx="333.8" cy="1342.4" rx="66.5" ry="21.7" fill="url(#r-8)"/><ellipse cx="333.8" cy="1341.9" rx="68.1" ry="22.2" fill="#00feac"/><ellipse cx="333.8" cy="1341.9" rx="68.1" ry="22.2" fill="url(#s-7)"/><ellipse cx="333.8" cy="1341.9" rx="68.1" ry="22.2" fill="url(#r-7)"/><ellipse cx="333.8" cy="1341.4" rx="69.8" ry="22.7" fill="#00ff96"/><ellipse cx="333.8" cy="1341.4" rx="69.8" ry="22.7" fill="url(#s-6)"/><ellipse cx="333.8" cy="1341.4" rx="69.8" ry="22.7" fill="url(#r-6)"/><ellipse cx="333.8" cy="1340.8" rx="71.4" ry="23.2" fill="#02ff76"/><ellipse cx="333.8" cy="1340.8" rx="71.4" ry="23.2" fill="url(#s-5)"/><ellipse cx="333.8" cy="1340.8" rx="71.4" ry="23.2" fill="url(#r-5)"/><ellipse cx="333.8" cy="1340.1" rx="73" ry="23.7" fill="#07ff4d"/><ellipse cx="333.8" cy="1340.1" rx="73" ry="23.7" fill="url(#s-4)"/><ellipse cx="333.8" cy="1340.1" rx="73" ry="23.7" fill="url(#r-4)"/><ellipse cx="333.8" cy="1339.4" rx="74.6" ry="24.2" fill="#0bff21"/><ellipse cx="333.8" cy="1339.4" rx="74.6" ry="24.2" fill="url(#s-3)"/><ellipse cx="333.8" cy="1339.4" rx="74.6" ry="24.2" fill="url(#r-3)"/><ellipse cx="333.8" cy="1338.7" rx="76.3" ry="24.7" fill="#13ff00"/><ellipse cx="333.8" cy="1338.7" rx="76.3" ry="24.7" fill="url(#s-2)"/><ellipse cx="333.8" cy="1338.7" rx="76.3" ry="24.7" fill="url(#r-2)"/><ellipse cx="333.8" cy="1337.8" rx="77.9" ry="25.2" fill="#1fff00"/><ellipse cx="333.8" cy="1337.8" rx="77.9" ry="25.2" fill="url(#s-1)"/><ellipse cx="333.8" cy="1337.8" rx="77.9" ry="25.2" fill="url(#r-1)"/><ellipse cx="333.8" cy="1336.9" rx="79.6" ry="25.6" fill="#2cff00"/><ellipse cx="333.8" cy="1336.9" rx="79.6" ry="25.6" fill="url(#s1)"/><ellipse cx="333.8" cy="1336.9" rx="79.6" ry="25.6" fill="url(#r1)"/><ellipse cx="333.8" cy="1335.9" rx="81.2" ry="26.1" fill="#3bff00"/><ellipse cx="333.8" cy="1335.9" rx="81.2" ry="26.1" fill="url(#s3)"/><ellipse cx="333.8" cy="1335.9" rx="81.2" ry="26.1" fill="url(#r3)" opacity=".92"/><ellipse cx="333.8" cy="1334.8" rx="82.8" ry="26.6" fill="#4aff00"/><ellipse cx="333.8" cy="1334.8" rx="82.8" ry="26.6" fill="url(#s4)"/><ellipse cx="333.8" cy="1334.8" rx="82.8" ry="26.6" fill="url(#r4)" opacity=".64"/><ellipse cx="333.8" cy="1333.5" rx="84.4" ry="27" fill="#5cff00"/><ellipse cx="333.8" cy="1333.5" rx="84.4" ry="27" fill="url(#s7)"/><ellipse cx="333.8" cy="1333.5" rx="84.4" ry="27" fill="url(#r7)" opacity=".32"/><ellipse cx="333.8" cy="1332.1" rx="86.1" ry="27.4" fill="#70ff00"/><ellipse cx="333.8" cy="1332.1" rx="86.1" ry="27.4" fill="url(#s9)"/><ellipse cx="333.8" cy="1330.5" rx="87.6" ry="27.8" fill="#86ff00"/><ellipse cx="333.8" cy="1330.5" rx="87.6" ry="27.8" fill="url(#s12)"/><ellipse cx="333.8" cy="1329" rx="89" ry="28.2" fill="#9cff00"/><ellipse cx="333.8" cy="1329" rx="89" ry="28.2" fill="url(#s15)"/><ellipse cx="333.8" cy="1327.4" rx="90.1" ry="28.4" fill="#b2ff00"/><ellipse cx="333.8" cy="1327.4" rx="90.1" ry="28.4" fill="url(#s18)"/><ellipse cx="333.8" cy="1325.8" rx="91.1" ry="28.6" fill="#c0fe00"/><ellipse cx="333.8" cy="1325.8" rx="91.1" ry="28.6" fill="url(#s22)"/><ellipse cx="333.8" cy="1324.2" rx="91.9" ry="28.8" fill="#cdfd00"/><ellipse cx="333.8" cy="1324.2" rx="91.9" ry="28.8" fill="url(#s25)"/><ellipse cx="333.8" cy="1322.6" rx="92.4" ry="28.9" fill="#dafc00"/><ellipse cx="333.8" cy="1322.6" rx="92.4" ry="28.9" fill="url(#s29)"/><ellipse cx="333.8" cy="1321" rx="92.9" ry="28.9" fill="#e7fb00"/><ellipse cx="333.8" cy="1321" rx="92.9" ry="28.9" fill="url(#s33)"/><ellipse cx="333.7" cy="1319.4" rx="93.1" ry="28.9" fill="#f5fa00"/><ellipse cx="333.7" cy="1319.4" rx="93.1" ry="28.9" fill="url(#s37)"/><ellipse cx="333.7" cy="1317.7" rx="93.2" ry="28.8" fill="#fbee00"/><ellipse cx="333.7" cy="1317.7" rx="93.2" ry="28.8" fill="url(#s41)"/><ellipse cx="333.7" cy="1316" rx="93.1" ry="28.7" fill="#fbd900"/><ellipse cx="333.7" cy="1316" rx="93.1" ry="28.7" fill="url(#s45)"/><ellipse cx="333.7" cy="1314.4" rx="92.9" ry="28.5" fill="#fcc400"/><ellipse cx="333.7" cy="1314.4" rx="92.9" ry="28.5" fill="url(#s49)"/><ellipse cx="333.7" cy="1312.7" rx="92.4" ry="28.3" fill="#fdb000"/><ellipse cx="333.7" cy="1312.7" rx="92.4" ry="28.3" fill="url(#s52)"/><ellipse cx="333.7" cy="1311.1" rx="91.8" ry="28" fill="#fe9c00"/><ellipse cx="333.7" cy="1311.1" rx="91.8" ry="28" fill="url(#s56)"/><ellipse cx="333.7" cy="1309.5" rx="91.1" ry="27.7" fill="#ff8700"/><ellipse cx="333.7" cy="1309.5" rx="91.1" ry="27.7" fill="url(#s59)"/><ellipse cx="333.7" cy="1307.8" rx="90.1" ry="27.3" fill="#ff7200"/><ellipse cx="333.7" cy="1307.8" rx="90.1" ry="27.3" fill="url(#s63)"/><ellipse cx="333.7" cy="1306.2" rx="89" ry="26.9" fill="#ff5b00"/><ellipse cx="333.7" cy="1306.2" rx="89" ry="26.9" fill="url(#s66)"/><ellipse cx="333.7" cy="1304.5" rx="87.6" ry="26.4" fill="#f40"/><ellipse cx="333.7" cy="1304.5" rx="87.6" ry="26.4" fill="url(#s69)"/><ellipse cx="333.7" cy="1302.8" rx="86.1" ry="25.8" fill="#ff3000"/><ellipse cx="333.7" cy="1302.8" rx="86.1" ry="25.8" fill="url(#s72)"/><ellipse cx="333.7" cy="1301.4" rx="84.5" ry="25.3" fill="#ff2400"/><ellipse cx="333.7" cy="1301.4" rx="84.5" ry="25.3" fill="url(#s74)"/><ellipse cx="333.7" cy="1300" rx="82.9" ry="24.8" fill="#ff1900"/><ellipse cx="333.7" cy="1300" rx="82.9" ry="24.8" fill="url(#s76)"/><ellipse cx="333.7" cy="1298.8" rx="81.3" ry="24.2" fill="#ff0e00"/><ellipse cx="333.7" cy="1298.8" rx="81.3" ry="24.2" fill="url(#s78)"/><ellipse cx="333.7" cy="1297.7" rx="79.6" ry="23.7" fill="#ff0b00"/><ellipse cx="333.7" cy="1297.7" rx="79.6" ry="23.7" fill="url(#s80)"/><ellipse cx="333.7" cy="1296.7" rx="78" ry="23.2" fill="#ff0900"/><ellipse cx="333.7" cy="1296.7" rx="78" ry="23.2" fill="url(#s81)"/><ellipse cx="333.7" cy="1295.8" rx="76.4" ry="22.7" fill="#ff0600"/><ellipse cx="333.7" cy="1295.8" rx="76.4" ry="22.7" fill="url(#s82)"/><ellipse cx="333.7" cy="1294.9" rx="74.8" ry="22.1" fill="#ff0400"/><ellipse cx="333.7" cy="1294.9" rx="74.8" ry="22.1" fill="url(#s83)"/><ellipse cx="333.7" cy="1294.1" rx="73.2" ry="21.6" fill="#ff0200"/><ellipse cx="333.7" cy="1294.1" rx="73.2" ry="21.6" fill="url(#s85)"/><ellipse cx="333.7" cy="1293.4" rx="71.6" ry="21.1" fill="#f00"/><ellipse cx="333.7" cy="1293.4" rx="71.6" ry="21.1" fill="url(#s86)"/><ellipse cx="333.7" cy="1292.7" rx="69.9" ry="20.6" fill="#f00"/><ellipse cx="333.7" cy="1292.7" rx="69.9" ry="20.6" fill="url(#s87)"/><ellipse cx="333.7" cy="1292.1" rx="68.3" ry="20.1" fill="#f00"/><ellipse cx="333.7" cy="1292.1" rx="68.3" ry="20.1" fill="url(#s87)"/><ellipse cx="333.7" cy="1291.5" rx="66.7" ry="19.6" fill="#f00"/><ellipse cx="333.7" cy="1291.5" rx="66.7" ry="19.6" fill="url(#s88)"/><ellipse cx="333.7" cy="1290.9" rx="65" ry="19.1" fill="#f00"/><ellipse cx="333.7" cy="1290.9" rx="65" ry="19.1" fill="url(#s89)"/><ellipse cx="333.7" cy="1290.4" rx="63.4" ry="18.7" fill="#f00"/><ellipse cx="333.7" cy="1290.4" rx="63.4" ry="18.7" fill="url(#s90)"/><ellipse cx="333.7" cy="1290" rx="61.8" ry="18.2" fill="#f00"/><ellipse cx="333.7" cy="1290" rx="61.8" ry="18.2" fill="url(#s91)"/><ellipse cx="333.7" cy="1289.5" rx="60.2" ry="17.7" fill="#f00"/><ellipse cx="333.7" cy="1289.5" rx="60.2" ry="17.7" fill="url(#s91)"/><ellipse cx="333.7" cy="1289.1" rx="58.6" ry="17.2" fill="#f00"/><ellipse cx="333.7" cy="1289.1" rx="58.6" ry="17.2" fill="url(#s92)"/><ellipse cx="333.7" cy="1288.7" rx="56.9" ry="16.7" fill="#f00"/><ellipse cx="333.7" cy="1288.7" rx="56.9" ry="16.7" fill="url(#s93)"/><ellipse cx="333.7" cy="1288.4" rx="55.3" ry="16.2" fill="#f00"/><ellipse cx="333.7" cy="1288.4" rx="55.3" ry="16.2" fill="url(#s93)"/><ellipse cx="333.7" cy="1288.1" rx="53.7" ry="15.8" fill="#f00"/><ellipse cx="333.7" cy="1288.1" rx="53.7" ry="15.8" fill="url(#s94)"/><ellipse cx="333.7" cy="1287.8" rx="52" ry="15.3" fill="#f00"/><ellipse cx="333.7" cy="1287.8" rx="52" ry="15.3" fill="url(#s95)"/><ellipse cx="333.7" cy="1287.6" rx="50.4" ry="14.8" fill="#f00"/><ellipse cx="333.7" cy="1287.6" rx="50.4" ry="14.8" fill="url(#s95)"/><ellipse cx="333.7" cy="1287.3" rx="48.8" ry="14.3" fill="#f00"/><ellipse cx="333.7" cy="1287.3" rx="48.8" ry="14.3" fill="url(#s96)"/><ellipse cx="333.7" cy="1287.2" rx="47.2" ry="13.9" fill="#f00"/><ellipse cx="333.7" cy="1287.2" rx="47.2" ry="13.9" fill="url(#s97)"/><ellipse cx="333.7" cy="1287" rx="45.6" ry="13.4" fill="#f00"/><ellipse cx="333.7" cy="1287" rx="45.6" ry="13.4" fill="url(#s97)"/><ellipse cx="333.7" cy="1286.8" rx="43.9" ry="12.9" fill="#f00"/><ellipse cx="333.7" cy="1286.8" rx="43.9" ry="12.9" fill="url(#s98)"/><ellipse cx="333.7" cy="1286.7" rx="42.3" ry="12.5" fill="#f00"/><ellipse cx="333.7" cy="1286.7" rx="42.3" ry="12.5" fill="url(#s98)"/><ellipse cx="333.7" cy="1286.6" rx="40.7" ry="12" fill="#f00"/><ellipse cx="333.7" cy="1286.6" rx="40.7" ry="12" fill="url(#s99)"/><ellipse cx="333.7" cy="1286.6" rx="39.1" ry="11.5" fill="#f00"/><ellipse cx="333.7" cy="1286.6" rx="39.1" ry="11.5" fill="url(#s99)"/><ellipse cx="333.7" cy="1286.5" rx="37.5" ry="11.1" fill="#f00"/><ellipse cx="333.7" cy="1286.5" rx="37.5" ry="11.1" fill="url(#s100)"/><ellipse cx="333.7" cy="1286.5" rx="36.8" ry="10.9" fill="#f00"/><ellipse cx="333.7" cy="1286.5" rx="36.8" ry="10.9" fill="url(#s100)"/><clipPath id="c02"><ellipse cx="333.7" cy="1286.5" rx="36.3" ry="10.4"/></clipPath><g clip-path="url(#c02)"><ellipse cx="333.7" cy="1286.5" rx="34.7" ry="9.9" fill="#f00"/><ellipse cx="333.7" cy="1286.5" rx="34.7" ry="9.9" fill="url(#s101)"/><ellipse cx="333.7" cy="1286.5" rx="33.1" ry="9.5" fill="#f00"/><ellipse cx="333.7" cy="1286.5" rx="33.1" ry="9.5" fill="url(#s101)"/><ellipse cx="333.7" cy="1286.6" rx="31.4" ry="9" fill="#f00"/><ellipse cx="333.7" cy="1286.6" rx="31.4" ry="9" fill="url(#s101)"/><ellipse cx="333.7" cy="1286.6" rx="29.8" ry="8.5" fill="#f00"/><ellipse cx="333.7" cy="1286.6" rx="29.8" ry="8.5" fill="url(#s102)"/><ellipse cx="333.7" cy="1286.7" rx="28.2" ry="8.1" fill="#f00"/><ellipse cx="333.7" cy="1286.7" rx="28.2" ry="8.1" fill="url(#s102)"/><ellipse cx="333.7" cy="1286.8" rx="26.6" ry="7.6" fill="#f00"/><ellipse cx="333.7" cy="1286.8" rx="26.6" ry="7.6" fill="url(#s103)"/><ellipse cx="333.7" cy="1286.9" rx="25" ry="7.1" fill="#f00"/><ellipse cx="333.7" cy="1286.9" rx="25" ry="7.1" fill="url(#s103)"/><ellipse cx="333.7" cy="1287" rx="23.3" ry="6.7" fill="#f00"/><ellipse cx="333.7" cy="1287" rx="23.3" ry="6.7" fill="url(#s104)"/><ellipse cx="333.7" cy="1287.2" rx="21.7" ry="6.2" fill="#f00"/><ellipse cx="333.7" cy="1287.2" rx="21.7" ry="6.2" fill="url(#s104)"/><ellipse cx="333.7" cy="1287.4" rx="20.1" ry="5.8" fill="#f00"/><ellipse cx="333.7" cy="1287.4" rx="20.1" ry="5.8" fill="url(#s104)"/><ellipse cx="333.7" cy="1287.5" rx="18.5" ry="5.3" fill="#f00"/><ellipse cx="333.7" cy="1287.5" rx="18.5" ry="5.3" fill="url(#s104)"/><ellipse cx="333.7" cy="1287.7" rx="16.9" ry="4.9" fill="#f00"/><ellipse cx="333.7" cy="1287.7" rx="16.9" ry="4.9" fill="url(#s105)"/><ellipse cx="333.7" cy="1287.9" rx="15.3" ry="4.4" fill="#f00"/><ellipse cx="333.7" cy="1287.9" rx="15.3" ry="4.4" fill="url(#s105)"/><ellipse cx="333.7" cy="1288.1" rx="13.7" ry="3.9" fill="#f00"/><ellipse cx="333.7" cy="1288.1" rx="13.7" ry="3.9" fill="url(#s105)"/><ellipse cx="333.7" cy="1288.3" rx="12.1" ry="3.5" fill="#f00"/><ellipse cx="333.7" cy="1288.3" rx="12.1" ry="3.5" fill="url(#s105)"/><ellipse cx="333.7" cy="1288.5" rx="10.5" ry="3" fill="#f00"/><ellipse cx="333.7" cy="1288.5" rx="10.5" ry="3" fill="url(#s105)"/><ellipse cx="333.7" cy="1288.7" rx="8.9" ry="2.6" fill="#f00"/><ellipse cx="333.7" cy="1288.7" rx="8.9" ry="2.6" fill="url(#s104)"/><ellipse cx="333.7" cy="1288.9" rx="7.3" ry="2.1" fill="#f00"/><ellipse cx="333.7" cy="1288.9" rx="7.3" ry="2.1" fill="url(#s104)"/><ellipse cx="333.7" cy="1289" rx="5.7" ry="1.7" fill="#f00"/><ellipse cx="333.7" cy="1289" rx="5.7" ry="1.7" fill="url(#s103)"/><ellipse cx="333.7" cy="1289.2" rx="4.2" ry="1.2" fill="#f00"/><ellipse cx="333.7" cy="1289.2" rx="4.2" ry="1.2" fill="url(#s102)"/><ellipse cx="333.7" cy="1289.3" rx="2.6" ry="0.7" fill="#f00"/><ellipse cx="333.7" cy="1289.3" rx="2.6" ry="0.7" fill="url(#s102)"/><ellipse cx="333.7" cy="1289.3" rx="1" ry="0.3" fill="#f00"/><ellipse cx="333.7" cy="1289.3" rx="1" ry="0.3" fill="url(#s101)"/><ellipse cx="333.7" cy="1289.3" rx="0" ry="0" fill="#f00"/><ellipse cx="333.7" cy="1289.3" rx="0" ry="0" fill="url(#s100)"/></g></g></g><path d="M79.1 1137.4L95.4 1497.5M95.4 1497.5L357 1603.9M357 1603.9L567.4 1480.4M95.4 1497.5l-4.6 1.9M357 1603.9l-4.3 2.5M567.4 1480.4l4.8 1.5M91.5 1411.6l-4.7 1.7M284 1574.2l-4.4 2.4M521.4 1507.5l4.8 1.6M87.5 1323l-4.8 1.5M216.4 1546.7l-4.5 2.2M471.4 1536.8l4.7 1.7M83.4 1231.7l-4.8 1.2M153.7 1521.2l-4.6 2.1M416.8 1568.8l4.7 1.8M79.1 1137.4l-4.9 0.9M95.4 1497.5l-4.6 1.9M357 1603.9l4.6 1.9M544.9 1493.7l2.9 0.9M496.9 1521.8l2.8 1M444.7 1552.5l2.8 1M387.6 1586l2.8 1.1" stroke="#444" stroke-width="1.7" fill="none" stroke-linecap="square"/><g><text transform="matrix(0.2309 -0.04584 0.01478 0.3165 71.24 1150)" font-size="100" text-anchor="end" fill="#333" font-weight="normal">200</text><text transform="matrix(0.2266 -0.05852 0.01432 0.3066 75.65 1245)" font-size="100" text-anchor="end" fill="#333" font-weight="normal">100</text><text transform="matrix(0.2225 -0.0704 0.01388 0.2971 79.92 1336)" font-size="100" text-anchor="end" fill="#333" font-weight="normal">0</text><text transform="matrix(0.2185 -0.08153 0.01346 0.2881 84.06 1425)" font-size="100" text-anchor="end" fill="#333" font-weight="normal">-100</text><text transform="matrix(0.2147 -0.09196 0.01305 0.2795 88.07 1511)" font-size="100" text-anchor="end" fill="#333" font-weight="normal">-200</text><text transform="matrix(0.2059 -0.09423 0.1925 0.07923 151.5 1528)" font-size="100" text-anchor="end" fill="#333" font-weight="normal">100</text><text transform="matrix(0.2048 -0.1015 0.2073 0.08535 214.8 1554)" font-size="100" text-anchor="end" fill="#333" font-weight="normal">0</text><text transform="matrix(0.2029 -0.1096 0.224 0.09222 283 1582)" font-size="100" text-anchor="end" fill="#333" font-weight="normal">-100</text><text transform="matrix(0.2063 -0.08774 0.1791 0.07374 92.72 1504)" font-size="100" text-anchor="end" fill="#333" font-weight="normal">200</text><text transform="matrix(0.2325 0.07178 -0.1439 0.08533 569.7 1486)" font-size="100" text-anchor="start" fill="#333" font-weight="normal">-200</text><text transform="matrix(0.2369 0.07799 -0.1563 0.09265 523.4 1513)" font-size="100" text-anchor="start" fill="#333" font-weight="normal">-100</text><text transform="matrix(0.2412 0.08504 -0.1703 0.101 473 1543)" font-size="100" text-anchor="start" fill="#333" font-weight="normal">0</text><text transform="matrix(0.2453 0.09309 -0.1863 0.1104 418 1576)" font-size="100" text-anchor="start" fill="#333" font-weight="normal">100</text><text transform="matrix(0.2491 0.1023 -0.2046 0.1213 357.6 1612)" font-size="100" text-anchor="start" fill="#333" font-weight="normal">200</text></g><text x="81" y="1164.5" font-size="26.6" font-weight="bold">Bulk modulus</text><text x="444" y="1171" font-size="26.6" font-weight="bold">KNaTe</text><text x="2" y="1347" font-size="33.5" font-weight="bold">Bz</text><text x="158.5" y="1599" font-size="33.5" font-weight="bold">By</text><text x="506" y="1576.7" font-size="33.5" font-weight="bold">Bx</text><path d="M984.1 1427.1L982.3 1104.4M1031 1331.5L815.9 1413.8M933.6 1449.6L928.8 1114.2M1031.2 1254.8L812.9 1324.2M878.7 1474.1L870.4 1124.9M1031.4 1176.1L809.7 1231.9M1218.6 1458.5L1230.2 1119.9M1293.1 1394.6L1031 1331.5M1152.3 1440L1159.8 1111.2M1297.1 1308.7L1031.2 1254.8M1089.8 1422.7L1093.7 1103M1301.2 1220.3L1031.4 1176.1M1247.8 1504.9L984.1 1427.1M1218.6 1458.5L1020.2 1573.8M1202.4 1534.3L933.6 1449.6M1152.3 1440L948.3 1547.7M1152.7 1566.5L878.7 1474.1M1089.8 1422.7L881.4 1523.4" stroke="#dadada" stroke-width="1.3" fill="none"/><path d="M1030.9 1406.3L1031.6 1095.3M1030.9 1406.3L818.9 1500.7M818.9 1500.7L806.5 1136.6M1031.6 1095.3L806.5 1136.6M1289.2 1478.1L1305.4 1129.2M1289.2 1478.1L1030.9 1406.3M1305.4 1129.2L1031.6 1095.3M1289.2 1478.1L1030.9 1406.3M1289.2 1478.1L1097.7 1602M1097.7 1602L818.9 1500.7M1030.9 1406.3L818.9 1500.7" stroke="#b8b8b8" stroke-width="1.4" fill="none"/><clipPath id="kc12"><ellipse cx="1059.9" cy="1390.9" rx="9.6" ry="3.3"/><ellipse cx="1059.9" cy="1391.9" rx="14.4" ry="4.9"/><ellipse cx="1059.9" cy="1393.3" rx="19.2" ry="6.6"/><ellipse cx="1059.9" cy="1394.7" rx="24" ry="8.3"/><ellipse cx="1059.9" cy="1396.2" rx="28.8" ry="9.9"/><ellipse cx="1059.8" cy="1397.7" rx="33.5" ry="11.6"/><ellipse cx="1059.8" cy="1399.2" rx="38.3" ry="13.3"/><ellipse cx="1059.8" cy="1400.5" rx="43.1" ry="15"/><ellipse cx="1059.8" cy="1401.7" rx="47.9" ry="16.7"/><ellipse cx="1059.8" cy="1403.9" rx="77.5" ry="27.1"/><ellipse cx="1059.8" cy="1402.9" rx="82.3" ry="28.7"/><ellipse cx="1059.8" cy="1401.4" rx="87.1" ry="30.3"/><ellipse cx="1059.8" cy="1399.1" rx="92" ry="31.9"/><ellipse cx="1059.8" cy="1395.6" rx="97" ry="33.3"/><ellipse cx="1059.9" cy="1391" rx="101.3" ry="34.5"/><ellipse cx="1059.9" cy="1386.4" rx="104.4" ry="35.3"/><ellipse cx="1059.9" cy="1381.7" rx="106.6" ry="35.7"/><ellipse cx="1060" cy="1376.9" rx="108.2" ry="35.9"/><ellipse cx="1060" cy="1372.2" rx="109.2" ry="35.9"/><ellipse cx="1060" cy="1367.4" rx="109.8" ry="35.8"/><ellipse cx="1060.1" cy="1362.6" rx="110.2" ry="35.5"/><ellipse cx="1060.1" cy="1357.8" rx="110.3" ry="35.2"/><ellipse cx="1060.1" cy="1352.9" rx="110.2" ry="34.8"/><ellipse cx="1060.2" cy="1348" rx="110" ry="34.4"/><ellipse cx="1060.2" cy="1343.2" rx="109.7" ry="34"/><ellipse cx="1060.2" cy="1338.3" rx="109.4" ry="33.5"/><ellipse cx="1060.3" cy="1333.4" rx="109.1" ry="33.1"/><ellipse cx="1060.3" cy="1328.5" rx="108.9" ry="32.7"/><ellipse cx="1060.3" cy="1323.6" rx="108.8" ry="32.3"/><ellipse cx="1060.4" cy="1318.7" rx="108.8" ry="32"/><ellipse cx="1060.4" cy="1313.8" rx="109" ry="31.7"/><ellipse cx="1060.4" cy="1308.9" rx="109.3" ry="31.4"/><ellipse cx="1060.5" cy="1304" rx="109.6" ry="31.2"/><ellipse cx="1060.5" cy="1299.1" rx="110.1" ry="31"/><ellipse cx="1060.5" cy="1294.1" rx="110.6" ry="30.7"/><ellipse cx="1060.6" cy="1289.2" rx="111.1" ry="30.5"/><ellipse cx="1060.6" cy="1284.3" rx="111.5" ry="30.3"/><ellipse cx="1060.6" cy="1279.3" rx="111.7" ry="30"/><ellipse cx="1060.7" cy="1274.3" rx="111.8" ry="29.6"/><ellipse cx="1060.7" cy="1269.3" rx="111.6" ry="29.2"/><ellipse cx="1060.8" cy="1264.4" rx="111.2" ry="28.8"/><ellipse cx="1060.8" cy="1259.4" rx="110.3" ry="28.2"/><ellipse cx="1060.8" cy="1254.3" rx="108.9" ry="27.5"/><ellipse cx="1060.9" cy="1249.2" rx="107" ry="26.6"/><ellipse cx="1060.9" cy="1244.1" rx="104.5" ry="25.7"/><ellipse cx="1060.9" cy="1239" rx="101.2" ry="24.5"/><ellipse cx="1061" cy="1234" rx="96.7" ry="23.1"/><ellipse cx="1061" cy="1230.4" rx="91.8" ry="21.7"/><ellipse cx="1061" cy="1229.2" rx="86.7" ry="20.5"/><ellipse cx="1061" cy="1229.2" rx="86.5" ry="20.4"/></clipPath><g filter="url(#bl)"><g shape-rendering="crispEdges" clip-path="url(#kc12)"><ellipse cx="1059.9" cy="1390.9" rx="10.1" ry="3.8" fill="#00fcd5"/><ellipse cx="1059.9" cy="1390.9" rx="10.1" ry="3.8" fill="url(#s213)"/><ellipse cx="1059.9" cy="1391.2" rx="11.7" ry="4.3" fill="#00fcd9"/><ellipse cx="1059.9" cy="1391.2" rx="11.7" ry="4.3" fill="url(#s212)"/><ellipse cx="1059.9" cy="1391.6" rx="13.3" ry="4.9" fill="#00fbdd"/><ellipse cx="1059.9" cy="1391.6" rx="13.3" ry="4.9" fill="url(#s212)"/><ellipse cx="1059.9" cy="1391.9" rx="14.9" ry="5.4" fill="#00fbe2"/><ellipse cx="1059.9" cy="1391.9" rx="14.9" ry="5.4" fill="url(#s211)"/><ellipse cx="1059.9" cy="1392.4" rx="16.6" ry="6" fill="#00fbe7"/><ellipse cx="1059.9" cy="1392.4" rx="16.6" ry="6" fill="url(#s210)"/><ellipse cx="1059.9" cy="1392.8" rx="18.1" ry="6.6" fill="#00fbed"/><ellipse cx="1059.9" cy="1392.8" rx="18.1" ry="6.6" fill="url(#s210)"/><ellipse cx="1059.9" cy="1393.3" rx="19.7" ry="7.1" fill="#00faf2"/><ellipse cx="1059.9" cy="1393.3" rx="19.7" ry="7.1" fill="url(#s210)"/><ellipse cx="1059.9" cy="1393.7" rx="21.3" ry="7.7" fill="#00faf8"/><ellipse cx="1059.9" cy="1393.7" rx="21.3" ry="7.7" fill="url(#s209)"/><ellipse cx="1059.9" cy="1394.2" rx="22.9" ry="8.2" fill="#00f9fa"/><ellipse cx="1059.9" cy="1394.2" rx="22.9" ry="8.2" fill="url(#s209)"/><ellipse cx="1059.9" cy="1394.7" rx="24.5" ry="8.8" fill="#00f7fa"/><ellipse cx="1059.9" cy="1394.7" rx="24.5" ry="8.8" fill="url(#s209)"/><ellipse cx="1059.9" cy="1395.2" rx="26.1" ry="9.3" fill="#00f4fb"/><ellipse cx="1059.9" cy="1395.2" rx="26.1" ry="9.3" fill="url(#s209)"/><ellipse cx="1059.9" cy="1395.7" rx="27.7" ry="9.9" fill="#00f2fb"/><ellipse cx="1059.9" cy="1395.7" rx="27.7" ry="9.9" fill="url(#s209)"/><ellipse cx="1059.9" cy="1396.2" rx="29.3" ry="10.4" fill="#00f0fb"/><ellipse cx="1059.9" cy="1396.2" rx="29.3" ry="10.4" fill="url(#s209)"/><ellipse cx="1059.9" cy="1396.7" rx="30.8" ry="11" fill="#00eefc"/><ellipse cx="1059.9" cy="1396.7" rx="30.8" ry="11" fill="url(#s209)"/><ellipse cx="1059.8" cy="1397.2" rx="32.4" ry="11.5" fill="#00ecfc"/><ellipse cx="1059.8" cy="1397.2" rx="32.4" ry="11.5" fill="url(#s209)"/><ellipse cx="1059.8" cy="1397.7" rx="34" ry="12.1" fill="#00eafc"/><ellipse cx="1059.8" cy="1397.7" rx="34" ry="12.1" fill="url(#s209)"/><ellipse cx="1059.8" cy="1398.2" rx="35.6" ry="12.6" fill="#00e8fd"/><ellipse cx="1059.8" cy="1398.2" rx="35.6" ry="12.6" fill="url(#s209)"/><ellipse cx="1059.8" cy="1398.7" rx="37.2" ry="13.2" fill="#00e6fd"/><ellipse cx="1059.8" cy="1398.7" rx="37.2" ry="13.2" fill="url(#s210)"/><ellipse cx="1059.8" cy="1399.2" rx="38.8" ry="13.8" fill="#00e4fd"/><ellipse cx="1059.8" cy="1399.2" rx="38.8" ry="13.8" fill="url(#s210)"/><ellipse cx="1059.8" cy="1399.6" rx="40.4" ry="14.3" fill="#00e2fd"/><ellipse cx="1059.8" cy="1399.6" rx="40.4" ry="14.3" fill="url(#s210)"/><ellipse cx="1059.8" cy="1400.1" rx="42" ry="14.9" fill="#00e1fe"/><ellipse cx="1059.8" cy="1400.1" rx="42" ry="14.9" fill="url(#s211)"/><ellipse cx="1059.8" cy="1400.5" rx="43.6" ry="15.5" fill="#00dffe"/><ellipse cx="1059.8" cy="1400.5" rx="43.6" ry="15.5" fill="url(#s211)"/><ellipse cx="1059.8" cy="1400.9" rx="45.2" ry="16" fill="#00ddfe"/><ellipse cx="1059.8" cy="1400.9" rx="45.2" ry="16" fill="url(#s211)"/><ellipse cx="1059.8" cy="1401.3" rx="46.8" ry="16.6" fill="#00dcfe"/><ellipse cx="1059.8" cy="1401.3" rx="46.8" ry="16.6" fill="url(#s212)"/><ellipse cx="1059.8" cy="1401.7" rx="48.4" ry="17.2" fill="#00daff"/><ellipse cx="1059.8" cy="1401.7" rx="48.4" ry="17.2" fill="url(#s212)"/><ellipse cx="1059.8" cy="1402.1" rx="50" ry="17.8" fill="#00d9ff"/><ellipse cx="1059.8" cy="1402.1" rx="50" ry="17.8" fill="url(#s213)"/><ellipse cx="1059.8" cy="1402.4" rx="51.6" ry="18.3" fill="#00d7ff"/><ellipse cx="1059.8" cy="1402.4" rx="51.6" ry="18.3" fill="url(#s213)"/><ellipse cx="1059.8" cy="1403.9" rx="78" ry="27.6" fill="#00d1ff"/><ellipse cx="1059.8" cy="1403.9" rx="78" ry="27.6" fill="url(#s-13)" opacity=".20"/><ellipse cx="1059.8" cy="1403.9" rx="78" ry="27.6" fill="url(#r-13)"/><ellipse cx="1059.8" cy="1403.6" rx="79.6" ry="28.1" fill="#00d4ff"/><ellipse cx="1059.8" cy="1403.6" rx="79.6" ry="28.1" fill="url(#s-12)" opacity=".20"/><ellipse cx="1059.8" cy="1403.6" rx="79.6" ry="28.1" fill="url(#r-12)"/><ellipse cx="1059.8" cy="1403.3" rx="81.2" ry="28.7" fill="#00d7ff"/><ellipse cx="1059.8" cy="1403.3" rx="81.2" ry="28.7" fill="url(#s-11)" opacity=".20"/><ellipse cx="1059.8" cy="1403.3" rx="81.2" ry="28.7" fill="url(#r-11)"/><ellipse cx="1059.8" cy="1402.9" rx="82.8" ry="29.2" fill="#00d9ff"/><ellipse cx="1059.8" cy="1402.9" rx="82.8" ry="29.2" fill="url(#s-9)" opacity=".20"/><ellipse cx="1059.8" cy="1402.9" rx="82.8" ry="29.2" fill="url(#r-9)"/><ellipse cx="1059.8" cy="1402.5" rx="84.4" ry="29.7" fill="#00dbfe"/><ellipse cx="1059.8" cy="1402.5" rx="84.4" ry="29.7" fill="url(#s-8)" opacity=".20"/><ellipse cx="1059.8" cy="1402.5" rx="84.4" ry="29.7" fill="url(#r-8)"/><ellipse cx="1059.8" cy="1402" rx="86" ry="30.3" fill="#00defe"/><ellipse cx="1059.8" cy="1402" rx="86" ry="30.3" fill="url(#s-6)" opacity=".20"/><ellipse cx="1059.8" cy="1402" rx="86" ry="30.3" fill="url(#r-6)"/><ellipse cx="1059.8" cy="1401.4" rx="87.6" ry="30.8" fill="#00e1fe"/><ellipse cx="1059.8" cy="1401.4" rx="87.6" ry="30.8" fill="url(#s-5)" opacity=".20"/><ellipse cx="1059.8" cy="1401.4" rx="87.6" ry="30.8" fill="url(#r-5)"/><ellipse cx="1059.8" cy="1400.7" rx="89.2" ry="31.3" fill="#00e4fd"/><ellipse cx="1059.8" cy="1400.7" rx="89.2" ry="31.3" fill="url(#s-3)" opacity=".20"/><ellipse cx="1059.8" cy="1400.7" rx="89.2" ry="31.3" fill="url(#r-3)"/><ellipse cx="1059.8" cy="1399.9" rx="90.9" ry="31.8" fill="#00e7fd"/><ellipse cx="1059.8" cy="1399.9" rx="90.9" ry="31.8" fill="url(#s-1)" opacity=".20"/><ellipse cx="1059.8" cy="1399.9" rx="90.9" ry="31.8" fill="url(#r-1)"/><ellipse cx="1059.8" cy="1399.1" rx="92.5" ry="32.4" fill="#00ebfc"/><ellipse cx="1059.8" cy="1399.1" rx="92.5" ry="32.4" fill="url(#s1)" opacity=".20"/><ellipse cx="1059.8" cy="1399.1" rx="92.5" ry="32.4" fill="url(#r1)"/><ellipse cx="1059.8" cy="1398" rx="94.2" ry="32.9" fill="#00f0fb"/><ellipse cx="1059.8" cy="1398" rx="94.2" ry="32.9" fill="url(#s3)" opacity=".20"/><ellipse cx="1059.8" cy="1398" rx="94.2" ry="32.9" fill="url(#r3)"/><ellipse cx="1059.8" cy="1396.9" rx="95.8" ry="33.4" fill="#00f5fb"/><ellipse cx="1059.8" cy="1396.9" rx="95.8" ry="33.4" fill="url(#s5)" opacity=".20"/><ellipse cx="1059.8" cy="1396.9" rx="95.8" ry="33.4" fill="url(#r5)"/><ellipse cx="1059.8" cy="1395.6" rx="97.5" ry="33.8" fill="#00faf6"/><ellipse cx="1059.8" cy="1395.6" rx="97.5" ry="33.8" fill="url(#s8)" opacity=".20"/><ellipse cx="1059.8" cy="1395.6" rx="97.5" ry="33.8" fill="url(#r8)"/><ellipse cx="1059.8" cy="1394.1" rx="99.1" ry="34.3" fill="#00fbe2"/><ellipse cx="1059.8" cy="1394.1" rx="99.1" ry="34.3" fill="url(#s10)" opacity=".20"/><ellipse cx="1059.8" cy="1394.1" rx="99.1" ry="34.3" fill="url(#r10)"/><ellipse cx="1059.9" cy="1392.6" rx="100.5" ry="34.7" fill="#00fcce"/><ellipse cx="1059.9" cy="1392.6" rx="100.5" ry="34.7" fill="url(#s13)" opacity=".20"/><ellipse cx="1059.9" cy="1392.6" rx="100.5" ry="34.7" fill="url(#r13)"/><ellipse cx="1059.9" cy="1391" rx="101.8" ry="35" fill="#00fdba"/><ellipse cx="1059.9" cy="1391" rx="101.8" ry="35" fill="url(#s15)" opacity=".20"/><ellipse cx="1059.9" cy="1391" rx="101.8" ry="35" fill="url(#r15)" opacity=".90"/><ellipse cx="1059.9" cy="1389.5" rx="103" ry="35.3" fill="#00fea5"/><ellipse cx="1059.9" cy="1389.5" rx="103" ry="35.3" fill="url(#s17)" opacity=".23"/><ellipse cx="1059.9" cy="1389.5" rx="103" ry="35.3" fill="url(#r17)" opacity=".79"/><ellipse cx="1059.9" cy="1387.9" rx="104" ry="35.6" fill="#00ff91"/><ellipse cx="1059.9" cy="1387.9" rx="104" ry="35.6" fill="url(#s19)" opacity=".31"/><ellipse cx="1059.9" cy="1387.9" rx="104" ry="35.6" fill="url(#r19)" opacity=".69"/><ellipse cx="1059.9" cy="1386.4" rx="104.9" ry="35.8" fill="#03ff73"/><ellipse cx="1059.9" cy="1386.4" rx="104.9" ry="35.8" fill="url(#s21)" opacity=".39"/><ellipse cx="1059.9" cy="1386.4" rx="104.9" ry="35.8" fill="url(#r21)" opacity=".60"/><ellipse cx="1059.9" cy="1384.8" rx="105.7" ry="35.9" fill="#06ff52"/><ellipse cx="1059.9" cy="1384.8" rx="105.7" ry="35.9" fill="url(#s23)" opacity=".46"/><ellipse cx="1059.9" cy="1384.8" rx="105.7" ry="35.9" fill="url(#r23)" opacity=".51"/><ellipse cx="1059.9" cy="1383.2" rx="106.5" ry="36.1" fill="#0aff31"/><ellipse cx="1059.9" cy="1383.2" rx="106.5" ry="36.1" fill="url(#s25)" opacity=".53"/><ellipse cx="1059.9" cy="1383.2" rx="106.5" ry="36.1" fill="url(#r25)" opacity=".42"/><ellipse cx="1059.9" cy="1381.7" rx="107.1" ry="36.2" fill="#0dff10"/><ellipse cx="1059.9" cy="1381.7" rx="107.1" ry="36.2" fill="url(#s26)" opacity=".59"/><ellipse cx="1059.9" cy="1381.7" rx="107.1" ry="36.2" fill="url(#r26)" opacity=".34"/><ellipse cx="1059.9" cy="1380.1" rx="107.7" ry="36.3" fill="#13ff00"/><ellipse cx="1059.9" cy="1380.1" rx="107.7" ry="36.3" fill="url(#s28)" opacity=".65"/><ellipse cx="1059.9" cy="1380.1" rx="107.7" ry="36.3" fill="url(#r28)" opacity=".27"/><ellipse cx="1059.9" cy="1378.5" rx="108.2" ry="36.3" fill="#1bff00"/><ellipse cx="1059.9" cy="1378.5" rx="108.2" ry="36.3" fill="url(#s29)" opacity=".71"/><ellipse cx="1059.9" cy="1378.5" rx="108.2" ry="36.3" fill="url(#r29)" opacity=".20"/><ellipse cx="1060" cy="1376.9" rx="108.7" ry="36.4" fill="#2f0"/><ellipse cx="1060" cy="1376.9" rx="108.7" ry="36.4" fill="url(#s31)" opacity=".76"/><ellipse cx="1060" cy="1376.9" rx="108.7" ry="36.4" fill="url(#r31)" opacity=".13"/><ellipse cx="1060" cy="1375.3" rx="109" ry="36.4" fill="#2aff00"/><ellipse cx="1060" cy="1375.3" rx="109" ry="36.4" fill="url(#s32)" opacity=".81"/><ellipse cx="1060" cy="1375.3" rx="109" ry="36.4" fill="url(#r32)" opacity=".07"/><ellipse cx="1060" cy="1373.8" rx="109.4" ry="36.4" fill="#31ff00"/><ellipse cx="1060" cy="1373.8" rx="109.4" ry="36.4" fill="url(#s33)" opacity=".85"/><ellipse cx="1060" cy="1373.8" rx="109.4" ry="36.4" fill="url(#r33)" opacity=".02"/><ellipse cx="1060" cy="1372.2" rx="109.7" ry="36.4" fill="#38ff00"/><ellipse cx="1060" cy="1372.2" rx="109.7" ry="36.4" fill="url(#s34)" opacity=".89"/><ellipse cx="1060" cy="1370.6" rx="109.9" ry="36.3" fill="#40ff00"/><ellipse cx="1060" cy="1370.6" rx="109.9" ry="36.3" fill="url(#s35)" opacity=".93"/><ellipse cx="1060" cy="1369" rx="110.2" ry="36.3" fill="#47ff00"/><ellipse cx="1060" cy="1369" rx="110.2" ry="36.3" fill="url(#s36)" opacity=".97"/><ellipse cx="1060" cy="1367.4" rx="110.3" ry="36.3" fill="#4fff00"/><ellipse cx="1060" cy="1367.4" rx="110.3" ry="36.3" fill="url(#s37)"/><ellipse cx="1060" cy="1365.8" rx="110.5" ry="36.2" fill="#57ff00"/><ellipse cx="1060" cy="1365.8" rx="110.5" ry="36.2" fill="url(#s38)"/><ellipse cx="1060" cy="1364.2" rx="110.6" ry="36.1" fill="#5eff00"/><ellipse cx="1060" cy="1364.2" rx="110.6" ry="36.1" fill="url(#s38)"/><ellipse cx="1060.1" cy="1362.6" rx="110.7" ry="36" fill="#6f0"/><ellipse cx="1060.1" cy="1362.6" rx="110.7" ry="36" fill="url(#s39)"/><ellipse cx="1060.1" cy="1361" rx="110.7" ry="35.9" fill="#6dff00"/><ellipse cx="1060.1" cy="1361" rx="110.7" ry="35.9" fill="url(#s40)"/><ellipse cx="1060.1" cy="1359.4" rx="110.8" ry="35.8" fill="#75ff00"/><ellipse cx="1060.1" cy="1359.4" rx="110.8" ry="35.8" fill="url(#s40)"/><ellipse cx="1060.1" cy="1357.8" rx="110.8" ry="35.7" fill="#7cff00"/><ellipse cx="1060.1" cy="1357.8" rx="110.8" ry="35.7" fill="url(#s41)"/><ellipse cx="1060.1" cy="1356.2" rx="110.8" ry="35.6" fill="#84ff00"/><ellipse cx="1060.1" cy="1356.2" rx="110.8" ry="35.6" fill="url(#s41)"/><ellipse cx="1060.1" cy="1354.5" rx="110.8" ry="35.5" fill="#8bff00"/><ellipse cx="1060.1" cy="1354.5" rx="110.8" ry="35.5" fill="url(#s42)"/><ellipse cx="1060.1" cy="1352.9" rx="110.7" ry="35.3" fill="#93ff00"/><ellipse cx="1060.1" cy="1352.9" rx="110.7" ry="35.3" fill="url(#s42)"/><ellipse cx="1060.1" cy="1351.3" rx="110.7" ry="35.2" fill="#9bff00"/><ellipse cx="1060.1" cy="1351.3" rx="110.7" ry="35.2" fill="url(#s42)"/><ellipse cx="1060.2" cy="1349.7" rx="110.6" ry="35.1" fill="#a2ff00"/><ellipse cx="1060.2" cy="1349.7" rx="110.6" ry="35.1" fill="url(#s43)"/><ellipse cx="1060.2" cy="1348" rx="110.5" ry="34.9" fill="#af0"/><ellipse cx="1060.2" cy="1348" rx="110.5" ry="34.9" fill="url(#s43)"/><ellipse cx="1060.2" cy="1346.4" rx="110.4" ry="34.8" fill="#b1ff00"/><ellipse cx="1060.2" cy="1346.4" rx="110.4" ry="34.8" fill="url(#s43)"/><ellipse cx="1060.2" cy="1344.8" rx="110.3" ry="34.6" fill="#b7ff00"/><ellipse cx="1060.2" cy="1344.8" rx="110.3" ry="34.6" fill="url(#s43)"/><ellipse cx="1060.2" cy="1343.2" rx="110.2" ry="34.5" fill="#bbfe00"/><ellipse cx="1060.2" cy="1343.2" rx="110.2" ry="34.5" fill="url(#s43)"/><ellipse cx="1060.2" cy="1341.6" rx="110.1" ry="34.3" fill="#c0fe00"/><ellipse cx="1060.2" cy="1341.6" rx="110.1" ry="34.3" fill="url(#s43)"/><ellipse cx="1060.2" cy="1339.9" rx="110" ry="34.2" fill="#c4fe00"/><ellipse cx="1060.2" cy="1339.9" rx="110" ry="34.2" fill="url(#s43)"/><ellipse cx="1060.2" cy="1338.3" rx="109.9" ry="34" fill="#c9fe00"/><ellipse cx="1060.2" cy="1338.3" rx="109.9" ry="34" fill="url(#s43)"/><ellipse cx="1060.2" cy="1336.7" rx="109.8" ry="33.9" fill="#cdfd00"/><ellipse cx="1060.2" cy="1336.7" rx="109.8" ry="33.9" fill="url(#s43)"/><ellipse cx="1060.3" cy="1335" rx="109.7" ry="33.8" fill="#d2fd00"/><ellipse cx="1060.3" cy="1335" rx="109.7" ry="33.8" fill="url(#s43)"/><ellipse cx="1060.3" cy="1333.4" rx="109.6" ry="33.6" fill="#d7fd00"/><ellipse cx="1060.3" cy="1333.4" rx="109.6" ry="33.6" fill="url(#s43)"/><ellipse cx="1060.3" cy="1331.8" rx="109.6" ry="33.5" fill="#dbfc00"/><ellipse cx="1060.3" cy="1331.8" rx="109.6" ry="33.5" fill="url(#s43)"/><ellipse cx="1060.3" cy="1330.2" rx="109.5" ry="33.3" fill="#e0fc00"/><ellipse cx="1060.3" cy="1330.2" rx="109.5" ry="33.3" fill="url(#s42)"/><ellipse cx="1060.3" cy="1328.5" rx="109.4" ry="33.2" fill="#e4fc00"/><ellipse cx="1060.3" cy="1328.5" rx="109.4" ry="33.2" fill="url(#s42)"/><ellipse cx="1060.3" cy="1326.9" rx="109.4" ry="33.1" fill="#e9fb00"/><ellipse cx="1060.3" cy="1326.9" rx="109.4" ry="33.1" fill="url(#s42)"/><ellipse cx="1060.3" cy="1325.3" rx="109.3" ry="32.9" fill="#edfb00"/><ellipse cx="1060.3" cy="1325.3" rx="109.3" ry="32.9" fill="url(#s41)"/><ellipse cx="1060.3" cy="1323.6" rx="109.3" ry="32.8" fill="#f2fb00"/><ellipse cx="1060.3" cy="1323.6" rx="109.3" ry="32.8" fill="url(#s41)"/><ellipse cx="1060.3" cy="1322" rx="109.3" ry="32.7" fill="#f6fa00"/><ellipse cx="1060.3" cy="1322" rx="109.3" ry="32.7" fill="url(#s41)"/><ellipse cx="1060.4" cy="1320.3" rx="109.3" ry="32.6" fill="#faf900"/><ellipse cx="1060.4" cy="1320.3" rx="109.3" ry="32.6" fill="url(#s40)"/><ellipse cx="1060.4" cy="1318.7" rx="109.3" ry="32.5" fill="#faf200"/><ellipse cx="1060.4" cy="1318.7" rx="109.3" ry="32.5" fill="url(#s40)"/><ellipse cx="1060.4" cy="1317.1" rx="109.4" ry="32.4" fill="#fbeb00"/><ellipse cx="1060.4" cy="1317.1" rx="109.4" ry="32.4" fill="url(#s40)"/><ellipse cx="1060.4" cy="1315.4" rx="109.4" ry="32.3" fill="#fbe400"/><ellipse cx="1060.4" cy="1315.4" rx="109.4" ry="32.3" fill="url(#s39)"/><ellipse cx="1060.4" cy="1313.8" rx="109.5" ry="32.2" fill="#fbdd00"/><ellipse cx="1060.4" cy="1313.8" rx="109.5" ry="32.2" fill="url(#s39)"/><ellipse cx="1060.4" cy="1312.2" rx="109.6" ry="32.1" fill="#fbd600"/><ellipse cx="1060.4" cy="1312.2" rx="109.6" ry="32.1" fill="url(#s39)"/><ellipse cx="1060.4" cy="1310.5" rx="109.7" ry="32" fill="#fccf00"/><ellipse cx="1060.4" cy="1310.5" rx="109.7" ry="32" fill="url(#s38)"/><ellipse cx="1060.4" cy="1308.9" rx="109.8" ry="31.9" fill="#fcc700"/><ellipse cx="1060.4" cy="1308.9" rx="109.8" ry="31.9" fill="url(#s38)"/><ellipse cx="1060.5" cy="1307.2" rx="109.9" ry="31.8" fill="#fcc000"/><ellipse cx="1060.5" cy="1307.2" rx="109.9" ry="31.8" fill="url(#s38)"/><ellipse cx="1060.5" cy="1305.6" rx="110" ry="31.8" fill="#fdb900"/><ellipse cx="1060.5" cy="1305.6" rx="110" ry="31.8" fill="url(#s37)"/><ellipse cx="1060.5" cy="1304" rx="110.1" ry="31.7" fill="#fdb200"/><ellipse cx="1060.5" cy="1304" rx="110.1" ry="31.7" fill="url(#s37)"/><ellipse cx="1060.5" cy="1302.3" rx="110.3" ry="31.6" fill="#fdab00"/><ellipse cx="1060.5" cy="1302.3" rx="110.3" ry="31.6" fill="url(#s37)"/><ellipse cx="1060.5" cy="1300.7" rx="110.4" ry="31.5" fill="#fea400"/><ellipse cx="1060.5" cy="1300.7" rx="110.4" ry="31.5" fill="url(#s37)"/><ellipse cx="1060.5" cy="1299.1" rx="110.6" ry="31.5" fill="#fe9d00"/><ellipse cx="1060.5" cy="1299.1" rx="110.6" ry="31.5" fill="url(#s37)"/><ellipse cx="1060.5" cy="1297.4" rx="110.8" ry="31.4" fill="#fe9600"/><ellipse cx="1060.5" cy="1297.4" rx="110.8" ry="31.4" fill="url(#s37)"/><ellipse cx="1060.5" cy="1295.8" rx="110.9" ry="31.3" fill="#fe8f00"/><ellipse cx="1060.5" cy="1295.8" rx="110.9" ry="31.3" fill="url(#s37)"/><ellipse cx="1060.5" cy="1294.1" rx="111.1" ry="31.2" fill="#f80"/><ellipse cx="1060.5" cy="1294.1" rx="111.1" ry="31.2" fill="url(#s37)"/><ellipse cx="1060.6" cy="1292.5" rx="111.3" ry="31.2" fill="#ff8100"/><ellipse cx="1060.6" cy="1292.5" rx="111.3" ry="31.2" fill="url(#s37)"/><ellipse cx="1060.6" cy="1290.9" rx="111.4" ry="31.1" fill="#ff7a00"/><ellipse cx="1060.6" cy="1290.9" rx="111.4" ry="31.1" fill="url(#s37)"/><ellipse cx="1060.6" cy="1289.2" rx="111.6" ry="31" fill="#ff7200"/><ellipse cx="1060.6" cy="1289.2" rx="111.6" ry="31" fill="url(#s37)"/><ellipse cx="1060.6" cy="1287.6" rx="111.7" ry="30.9" fill="#ff6a00"/><ellipse cx="1060.6" cy="1287.6" rx="111.7" ry="30.9" fill="url(#s37)"/><ellipse cx="1060.6" cy="1285.9" rx="111.8" ry="30.9" fill="#ff6200"/><ellipse cx="1060.6" cy="1285.9" rx="111.8" ry="30.9" fill="url(#s38)"/><ellipse cx="1060.6" cy="1284.3" rx="112" ry="30.8" fill="#ff5a00"/><ellipse cx="1060.6" cy="1284.3" rx="112" ry="30.8" fill="url(#s38)"/><ellipse cx="1060.6" cy="1282.6" rx="112.1" ry="30.7" fill="#ff5200"/><ellipse cx="1060.6" cy="1282.6" rx="112.1" ry="30.7" fill="url(#s38)"/><ellipse cx="1060.6" cy="1281" rx="112.2" ry="30.6" fill="#ff4a00"/><ellipse cx="1060.6" cy="1281" rx="112.2" ry="30.6" fill="url(#s39)"/><ellipse cx="1060.6" cy="1279.3" rx="112.2" ry="30.5" fill="#ff4200"/><ellipse cx="1060.6" cy="1279.3" rx="112.2" ry="30.5" fill="url(#s39)"/><ellipse cx="1060.7" cy="1277.7" rx="112.3" ry="30.4" fill="#ff3b00"/><ellipse cx="1060.7" cy="1277.7" rx="112.3" ry="30.4" fill="url(#s40)"/><ellipse cx="1060.7" cy="1276" rx="112.3" ry="30.3" fill="#f30"/><ellipse cx="1060.7" cy="1276" rx="112.3" ry="30.3" fill="url(#s40)"/><ellipse cx="1060.7" cy="1274.3" rx="112.3" ry="30.1" fill="#ff2e00"/><ellipse cx="1060.7" cy="1274.3" rx="112.3" ry="30.1" fill="url(#s41)"/><ellipse cx="1060.7" cy="1272.7" rx="112.3" ry="30" fill="#ff2900"/><ellipse cx="1060.7" cy="1272.7" rx="112.3" ry="30" fill="url(#s42)"/><ellipse cx="1060.7" cy="1271" rx="112.2" ry="29.9" fill="#ff2400"/><ellipse cx="1060.7" cy="1271" rx="112.2" ry="29.9" fill="url(#s42)"/><ellipse cx="1060.7" cy="1269.3" rx="112.1" ry="29.7" fill="#ff1f00"/><ellipse cx="1060.7" cy="1269.3" rx="112.1" ry="29.7" fill="url(#s43)"/><ellipse cx="1060.7" cy="1267.7" rx="112" ry="29.6" fill="#ff1b00"/><ellipse cx="1060.7" cy="1267.7" rx="112" ry="29.6" fill="url(#s44)"/><ellipse cx="1060.7" cy="1266" rx="111.9" ry="29.4" fill="#ff1600"/><ellipse cx="1060.7" cy="1266" rx="111.9" ry="29.4" fill="url(#s45)"/><ellipse cx="1060.8" cy="1264.4" rx="111.7" ry="29.3" fill="#f10"/><ellipse cx="1060.8" cy="1264.4" rx="111.7" ry="29.3" fill="url(#s46)"/><ellipse cx="1060.8" cy="1262.7" rx="111.4" ry="29.1" fill="#ff0d00"/><ellipse cx="1060.8" cy="1262.7" rx="111.4" ry="29.1" fill="url(#s47)"/><ellipse cx="1060.8" cy="1261.1" rx="111.1" ry="28.9" fill="#ff0c00"/><ellipse cx="1060.8" cy="1261.1" rx="111.1" ry="28.9" fill="url(#s48)"/><ellipse cx="1060.8" cy="1259.4" rx="110.8" ry="28.7" fill="#ff0a00"/><ellipse cx="1060.8" cy="1259.4" rx="110.8" ry="28.7" fill="url(#s49)"/><ellipse cx="1060.8" cy="1257.7" rx="110.4" ry="28.4" fill="#ff0900"/><ellipse cx="1060.8" cy="1257.7" rx="110.4" ry="28.4" fill="url(#s50)"/><ellipse cx="1060.8" cy="1256" rx="109.9" ry="28.2" fill="#ff0700"/><ellipse cx="1060.8" cy="1256" rx="109.9" ry="28.2" fill="url(#s52)"/><ellipse cx="1060.8" cy="1254.3" rx="109.4" ry="28" fill="#ff0600"/><ellipse cx="1060.8" cy="1254.3" rx="109.4" ry="28" fill="url(#s53)"/><ellipse cx="1060.8" cy="1252.6" rx="108.9" ry="27.7" fill="#ff0400"/><ellipse cx="1060.8" cy="1252.6" rx="108.9" ry="27.7" fill="url(#s54)"/><ellipse cx="1060.9" cy="1250.9" rx="108.2" ry="27.4" fill="#ff0200"/><ellipse cx="1060.9" cy="1250.9" rx="108.2" ry="27.4" fill="url(#s56)"/><ellipse cx="1060.9" cy="1249.2" rx="107.5" ry="27.1" fill="#ff0100"/><ellipse cx="1060.9" cy="1249.2" rx="107.5" ry="27.1" fill="url(#s57)"/><ellipse cx="1060.9" cy="1247.5" rx="106.8" ry="26.8" fill="#f00"/><ellipse cx="1060.9" cy="1247.5" rx="106.8" ry="26.8" fill="url(#s58)"/><ellipse cx="1060.9" cy="1245.8" rx="105.9" ry="26.5" fill="#f00"/><ellipse cx="1060.9" cy="1245.8" rx="105.9" ry="26.5" fill="url(#s60)"/><ellipse cx="1060.9" cy="1244.1" rx="105" ry="26.2" fill="#f00"/><ellipse cx="1060.9" cy="1244.1" rx="105" ry="26.2" fill="url(#s61)"/><ellipse cx="1060.9" cy="1242.4" rx="104" ry="25.8" fill="#f00"/><ellipse cx="1060.9" cy="1242.4" rx="104" ry="25.8" fill="url(#s63)"/><ellipse cx="1060.9" cy="1240.7" rx="102.9" ry="25.4" fill="#f00"/><ellipse cx="1060.9" cy="1240.7" rx="102.9" ry="25.4" fill="url(#s64)"/><ellipse cx="1060.9" cy="1239" rx="101.7" ry="25" fill="#f00"/><ellipse cx="1060.9" cy="1239" rx="101.7" ry="25" fill="url(#s66)"/><ellipse cx="1061" cy="1237.3" rx="100.3" ry="24.6" fill="#f00"/><ellipse cx="1061" cy="1237.3" rx="100.3" ry="24.6" fill="url(#s68)"/><ellipse cx="1061" cy="1235.6" rx="98.9" ry="24.1" fill="#f00"/><ellipse cx="1061" cy="1235.6" rx="98.9" ry="24.1" fill="url(#s70)"/><ellipse cx="1061" cy="1234" rx="97.2" ry="23.6" fill="#f00"/><ellipse cx="1061" cy="1234" rx="97.2" ry="23.6" fill="url(#s73)"/><ellipse cx="1061" cy="1232.6" rx="95.6" ry="23.1" fill="#f00"/><ellipse cx="1061" cy="1232.6" rx="95.6" ry="23.1" fill="url(#s76)"/><ellipse cx="1061" cy="1231.4" rx="93.9" ry="22.7" fill="#f00"/><ellipse cx="1061" cy="1231.4" rx="93.9" ry="22.7" fill="url(#s80)"/><ellipse cx="1061" cy="1230.4" rx="92.3" ry="22.2" fill="#f00"/><ellipse cx="1061" cy="1230.4" rx="92.3" ry="22.2" fill="url(#s84)"/><ellipse cx="1061" cy="1229.8" rx="90.6" ry="21.8" fill="#f00"/><ellipse cx="1061" cy="1229.8" rx="90.6" ry="21.8" fill="url(#s90)"/><ellipse cx="1061" cy="1229.3" rx="88.9" ry="21.4" fill="#f00"/><ellipse cx="1061" cy="1229.3" rx="88.9" ry="21.4" fill="url(#s95)"/><ellipse cx="1061" cy="1229.2" rx="87.2" ry="21" fill="#f00"/><ellipse cx="1061" cy="1229.2" rx="87.2" ry="21" fill="url(#s100)"/><ellipse cx="1061" cy="1229.2" rx="87" ry="20.9" fill="#f00"/><ellipse cx="1061" cy="1229.2" rx="87" ry="20.9" fill="url(#s100)"/><clipPath id="c12"><ellipse cx="1061" cy="1229.2" rx="86.5" ry="20.4"/></clipPath><g clip-path="url(#c12)"><ellipse cx="1061" cy="1229.2" rx="84.9" ry="20" fill="#f00"/><ellipse cx="1061" cy="1229.2" rx="84.9" ry="20" fill="url(#s102)"/><ellipse cx="1061" cy="1229.3" rx="83.2" ry="19.6" fill="#f00"/><ellipse cx="1061" cy="1229.3" rx="83.2" ry="19.6" fill="url(#s104)"/><ellipse cx="1061" cy="1229.4" rx="81.5" ry="19.3" fill="#f00"/><ellipse cx="1061" cy="1229.4" rx="81.5" ry="19.3" fill="url(#s106)"/><ellipse cx="1061" cy="1229.7" rx="79.8" ry="18.9" fill="#f00"/><ellipse cx="1061" cy="1229.7" rx="79.8" ry="18.9" fill="url(#s107)"/><ellipse cx="1061" cy="1230" rx="78.2" ry="18.5" fill="#f00"/><ellipse cx="1061" cy="1230" rx="78.2" ry="18.5" fill="url(#s109)"/><ellipse cx="1061" cy="1230.4" rx="76.5" ry="18.1" fill="#f00"/><ellipse cx="1061" cy="1230.4" rx="76.5" ry="18.1" fill="url(#s110)"/><ellipse cx="1061" cy="1230.9" rx="74.9" ry="17.8" fill="#f00"/><ellipse cx="1061" cy="1230.9" rx="74.9" ry="17.8" fill="url(#s111)"/><ellipse cx="1061" cy="1231.4" rx="73.2" ry="17.4" fill="#f00"/><ellipse cx="1061" cy="1231.4" rx="73.2" ry="17.4" fill="url(#s112)"/><ellipse cx="1061" cy="1231.9" rx="71.6" ry="17" fill="#f00"/><ellipse cx="1061" cy="1231.9" rx="71.6" ry="17" fill="url(#s113)"/><ellipse cx="1061" cy="1232.5" rx="69.9" ry="16.7" fill="#f00"/><ellipse cx="1061" cy="1232.5" rx="69.9" ry="16.7" fill="url(#s114)"/><ellipse cx="1061" cy="1233.1" rx="68.2" ry="16.3" fill="#f00"/><ellipse cx="1061" cy="1233.1" rx="68.2" ry="16.3" fill="url(#s114)"/><ellipse cx="1061" cy="1233.8" rx="66.5" ry="15.9" fill="#f00"/><ellipse cx="1061" cy="1233.8" rx="66.5" ry="15.9" fill="url(#s115)"/><ellipse cx="1061" cy="1234.5" rx="64.9" ry="15.5" fill="#f00"/><ellipse cx="1061" cy="1234.5" rx="64.9" ry="15.5" fill="url(#s115)"/><ellipse cx="1061" cy="1235.2" rx="63.2" ry="15.2" fill="#f00"/><ellipse cx="1061" cy="1235.2" rx="63.2" ry="15.2" fill="url(#s116)"/><ellipse cx="1061" cy="1235.9" rx="61.6" ry="14.8" fill="#f00"/><ellipse cx="1061" cy="1235.9" rx="61.6" ry="14.8" fill="url(#s116)"/><ellipse cx="1061" cy="1236.7" rx="59.9" ry="14.4" fill="#f00"/><ellipse cx="1061" cy="1236.7" rx="59.9" ry="14.4" fill="url(#s117)"/><ellipse cx="1061" cy="1237.4" rx="58.3" ry="14.1" fill="#f00"/><ellipse cx="1061" cy="1237.4" rx="58.3" ry="14.1" fill="url(#s117)"/><ellipse cx="1061" cy="1238.2" rx="56.7" ry="13.7" fill="#f00"/><ellipse cx="1061" cy="1238.2" rx="56.7" ry="13.7" fill="url(#s117)"/><ellipse cx="1061" cy="1239" rx="55.1" ry="13.4" fill="#f00"/><ellipse cx="1061" cy="1239" rx="55.1" ry="13.4" fill="url(#s118)"/><ellipse cx="1061" cy="1239.9" rx="53.4" ry="13" fill="#f00"/><ellipse cx="1061" cy="1239.9" rx="53.4" ry="13" fill="url(#s118)"/><ellipse cx="1061" cy="1240.8" rx="51.7" ry="12.6" fill="#f00"/><ellipse cx="1061" cy="1240.8" rx="51.7" ry="12.6" fill="url(#s118)"/><ellipse cx="1060.9" cy="1241.7" rx="50" ry="12.2" fill="#f00"/><ellipse cx="1060.9" cy="1241.7" rx="50" ry="12.2" fill="url(#s119)"/><ellipse cx="1060.9" cy="1242.6" rx="48.3" ry="11.8" fill="#f00"/><ellipse cx="1060.9" cy="1242.6" rx="48.3" ry="11.8" fill="url(#s119)"/><ellipse cx="1060.9" cy="1243.5" rx="46.6" ry="11.5" fill="#f00"/><ellipse cx="1060.9" cy="1243.5" rx="46.6" ry="11.5" fill="url(#s119)"/><ellipse cx="1060.9" cy="1244.4" rx="45" ry="11.1" fill="#f00"/><ellipse cx="1060.9" cy="1244.4" rx="45" ry="11.1" fill="url(#s119)"/><ellipse cx="1060.9" cy="1245.3" rx="43.3" ry="10.7" fill="#f00"/><ellipse cx="1060.9" cy="1245.3" rx="43.3" ry="10.7" fill="url(#s119)"/><ellipse cx="1060.9" cy="1246.2" rx="41.7" ry="10.3" fill="#f00"/><ellipse cx="1060.9" cy="1246.2" rx="41.7" ry="10.3" fill="url(#s119)"/><ellipse cx="1060.9" cy="1247.2" rx="40" ry="9.9" fill="#f00"/><ellipse cx="1060.9" cy="1247.2" rx="40" ry="9.9" fill="url(#s119)"/><ellipse cx="1060.9" cy="1248.1" rx="38.4" ry="9.5" fill="#ff0100"/><ellipse cx="1060.9" cy="1248.1" rx="38.4" ry="9.5" fill="url(#s120)"/><ellipse cx="1060.9" cy="1249" rx="36.7" ry="9.1" fill="#ff0200"/><ellipse cx="1060.9" cy="1249" rx="36.7" ry="9.1" fill="url(#s120)"/><ellipse cx="1060.9" cy="1250" rx="35.1" ry="8.8" fill="#ff0300"/><ellipse cx="1060.9" cy="1250" rx="35.1" ry="8.8" fill="url(#s120)"/><ellipse cx="1060.9" cy="1251" rx="33.4" ry="8.4" fill="#ff0400"/><ellipse cx="1060.9" cy="1251" rx="33.4" ry="8.4" fill="url(#s120)"/><ellipse cx="1060.9" cy="1251.9" rx="31.8" ry="8" fill="#ff0500"/><ellipse cx="1060.9" cy="1251.9" rx="31.8" ry="8" fill="url(#s120)"/><ellipse cx="1060.9" cy="1252.9" rx="30.2" ry="7.6" fill="#ff0600"/><ellipse cx="1060.9" cy="1252.9" rx="30.2" ry="7.6" fill="url(#s120)"/><ellipse cx="1060.9" cy="1253.8" rx="28.5" ry="7.2" fill="#ff0700"/><ellipse cx="1060.9" cy="1253.8" rx="28.5" ry="7.2" fill="url(#s120)"/><ellipse cx="1060.9" cy="1254.8" rx="26.9" ry="6.8" fill="#ff0800"/><ellipse cx="1060.9" cy="1254.8" rx="26.9" ry="6.8" fill="url(#s120)"/><ellipse cx="1060.9" cy="1255.8" rx="25.3" ry="6.4" fill="#ff0900"/><ellipse cx="1060.9" cy="1255.8" rx="25.3" ry="6.4" fill="url(#s120)"/><ellipse cx="1060.8" cy="1256.8" rx="23.6" ry="6" fill="#ff0a00"/><ellipse cx="1060.8" cy="1256.8" rx="23.6" ry="6" fill="url(#s120)"/><ellipse cx="1060.8" cy="1257.7" rx="22" ry="5.6" fill="#ff0b00"/><ellipse cx="1060.8" cy="1257.7" rx="22" ry="5.6" fill="url(#s120)"/><ellipse cx="1060.8" cy="1258.7" rx="20.4" ry="5.2" fill="#ff0b00"/><ellipse cx="1060.8" cy="1258.7" rx="20.4" ry="5.2" fill="url(#s120)"/><ellipse cx="1060.8" cy="1259.7" rx="18.8" ry="4.8" fill="#ff0c00"/><ellipse cx="1060.8" cy="1259.7" rx="18.8" ry="4.8" fill="url(#s120)"/><ellipse cx="1060.8" cy="1260.6" rx="17.1" ry="4.4" fill="#ff0d00"/><ellipse cx="1060.8" cy="1260.6" rx="17.1" ry="4.4" fill="url(#s120)"/><ellipse cx="1060.8" cy="1261.6" rx="15.5" ry="4" fill="#ff0f00"/><ellipse cx="1060.8" cy="1261.6" rx="15.5" ry="4" fill="url(#s120)"/><ellipse cx="1060.8" cy="1262.5" rx="13.9" ry="3.6" fill="#f10"/><ellipse cx="1060.8" cy="1262.5" rx="13.9" ry="3.6" fill="url(#s119)"/><ellipse cx="1060.8" cy="1263.4" rx="12.3" ry="3.2" fill="#ff1400"/><ellipse cx="1060.8" cy="1263.4" rx="12.3" ry="3.2" fill="url(#s119)"/><ellipse cx="1060.8" cy="1264.3" rx="10.7" ry="2.8" fill="#ff1700"/><ellipse cx="1060.8" cy="1264.3" rx="10.7" ry="2.8" fill="url(#s118)"/><ellipse cx="1060.8" cy="1265.1" rx="9" ry="2.3" fill="#ff1900"/><ellipse cx="1060.8" cy="1265.1" rx="9" ry="2.3" fill="url(#s116)"/><ellipse cx="1060.8" cy="1265.8" rx="7.4" ry="1.9" fill="#ff1b00"/><ellipse cx="1060.8" cy="1265.8" rx="7.4" ry="1.9" fill="url(#s115)"/><ellipse cx="1060.8" cy="1266.4" rx="5.8" ry="1.5" fill="#ff1d00"/><ellipse cx="1060.8" cy="1266.4" rx="5.8" ry="1.5" fill="url(#s112)"/><ellipse cx="1060.8" cy="1266.9" rx="4.2" ry="1.1" fill="#ff1f00"/><ellipse cx="1060.8" cy="1266.9" rx="4.2" ry="1.1" fill="url(#s109)"/><ellipse cx="1060.8" cy="1267.3" rx="2.6" ry="0.7" fill="#ff2000"/><ellipse cx="1060.8" cy="1267.3" rx="2.6" ry="0.7" fill="url(#s106)"/><ellipse cx="1060.8" cy="1267.4" rx="1" ry="0.3" fill="#ff2000"/><ellipse cx="1060.8" cy="1267.4" rx="1" ry="0.3" fill="url(#s102)"/><ellipse cx="1060.8" cy="1267.5" rx="0.1" ry="0" fill="#ff2000"/><ellipse cx="1060.8" cy="1267.5" rx="0.1" ry="0" fill="url(#s100)"/></g></g></g><path d="M806.5 1136.6L818.9 1500.7M818.9 1500.7L1097.7 1602M1097.7 1602L1289.2 1478.1M818.9 1500.7l-4.6 2M1097.7 1602l-4.2 2.7M1289.2 1478.1l4.8 1.3M815.9 1413.8l-4.7 1.8M1020.2 1573.8l-4.3 2.5M1247.8 1504.9l4.8 1.4M812.9 1324.2l-4.8 1.5M948.3 1547.7l-4.4 2.3M1202.4 1534.3l4.8 1.5M809.7 1231.9l-4.8 1.2M881.4 1523.4l-4.5 2.2M1152.7 1566.5l4.7 1.6M806.5 1136.6l-4.9 0.9M818.9 1500.7l-4.6 2M1097.7 1602l4.7 1.7M1268.9 1491.2l2.9 0.8M1225.6 1519.3l2.9 0.9M1178.1 1550l2.9 0.9M1125.9 1583.8l2.8 1" stroke="#444" stroke-width="1.7" fill="none" stroke-linecap="square"/><g><text transform="matrix(0.2228 -0.04271 0.01134 0.3198 798.8 1150)" font-size="100" text-anchor="end" fill="#333" font-weight="normal">20</text><text transform="matrix(0.2188 -0.05679 0.01099 0.31 802.2 1245)" font-size="100" text-anchor="end" fill="#333" font-weight="normal">10</text><text transform="matrix(0.215 -0.07001 0.01066 0.3006 805.5 1338)" font-size="100" text-anchor="end" fill="#333" font-weight="normal">0</text><text transform="matrix(0.2113 -0.08241 0.01034 0.2917 808.7 1427)" font-size="100" text-anchor="end" fill="#333" font-weight="normal">-10</text><text transform="matrix(0.2077 -0.09406 0.01004 0.2831 811.7 1514)" font-size="100" text-anchor="end" fill="#333" font-weight="normal">-20</text><text transform="matrix(0.1971 -0.09619 0.2061 0.07567 880.1 1530)" font-size="100" text-anchor="end" fill="#333" font-weight="normal">10</text><text transform="matrix(0.194 -0.1035 0.2213 0.08126 947.7 1555)" font-size="100" text-anchor="end" fill="#333" font-weight="normal">0</text><text transform="matrix(0.1897 -0.1116 0.2383 0.0875 1020 1582)" font-size="100" text-anchor="end" fill="#333" font-weight="normal">-10</text><text transform="matrix(0.1995 -0.08964 0.1924 0.07063 817 1507)" font-size="100" text-anchor="end" fill="#333" font-weight="normal">20</text><text transform="matrix(0.2386 0.0668 -0.1291 0.08451 1292 1483)" font-size="100" text-anchor="start" fill="#333" font-weight="normal">-20</text><text transform="matrix(0.2447 0.0728 -0.141 0.09229 1251 1511)" font-size="100" text-anchor="start" fill="#333" font-weight="normal">-10</text><text transform="matrix(0.2511 0.07966 -0.1546 0.1012 1205 1540)" font-size="100" text-anchor="start" fill="#333" font-weight="normal">0</text><text transform="matrix(0.2575 0.08756 -0.1703 0.1115 1155 1573)" font-size="100" text-anchor="start" fill="#333" font-weight="normal">10</text><text transform="matrix(0.2639 0.09671 -0.1885 0.1234 1099 1609)" font-size="100" text-anchor="start" fill="#333" font-weight="normal">20</text></g><text x="808" y="1164.5" font-size="26.6" font-weight="bold">Shear modulus</text><text x="1171" y="1171" font-size="26.6" font-weight="bold">KNaTe</text><text x="729" y="1347" font-size="33.5" font-weight="bold">Gz</text><text x="885.5" y="1599" font-size="33.5" font-weight="bold">Gy</text><text x="1233" y="1576.7" font-size="33.5" font-weight="bold">Gx</text><path d="M1722.3 1434L1718.5 1108.7M1772.1 1339L1544 1412.1M1668.4 1454.2L1661.9 1116.9M1771.7 1261.3L1540.8 1322.2M1610.2 1476.1L1600.6 1125.9M1771.3 1182L1537.5 1230M1953.9 1465.3L1960.8 1120.7M2025.3 1398.4L1772.1 1339M1889.5 1447.5L1893.2 1113.7M2027.9 1310.5L1771.7 1261.3M1829.2 1430.8L1830.1 1107.1M2030.5 1220.5L1771.3 1182M1976 1508.7L1722.3 1434M1953.9 1465.3L1735.5 1569.2M1925.1 1535.3L1668.4 1454.2M1889.5 1447.5L1668 1544.3M1869.5 1564.4L1610.2 1476.1M1829.2 1430.8L1605.4 1521.3" stroke="#dadada" stroke-width="1.3" fill="none"/><path d="M1772.4 1415.1L1770.9 1101M1772.4 1415.1L1547.2 1499.8M1547.2 1499.8L1534.1 1135.6M1770.9 1101L1534.1 1135.6M2022.8 1484.3L2033.2 1128.2M2022.8 1484.3L1772.4 1415.1M2033.2 1128.2L1770.9 1101M2022.8 1484.3L1772.4 1415.1M2022.8 1484.3L1808.6 1596.2M1808.6 1596.2L1547.2 1499.8M1772.4 1415.1L1547.2 1499.8" stroke="#b8b8b8" stroke-width="1.4" fill="none"/><clipPath id="kc22"><ellipse cx="1787.5" cy="1396.4" rx="10.2" ry="3.2"/><ellipse cx="1787.5" cy="1397.5" rx="15" ry="4.7"/><ellipse cx="1787.5" cy="1398.8" rx="19.7" ry="6.2"/><ellipse cx="1787.5" cy="1400.3" rx="24.7" ry="7.8"/><ellipse cx="1787.5" cy="1401.9" rx="29.6" ry="9.3"/><ellipse cx="1787.5" cy="1403.5" rx="34.5" ry="10.9"/><ellipse cx="1787.5" cy="1405.1" rx="39.4" ry="12.5"/><ellipse cx="1787.5" cy="1406.6" rx="44.4" ry="14.1"/><ellipse cx="1787.6" cy="1407.9" rx="49.1" ry="15.7"/><ellipse cx="1787.6" cy="1409.1" rx="53.8" ry="17.2"/><ellipse cx="1787.5" cy="1411.5" rx="87.3" ry="28"/><ellipse cx="1787.5" cy="1410.6" rx="92.1" ry="29.5"/><ellipse cx="1787.5" cy="1409.2" rx="97" ry="31"/><ellipse cx="1787.5" cy="1407.2" rx="101.8" ry="32.4"/><ellipse cx="1787.5" cy="1404.3" rx="106.7" ry="33.7"/><ellipse cx="1787.5" cy="1400.3" rx="111.7" ry="35"/><ellipse cx="1787.4" cy="1395.7" rx="115.7" ry="35.9"/><ellipse cx="1787.4" cy="1390.9" rx="118.7" ry="36.5"/><ellipse cx="1787.4" cy="1386.1" rx="120.9" ry="36.8"/><ellipse cx="1787.4" cy="1381.3" rx="122.6" ry="36.9"/><ellipse cx="1787.4" cy="1376.5" rx="123.8" ry="36.9"/><ellipse cx="1787.4" cy="1371.5" rx="124.7" ry="36.8"/><ellipse cx="1787.4" cy="1366.5" rx="125.3" ry="36.6"/><ellipse cx="1787.3" cy="1361.5" rx="125.6" ry="36.3"/><ellipse cx="1787.3" cy="1356.4" rx="125.7" ry="35.9"/><ellipse cx="1787.3" cy="1351.3" rx="125.7" ry="35.5"/><ellipse cx="1787.3" cy="1346.2" rx="125.6" ry="35.1"/><ellipse cx="1787.3" cy="1341.1" rx="125.5" ry="34.6"/><ellipse cx="1787.3" cy="1336" rx="125.3" ry="34.2"/><ellipse cx="1787.3" cy="1330.9" rx="125.2" ry="33.7"/><ellipse cx="1787.2" cy="1325.8" rx="125.2" ry="33.3"/><ellipse cx="1787.2" cy="1320.7" rx="125.2" ry="32.9"/><ellipse cx="1787.2" cy="1315.5" rx="125.3" ry="32.5"/><ellipse cx="1787.2" cy="1310.4" rx="125.5" ry="32.2"/><ellipse cx="1787.2" cy="1305.3" rx="125.7" ry="31.8"/><ellipse cx="1787.2" cy="1300.1" rx="126" ry="31.5"/><ellipse cx="1787.2" cy="1295" rx="126.3" ry="31.2"/><ellipse cx="1787.1" cy="1289.9" rx="126.7" ry="30.8"/><ellipse cx="1787.1" cy="1284.7" rx="126.9" ry="30.5"/><ellipse cx="1787.1" cy="1279.5" rx="127" ry="30.1"/><ellipse cx="1787.1" cy="1274.3" rx="127" ry="29.7"/><ellipse cx="1787.1" cy="1269.1" rx="126.8" ry="29.2"/><ellipse cx="1787.1" cy="1263.9" rx="126.3" ry="28.7"/><ellipse cx="1787" cy="1258.8" rx="125.5" ry="28.1"/><ellipse cx="1787" cy="1253.7" rx="124.3" ry="27.4"/><ellipse cx="1787" cy="1248.5" rx="122.6" ry="26.6"/><ellipse cx="1787" cy="1243.4" rx="120.3" ry="25.7"/><ellipse cx="1787" cy="1238.2" rx="117.1" ry="24.7"/><ellipse cx="1787" cy="1233" rx="112.8" ry="23.4"/><ellipse cx="1787" cy="1228.9" rx="107.9" ry="22.1"/><ellipse cx="1787" cy="1225.7" rx="103" ry="20.9"/><ellipse cx="1786.9" cy="1223.5" rx="98" ry="19.8"/><ellipse cx="1786.9" cy="1221.8" rx="93.1" ry="18.7"/><ellipse cx="1786.9" cy="1220.7" rx="88.2" ry="17.6"/><ellipse cx="1787" cy="1220.1" rx="83.2" ry="16.6"/><ellipse cx="1787" cy="1219.8" rx="78.5" ry="15.7"/></clipPath><g filter="url(#bl)"><g shape-rendering="crispEdges" clip-path="url(#kc22)"><ellipse cx="1787.5" cy="1396.4" rx="10.7" ry="3.7" fill="#00fafa"/><ellipse cx="1787.5" cy="1396.4" rx="10.7" ry="3.7" fill="url(#s213)"/><ellipse cx="1787.5" cy="1396.8" rx="12.3" ry="4.2" fill="#00f9fa"/><ellipse cx="1787.5" cy="1396.8" rx="12.3" ry="4.2" fill="url(#s213)"/><ellipse cx="1787.5" cy="1397.1" rx="13.9" ry="4.7" fill="#00f7fa"/><ellipse cx="1787.5" cy="1397.1" rx="13.9" ry="4.7" fill="url(#s212)"/><ellipse cx="1787.5" cy="1397.5" rx="15.5" ry="5.2" fill="#00f6fb"/><ellipse cx="1787.5" cy="1397.5" rx="15.5" ry="5.2" fill="url(#s211)"/><ellipse cx="1787.5" cy="1397.9" rx="17" ry="5.7" fill="#00f4fb"/><ellipse cx="1787.5" cy="1397.9" rx="17" ry="5.7" fill="url(#s211)"/><ellipse cx="1787.5" cy="1398.3" rx="18.6" ry="6.2" fill="#00f2fb"/><ellipse cx="1787.5" cy="1398.3" rx="18.6" ry="6.2" fill="url(#s210)"/><ellipse cx="1787.5" cy="1398.8" rx="20.2" ry="6.7" fill="#00f0fb"/><ellipse cx="1787.5" cy="1398.8" rx="20.2" ry="6.7" fill="url(#s210)"/><ellipse cx="1787.5" cy="1399.3" rx="21.9" ry="7.2" fill="#00eefc"/><ellipse cx="1787.5" cy="1399.3" rx="21.9" ry="7.2" fill="url(#s209)"/><ellipse cx="1787.5" cy="1399.8" rx="23.5" ry="7.7" fill="#00ecfc"/><ellipse cx="1787.5" cy="1399.8" rx="23.5" ry="7.7" fill="url(#s209)"/><ellipse cx="1787.5" cy="1400.3" rx="25.2" ry="8.3" fill="#00eafc"/><ellipse cx="1787.5" cy="1400.3" rx="25.2" ry="8.3" fill="url(#s209)"/><ellipse cx="1787.5" cy="1400.8" rx="26.8" ry="8.8" fill="#00e8fd"/><ellipse cx="1787.5" cy="1400.8" rx="26.8" ry="8.8" fill="url(#s209)"/><ellipse cx="1787.5" cy="1401.4" rx="28.5" ry="9.3" fill="#00e6fd"/><ellipse cx="1787.5" cy="1401.4" rx="28.5" ry="9.3" fill="url(#s209)"/><ellipse cx="1787.5" cy="1401.9" rx="30.1" ry="9.8" fill="#00e4fd"/><ellipse cx="1787.5" cy="1401.9" rx="30.1" ry="9.8" fill="url(#s209)"/><ellipse cx="1787.5" cy="1402.4" rx="31.7" ry="10.4" fill="#00e2fd"/><ellipse cx="1787.5" cy="1402.4" rx="31.7" ry="10.4" fill="url(#s209)"/><ellipse cx="1787.5" cy="1403" rx="33.4" ry="10.9" fill="#00dffe"/><ellipse cx="1787.5" cy="1403" rx="33.4" ry="10.9" fill="url(#s209)"/><ellipse cx="1787.5" cy="1403.5" rx="35" ry="11.4" fill="#00ddfe"/><ellipse cx="1787.5" cy="1403.5" rx="35" ry="11.4" fill="url(#s209)"/><ellipse cx="1787.5" cy="1404" rx="36.6" ry="11.9" fill="#00dbfe"/><ellipse cx="1787.5" cy="1404" rx="36.6" ry="11.9" fill="url(#s209)"/><ellipse cx="1787.5" cy="1404.6" rx="38.3" ry="12.5" fill="#00d9ff"/><ellipse cx="1787.5" cy="1404.6" rx="38.3" ry="12.5" fill="url(#s209)"/><ellipse cx="1787.5" cy="1405.1" rx="39.9" ry="13" fill="#00d7ff"/><ellipse cx="1787.5" cy="1405.1" rx="39.9" ry="13" fill="url(#s209)"/><ellipse cx="1787.5" cy="1405.6" rx="41.6" ry="13.5" fill="#00d2ff"/><ellipse cx="1787.5" cy="1405.6" rx="41.6" ry="13.5" fill="url(#s209)"/><ellipse cx="1787.5" cy="1406.1" rx="43.2" ry="14.1" fill="#00cdff"/><ellipse cx="1787.5" cy="1406.1" rx="43.2" ry="14.1" fill="url(#s210)"/><ellipse cx="1787.5" cy="1406.6" rx="44.9" ry="14.6" fill="#00c9ff"/><ellipse cx="1787.5" cy="1406.6" rx="44.9" ry="14.6" fill="url(#s210)"/><ellipse cx="1787.5" cy="1407.1" rx="46.5" ry="15.2" fill="#00c4ff"/><ellipse cx="1787.5" cy="1407.1" rx="46.5" ry="15.2" fill="url(#s210)"/><ellipse cx="1787.6" cy="1407.5" rx="48.1" ry="15.7" fill="#00c0ff"/><ellipse cx="1787.6" cy="1407.5" rx="48.1" ry="15.7" fill="url(#s211)"/><ellipse cx="1787.6" cy="1407.9" rx="49.6" ry="16.2" fill="#00bcff"/><ellipse cx="1787.6" cy="1407.9" rx="49.6" ry="16.2" fill="url(#s211)"/><ellipse cx="1787.6" cy="1408.4" rx="51.2" ry="16.7" fill="#00b8ff"/><ellipse cx="1787.6" cy="1408.4" rx="51.2" ry="16.7" fill="url(#s211)"/><ellipse cx="1787.6" cy="1408.7" rx="52.8" ry="17.2" fill="#00b4ff"/><ellipse cx="1787.6" cy="1408.7" rx="52.8" ry="17.2" fill="url(#s212)"/><ellipse cx="1787.6" cy="1409.1" rx="54.3" ry="17.7" fill="#00b0ff"/><ellipse cx="1787.6" cy="1409.1" rx="54.3" ry="17.7" fill="url(#s212)"/><ellipse cx="1787.6" cy="1409.5" rx="55.9" ry="18.2" fill="#00adff"/><ellipse cx="1787.6" cy="1409.5" rx="55.9" ry="18.2" fill="url(#s213)"/><ellipse cx="1787.5" cy="1409.8" rx="57.5" ry="18.8" fill="#0af"/><ellipse cx="1787.5" cy="1409.8" rx="57.5" ry="18.8" fill="url(#s213)"/><ellipse cx="1787.5" cy="1411.5" rx="87.8" ry="28.5" fill="#00a2ff"/><ellipse cx="1787.5" cy="1411.5" rx="87.8" ry="28.5" fill="url(#s-13)" opacity=".20"/><ellipse cx="1787.5" cy="1411.5" rx="87.8" ry="28.5" fill="url(#r-13)"/><ellipse cx="1787.5" cy="1411.3" rx="89.4" ry="29" fill="#00a5ff"/><ellipse cx="1787.5" cy="1411.3" rx="89.4" ry="29" fill="url(#s-12)" opacity=".20"/><ellipse cx="1787.5" cy="1411.3" rx="89.4" ry="29" fill="url(#r-12)"/><ellipse cx="1787.5" cy="1411" rx="91" ry="29.5" fill="#00a9ff"/><ellipse cx="1787.5" cy="1411" rx="91" ry="29.5" fill="url(#s-11)" opacity=".20"/><ellipse cx="1787.5" cy="1411" rx="91" ry="29.5" fill="url(#r-11)"/><ellipse cx="1787.5" cy="1410.6" rx="92.6" ry="30" fill="#00adff"/><ellipse cx="1787.5" cy="1410.6" rx="92.6" ry="30" fill="url(#s-10)" opacity=".20"/><ellipse cx="1787.5" cy="1410.6" rx="92.6" ry="30" fill="url(#r-10)"/><ellipse cx="1787.5" cy="1410.2" rx="94.2" ry="30.5" fill="#00b2ff"/><ellipse cx="1787.5" cy="1410.2" rx="94.2" ry="30.5" fill="url(#s-9)" opacity=".20"/><ellipse cx="1787.5" cy="1410.2" rx="94.2" ry="30.5" fill="url(#r-9)"/><ellipse cx="1787.5" cy="1409.7" rx="95.9" ry="31" fill="#00b7ff"/><ellipse cx="1787.5" cy="1409.7" rx="95.9" ry="31" fill="url(#s-7)" opacity=".20"/><ellipse cx="1787.5" cy="1409.7" rx="95.9" ry="31" fill="url(#r-7)"/><ellipse cx="1787.5" cy="1409.2" rx="97.5" ry="31.5" fill="#00bdff"/><ellipse cx="1787.5" cy="1409.2" rx="97.5" ry="31.5" fill="url(#s-6)" opacity=".20"/><ellipse cx="1787.5" cy="1409.2" rx="97.5" ry="31.5" fill="url(#r-6)"/><ellipse cx="1787.5" cy="1408.6" rx="99.1" ry="32" fill="#00c4ff"/><ellipse cx="1787.5" cy="1408.6" rx="99.1" ry="32" fill="url(#s-5)" opacity=".20"/><ellipse cx="1787.5" cy="1408.6" rx="99.1" ry="32" fill="url(#r-5)"/><ellipse cx="1787.5" cy="1407.9" rx="100.7" ry="32.4" fill="#0cf"/><ellipse cx="1787.5" cy="1407.9" rx="100.7" ry="32.4" fill="url(#s-3)" opacity=".20"/><ellipse cx="1787.5" cy="1407.9" rx="100.7" ry="32.4" fill="url(#r-3)"/><ellipse cx="1787.5" cy="1407.2" rx="102.3" ry="32.9" fill="#00d4ff"/><ellipse cx="1787.5" cy="1407.2" rx="102.3" ry="32.9" fill="url(#s-2)" opacity=".20"/><ellipse cx="1787.5" cy="1407.2" rx="102.3" ry="32.9" fill="url(#r-2)"/><ellipse cx="1787.5" cy="1406.3" rx="104" ry="33.3" fill="#00daff"/><ellipse cx="1787.5" cy="1406.3" rx="104" ry="33.3" fill="url(#s0)" opacity=".20"/><ellipse cx="1787.5" cy="1406.3" rx="104" ry="33.3" fill="url(#r0)"/><ellipse cx="1787.5" cy="1405.4" rx="105.6" ry="33.8" fill="#00defe"/><ellipse cx="1787.5" cy="1405.4" rx="105.6" ry="33.8" fill="url(#s2)" opacity=".20"/><ellipse cx="1787.5" cy="1405.4" rx="105.6" ry="33.8" fill="url(#r2)"/><ellipse cx="1787.5" cy="1404.3" rx="107.2" ry="34.2" fill="#00e3fd"/><ellipse cx="1787.5" cy="1404.3" rx="107.2" ry="34.2" fill="url(#s4)" opacity=".20"/><ellipse cx="1787.5" cy="1404.3" rx="107.2" ry="34.2" fill="url(#r4)"/><ellipse cx="1787.5" cy="1403.1" rx="108.9" ry="34.7" fill="#00e8fd"/><ellipse cx="1787.5" cy="1403.1" rx="108.9" ry="34.7" fill="url(#s6)" opacity=".20"/><ellipse cx="1787.5" cy="1403.1" rx="108.9" ry="34.7" fill="url(#r6)"/><ellipse cx="1787.5" cy="1401.8" rx="110.5" ry="35.1" fill="#00eefc"/><ellipse cx="1787.5" cy="1401.8" rx="110.5" ry="35.1" fill="url(#s8)" opacity=".20"/><ellipse cx="1787.5" cy="1401.8" rx="110.5" ry="35.1" fill="url(#r8)"/><ellipse cx="1787.5" cy="1400.3" rx="112.2" ry="35.5" fill="#00f4fb"/><ellipse cx="1787.5" cy="1400.3" rx="112.2" ry="35.5" fill="url(#s10)" opacity=".20"/><ellipse cx="1787.5" cy="1400.3" rx="112.2" ry="35.5" fill="url(#r10)"/><ellipse cx="1787.5" cy="1398.7" rx="113.6" ry="35.9" fill="#00faf8"/><ellipse cx="1787.5" cy="1398.7" rx="113.6" ry="35.9" fill="url(#s12)" opacity=".20"/><ellipse cx="1787.5" cy="1398.7" rx="113.6" ry="35.9" fill="url(#r12)"/><ellipse cx="1787.4" cy="1397.2" rx="115" ry="36.2" fill="#00fbe4"/><ellipse cx="1787.4" cy="1397.2" rx="115" ry="36.2" fill="url(#s14)" opacity=".20"/><ellipse cx="1787.4" cy="1397.2" rx="115" ry="36.2" fill="url(#r14)" opacity=".95"/><ellipse cx="1787.4" cy="1395.7" rx="116.2" ry="36.4" fill="#00fcd1"/><ellipse cx="1787.4" cy="1395.7" rx="116.2" ry="36.4" fill="url(#s16)" opacity=".20"/><ellipse cx="1787.4" cy="1395.7" rx="116.2" ry="36.4" fill="url(#r16)" opacity=".86"/><ellipse cx="1787.4" cy="1394.1" rx="117.3" ry="36.6" fill="#00fdbc"/><ellipse cx="1787.4" cy="1394.1" rx="117.3" ry="36.6" fill="url(#s18)" opacity=".25"/><ellipse cx="1787.4" cy="1394.1" rx="117.3" ry="36.6" fill="url(#r18)" opacity=".77"/><ellipse cx="1787.4" cy="1392.5" rx="118.3" ry="36.8" fill="#00fea9"/><ellipse cx="1787.4" cy="1392.5" rx="118.3" ry="36.8" fill="url(#s20)" opacity=".32"/><ellipse cx="1787.4" cy="1392.5" rx="118.3" ry="36.8" fill="url(#r20)" opacity=".68"/><ellipse cx="1787.4" cy="1390.9" rx="119.2" ry="37" fill="#00ff94"/><ellipse cx="1787.4" cy="1390.9" rx="119.2" ry="37" fill="url(#s21)" opacity=".39"/><ellipse cx="1787.4" cy="1390.9" rx="119.2" ry="37" fill="url(#r21)" opacity=".60"/><ellipse cx="1787.4" cy="1389.4" rx="120" ry="37.1" fill="#02ff7a"/><ellipse cx="1787.4" cy="1389.4" rx="120" ry="37.1" fill="url(#s23)" opacity=".45"/><ellipse cx="1787.4" cy="1389.4" rx="120" ry="37.1" fill="url(#r23)" opacity=".52"/><ellipse cx="1787.4" cy="1387.8" rx="120.7" ry="37.2" fill="#05ff5a"/><ellipse cx="1787.4" cy="1387.8" rx="120.7" ry="37.2" fill="url(#s24)" opacity=".51"/><ellipse cx="1787.4" cy="1387.8" rx="120.7" ry="37.2" fill="url(#r24)" opacity=".45"/><ellipse cx="1787.4" cy="1386.1" rx="121.4" ry="37.3" fill="#09ff39"/><ellipse cx="1787.4" cy="1386.1" rx="121.4" ry="37.3" fill="url(#s26)" opacity=".56"/><ellipse cx="1787.4" cy="1386.1" rx="121.4" ry="37.3" fill="url(#r26)" opacity=".38"/><ellipse cx="1787.4" cy="1384.5" rx="122.1" ry="37.4" fill="#0cff18"/><ellipse cx="1787.4" cy="1384.5" rx="122.1" ry="37.4" fill="url(#s27)" opacity=".62"/><ellipse cx="1787.4" cy="1384.5" rx="122.1" ry="37.4" fill="url(#r27)" opacity=".31"/><ellipse cx="1787.4" cy="1382.9" rx="122.6" ry="37.4" fill="#1f0"/><ellipse cx="1787.4" cy="1382.9" rx="122.6" ry="37.4" fill="url(#s28)" opacity=".67"/><ellipse cx="1787.4" cy="1382.9" rx="122.6" ry="37.4" fill="url(#r28)" opacity=".25"/><ellipse cx="1787.4" cy="1381.3" rx="123.1" ry="37.4" fill="#18ff00"/><ellipse cx="1787.4" cy="1381.3" rx="123.1" ry="37.4" fill="url(#s29)" opacity=".71"/><ellipse cx="1787.4" cy="1381.3" rx="123.1" ry="37.4" fill="url(#r29)" opacity=".19"/><ellipse cx="1787.4" cy="1379.7" rx="123.6" ry="37.5" fill="#20ff00"/><ellipse cx="1787.4" cy="1379.7" rx="123.6" ry="37.5" fill="url(#s31)" opacity=".75"/><ellipse cx="1787.4" cy="1379.7" rx="123.6" ry="37.5" fill="url(#r31)" opacity=".14"/><ellipse cx="1787.4" cy="1378.1" rx="124" ry="37.4" fill="#27ff00"/><ellipse cx="1787.4" cy="1378.1" rx="124" ry="37.4" fill="url(#s32)" opacity=".80"/><ellipse cx="1787.4" cy="1378.1" rx="124" ry="37.4" fill="url(#r32)" opacity=".09"/><ellipse cx="1787.4" cy="1376.5" rx="124.3" ry="37.4" fill="#2eff00"/><ellipse cx="1787.4" cy="1376.5" rx="124.3" ry="37.4" fill="url(#s33)" opacity=".83"/><ellipse cx="1787.4" cy="1376.5" rx="124.3" ry="37.4" fill="url(#r33)" opacity=".04"/><ellipse cx="1787.4" cy="1374.9" rx="124.6" ry="37.4" fill="#36ff00"/><ellipse cx="1787.4" cy="1374.9" rx="124.6" ry="37.4" fill="url(#s33)" opacity=".87"/><ellipse cx="1787.4" cy="1373.2" rx="124.9" ry="37.4" fill="#3eff00"/><ellipse cx="1787.4" cy="1373.2" rx="124.9" ry="37.4" fill="url(#s34)" opacity=".91"/><ellipse cx="1787.4" cy="1371.5" rx="125.2" ry="37.3" fill="#45ff00"/><ellipse cx="1787.4" cy="1371.5" rx="125.2" ry="37.3" fill="url(#s35)" opacity=".94"/><ellipse cx="1787.4" cy="1369.9" rx="125.4" ry="37.2" fill="#4dff00"/><ellipse cx="1787.4" cy="1369.9" rx="125.4" ry="37.2" fill="url(#s36)" opacity=".97"/><ellipse cx="1787.4" cy="1368.2" rx="125.6" ry="37.2" fill="#54ff00"/><ellipse cx="1787.4" cy="1368.2" rx="125.6" ry="37.2" fill="url(#s37)"/><ellipse cx="1787.4" cy="1366.5" rx="125.8" ry="37.1" fill="#5cff00"/><ellipse cx="1787.4" cy="1366.5" rx="125.8" ry="37.1" fill="url(#s37)"/><ellipse cx="1787.4" cy="1364.9" rx="125.9" ry="37" fill="#64ff00"/><ellipse cx="1787.4" cy="1364.9" rx="125.9" ry="37" fill="url(#s38)"/><ellipse cx="1787.4" cy="1363.2" rx="126" ry="36.9" fill="#6bff00"/><ellipse cx="1787.4" cy="1363.2" rx="126" ry="36.9" fill="url(#s38)"/><ellipse cx="1787.3" cy="1361.5" rx="126.1" ry="36.8" fill="#73ff00"/><ellipse cx="1787.3" cy="1361.5" rx="126.1" ry="36.8" fill="url(#s39)"/><ellipse cx="1787.3" cy="1359.8" rx="126.2" ry="36.6" fill="#7aff00"/><ellipse cx="1787.3" cy="1359.8" rx="126.2" ry="36.6" fill="url(#s39)"/><ellipse cx="1787.3" cy="1358.1" rx="126.2" ry="36.5" fill="#82ff00"/><ellipse cx="1787.3" cy="1358.1" rx="126.2" ry="36.5" fill="url(#s40)"/><ellipse cx="1787.3" cy="1356.4" rx="126.2" ry="36.4" fill="#8aff00"/><ellipse cx="1787.3" cy="1356.4" rx="126.2" ry="36.4" fill="url(#s40)"/><ellipse cx="1787.3" cy="1354.7" rx="126.2" ry="36.3" fill="#91ff00"/><ellipse cx="1787.3" cy="1354.7" rx="126.2" ry="36.3" fill="url(#s41)"/><ellipse cx="1787.3" cy="1353" rx="126.2" ry="36.1" fill="#9f0"/><ellipse cx="1787.3" cy="1353" rx="126.2" ry="36.1" fill="url(#s41)"/><ellipse cx="1787.3" cy="1351.3" rx="126.2" ry="36" fill="#a1ff00"/><ellipse cx="1787.3" cy="1351.3" rx="126.2" ry="36" fill="url(#s41)"/><ellipse cx="1787.3" cy="1349.6" rx="126.2" ry="35.8" fill="#a8ff00"/><ellipse cx="1787.3" cy="1349.6" rx="126.2" ry="35.8" fill="url(#s41)"/><ellipse cx="1787.3" cy="1347.9" rx="126.2" ry="35.7" fill="#b0ff00"/><ellipse cx="1787.3" cy="1347.9" rx="126.2" ry="35.7" fill="url(#s41)"/><ellipse cx="1787.3" cy="1346.2" rx="126.1" ry="35.6" fill="#b6ff00"/><ellipse cx="1787.3" cy="1346.2" rx="126.1" ry="35.6" fill="url(#s42)"/><ellipse cx="1787.3" cy="1344.5" rx="126.1" ry="35.4" fill="#bf0"/><ellipse cx="1787.3" cy="1344.5" rx="126.1" ry="35.4" fill="url(#s42)"/><ellipse cx="1787.3" cy="1342.8" rx="126" ry="35.3" fill="#bffe00"/><ellipse cx="1787.3" cy="1342.8" rx="126" ry="35.3" fill="url(#s42)"/><ellipse cx="1787.3" cy="1341.1" rx="126" ry="35.1" fill="#c4fe00"/><ellipse cx="1787.3" cy="1341.1" rx="126" ry="35.1" fill="url(#s42)"/><ellipse cx="1787.3" cy="1339.4" rx="125.9" ry="35" fill="#c8fe00"/><ellipse cx="1787.3" cy="1339.4" rx="125.9" ry="35" fill="url(#s42)"/><ellipse cx="1787.3" cy="1337.7" rx="125.9" ry="34.8" fill="#cdfd00"/><ellipse cx="1787.3" cy="1337.7" rx="125.9" ry="34.8" fill="url(#s42)"/><ellipse cx="1787.3" cy="1336" rx="125.8" ry="34.7" fill="#d2fd00"/><ellipse cx="1787.3" cy="1336" rx="125.8" ry="34.7" fill="url(#s42)"/><ellipse cx="1787.3" cy="1334.3" rx="125.8" ry="34.5" fill="#d6fd00"/><ellipse cx="1787.3" cy="1334.3" rx="125.8" ry="34.5" fill="url(#s42)"/><ellipse cx="1787.3" cy="1332.6" rx="125.8" ry="34.4" fill="#dbfc00"/><ellipse cx="1787.3" cy="1332.6" rx="125.8" ry="34.4" fill="url(#s42)"/><ellipse cx="1787.3" cy="1330.9" rx="125.7" ry="34.2" fill="#dffc00"/><ellipse cx="1787.3" cy="1330.9" rx="125.7" ry="34.2" fill="url(#s41)"/><ellipse cx="1787.3" cy="1329.2" rx="125.7" ry="34.1" fill="#e4fc00"/><ellipse cx="1787.3" cy="1329.2" rx="125.7" ry="34.1" fill="url(#s41)"/><ellipse cx="1787.2" cy="1327.5" rx="125.7" ry="33.9" fill="#e9fb00"/><ellipse cx="1787.2" cy="1327.5" rx="125.7" ry="33.9" fill="url(#s41)"/><ellipse cx="1787.2" cy="1325.8" rx="125.7" ry="33.8" fill="#edfb00"/><ellipse cx="1787.2" cy="1325.8" rx="125.7" ry="33.8" fill="url(#s41)"/><ellipse cx="1787.2" cy="1324.1" rx="125.7" ry="33.7" fill="#f2fb00"/><ellipse cx="1787.2" cy="1324.1" rx="125.7" ry="33.7" fill="url(#s41)"/><ellipse cx="1787.2" cy="1322.4" rx="125.7" ry="33.5" fill="#f6fa00"/><ellipse cx="1787.2" cy="1322.4" rx="125.7" ry="33.5" fill="url(#s40)"/><ellipse cx="1787.2" cy="1320.7" rx="125.7" ry="33.4" fill="#faf900"/><ellipse cx="1787.2" cy="1320.7" rx="125.7" ry="33.4" fill="url(#s40)"/><ellipse cx="1787.2" cy="1319" rx="125.7" ry="33.3" fill="#faf100"/><ellipse cx="1787.2" cy="1319" rx="125.7" ry="33.3" fill="url(#s40)"/><ellipse cx="1787.2" cy="1317.3" rx="125.7" ry="33.1" fill="#fbea00"/><ellipse cx="1787.2" cy="1317.3" rx="125.7" ry="33.1" fill="url(#s40)"/><ellipse cx="1787.2" cy="1315.5" rx="125.8" ry="33" fill="#fbe300"/><ellipse cx="1787.2" cy="1315.5" rx="125.8" ry="33" fill="url(#s40)"/><ellipse cx="1787.2" cy="1313.8" rx="125.8" ry="32.9" fill="#fbdc00"/><ellipse cx="1787.2" cy="1313.8" rx="125.8" ry="32.9" fill="url(#s39)"/><ellipse cx="1787.2" cy="1312.1" rx="125.9" ry="32.8" fill="#fcd500"/><ellipse cx="1787.2" cy="1312.1" rx="125.9" ry="32.8" fill="url(#s39)"/><ellipse cx="1787.2" cy="1310.4" rx="126" ry="32.7" fill="#fcce00"/><ellipse cx="1787.2" cy="1310.4" rx="126" ry="32.7" fill="url(#s39)"/><ellipse cx="1787.2" cy="1308.7" rx="126" ry="32.5" fill="#fcc700"/><ellipse cx="1787.2" cy="1308.7" rx="126" ry="32.5" fill="url(#s39)"/><ellipse cx="1787.2" cy="1307" rx="126.1" ry="32.4" fill="#fcc000"/><ellipse cx="1787.2" cy="1307" rx="126.1" ry="32.4" fill="url(#s39)"/><ellipse cx="1787.2" cy="1305.3" rx="126.2" ry="32.3" fill="#fdb900"/><ellipse cx="1787.2" cy="1305.3" rx="126.2" ry="32.3" fill="url(#s38)"/><ellipse cx="1787.2" cy="1303.6" rx="126.3" ry="32.2" fill="#fdb100"/><ellipse cx="1787.2" cy="1303.6" rx="126.3" ry="32.2" fill="url(#s38)"/><ellipse cx="1787.2" cy="1301.9" rx="126.4" ry="32.1" fill="#fdaa00"/><ellipse cx="1787.2" cy="1301.9" rx="126.4" ry="32.1" fill="url(#s38)"/><ellipse cx="1787.2" cy="1300.1" rx="126.5" ry="32" fill="#fea300"/><ellipse cx="1787.2" cy="1300.1" rx="126.5" ry="32" fill="url(#s38)"/><ellipse cx="1787.2" cy="1298.4" rx="126.6" ry="31.9" fill="#fe9c00"/><ellipse cx="1787.2" cy="1298.4" rx="126.6" ry="31.9" fill="url(#s38)"/><ellipse cx="1787.2" cy="1296.7" rx="126.7" ry="31.8" fill="#fe9500"/><ellipse cx="1787.2" cy="1296.7" rx="126.7" ry="31.8" fill="url(#s38)"/><ellipse cx="1787.2" cy="1295" rx="126.8" ry="31.7" fill="#fe8e00"/><ellipse cx="1787.2" cy="1295" rx="126.8" ry="31.7" fill="url(#s38)"/><ellipse cx="1787.1" cy="1293.3" rx="126.9" ry="31.5" fill="#ff8700"/><ellipse cx="1787.1" cy="1293.3" rx="126.9" ry="31.5" fill="url(#s38)"/><ellipse cx="1787.1" cy="1291.6" rx="127.1" ry="31.4" fill="#ff8000"/><ellipse cx="1787.1" cy="1291.6" rx="127.1" ry="31.4" fill="url(#s38)"/><ellipse cx="1787.1" cy="1289.9" rx="127.2" ry="31.3" fill="#ff7800"/><ellipse cx="1787.1" cy="1289.9" rx="127.2" ry="31.3" fill="url(#s38)"/><ellipse cx="1787.1" cy="1288.1" rx="127.2" ry="31.2" fill="#ff7000"/><ellipse cx="1787.1" cy="1288.1" rx="127.2" ry="31.2" fill="url(#s39)"/><ellipse cx="1787.1" cy="1286.4" rx="127.3" ry="31.1" fill="#ff6800"/><ellipse cx="1787.1" cy="1286.4" rx="127.3" ry="31.1" fill="url(#s39)"/><ellipse cx="1787.1" cy="1284.7" rx="127.4" ry="31" fill="#ff6000"/><ellipse cx="1787.1" cy="1284.7" rx="127.4" ry="31" fill="url(#s39)"/><ellipse cx="1787.1" cy="1283" rx="127.5" ry="30.8" fill="#ff5800"/><ellipse cx="1787.1" cy="1283" rx="127.5" ry="30.8" fill="url(#s39)"/><ellipse cx="1787.1" cy="1281.2" rx="127.5" ry="30.7" fill="#ff5000"/><ellipse cx="1787.1" cy="1281.2" rx="127.5" ry="30.7" fill="url(#s40)"/><ellipse cx="1787.1" cy="1279.5" rx="127.5" ry="30.6" fill="#ff4800"/><ellipse cx="1787.1" cy="1279.5" rx="127.5" ry="30.6" fill="url(#s40)"/><ellipse cx="1787.1" cy="1277.8" rx="127.5" ry="30.4" fill="#ff4000"/><ellipse cx="1787.1" cy="1277.8" rx="127.5" ry="30.4" fill="url(#s41)"/><ellipse cx="1787.1" cy="1276" rx="127.5" ry="30.3" fill="#ff3800"/><ellipse cx="1787.1" cy="1276" rx="127.5" ry="30.3" fill="url(#s41)"/><ellipse cx="1787.1" cy="1274.3" rx="127.5" ry="30.2" fill="#ff3100"/><ellipse cx="1787.1" cy="1274.3" rx="127.5" ry="30.2" fill="url(#s42)"/><ellipse cx="1787.1" cy="1272.6" rx="127.5" ry="30" fill="#ff2c00"/><ellipse cx="1787.1" cy="1272.6" rx="127.5" ry="30" fill="url(#s42)"/><ellipse cx="1787.1" cy="1270.9" rx="127.4" ry="29.8" fill="#ff2700"/><ellipse cx="1787.1" cy="1270.9" rx="127.4" ry="29.8" fill="url(#s43)"/><ellipse cx="1787.1" cy="1269.1" rx="127.3" ry="29.7" fill="#f20"/><ellipse cx="1787.1" cy="1269.1" rx="127.3" ry="29.7" fill="url(#s43)"/><ellipse cx="1787.1" cy="1267.4" rx="127.2" ry="29.5" fill="#ff1e00"/><ellipse cx="1787.1" cy="1267.4" rx="127.2" ry="29.5" fill="url(#s44)"/><ellipse cx="1787.1" cy="1265.7" rx="127" ry="29.3" fill="#ff1900"/><ellipse cx="1787.1" cy="1265.7" rx="127" ry="29.3" fill="url(#s45)"/><ellipse cx="1787.1" cy="1263.9" rx="126.8" ry="29.2" fill="#ff1400"/><ellipse cx="1787.1" cy="1263.9" rx="126.8" ry="29.2" fill="url(#s46)"/><ellipse cx="1787.1" cy="1262.2" rx="126.6" ry="29" fill="#ff0f00"/><ellipse cx="1787.1" cy="1262.2" rx="126.6" ry="29" fill="url(#s46)"/><ellipse cx="1787.1" cy="1260.5" rx="126.3" ry="28.8" fill="#ff0d00"/><ellipse cx="1787.1" cy="1260.5" rx="126.3" ry="28.8" fill="url(#s47)"/><ellipse cx="1787" cy="1258.8" rx="126" ry="28.6" fill="#ff0b00"/><ellipse cx="1787" cy="1258.8" rx="126" ry="28.6" fill="url(#s48)"/><ellipse cx="1787" cy="1257.1" rx="125.6" ry="28.4" fill="#ff0a00"/><ellipse cx="1787" cy="1257.1" rx="125.6" ry="28.4" fill="url(#s49)"/><ellipse cx="1787" cy="1255.4" rx="125.3" ry="28.1" fill="#ff0800"/><ellipse cx="1787" cy="1255.4" rx="125.3" ry="28.1" fill="url(#s50)"/><ellipse cx="1787" cy="1253.7" rx="124.8" ry="27.9" fill="#ff0700"/><ellipse cx="1787" cy="1253.7" rx="124.8" ry="27.9" fill="url(#s51)"/><ellipse cx="1787" cy="1252" rx="124.3" ry="27.7" fill="#ff0500"/><ellipse cx="1787" cy="1252" rx="124.3" ry="27.7" fill="url(#s53)"/><ellipse cx="1787" cy="1250.3" rx="123.7" ry="27.4" fill="#ff0300"/><ellipse cx="1787" cy="1250.3" rx="123.7" ry="27.4" fill="url(#s54)"/><ellipse cx="1787" cy="1248.5" rx="123.1" ry="27.1" fill="#ff0200"/><ellipse cx="1787" cy="1248.5" rx="123.1" ry="27.1" fill="url(#s55)"/><ellipse cx="1787" cy="1246.8" rx="122.4" ry="26.8" fill="#f00"/><ellipse cx="1787" cy="1246.8" rx="122.4" ry="26.8" fill="url(#s57)"/><ellipse cx="1787" cy="1245.1" rx="121.7" ry="26.6" fill="#f00"/><ellipse cx="1787" cy="1245.1" rx="121.7" ry="26.6" fill="url(#s58)"/><ellipse cx="1787" cy="1243.4" rx="120.8" ry="26.2" fill="#f00"/><ellipse cx="1787" cy="1243.4" rx="120.8" ry="26.2" fill="url(#s60)"/><ellipse cx="1787" cy="1241.7" rx="119.9" ry="25.9" fill="#f00"/><ellipse cx="1787" cy="1241.7" rx="119.9" ry="25.9" fill="url(#s62)"/><ellipse cx="1787" cy="1239.9" rx="118.8" ry="25.6" fill="#f00"/><ellipse cx="1787" cy="1239.9" rx="118.8" ry="25.6" fill="url(#s63)"/><ellipse cx="1787" cy="1238.2" rx="117.6" ry="25.2" fill="#f00"/><ellipse cx="1787" cy="1238.2" rx="117.6" ry="25.2" fill="url(#s65)"/><ellipse cx="1787" cy="1236.5" rx="116.3" ry="24.8" fill="#f00"/><ellipse cx="1787" cy="1236.5" rx="116.3" ry="24.8" fill="url(#s67)"/><ellipse cx="1787" cy="1234.7" rx="114.9" ry="24.4" fill="#f00"/><ellipse cx="1787" cy="1234.7" rx="114.9" ry="24.4" fill="url(#s69)"/><ellipse cx="1787" cy="1233" rx="113.3" ry="23.9" fill="#f00"/><ellipse cx="1787" cy="1233" rx="113.3" ry="23.9" fill="url(#s72)"/><ellipse cx="1787" cy="1231.5" rx="111.7" ry="23.5" fill="#f00"/><ellipse cx="1787" cy="1231.5" rx="111.7" ry="23.5" fill="url(#s74)"/><ellipse cx="1787" cy="1230.1" rx="110" ry="23" fill="#f00"/><ellipse cx="1787" cy="1230.1" rx="110" ry="23" fill="url(#s76)"/><ellipse cx="1787" cy="1228.9" rx="108.4" ry="22.6" fill="#f00"/><ellipse cx="1787" cy="1228.9" rx="108.4" ry="22.6" fill="url(#s78)"/><ellipse cx="1787" cy="1227.7" rx="106.8" ry="22.2" fill="#f00"/><ellipse cx="1787" cy="1227.7" rx="106.8" ry="22.2" fill="url(#s79)"/><ellipse cx="1787" cy="1226.7" rx="105.2" ry="21.8" fill="#f00"/><ellipse cx="1787" cy="1226.7" rx="105.2" ry="21.8" fill="url(#s81)"/><ellipse cx="1787" cy="1225.7" rx="103.5" ry="21.4" fill="#f00"/><ellipse cx="1787" cy="1225.7" rx="103.5" ry="21.4" fill="url(#s83)"/><ellipse cx="1786.9" cy="1224.9" rx="101.8" ry="21" fill="#f00"/><ellipse cx="1786.9" cy="1224.9" rx="101.8" ry="21" fill="url(#s84)"/><ellipse cx="1786.9" cy="1224.1" rx="100.2" ry="20.6" fill="#f00"/><ellipse cx="1786.9" cy="1224.1" rx="100.2" ry="20.6" fill="url(#s86)"/><ellipse cx="1786.9" cy="1223.5" rx="98.5" ry="20.3" fill="#f00"/><ellipse cx="1786.9" cy="1223.5" rx="98.5" ry="20.3" fill="url(#s87)"/><ellipse cx="1786.9" cy="1222.8" rx="96.9" ry="19.9" fill="#f00"/><ellipse cx="1786.9" cy="1222.8" rx="96.9" ry="19.9" fill="url(#s89)"/><ellipse cx="1786.9" cy="1222.3" rx="95.2" ry="19.5" fill="#f00"/><ellipse cx="1786.9" cy="1222.3" rx="95.2" ry="19.5" fill="url(#s90)"/><ellipse cx="1786.9" cy="1221.8" rx="93.6" ry="19.2" fill="#f00"/><ellipse cx="1786.9" cy="1221.8" rx="93.6" ry="19.2" fill="url(#s91)"/><ellipse cx="1786.9" cy="1221.4" rx="91.9" ry="18.8" fill="#f00"/><ellipse cx="1786.9" cy="1221.4" rx="91.9" ry="18.8" fill="url(#s92)"/><ellipse cx="1786.9" cy="1221.1" rx="90.3" ry="18.5" fill="#f00"/><ellipse cx="1786.9" cy="1221.1" rx="90.3" ry="18.5" fill="url(#s93)"/><ellipse cx="1786.9" cy="1220.7" rx="88.7" ry="18.1" fill="#f00"/><ellipse cx="1786.9" cy="1220.7" rx="88.7" ry="18.1" fill="url(#s95)"/><ellipse cx="1786.9" cy="1220.5" rx="87" ry="17.8" fill="#f00"/><ellipse cx="1786.9" cy="1220.5" rx="87" ry="17.8" fill="url(#s96)"/><ellipse cx="1787" cy="1220.3" rx="85.4" ry="17.5" fill="#f00"/><ellipse cx="1787" cy="1220.3" rx="85.4" ry="17.5" fill="url(#s97)"/><ellipse cx="1787" cy="1220.1" rx="83.7" ry="17.1" fill="#f00"/><ellipse cx="1787" cy="1220.1" rx="83.7" ry="17.1" fill="url(#s97)"/><ellipse cx="1787" cy="1220" rx="82.1" ry="16.8" fill="#f00"/><ellipse cx="1787" cy="1220" rx="82.1" ry="16.8" fill="url(#s98)"/><ellipse cx="1787" cy="1219.9" rx="80.4" ry="16.4" fill="#f00"/><ellipse cx="1787" cy="1219.9" rx="80.4" ry="16.4" fill="url(#s99)"/><ellipse cx="1787" cy="1219.8" rx="79" ry="16.2" fill="#f00"/><ellipse cx="1787" cy="1219.8" rx="79" ry="16.2" fill="url(#s100)"/><clipPath id="c22"><ellipse cx="1787" cy="1219.8" rx="78.5" ry="15.7"/></clipPath><g clip-path="url(#c22)"><ellipse cx="1787" cy="1219.9" rx="76.8" ry="15.3" fill="#f00"/><ellipse cx="1787" cy="1219.9" rx="76.8" ry="15.3" fill="url(#s102)"/><ellipse cx="1787" cy="1220" rx="75.2" ry="15" fill="#f00"/><ellipse cx="1787" cy="1220" rx="75.2" ry="15" fill="url(#s104)"/><ellipse cx="1787" cy="1220.2" rx="73.5" ry="14.7" fill="#f00"/><ellipse cx="1787" cy="1220.2" rx="73.5" ry="14.7" fill="url(#s106)"/><ellipse cx="1787" cy="1220.5" rx="71.9" ry="14.4" fill="#f00"/><ellipse cx="1787" cy="1220.5" rx="71.9" ry="14.4" fill="url(#s108)"/><ellipse cx="1787" cy="1220.8" rx="70.3" ry="14.1" fill="#f00"/><ellipse cx="1787" cy="1220.8" rx="70.3" ry="14.1" fill="url(#s109)"/><ellipse cx="1787" cy="1221.3" rx="68.6" ry="13.7" fill="#f00"/><ellipse cx="1787" cy="1221.3" rx="68.6" ry="13.7" fill="url(#s110)"/><ellipse cx="1787" cy="1221.8" rx="66.9" ry="13.4" fill="#f00"/><ellipse cx="1787" cy="1221.8" rx="66.9" ry="13.4" fill="url(#s112)"/><ellipse cx="1787" cy="1222.3" rx="65.2" ry="13.1" fill="#f00"/><ellipse cx="1787" cy="1222.3" rx="65.2" ry="13.1" fill="url(#s113)"/><ellipse cx="1787" cy="1222.9" rx="63.5" ry="12.8" fill="#f00"/><ellipse cx="1787" cy="1222.9" rx="63.5" ry="12.8" fill="url(#s113)"/><ellipse cx="1787" cy="1223.5" rx="61.9" ry="12.5" fill="#f00"/><ellipse cx="1787" cy="1223.5" rx="61.9" ry="12.5" fill="url(#s114)"/><ellipse cx="1787" cy="1224.2" rx="60.2" ry="12.2" fill="#f00"/><ellipse cx="1787" cy="1224.2" rx="60.2" ry="12.2" fill="url(#s115)"/><ellipse cx="1787" cy="1224.9" rx="58.6" ry="11.9" fill="#f00"/><ellipse cx="1787" cy="1224.9" rx="58.6" ry="11.9" fill="url(#s116)"/><ellipse cx="1787" cy="1225.6" rx="57" ry="11.6" fill="#f00"/><ellipse cx="1787" cy="1225.6" rx="57" ry="11.6" fill="url(#s116)"/><ellipse cx="1787" cy="1226.4" rx="55.3" ry="11.3" fill="#f00"/><ellipse cx="1787" cy="1226.4" rx="55.3" ry="11.3" fill="url(#s117)"/><ellipse cx="1787" cy="1227.2" rx="53.6" ry="11" fill="#f00"/><ellipse cx="1787" cy="1227.2" rx="53.6" ry="11" fill="url(#s117)"/><ellipse cx="1787" cy="1228" rx="51.9" ry="10.6" fill="#f00"/><ellipse cx="1787" cy="1228" rx="51.9" ry="10.6" fill="url(#s117)"/><ellipse cx="1787" cy="1228.9" rx="50.3" ry="10.3" fill="#f00"/><ellipse cx="1787" cy="1228.9" rx="50.3" ry="10.3" fill="url(#s118)"/><ellipse cx="1787" cy="1229.7" rx="48.6" ry="10" fill="#f00"/><ellipse cx="1787" cy="1229.7" rx="48.6" ry="10" fill="url(#s118)"/><ellipse cx="1787" cy="1230.6" rx="46.9" ry="9.7" fill="#f00"/><ellipse cx="1787" cy="1230.6" rx="46.9" ry="9.7" fill="url(#s118)"/><ellipse cx="1787" cy="1231.5" rx="45.3" ry="9.4" fill="#f00"/><ellipse cx="1787" cy="1231.5" rx="45.3" ry="9.4" fill="url(#s119)"/><ellipse cx="1787" cy="1232.4" rx="43.6" ry="9.1" fill="#f00"/><ellipse cx="1787" cy="1232.4" rx="43.6" ry="9.1" fill="url(#s119)"/><ellipse cx="1787" cy="1233.3" rx="42" ry="8.7" fill="#f00"/><ellipse cx="1787" cy="1233.3" rx="42" ry="8.7" fill="url(#s119)"/><ellipse cx="1787" cy="1234.2" rx="40.4" ry="8.4" fill="#f00"/><ellipse cx="1787" cy="1234.2" rx="40.4" ry="8.4" fill="url(#s119)"/><ellipse cx="1787.1" cy="1235.2" rx="38.7" ry="8.1" fill="#f00"/><ellipse cx="1787.1" cy="1235.2" rx="38.7" ry="8.1" fill="url(#s119)"/><ellipse cx="1787.1" cy="1236.1" rx="37.1" ry="7.8" fill="#f00"/><ellipse cx="1787.1" cy="1236.1" rx="37.1" ry="7.8" fill="url(#s119)"/><ellipse cx="1787.1" cy="1237" rx="35.5" ry="7.5" fill="#f00"/><ellipse cx="1787.1" cy="1237" rx="35.5" ry="7.5" fill="url(#s120)"/><ellipse cx="1787.1" cy="1238" rx="33.9" ry="7.2" fill="#f00"/><ellipse cx="1787.1" cy="1238" rx="33.9" ry="7.2" fill="url(#s120)"/><ellipse cx="1787.1" cy="1238.9" rx="32.3" ry="6.8" fill="#f00"/><ellipse cx="1787.1" cy="1238.9" rx="32.3" ry="6.8" fill="url(#s120)"/><ellipse cx="1787.1" cy="1239.9" rx="30.6" ry="6.5" fill="#f00"/><ellipse cx="1787.1" cy="1239.9" rx="30.6" ry="6.5" fill="url(#s120)"/><ellipse cx="1787.1" cy="1240.8" rx="29" ry="6.2" fill="#f00"/><ellipse cx="1787.1" cy="1240.8" rx="29" ry="6.2" fill="url(#s120)"/><ellipse cx="1787.1" cy="1241.8" rx="27.4" ry="5.9" fill="#f00"/><ellipse cx="1787.1" cy="1241.8" rx="27.4" ry="5.9" fill="url(#s120)"/><ellipse cx="1787.1" cy="1242.8" rx="25.8" ry="5.5" fill="#f00"/><ellipse cx="1787.1" cy="1242.8" rx="25.8" ry="5.5" fill="url(#s120)"/><ellipse cx="1787.1" cy="1243.7" rx="24.2" ry="5.2" fill="#f00"/><ellipse cx="1787.1" cy="1243.7" rx="24.2" ry="5.2" fill="url(#s120)"/><ellipse cx="1787.1" cy="1244.7" rx="22.6" ry="4.9" fill="#f00"/><ellipse cx="1787.1" cy="1244.7" rx="22.6" ry="4.9" fill="url(#s120)"/><ellipse cx="1787.1" cy="1245.7" rx="21" ry="4.5" fill="#ff0100"/><ellipse cx="1787.1" cy="1245.7" rx="21" ry="4.5" fill="url(#s120)"/><ellipse cx="1787.1" cy="1246.6" rx="19.4" ry="4.2" fill="#ff0200"/><ellipse cx="1787.1" cy="1246.6" rx="19.4" ry="4.2" fill="url(#s120)"/><ellipse cx="1787.1" cy="1247.6" rx="17.8" ry="3.9" fill="#ff0300"/><ellipse cx="1787.1" cy="1247.6" rx="17.8" ry="3.9" fill="url(#s120)"/><ellipse cx="1787.1" cy="1248.6" rx="16.2" ry="3.5" fill="#ff0400"/><ellipse cx="1787.1" cy="1248.6" rx="16.2" ry="3.5" fill="url(#s120)"/><ellipse cx="1787.1" cy="1249.5" rx="14.6" ry="3.2" fill="#ff0500"/><ellipse cx="1787.1" cy="1249.5" rx="14.6" ry="3.2" fill="url(#s119)"/><ellipse cx="1787.1" cy="1250.4" rx="13" ry="2.8" fill="#ff0600"/><ellipse cx="1787.1" cy="1250.4" rx="13" ry="2.8" fill="url(#s119)"/><ellipse cx="1787.1" cy="1251.3" rx="11.4" ry="2.5" fill="#ff0600"/><ellipse cx="1787.1" cy="1251.3" rx="11.4" ry="2.5" fill="url(#s118)"/><ellipse cx="1787.1" cy="1252.1" rx="9.8" ry="2.2" fill="#ff0700"/><ellipse cx="1787.1" cy="1252.1" rx="9.8" ry="2.2" fill="url(#s117)"/><ellipse cx="1787.1" cy="1252.9" rx="8.2" ry="1.8" fill="#ff0800"/><ellipse cx="1787.1" cy="1252.9" rx="8.2" ry="1.8" fill="url(#s116)"/><ellipse cx="1787.1" cy="1253.6" rx="6.6" ry="1.5" fill="#ff0800"/><ellipse cx="1787.1" cy="1253.6" rx="6.6" ry="1.5" fill="url(#s114)"/><ellipse cx="1787.1" cy="1254.1" rx="4.9" ry="1.1" fill="#ff0900"/><ellipse cx="1787.1" cy="1254.1" rx="4.9" ry="1.1" fill="url(#s111)"/><ellipse cx="1787.1" cy="1254.6" rx="3.3" ry="0.7" fill="#ff0900"/><ellipse cx="1787.1" cy="1254.6" rx="3.3" ry="0.7" fill="url(#s108)"/><ellipse cx="1787.1" cy="1254.8" rx="1.6" ry="0.4" fill="#ff0a00"/><ellipse cx="1787.1" cy="1254.8" rx="1.6" ry="0.4" fill="url(#s104)"/><ellipse cx="1787.1" cy="1254.9" rx="0.1" ry="0" fill="#ff0a00"/><ellipse cx="1787.1" cy="1254.9" rx="0.1" ry="0" fill="url(#s100)"/></g></g></g><path d="M1534.1 1135.6L1547.2 1499.8M1547.2 1499.8L1808.6 1596.2M1808.6 1596.2L2022.8 1484.3M1547.2 1499.8l-4.7 1.8M1808.6 1596.2l-4.4 2.3M2022.8 1484.3l4.8 1.3M1544 1412.1l-4.8 1.5M1735.5 1569.2l-4.5 2.1M1976 1508.7l4.8 1.4M1540.8 1322.2l-4.8 1.3M1668 1544.3l-4.6 2M1925.1 1535.3l4.8 1.5M1537.5 1230l-4.9 1M1605.4 1521.3l-4.6 1.9M1869.5 1564.4l4.7 1.6M1534.1 1135.6l-4.9 0.7M1547.2 1499.8l-4.7 1.8M1808.6 1596.2l4.7 1.7M1999.8 1496.3l2.9 0.8M1951.1 1521.8l2.9 0.9M1897.9 1549.5l2.9 0.9M1839.8 1579.9l2.8 1" stroke="#444" stroke-width="1.7" fill="none" stroke-linecap="square"/><g><text transform="matrix(0.2309 -0.0354 0.01172 0.3162 1526 1148)" font-size="100" text-anchor="end" fill="#333" font-weight="normal">50</text><text transform="matrix(0.2276 -0.04834 0.01143 0.3084 1530 1243)" font-size="100" text-anchor="end" fill="#333" font-weight="normal">25</text><text transform="matrix(0.2243 -0.06063 0.01115 0.3009 1533 1335)" font-size="100" text-anchor="end" fill="#333" font-weight="normal">0</text><text transform="matrix(0.2211 -0.07232 0.01088 0.2937 1536 1425)" font-size="100" text-anchor="end" fill="#333" font-weight="normal">-25</text><text transform="matrix(0.2181 -0.08344 0.01062 0.2867 1540 1513)" font-size="100" text-anchor="end" fill="#333" font-weight="normal">-50</text><text transform="matrix(0.2092 -0.08533 0.1922 0.07165 1603 1528)" font-size="100" text-anchor="end" fill="#333" font-weight="normal">25</text><text transform="matrix(0.2083 -0.09193 0.2071 0.07724 1666 1551)" font-size="100" text-anchor="end" fill="#333" font-weight="normal">0</text><text transform="matrix(0.2066 -0.09932 0.224 0.08351 1734 1577)" font-size="100" text-anchor="end" fill="#333" font-weight="normal">-25</text><text transform="matrix(0.2095 -0.07943 0.1787 0.06665 1544 1506)" font-size="100" text-anchor="end" fill="#333" font-weight="normal">50</text><text transform="matrix(0.233 0.06487 -0.1464 0.07724 2025 1489)" font-size="100" text-anchor="start" fill="#333" font-weight="normal">-50</text><text transform="matrix(0.2373 0.07053 -0.159 0.08391 1978 1514)" font-size="100" text-anchor="start" fill="#333" font-weight="normal">-25</text><text transform="matrix(0.2416 0.07696 -0.1733 0.09148 1927 1541)" font-size="100" text-anchor="start" fill="#333" font-weight="normal">0</text><text transform="matrix(0.2455 0.0843 -0.1897 0.1001 1871 1571)" font-size="100" text-anchor="start" fill="#333" font-weight="normal">25</text><text transform="matrix(0.2492 0.09274 -0.2085 0.11 1809 1603)" font-size="100" text-anchor="start" fill="#333" font-weight="normal">50</text></g><text x="1535" y="1164.5" font-size="26.6" font-weight="bold">Young's modulus</text><text x="1898" y="1171" font-size="26.6" font-weight="bold">KNaTe</text><text x="1456" y="1347" font-size="33.5" font-weight="bold"><tspan font-style="italic">E</tspan>z</text><text x="1612.5" y="1599" font-size="33.5" font-weight="bold"><tspan font-style="italic">E</tspan>y</text><text x="1960" y="1576.7" font-size="33.5" font-weight="bold"><tspan font-style="italic">E</tspan>x</text></svg></body></html>
